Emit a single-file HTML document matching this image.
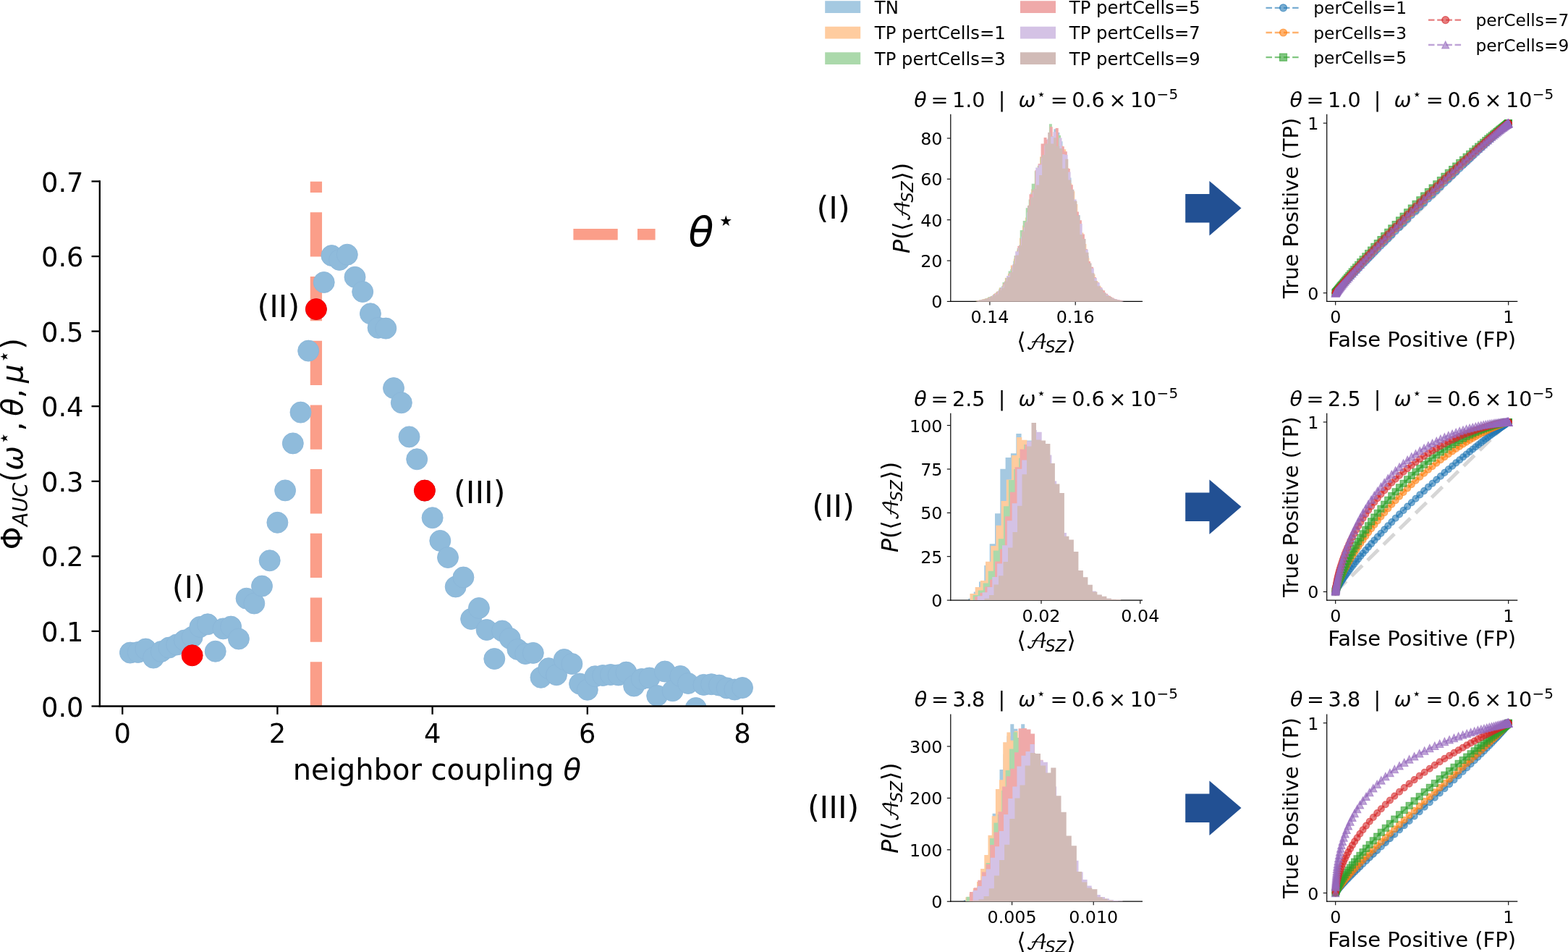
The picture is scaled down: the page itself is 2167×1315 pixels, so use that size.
<!DOCTYPE html><html><head><meta charset="utf-8"><title>fig</title><style>html,body{margin:0;padding:0;background:#fff;overflow:hidden}svg{display:block}</style></head><body><svg width="2167" height="1315" viewBox="0 0 2167 1315" version="1.1"><defs><style type="text/css">*{stroke-linejoin: round; stroke-linecap: butt}</style></defs><g id="figure_1"><g id="patch_1"><path d="M 0 1315  L 2167 1315  L 2167 0  L 0 0  z " style="fill: #ffffff"/></g><g id="axes_1"><g id="patch_2"><path d="M 137.8 975.5  L 1070 975.5  L 1070 250.5  L 137.8 250.5  z " style="fill: #ffffff"/></g><g id="line2d_1"><path d="M 436.9 975.5  L 436.9 250.5  " clip-path="url(#p37e4193a76)" style="fill: none; stroke-dasharray: 61.3,27.4; stroke-dashoffset: 0; stroke: #fb9e89; stroke-width: 16.3"/></g><g id="matplotlib.axis_1"><g id="xtick_1"><g id="line2d_2"><g><path d="M 169.2 975.5 L 169.2 986.8" style="stroke: #000000; stroke-width: 2.3"/></g></g><g id="text_1"><text style="font-size: 36.8px; font-family: 'DejaVu Sans', sans-serif; text-anchor: middle" x="169.2" y="1025.8" transform="rotate(-0 169.2 1025.8)">0</text></g></g><g id="xtick_2"><g id="line2d_3"><g><path d="M 383.4 975.5 L 383.4 986.8" style="stroke: #000000; stroke-width: 2.3"/></g></g><g id="text_2"><text style="font-size: 36.8px; font-family: 'DejaVu Sans', sans-serif; text-anchor: middle" x="383.4" y="1025.8" transform="rotate(-0 383.4 1025.8)">2</text></g></g><g id="xtick_3"><g id="line2d_4"><g><path d="M 597.6 975.5 L 597.6 986.8" style="stroke: #000000; stroke-width: 2.3"/></g></g><g id="text_3"><text style="font-size: 36.8px; font-family: 'DejaVu Sans', sans-serif; text-anchor: middle" x="597.6" y="1025.8" transform="rotate(-0 597.6 1025.8)">4</text></g></g><g id="xtick_4"><g id="line2d_5"><g><path d="M 811.8 975.5 L 811.8 986.8" style="stroke: #000000; stroke-width: 2.3"/></g></g><g id="text_4"><text style="font-size: 36.8px; font-family: 'DejaVu Sans', sans-serif; text-anchor: middle" x="811.8" y="1025.8" transform="rotate(-0 811.8 1025.8)">6</text></g></g><g id="xtick_5"><g id="line2d_6"><g><path d="M 1026 975.5 L 1026 986.8" style="stroke: #000000; stroke-width: 2.3"/></g></g><g id="text_5"><text style="font-size: 36.8px; font-family: 'DejaVu Sans', sans-serif; text-anchor: middle" x="1026" y="1025.8" transform="rotate(-0 1026 1025.8)">8</text></g></g><g id="text_6"><g transform="translate(404.7 1077.7)"><text><tspan x="0" y="-0.3" style="font-size: 40px; font-family: 'DejaVu Sans', sans-serif">n</tspan><tspan x="25.4" y="-0.3" style="font-size: 40px; font-family: 'DejaVu Sans', sans-serif">e</tspan><tspan x="50" y="-0.3" style="font-size: 40px; font-family: 'DejaVu Sans', sans-serif">i</tspan><tspan x="61.1" y="-0.3" style="font-size: 40px; font-family: 'DejaVu Sans', sans-serif">g</tspan><tspan x="86.5" y="-0.3" style="font-size: 40px; font-family: 'DejaVu Sans', sans-serif">h</tspan><tspan x="111.8" y="-0.3" style="font-size: 40px; font-family: 'DejaVu Sans', sans-serif">b</tspan><tspan x="137.2" y="-0.3" style="font-size: 40px; font-family: 'DejaVu Sans', sans-serif">o</tspan><tspan x="161.7" y="-0.3" style="font-size: 40px; font-family: 'DejaVu Sans', sans-serif">r</tspan><tspan x="178.1" y="-0.3" style="font-size: 40px; font-family: 'DejaVu Sans', sans-serif"></tspan><tspan x="190.8" y="-0.3" style="font-size: 40px; font-family: 'DejaVu Sans', sans-serif">c</tspan><tspan x="212.8" y="-0.3" style="font-size: 40px; font-family: 'DejaVu Sans', sans-serif">o</tspan><tspan x="237.3" y="-0.3" style="font-size: 40px; font-family: 'DejaVu Sans', sans-serif">u</tspan><tspan x="262.7" y="-0.3" style="font-size: 40px; font-family: 'DejaVu Sans', sans-serif">p</tspan><tspan x="288" y="-0.3" style="font-size: 40px; font-family: 'DejaVu Sans', sans-serif">l</tspan><tspan x="299.2" y="-0.3" style="font-size: 40px; font-family: 'DejaVu Sans', sans-serif">i</tspan><tspan x="310.3" y="-0.3" style="font-size: 40px; font-family: 'DejaVu Sans', sans-serif">n</tspan><tspan x="335.6" y="-0.3" style="font-size: 40px; font-family: 'DejaVu Sans', sans-serif">g</tspan><tspan x="361" y="-0.3" style="font-size: 40px; font-family: 'DejaVu Sans', sans-serif"></tspan><tspan x="373.7" y="-0.3" style="font-style: oblique; font-size: 40px; font-family: 'DejaVu Sans', sans-serif">θ</tspan></text></g></g></g><g id="matplotlib.axis_2"><g id="ytick_1"><g id="line2d_7"><g><path d="M 137.8 975.5 L 126.5 975.5" style="stroke: #000000; stroke-width: 2.3"/></g></g><g id="text_7"><text style="font-size: 36.8px; font-family: 'DejaVu Sans', sans-serif; text-anchor: end" x="115.5" y="989.5" transform="rotate(-0 115.5 989.5)">0.0</text></g></g><g id="ytick_2"><g id="line2d_8"><g><path d="M 137.8 871.9 L 126.5 871.9" style="stroke: #000000; stroke-width: 2.3"/></g></g><g id="text_8"><text style="font-size: 36.8px; font-family: 'DejaVu Sans', sans-serif; text-anchor: end" x="115.5" y="885.9" transform="rotate(-0 115.5 885.9)">0.1</text></g></g><g id="ytick_3"><g id="line2d_9"><g><path d="M 137.8 768.4 L 126.5 768.4" style="stroke: #000000; stroke-width: 2.3"/></g></g><g id="text_9"><text style="font-size: 36.8px; font-family: 'DejaVu Sans', sans-serif; text-anchor: end" x="115.5" y="782.3" transform="rotate(-0 115.5 782.3)">0.2</text></g></g><g id="ytick_4"><g id="line2d_10"><g><path d="M 137.8 664.8 L 126.5 664.8" style="stroke: #000000; stroke-width: 2.3"/></g></g><g id="text_10"><text style="font-size: 36.8px; font-family: 'DejaVu Sans', sans-serif; text-anchor: end" x="115.5" y="678.8" transform="rotate(-0 115.5 678.8)">0.3</text></g></g><g id="ytick_5"><g id="line2d_11"><g><path d="M 137.8 561.2 L 126.5 561.2" style="stroke: #000000; stroke-width: 2.3"/></g></g><g id="text_11"><text style="font-size: 36.8px; font-family: 'DejaVu Sans', sans-serif; text-anchor: end" x="115.5" y="575.2" transform="rotate(-0 115.5 575.2)">0.4</text></g></g><g id="ytick_6"><g id="line2d_12"><g><path d="M 137.8 457.6 L 126.5 457.6" style="stroke: #000000; stroke-width: 2.3"/></g></g><g id="text_12"><text style="font-size: 36.8px; font-family: 'DejaVu Sans', sans-serif; text-anchor: end" x="115.5" y="471.6" transform="rotate(-0 115.5 471.6)">0.5</text></g></g><g id="ytick_7"><g id="line2d_13"><g><path d="M 137.8 354.1 L 126.5 354.1" style="stroke: #000000; stroke-width: 2.3"/></g></g><g id="text_13"><text style="font-size: 36.8px; font-family: 'DejaVu Sans', sans-serif; text-anchor: end" x="115.5" y="368.1" transform="rotate(-0 115.5 368.1)">0.6</text></g></g><g id="ytick_8"><g id="line2d_14"><g><path d="M 137.8 250.5 L 126.5 250.5" style="stroke: #000000; stroke-width: 2.3"/></g></g><g id="text_14"><text style="font-size: 36.8px; font-family: 'DejaVu Sans', sans-serif; text-anchor: end" x="115.5" y="264.5" transform="rotate(-0 115.5 264.5)">0.7</text></g></g><g id="text_15"><g transform="translate(31.5 759.2) rotate(-90)"><text><tspan x="0" y="-0.5" style="font-size: 40.5px; font-family: 'DejaVu Sans', sans-serif">Φ</tspan><tspan x="93.3" y="-0.5" style="font-size: 40.5px; font-family: 'DejaVu Sans', sans-serif">(</tspan><tspan x="163.7" y="-0.5" style="font-size: 40.5px; font-family: 'DejaVu Sans', sans-serif">,</tspan><tspan x="209.3" y="-0.5" style="font-size: 40.5px; font-family: 'DejaVu Sans', sans-serif">,</tspan><tspan x="276.5" y="-0.5" style="font-size: 40.5px; font-family: 'DejaVu Sans', sans-serif">)</tspan><tspan x="32.3" y="6.2" style="font-style: oblique; font-size: 28.4px; font-family: 'DejaVu Sans', sans-serif">A</tspan><tspan x="51.7" y="6.2" style="font-style: oblique; font-size: 28.4px; font-family: 'DejaVu Sans', sans-serif">U</tspan><tspan x="72.4" y="6.2" style="font-style: oblique; font-size: 28.4px; font-family: 'DejaVu Sans', sans-serif">C</tspan><tspan x="109.1" y="-0.5" style="font-style: oblique; font-size: 40.5px; font-family: 'DejaVu Sans', sans-serif">ω</tspan><tspan x="184.5" y="-0.5" style="font-style: oblique; font-size: 40.5px; font-family: 'DejaVu Sans', sans-serif">θ</tspan><tspan x="230.1" y="-0.5" style="font-style: oblique; font-size: 40.5px; font-family: 'DejaVu Sans', sans-serif">μ</tspan><tspan x="144.9" y="-16.2" style="font-size: 28.4px; font-family: 'DejaVu Sans', sans-serif">⋆</tspan><tspan x="257.6" y="-16.2" style="font-size: 28.4px; font-family: 'DejaVu Sans', sans-serif">⋆</tspan></text></g></g></g><g id="PathCollection_1"><g clip-path="url(#p37e4193a76)"><circle cx="179.9" cy="901.6" r="14.5" style="fill: #8fbbdb; stroke: #8ab6d8; stroke-width: 0.9"/><circle cx="190.6" cy="901" r="14.5" style="fill: #8fbbdb; stroke: #8ab6d8; stroke-width: 0.9"/><circle cx="201.3" cy="896.5" r="14.5" style="fill: #8fbbdb; stroke: #8ab6d8; stroke-width: 0.9"/><circle cx="212" cy="908.6" r="14.5" style="fill: #8fbbdb; stroke: #8ab6d8; stroke-width: 0.9"/><circle cx="222.8" cy="900" r="14.5" style="fill: #8fbbdb; stroke: #8ab6d8; stroke-width: 0.9"/><circle cx="233.5" cy="894.6" r="14.5" style="fill: #8fbbdb; stroke: #8ab6d8; stroke-width: 0.9"/><circle cx="244.2" cy="890.5" r="14.5" style="fill: #8fbbdb; stroke: #8ab6d8; stroke-width: 0.9"/><circle cx="254.9" cy="884.5" r="14.5" style="fill: #8fbbdb; stroke: #8ab6d8; stroke-width: 0.9"/><circle cx="265.6" cy="880" r="14.5" style="fill: #8fbbdb; stroke: #8ab6d8; stroke-width: 0.9"/><circle cx="276.3" cy="866" r="14.5" style="fill: #8fbbdb; stroke: #8ab6d8; stroke-width: 0.9"/><circle cx="287" cy="862.3" r="14.5" style="fill: #8fbbdb; stroke: #8ab6d8; stroke-width: 0.9"/><circle cx="297.7" cy="899.7" r="14.5" style="fill: #8fbbdb; stroke: #8ab6d8; stroke-width: 0.9"/><circle cx="308.4" cy="868.4" r="14.5" style="fill: #8fbbdb; stroke: #8ab6d8; stroke-width: 0.9"/><circle cx="319.1" cy="865.6" r="14.5" style="fill: #8fbbdb; stroke: #8ab6d8; stroke-width: 0.9"/><circle cx="329.9" cy="882.5" r="14.5" style="fill: #8fbbdb; stroke: #8ab6d8; stroke-width: 0.9"/><circle cx="340.6" cy="826.7" r="14.5" style="fill: #8fbbdb; stroke: #8ab6d8; stroke-width: 0.9"/><circle cx="351.3" cy="833.5" r="14.5" style="fill: #8fbbdb; stroke: #8ab6d8; stroke-width: 0.9"/><circle cx="362" cy="809.6" r="14.5" style="fill: #8fbbdb; stroke: #8ab6d8; stroke-width: 0.9"/><circle cx="372.7" cy="774.3" r="14.5" style="fill: #8fbbdb; stroke: #8ab6d8; stroke-width: 0.9"/><circle cx="383.4" cy="721.8" r="14.5" style="fill: #8fbbdb; stroke: #8ab6d8; stroke-width: 0.9"/><circle cx="394.1" cy="677.4" r="14.5" style="fill: #8fbbdb; stroke: #8ab6d8; stroke-width: 0.9"/><circle cx="404.8" cy="612.4" r="14.5" style="fill: #8fbbdb; stroke: #8ab6d8; stroke-width: 0.9"/><circle cx="415.5" cy="569.6" r="14.5" style="fill: #8fbbdb; stroke: #8ab6d8; stroke-width: 0.9"/><circle cx="426.2" cy="484.6" r="14.5" style="fill: #8fbbdb; stroke: #8ab6d8; stroke-width: 0.9"/><circle cx="436.9" cy="427.1" r="14.5" style="fill: #8fbbdb; stroke: #8ab6d8; stroke-width: 0.9"/><circle cx="447.7" cy="390" r="14.5" style="fill: #8fbbdb; stroke: #8ab6d8; stroke-width: 0.9"/><circle cx="458.4" cy="353.1" r="14.5" style="fill: #8fbbdb; stroke: #8ab6d8; stroke-width: 0.9"/><circle cx="469.1" cy="358.9" r="14.5" style="fill: #8fbbdb; stroke: #8ab6d8; stroke-width: 0.9"/><circle cx="479.8" cy="351.7" r="14.5" style="fill: #8fbbdb; stroke: #8ab6d8; stroke-width: 0.9"/><circle cx="490.5" cy="382.8" r="14.5" style="fill: #8fbbdb; stroke: #8ab6d8; stroke-width: 0.9"/><circle cx="501.2" cy="403" r="14.5" style="fill: #8fbbdb; stroke: #8ab6d8; stroke-width: 0.9"/><circle cx="511.9" cy="433.3" r="14.5" style="fill: #8fbbdb; stroke: #8ab6d8; stroke-width: 0.9"/><circle cx="522.6" cy="452.8" r="14.5" style="fill: #8fbbdb; stroke: #8ab6d8; stroke-width: 0.9"/><circle cx="533.3" cy="453.6" r="14.5" style="fill: #8fbbdb; stroke: #8ab6d8; stroke-width: 0.9"/><circle cx="544" cy="536.1" r="14.5" style="fill: #8fbbdb; stroke: #8ab6d8; stroke-width: 0.9"/><circle cx="554.8" cy="556.3" r="14.5" style="fill: #8fbbdb; stroke: #8ab6d8; stroke-width: 0.9"/><circle cx="565.5" cy="603.4" r="14.5" style="fill: #8fbbdb; stroke: #8ab6d8; stroke-width: 0.9"/><circle cx="576.2" cy="634.3" r="14.5" style="fill: #8fbbdb; stroke: #8ab6d8; stroke-width: 0.9"/><circle cx="586.9" cy="677.6" r="14.5" style="fill: #8fbbdb; stroke: #8ab6d8; stroke-width: 0.9"/><circle cx="597.6" cy="715.2" r="14.5" style="fill: #8fbbdb; stroke: #8ab6d8; stroke-width: 0.9"/><circle cx="608.3" cy="746.9" r="14.5" style="fill: #8fbbdb; stroke: #8ab6d8; stroke-width: 0.9"/><circle cx="619" cy="770" r="14.5" style="fill: #8fbbdb; stroke: #8ab6d8; stroke-width: 0.9"/><circle cx="629.7" cy="810.5" r="14.5" style="fill: #8fbbdb; stroke: #8ab6d8; stroke-width: 0.9"/><circle cx="640.4" cy="797.5" r="14.5" style="fill: #8fbbdb; stroke: #8ab6d8; stroke-width: 0.9"/><circle cx="651.1" cy="855" r="14.5" style="fill: #8fbbdb; stroke: #8ab6d8; stroke-width: 0.9"/><circle cx="661.9" cy="840" r="14.5" style="fill: #8fbbdb; stroke: #8ab6d8; stroke-width: 0.9"/><circle cx="672.6" cy="870" r="14.5" style="fill: #8fbbdb; stroke: #8ab6d8; stroke-width: 0.9"/><circle cx="683.3" cy="910" r="14.5" style="fill: #8fbbdb; stroke: #8ab6d8; stroke-width: 0.9"/><circle cx="694" cy="871.5" r="14.5" style="fill: #8fbbdb; stroke: #8ab6d8; stroke-width: 0.9"/><circle cx="704.7" cy="881.8" r="14.5" style="fill: #8fbbdb; stroke: #8ab6d8; stroke-width: 0.9"/><circle cx="715.4" cy="897" r="14.5" style="fill: #8fbbdb; stroke: #8ab6d8; stroke-width: 0.9"/><circle cx="726.1" cy="903" r="14.5" style="fill: #8fbbdb; stroke: #8ab6d8; stroke-width: 0.9"/><circle cx="736.8" cy="901.9" r="14.5" style="fill: #8fbbdb; stroke: #8ab6d8; stroke-width: 0.9"/><circle cx="747.5" cy="935.8" r="14.5" style="fill: #8fbbdb; stroke: #8ab6d8; stroke-width: 0.9"/><circle cx="758.2" cy="923.2" r="14.5" style="fill: #8fbbdb; stroke: #8ab6d8; stroke-width: 0.9"/><circle cx="769" cy="932.2" r="14.5" style="fill: #8fbbdb; stroke: #8ab6d8; stroke-width: 0.9"/><circle cx="779.7" cy="911" r="14.5" style="fill: #8fbbdb; stroke: #8ab6d8; stroke-width: 0.9"/><circle cx="790.4" cy="917" r="14.5" style="fill: #8fbbdb; stroke: #8ab6d8; stroke-width: 0.9"/><circle cx="801.1" cy="944.5" r="14.5" style="fill: #8fbbdb; stroke: #8ab6d8; stroke-width: 0.9"/><circle cx="811.8" cy="952.8" r="14.5" style="fill: #8fbbdb; stroke: #8ab6d8; stroke-width: 0.9"/><circle cx="822.5" cy="934.2" r="14.5" style="fill: #8fbbdb; stroke: #8ab6d8; stroke-width: 0.9"/><circle cx="833.2" cy="933" r="14.5" style="fill: #8fbbdb; stroke: #8ab6d8; stroke-width: 0.9"/><circle cx="843.9" cy="932" r="14.5" style="fill: #8fbbdb; stroke: #8ab6d8; stroke-width: 0.9"/><circle cx="854.6" cy="932.4" r="14.5" style="fill: #8fbbdb; stroke: #8ab6d8; stroke-width: 0.9"/><circle cx="865.4" cy="928.6" r="14.5" style="fill: #8fbbdb; stroke: #8ab6d8; stroke-width: 0.9"/><circle cx="876.1" cy="947.5" r="14.5" style="fill: #8fbbdb; stroke: #8ab6d8; stroke-width: 0.9"/><circle cx="886.8" cy="938" r="14.5" style="fill: #8fbbdb; stroke: #8ab6d8; stroke-width: 0.9"/><circle cx="897.5" cy="936.5" r="14.5" style="fill: #8fbbdb; stroke: #8ab6d8; stroke-width: 0.9"/><circle cx="908.2" cy="961" r="14.5" style="fill: #8fbbdb; stroke: #8ab6d8; stroke-width: 0.9"/><circle cx="918.9" cy="927.5" r="14.5" style="fill: #8fbbdb; stroke: #8ab6d8; stroke-width: 0.9"/><circle cx="929.6" cy="954.2" r="14.5" style="fill: #8fbbdb; stroke: #8ab6d8; stroke-width: 0.9"/><circle cx="940.3" cy="934" r="14.5" style="fill: #8fbbdb; stroke: #8ab6d8; stroke-width: 0.9"/><circle cx="951" cy="943.9" r="14.5" style="fill: #8fbbdb; stroke: #8ab6d8; stroke-width: 0.9"/><circle cx="961.7" cy="978" r="14.5" style="fill: #8fbbdb; stroke: #8ab6d8; stroke-width: 0.9"/><circle cx="972.5" cy="945.9" r="14.5" style="fill: #8fbbdb; stroke: #8ab6d8; stroke-width: 0.9"/><circle cx="983.2" cy="945.2" r="14.5" style="fill: #8fbbdb; stroke: #8ab6d8; stroke-width: 0.9"/><circle cx="993.9" cy="946.6" r="14.5" style="fill: #8fbbdb; stroke: #8ab6d8; stroke-width: 0.9"/><circle cx="1004.6" cy="950.4" r="14.5" style="fill: #8fbbdb; stroke: #8ab6d8; stroke-width: 0.9"/><circle cx="1015.3" cy="952.5" r="14.5" style="fill: #8fbbdb; stroke: #8ab6d8; stroke-width: 0.9"/><circle cx="1026" cy="950" r="14.5" style="fill: #8fbbdb; stroke: #8ab6d8; stroke-width: 0.9"/></g></g><g id="patch_3"><path d="M 137.8 975.5  L 137.8 250.5  " style="fill: none; stroke: #000000; stroke-width: 2.3; stroke-linejoin: miter; stroke-linecap: square"/></g><g id="patch_4"><path d="M 137.8 975.5  L 1070 975.5  " style="fill: none; stroke: #000000; stroke-width: 2.3; stroke-linejoin: miter; stroke-linecap: square"/></g><g id="PathCollection_2"><g clip-path="url(#p37e4193a76)"><circle cx="265.6" cy="905.3" r="14.5" style="fill: #ff0000; stroke: #f00000"/><circle cx="436.9" cy="427.1" r="14.5" style="fill: #ff0000; stroke: #f00000"/><circle cx="586.9" cy="677.6" r="14.5" style="fill: #ff0000; stroke: #f00000"/></g></g></g><g id="axes_2"><g id="patch_5"><path d="M 1313.8 416.4  L 1578.4 416.4  L 1578.4 158.4  L 1313.8 158.4  z " style="fill: #ffffff"/></g><g id="matplotlib.axis_3"><g id="xtick_6"><g id="line2d_15"><g><path d="M 1367.9 416.4 L 1367.9 421.4" style="stroke: #000000; stroke-width: 1.1"/></g></g><g id="text_16"><text style="font-size: 23.8px; font-family: 'DejaVu Sans', sans-serif; text-anchor: middle" x="1367.9" y="445.8" transform="rotate(-0 1367.9 445.8)">0.14</text></g></g><g id="xtick_7"><g id="line2d_16"><g><path d="M 1486.2 416.4 L 1486.2 421.4" style="stroke: #000000; stroke-width: 1.1"/></g></g><g id="text_17"><text style="font-size: 23.8px; font-family: 'DejaVu Sans', sans-serif; text-anchor: middle" x="1486.2" y="445.8" transform="rotate(-0 1486.2 445.8)">0.16</text></g></g><g id="text_18"><g transform="translate(1405.2 482.7)"><text><tspan x="0" y="-0.7" style="font-size: 31.5px; font-family: 'DejaVu Sans', sans-serif">⟨</tspan><tspan x="69.4" y="-0.7" style="font-size: 31.5px; font-family: 'DejaVu Sans', sans-serif">⟩</tspan><tspan x="12.3" y="-0.7" style="font-size: 28.5px; font-family: 'DejaVu Math TeX Gyre', serif">&#x1D49C;</tspan><tspan x="39.4" y="4.5" style="font-style: oblique; font-size: 22.1px; font-family: 'DejaVu Sans', sans-serif">S</tspan><tspan x="53.4" y="4.5" style="font-style: oblique; font-size: 22.1px; font-family: 'DejaVu Sans', sans-serif">Z</tspan></text></g></g></g><g id="matplotlib.axis_4"><g id="ytick_9"><g id="line2d_17"><g><path d="M 1313.8 416.4 L 1308.8 416.4" style="stroke: #000000; stroke-width: 1.1"/></g></g><g id="text_19"><text style="font-size: 23.8px; font-family: 'DejaVu Sans', sans-serif; text-anchor: end" x="1302.5" y="425.4" transform="rotate(-0 1302.5 425.4)">0</text></g></g><g id="ytick_10"><g id="line2d_18"><g><path d="M 1313.8 360.1 L 1308.8 360.1" style="stroke: #000000; stroke-width: 1.1"/></g></g><g id="text_20"><text style="font-size: 23.8px; font-family: 'DejaVu Sans', sans-serif; text-anchor: end" x="1302.5" y="369.1" transform="rotate(-0 1302.5 369.1)">20</text></g></g><g id="ytick_11"><g id="line2d_19"><g><path d="M 1313.8 303.7 L 1308.8 303.7" style="stroke: #000000; stroke-width: 1.1"/></g></g><g id="text_21"><text style="font-size: 23.8px; font-family: 'DejaVu Sans', sans-serif; text-anchor: end" x="1302.5" y="312.7" transform="rotate(-0 1302.5 312.7)">40</text></g></g><g id="ytick_12"><g id="line2d_20"><g><path d="M 1313.8 247.3 L 1308.8 247.3" style="stroke: #000000; stroke-width: 1.1"/></g></g><g id="text_22"><text style="font-size: 23.8px; font-family: 'DejaVu Sans', sans-serif; text-anchor: end" x="1302.5" y="256.4" transform="rotate(-0 1302.5 256.4)">60</text></g></g><g id="ytick_13"><g id="line2d_21"><g><path d="M 1313.8 191 L 1308.8 191" style="stroke: #000000; stroke-width: 1.1"/></g></g><g id="text_23"><text style="font-size: 23.8px; font-family: 'DejaVu Sans', sans-serif; text-anchor: end" x="1302.5" y="200" transform="rotate(-0 1302.5 200)">80</text></g></g><g id="text_24"><g transform="translate(1257.2 350.1) rotate(-90)"><text><tspan x="0" y="-0.7" style="font-style: oblique; font-size: 31.5px; font-family: 'DejaVu Sans', sans-serif">P</tspan><tspan x="19" y="-0.7" style="font-size: 31.5px; font-family: 'DejaVu Sans', sans-serif">(</tspan><tspan x="31.3" y="-0.7" style="font-size: 31.5px; font-family: 'DejaVu Sans', sans-serif">⟨</tspan><tspan x="100.7" y="-0.7" style="font-size: 31.5px; font-family: 'DejaVu Sans', sans-serif">⟩</tspan><tspan x="113" y="-0.7" style="font-size: 31.5px; font-family: 'DejaVu Sans', sans-serif">)</tspan><tspan x="43.6" y="-0.7" style="font-size: 28.5px; font-family: 'DejaVu Math TeX Gyre', serif">&#x1D49C;</tspan><tspan x="70.7" y="4.5" style="font-style: oblique; font-size: 22.1px; font-family: 'DejaVu Sans', sans-serif">S</tspan><tspan x="84.7" y="4.5" style="font-style: oblique; font-size: 22.1px; font-family: 'DejaVu Sans', sans-serif">Z</tspan></text></g></g></g><g id="patch_6"><path d="M 1347.8 416.4  L 1347.8 415.4  L 1351.8 415.4  L 1351.8 414.9  L 1355.8 414.9  L 1355.8 414.2  L 1359.9 414.2  L 1359.9 413.1  L 1363.9 413.1  L 1363.9 411.8  L 1367.9 411.8  L 1367.9 409.8  L 1371.9 409.8  L 1371.9 407  L 1375.9 407  L 1375.9 403.7  L 1380 403.7  L 1380 399.6  L 1384 399.6  L 1384 395.2  L 1388 395.2  L 1388 389.3  L 1392 389.3  L 1392 381.8  L 1396.1 381.8  L 1396.1 371.9  L 1400.1 371.9  L 1400.1 360.5  L 1404.1 360.5  L 1404.1 351  L 1408.1 351  L 1408.1 338.4  L 1412.1 338.4  L 1412.1 317.7  L 1416.2 317.7  L 1416.2 312.3  L 1420.2 312.3  L 1420.2 287.1  L 1424.2 287.1  L 1424.2 266.1  L 1428.2 266.1  L 1428.2 259.4  L 1432.3 259.4  L 1432.3 245.2  L 1436.3 245.2  L 1436.3 228.4  L 1440.3 228.4  L 1440.3 203.2  L 1444.3 203.2  L 1444.3 200.6  L 1448.3 200.6  L 1448.3 211.2  L 1452.4 211.2  L 1452.4 193.1  L 1456.4 193.1  L 1456.4 178.2  L 1460.4 178.2  L 1460.4 183  L 1464.4 183  L 1464.4 195.3  L 1468.5 195.3  L 1468.5 215.9  L 1472.5 215.9  L 1472.5 244.7  L 1476.5 244.7  L 1476.5 245.5  L 1480.5 245.5  L 1480.5 267.1  L 1484.5 267.1  L 1484.5 285  L 1488.6 285  L 1488.6 297  L 1492.6 297  L 1492.6 322.3  L 1496.6 322.3  L 1496.6 339  L 1500.6 339  L 1500.6 353.4  L 1504.7 353.4  L 1504.7 368.7  L 1508.7 368.7  L 1508.7 380.3  L 1512.7 380.3  L 1512.7 389.2  L 1516.7 389.2  L 1516.7 394.8  L 1520.7 394.8  L 1520.7 400.9  L 1524.8 400.9  L 1524.8 405.9  L 1528.8 405.9  L 1528.8 408.5  L 1532.8 408.5  L 1532.8 411.2  L 1536.8 411.2  L 1536.8 413.2  L 1540.9 413.2  L 1540.9 414.1  L 1544.9 414.1  L 1544.9 415  L 1548.9 415  L 1548.9 416.4  z " clip-path="url(#pd0149c3144)" style="fill: #a5c9e1"/></g><g id="patch_7"><path d="M 1313.8 416.4  L 1313.8 158.4  " style="fill: none; stroke: #000000; stroke-width: 1.2; stroke-linejoin: miter; stroke-linecap: square"/></g><g id="patch_8"><path d="M 1313.8 416.4  L 1578.4 416.4  " style="fill: none; stroke: #000000; stroke-width: 1.2; stroke-linejoin: miter; stroke-linecap: square"/></g><g id="patch_9"><path d="M 1348.6 416.4  L 1348.6 415.1  L 1352.6 415.1  L 1352.6 414.4  L 1356.6 414.4  L 1356.6 413.5  L 1360.6 413.5  L 1360.6 412.6  L 1364.6 412.6  L 1364.6 411  L 1368.7 411  L 1368.7 409.1  L 1372.7 409.1  L 1372.7 405.9  L 1376.7 405.9  L 1376.7 402.7  L 1380.7 402.7  L 1380.7 397.6  L 1384.8 397.6  L 1384.8 394.6  L 1388.8 394.6  L 1388.8 383.7  L 1392.8 383.7  L 1392.8 377.9  L 1396.8 377.9  L 1396.8 366.6  L 1400.8 366.6  L 1400.8 357.4  L 1404.9 357.4  L 1404.9 345.7  L 1408.9 345.7  L 1408.9 328.7  L 1412.9 328.7  L 1412.9 311.6  L 1416.9 311.6  L 1416.9 300.4  L 1421 300.4  L 1421 283.6  L 1425 283.6  L 1425 261.3  L 1429 261.3  L 1429 256  L 1433 256  L 1433 246.4  L 1437 246.4  L 1437 216.5  L 1441.1 216.5  L 1441.1 214.3  L 1445.1 214.3  L 1445.1 217.4  L 1449.1 217.4  L 1449.1 200.2  L 1453.1 200.2  L 1453.1 193.4  L 1457.2 193.4  L 1457.2 200.9  L 1461.2 200.9  L 1461.2 208.2  L 1465.2 208.2  L 1465.2 201.5  L 1469.2 201.5  L 1469.2 206.2  L 1473.2 206.2  L 1473.2 231.9  L 1477.3 231.9  L 1477.3 253.3  L 1481.3 253.3  L 1481.3 264.2  L 1485.3 264.2  L 1485.3 282.1  L 1489.3 282.1  L 1489.3 307.1  L 1493.4 307.1  L 1493.4 321.6  L 1497.4 321.6  L 1497.4 337.1  L 1501.4 337.1  L 1501.4 356.2  L 1505.4 356.2  L 1505.4 370.4  L 1509.4 370.4  L 1509.4 379  L 1513.5 379  L 1513.5 388.3  L 1517.5 388.3  L 1517.5 394.8  L 1521.5 394.8  L 1521.5 402.3  L 1525.5 402.3  L 1525.5 406.1  L 1529.6 406.1  L 1529.6 409.3  L 1533.6 409.3  L 1533.6 411.7  L 1537.6 411.7  L 1537.6 413  L 1541.6 413  L 1541.6 414.1  L 1545.6 414.1  L 1545.6 415  L 1549.7 415  L 1549.7 416.4  z " clip-path="url(#pd0149c3144)" style="fill: #ffcc9f"/></g><g id="text_25"><g transform="translate(1263.3 147.8)"><text><tspan x="0" y="-0.1" style="font-style: oblique; font-size: 28.6px; font-family: 'DejaVu Sans', sans-serif">θ</tspan><tspan x="144.2" y="-0.1" style="font-style: oblique; font-size: 28.6px; font-family: 'DejaVu Sans', sans-serif">ω</tspan><tspan x="23.1" y="-0.1" style="font-size: 28.6px; font-family: 'DejaVu Sans', sans-serif">=</tspan><tspan x="52.7" y="-0.1" style="font-size: 28.6px; font-family: 'DejaVu Sans', sans-serif">1</tspan><tspan x="70.9" y="-0.1" style="font-size: 28.6px; font-family: 'DejaVu Sans', sans-serif">.</tspan><tspan x="80" y="-0.1" style="font-size: 28.6px; font-family: 'DejaVu Sans', sans-serif">0</tspan><tspan x="98.2" y="-0.1" style="font-size: 28.6px; font-family: 'DejaVu Sans', sans-serif"></tspan><tspan x="107.3" y="-0.1" style="font-size: 28.6px; font-family: 'DejaVu Sans', sans-serif"></tspan><tspan x="116.4" y="-0.1" style="font-size: 28.6px; font-family: 'DejaVu Sans', sans-serif">|</tspan><tspan x="126" y="-0.1" style="font-size: 28.6px; font-family: 'DejaVu Sans', sans-serif"></tspan><tspan x="135.1" y="-0.1" style="font-size: 28.6px; font-family: 'DejaVu Sans', sans-serif"></tspan><tspan x="188.4" y="-0.1" style="font-size: 28.6px; font-family: 'DejaVu Sans', sans-serif">=</tspan><tspan x="218" y="-0.1" style="font-size: 28.6px; font-family: 'DejaVu Sans', sans-serif">0</tspan><tspan x="236.2" y="-0.1" style="font-size: 28.6px; font-family: 'DejaVu Sans', sans-serif">.</tspan><tspan x="245.3" y="-0.1" style="font-size: 28.6px; font-family: 'DejaVu Sans', sans-serif">6</tspan><tspan x="269.1" y="-0.1" style="font-size: 28.6px; font-family: 'DejaVu Sans', sans-serif">×</tspan><tspan x="298.6" y="-0.1" style="font-size: 28.6px; font-family: 'DejaVu Sans', sans-serif">1</tspan><tspan x="316.8" y="-0.1" style="font-size: 28.6px; font-family: 'DejaVu Sans', sans-serif">0</tspan><tspan x="169.5" y="-11.2" style="font-size: 20px; font-family: 'DejaVu Sans', sans-serif">⋆</tspan><tspan x="335.3" y="-11.2" style="font-size: 20px; font-family: 'DejaVu Sans', sans-serif">−</tspan><tspan x="352.1" y="-11.2" style="font-size: 20px; font-family: 'DejaVu Sans', sans-serif">5</tspan></text></g></g><g id="patch_10"><path d="M 1349.3 416.4  L 1349.3 415.1  L 1353.3 415.1  L 1353.3 414.4  L 1357.4 414.4  L 1357.4 413.5  L 1361.4 413.5  L 1361.4 412.3  L 1365.4 412.3  L 1365.4 410.3  L 1369.4 410.3  L 1369.4 409  L 1373.5 409  L 1373.5 405.9  L 1377.5 405.9  L 1377.5 402.8  L 1381.5 402.8  L 1381.5 397.2  L 1385.5 397.2  L 1385.5 390.1  L 1389.5 390.1  L 1389.5 384  L 1393.6 384  L 1393.6 374.4  L 1397.6 374.4  L 1397.6 369.5  L 1401.6 369.5  L 1401.6 352.9  L 1405.6 352.9  L 1405.6 343.1  L 1409.7 343.1  L 1409.7 317.9  L 1413.7 317.9  L 1413.7 305  L 1417.7 305  L 1417.7 287.2  L 1421.7 287.2  L 1421.7 275.6  L 1425.7 275.6  L 1425.7 253.7  L 1429.8 253.7  L 1429.8 236.2  L 1433.8 236.2  L 1433.8 228.9  L 1437.8 228.9  L 1437.8 216.9  L 1441.8 216.9  L 1441.8 202.1  L 1445.9 202.1  L 1445.9 198.6  L 1449.9 198.6  L 1449.9 171.3  L 1453.9 171.3  L 1453.9 188.3  L 1457.9 188.3  L 1457.9 195.1  L 1461.9 195.1  L 1461.9 186.9  L 1466 186.9  L 1466 220.9  L 1470 220.9  L 1470 213.2  L 1474 213.2  L 1474 243  L 1478 243  L 1478 261.2  L 1482.1 261.2  L 1482.1 285.9  L 1486.1 285.9  L 1486.1 298.3  L 1490.1 298.3  L 1490.1 318  L 1494.1 318  L 1494.1 334.1  L 1498.1 334.1  L 1498.1 352.4  L 1502.2 352.4  L 1502.2 364.6  L 1506.2 364.6  L 1506.2 373.4  L 1510.2 373.4  L 1510.2 385.9  L 1514.2 385.9  L 1514.2 394.8  L 1518.3 394.8  L 1518.3 399.7  L 1522.3 399.7  L 1522.3 405.1  L 1526.3 405.1  L 1526.3 408.3  L 1530.3 408.3  L 1530.3 410.9  L 1534.3 410.9  L 1534.3 412.9  L 1538.4 412.9  L 1538.4 414.3  L 1542.4 414.3  L 1542.4 414.9  L 1546.4 414.9  L 1546.4 415.5  L 1550.4 415.5  L 1550.4 416.4  z " clip-path="url(#pd0149c3144)" style="fill: #abd9ab"/></g><g id="patch_11"><path d="M 1350.1 416.4  L 1350.1 415.1  L 1354.1 415.1  L 1354.1 414.8  L 1358.1 414.8  L 1358.1 413.6  L 1362.2 413.6  L 1362.2 412.6  L 1366.2 412.6  L 1366.2 410.7  L 1370.2 410.7  L 1370.2 408.8  L 1374.2 408.8  L 1374.2 405.2  L 1378.3 405.2  L 1378.3 402.5  L 1382.3 402.5  L 1382.3 398.3  L 1386.3 398.3  L 1386.3 391.6  L 1390.3 391.6  L 1390.3 384.6  L 1394.3 384.6  L 1394.3 377.4  L 1398.4 377.4  L 1398.4 367.4  L 1402.4 367.4  L 1402.4 353.3  L 1406.4 353.3  L 1406.4 340  L 1410.4 340  L 1410.4 329.9  L 1414.5 329.9  L 1414.5 314  L 1418.5 314  L 1418.5 305.6  L 1422.5 305.6  L 1422.5 268.3  L 1426.5 268.3  L 1426.5 263.3  L 1430.5 263.3  L 1430.5 234.9  L 1434.6 234.9  L 1434.6 226.3  L 1438.6 226.3  L 1438.6 198.6  L 1442.6 198.6  L 1442.6 190  L 1446.6 190  L 1446.6 192.8  L 1450.7 192.8  L 1450.7 175.3  L 1454.7 175.3  L 1454.7 198  L 1458.7 198  L 1458.7 177  L 1462.7 177  L 1462.7 210.4  L 1466.7 210.4  L 1466.7 202.3  L 1470.8 202.3  L 1470.8 209.3  L 1474.8 209.3  L 1474.8 232.9  L 1478.8 232.9  L 1478.8 255.3  L 1482.8 255.3  L 1482.8 276.7  L 1486.9 276.7  L 1486.9 292.6  L 1490.9 292.6  L 1490.9 304.3  L 1494.9 304.3  L 1494.9 323.5  L 1498.9 323.5  L 1498.9 344.1  L 1502.9 344.1  L 1502.9 360.9  L 1507 360.9  L 1507 368.7  L 1511 368.7  L 1511 382.9  L 1515 382.9  L 1515 389.9  L 1519 389.9  L 1519 396.9  L 1523.1 396.9  L 1523.1 401.2  L 1527.1 401.2  L 1527.1 405.7  L 1531.1 405.7  L 1531.1 408.8  L 1535.1 408.8  L 1535.1 411.2  L 1539.1 411.2  L 1539.1 413.1  L 1543.2 413.1  L 1543.2 414.1  L 1547.2 414.1  L 1547.2 414.8  L 1551.2 414.8  L 1551.2 416.4  z " clip-path="url(#pd0149c3144)" style="fill: #efa9a9"/></g><g id="patch_12"><path d="M 1350.9 416.4  L 1350.9 415.1  L 1354.9 415.1  L 1354.9 414.6  L 1358.9 414.6  L 1358.9 413.9  L 1362.9 413.9  L 1362.9 413  L 1367 413  L 1367 411  L 1371 411  L 1371 408.3  L 1375 408.3  L 1375 405.9  L 1379 405.9  L 1379 402  L 1383 402  L 1383 396.8  L 1387.1 396.8  L 1387.1 392.9  L 1391.1 392.9  L 1391.1 381.1  L 1395.1 381.1  L 1395.1 377.9  L 1399.1 377.9  L 1399.1 365.5  L 1403.2 365.5  L 1403.2 347.2  L 1407.2 347.2  L 1407.2 342.1  L 1411.2 342.1  L 1411.2 326.8  L 1415.2 326.8  L 1415.2 314  L 1419.2 314  L 1419.2 293.2  L 1423.3 293.2  L 1423.3 291.2  L 1427.3 291.2  L 1427.3 265.5  L 1431.3 265.5  L 1431.3 231.4  L 1435.3 231.4  L 1435.3 227.4  L 1439.4 227.4  L 1439.4 217.7  L 1443.4 217.7  L 1443.4 200.7  L 1447.4 200.7  L 1447.4 191.5  L 1451.4 191.5  L 1451.4 188.7  L 1455.4 188.7  L 1455.4 182.3  L 1459.5 182.3  L 1459.5 207  L 1463.5 207  L 1463.5 190.5  L 1467.5 190.5  L 1467.5 213.1  L 1471.5 213.1  L 1471.5 213.7  L 1475.6 213.7  L 1475.6 237.4  L 1479.6 237.4  L 1479.6 262.9  L 1483.6 262.9  L 1483.6 275.6  L 1487.6 275.6  L 1487.6 300.1  L 1491.6 300.1  L 1491.6 308.9  L 1495.7 308.9  L 1495.7 331.4  L 1499.7 331.4  L 1499.7 344.7  L 1503.7 344.7  L 1503.7 364.2  L 1507.7 364.2  L 1507.7 370.4  L 1511.8 370.4  L 1511.8 384.1  L 1515.8 384.1  L 1515.8 390.4  L 1519.8 390.4  L 1519.8 397.7  L 1523.8 397.7  L 1523.8 404.1  L 1527.8 404.1  L 1527.8 407.1  L 1531.9 407.1  L 1531.9 410.2  L 1535.9 410.2  L 1535.9 412.1  L 1539.9 412.1  L 1539.9 413.4  L 1543.9 413.4  L 1543.9 414.5  L 1548 414.5  L 1548 415.2  L 1552 415.2  L 1552 416.4  z " clip-path="url(#pd0149c3144)" style="fill: #d4c2e5"/></g><g id="patch_13"><path d="M 1351.6 416.4  L 1351.6 415.1  L 1355.7 415.1  L 1355.7 414.5  L 1359.7 414.5  L 1359.7 413.5  L 1363.7 413.5  L 1363.7 412.4  L 1367.7 412.4  L 1367.7 410.5  L 1371.7 410.5  L 1371.7 408.1  L 1375.8 408.1  L 1375.8 406.2  L 1379.8 406.2  L 1379.8 401  L 1383.8 401  L 1383.8 397.4  L 1387.8 397.4  L 1387.8 388.6  L 1391.9 388.6  L 1391.9 382.7  L 1395.9 382.7  L 1395.9 376.1  L 1399.9 376.1  L 1399.9 364.4  L 1403.9 364.4  L 1403.9 352.6  L 1407.9 352.6  L 1407.9 338.9  L 1412 338.9  L 1412 319.7  L 1416 319.7  L 1416 307.2  L 1420 307.2  L 1420 284.1  L 1424 284.1  L 1424 272.5  L 1428.1 272.5  L 1428.1 261  L 1432.1 261  L 1432.1 255.5  L 1436.1 255.5  L 1436.1 241.9  L 1440.1 241.9  L 1440.1 213.9  L 1444.1 213.9  L 1444.1 198.4  L 1448.2 198.4  L 1448.2 182.9  L 1452.2 182.9  L 1452.2 198.6  L 1456.2 198.6  L 1456.2 190.2  L 1460.2 190.2  L 1460.2 201.9  L 1464.3 201.9  L 1464.3 204.9  L 1468.3 204.9  L 1468.3 232.7  L 1472.3 232.7  L 1472.3 219.7  L 1476.3 219.7  L 1476.3 248.5  L 1480.3 248.5  L 1480.3 261.8  L 1484.4 261.8  L 1484.4 277.8  L 1488.4 277.8  L 1488.4 298  L 1492.4 298  L 1492.4 324.1  L 1496.4 324.1  L 1496.4 329.9  L 1500.5 329.9  L 1500.5 348.7  L 1504.5 348.7  L 1504.5 363.4  L 1508.5 363.4  L 1508.5 377.3  L 1512.5 377.3  L 1512.5 388  L 1516.5 388  L 1516.5 395.2  L 1520.6 395.2  L 1520.6 399.8  L 1524.6 399.8  L 1524.6 404.3  L 1528.6 404.3  L 1528.6 408.3  L 1532.6 408.3  L 1532.6 410.1  L 1536.7 410.1  L 1536.7 412.4  L 1540.7 412.4  L 1540.7 413.7  L 1544.7 413.7  L 1544.7 414.7  L 1548.7 414.7  L 1548.7 415.4  L 1552.7 415.4  L 1552.7 416.4  z " clip-path="url(#pd0149c3144)" style="fill: #d1bbb7"/></g></g><g id="axes_3"><g id="patch_14"><path d="M 1313.8 829.1  L 1578.4 829.1  L 1578.4 571.3  L 1313.8 571.3  z " style="fill: #ffffff"/></g><g id="matplotlib.axis_5"><g id="xtick_8"><g id="line2d_22"><g><path d="M 1439 829.1 L 1439 834.1" style="stroke: #000000; stroke-width: 1.1"/></g></g><g id="text_26"><text style="font-size: 23.8px; font-family: 'DejaVu Sans', sans-serif; text-anchor: middle" x="1439" y="858.5" transform="rotate(-0 1439 858.5)">0.02</text></g></g><g id="xtick_9"><g id="line2d_23"><g><path d="M 1575.8 829.1 L 1575.8 834.1" style="stroke: #000000; stroke-width: 1.1"/></g></g><g id="text_27"><text style="font-size: 23.8px; font-family: 'DejaVu Sans', sans-serif; text-anchor: middle" x="1575.8" y="858.5" transform="rotate(-0 1575.8 858.5)">0.04</text></g></g><g id="text_28"><g transform="translate(1405.2 895.4)"><text><tspan x="0" y="-0.7" style="font-size: 31.5px; font-family: 'DejaVu Sans', sans-serif">⟨</tspan><tspan x="69.4" y="-0.7" style="font-size: 31.5px; font-family: 'DejaVu Sans', sans-serif">⟩</tspan><tspan x="12.3" y="-0.7" style="font-size: 28.5px; font-family: 'DejaVu Math TeX Gyre', serif">&#x1D49C;</tspan><tspan x="39.4" y="4.5" style="font-style: oblique; font-size: 22.1px; font-family: 'DejaVu Sans', sans-serif">S</tspan><tspan x="53.4" y="4.5" style="font-style: oblique; font-size: 22.1px; font-family: 'DejaVu Sans', sans-serif">Z</tspan></text></g></g></g><g id="matplotlib.axis_6"><g id="ytick_14"><g id="line2d_24"><g><path d="M 1313.8 829.1 L 1308.8 829.1" style="stroke: #000000; stroke-width: 1.1"/></g></g><g id="text_29"><text style="font-size: 23.8px; font-family: 'DejaVu Sans', sans-serif; text-anchor: end" x="1302.5" y="838.1" transform="rotate(-0 1302.5 838.1)">0</text></g></g><g id="ytick_15"><g id="line2d_25"><g><path d="M 1313.8 768.7 L 1308.8 768.7" style="stroke: #000000; stroke-width: 1.1"/></g></g><g id="text_30"><text style="font-size: 23.8px; font-family: 'DejaVu Sans', sans-serif; text-anchor: end" x="1302.5" y="777.8" transform="rotate(-0 1302.5 777.8)">25</text></g></g><g id="ytick_16"><g id="line2d_26"><g><path d="M 1313.8 708.4 L 1308.8 708.4" style="stroke: #000000; stroke-width: 1.1"/></g></g><g id="text_31"><text style="font-size: 23.8px; font-family: 'DejaVu Sans', sans-serif; text-anchor: end" x="1302.5" y="717.4" transform="rotate(-0 1302.5 717.4)">50</text></g></g><g id="ytick_17"><g id="line2d_27"><g><path d="M 1313.8 648 L 1308.8 648" style="stroke: #000000; stroke-width: 1.1"/></g></g><g id="text_32"><text style="font-size: 23.8px; font-family: 'DejaVu Sans', sans-serif; text-anchor: end" x="1302.5" y="657" transform="rotate(-0 1302.5 657)">75</text></g></g><g id="ytick_18"><g id="line2d_28"><g><path d="M 1313.8 587.6 L 1308.8 587.6" style="stroke: #000000; stroke-width: 1.1"/></g></g><g id="text_33"><text style="font-size: 23.8px; font-family: 'DejaVu Sans', sans-serif; text-anchor: end" x="1302.5" y="596.6" transform="rotate(-0 1302.5 596.6)">100</text></g></g><g id="text_34"><g transform="translate(1242 762.9) rotate(-90)"><text><tspan x="0" y="-0.7" style="font-style: oblique; font-size: 31.5px; font-family: 'DejaVu Sans', sans-serif">P</tspan><tspan x="19" y="-0.7" style="font-size: 31.5px; font-family: 'DejaVu Sans', sans-serif">(</tspan><tspan x="31.3" y="-0.7" style="font-size: 31.5px; font-family: 'DejaVu Sans', sans-serif">⟨</tspan><tspan x="100.7" y="-0.7" style="font-size: 31.5px; font-family: 'DejaVu Sans', sans-serif">⟩</tspan><tspan x="113" y="-0.7" style="font-size: 31.5px; font-family: 'DejaVu Sans', sans-serif">)</tspan><tspan x="43.6" y="-0.7" style="font-size: 28.5px; font-family: 'DejaVu Math TeX Gyre', serif">&#x1D49C;</tspan><tspan x="70.7" y="4.5" style="font-style: oblique; font-size: 22.1px; font-family: 'DejaVu Sans', sans-serif">S</tspan><tspan x="84.7" y="4.5" style="font-style: oblique; font-size: 22.1px; font-family: 'DejaVu Sans', sans-serif">Z</tspan></text></g></g></g><g id="patch_15"><path d="M 1338.4 829.1  L 1338.4 826.4  L 1345.7 826.4  L 1345.7 817.5  L 1353 817.5  L 1353 803.5  L 1360.3 803.5  L 1360.3 781  L 1367.7 781  L 1367.7 751.3  L 1375 751.3  L 1375 709.3  L 1382.3 709.3  L 1382.3 647.7  L 1389.6 647.7  L 1389.6 632  L 1396.9 632  L 1396.9 626.2  L 1404.3 626.2  L 1404.3 599  L 1411.6 599  L 1411.6 616.6  L 1418.9 616.6  L 1418.9 608.6  L 1426.2 608.6  L 1426.2 634.6  L 1433.5 634.6  L 1433.5 662.6  L 1440.8 662.6  L 1440.8 686.3  L 1448.2 686.3  L 1448.2 716.4  L 1455.5 716.4  L 1455.5 745.7  L 1462.8 745.7  L 1462.8 775  L 1470.1 775  L 1470.1 795.8  L 1477.4 795.8  L 1477.4 809.5  L 1484.8 809.5  L 1484.8 817.5  L 1492.1 817.5  L 1492.1 822.9  L 1499.4 822.9  L 1499.4 826.2  L 1506.7 826.2  L 1506.7 827.9  L 1514 827.9  L 1514 828.6  L 1521.4 828.6  L 1521.4 828.9  L 1528.7 828.9  L 1528.7 829  L 1536 829  L 1536 829.1  L 1543.3 829.1  L 1543.3 829.1  z " clip-path="url(#p14b5fbfbce)" style="fill: #a5c9e1"/></g><g id="patch_16"><path d="M 1313.8 829.1  L 1313.8 571.3  " style="fill: none; stroke: #000000; stroke-width: 1.2; stroke-linejoin: miter; stroke-linecap: square"/></g><g id="patch_17"><path d="M 1313.8 829.1  L 1578.4 829.1  " style="fill: none; stroke: #000000; stroke-width: 1.2; stroke-linejoin: miter; stroke-linecap: square"/></g><g id="patch_18"><path d="M 1340.5 829.1  L 1340.5 820.1  L 1347.7 820.1  L 1347.7 811  L 1354.9 811  L 1354.9 802  L 1362 802  L 1362 775.8  L 1369.2 775.8  L 1369.2 753.9  L 1376.4 753.9  L 1376.4 725.8  L 1383.6 725.8  L 1383.6 692  L 1390.8 692  L 1390.8 662.4  L 1398 662.4  L 1398 629  L 1405.1 629  L 1405.1 604  L 1412.3 604  L 1412.3 607.8  L 1419.5 607.8  L 1419.5 621.2  L 1426.7 621.2  L 1426.7 666.4  L 1433.9 666.4  L 1433.9 692.9  L 1441.1 692.9  L 1441.1 704.3  L 1448.2 704.3  L 1448.2 739.5  L 1455.4 739.5  L 1455.4 763.2  L 1462.6 763.2  L 1462.6 787.8  L 1469.8 787.8  L 1469.8 806.3  L 1477 806.3  L 1477 814.2  L 1484.1 814.2  L 1484.1 821.2  L 1491.3 821.2  L 1491.3 825.1  L 1498.5 825.1  L 1498.5 827.3  L 1505.7 827.3  L 1505.7 828.2  L 1512.9 828.2  L 1512.9 829.1  L 1520.1 829.1  L 1520.1 829.1  L 1527.2 829.1  L 1527.2 829.1  L 1534.4 829.1  L 1534.4 829.1  L 1541.6 829.1  L 1541.6 829.1  z " clip-path="url(#p14b5fbfbce)" style="fill: #ffcc9f"/></g><g id="text_35"><g transform="translate(1263.3 560.7)"><text><tspan x="0" y="-0.1" style="font-style: oblique; font-size: 28.6px; font-family: 'DejaVu Sans', sans-serif">θ</tspan><tspan x="144.2" y="-0.1" style="font-style: oblique; font-size: 28.6px; font-family: 'DejaVu Sans', sans-serif">ω</tspan><tspan x="23.1" y="-0.1" style="font-size: 28.6px; font-family: 'DejaVu Sans', sans-serif">=</tspan><tspan x="52.7" y="-0.1" style="font-size: 28.6px; font-family: 'DejaVu Sans', sans-serif">2</tspan><tspan x="70.9" y="-0.1" style="font-size: 28.6px; font-family: 'DejaVu Sans', sans-serif">.</tspan><tspan x="80" y="-0.1" style="font-size: 28.6px; font-family: 'DejaVu Sans', sans-serif">5</tspan><tspan x="98.2" y="-0.1" style="font-size: 28.6px; font-family: 'DejaVu Sans', sans-serif"></tspan><tspan x="107.3" y="-0.1" style="font-size: 28.6px; font-family: 'DejaVu Sans', sans-serif"></tspan><tspan x="116.4" y="-0.1" style="font-size: 28.6px; font-family: 'DejaVu Sans', sans-serif">|</tspan><tspan x="126" y="-0.1" style="font-size: 28.6px; font-family: 'DejaVu Sans', sans-serif"></tspan><tspan x="135.1" y="-0.1" style="font-size: 28.6px; font-family: 'DejaVu Sans', sans-serif"></tspan><tspan x="188.4" y="-0.1" style="font-size: 28.6px; font-family: 'DejaVu Sans', sans-serif">=</tspan><tspan x="218" y="-0.1" style="font-size: 28.6px; font-family: 'DejaVu Sans', sans-serif">0</tspan><tspan x="236.2" y="-0.1" style="font-size: 28.6px; font-family: 'DejaVu Sans', sans-serif">.</tspan><tspan x="245.3" y="-0.1" style="font-size: 28.6px; font-family: 'DejaVu Sans', sans-serif">6</tspan><tspan x="269.1" y="-0.1" style="font-size: 28.6px; font-family: 'DejaVu Sans', sans-serif">×</tspan><tspan x="298.6" y="-0.1" style="font-size: 28.6px; font-family: 'DejaVu Sans', sans-serif">1</tspan><tspan x="316.8" y="-0.1" style="font-size: 28.6px; font-family: 'DejaVu Sans', sans-serif">0</tspan><tspan x="169.5" y="-11.2" style="font-size: 20px; font-family: 'DejaVu Sans', sans-serif">⋆</tspan><tspan x="335.3" y="-11.2" style="font-size: 20px; font-family: 'DejaVu Sans', sans-serif">−</tspan><tspan x="352.1" y="-11.2" style="font-size: 20px; font-family: 'DejaVu Sans', sans-serif">5</tspan></text></g></g><g id="patch_19"><path d="M 1344.6 829.1  L 1344.6 821.9  L 1351.7 821.9  L 1351.7 815.5  L 1358.7 815.5  L 1358.7 805.4  L 1365.7 805.4  L 1365.7 788.7  L 1372.8 788.7  L 1372.8 760.4  L 1379.8 760.4  L 1379.8 744.3  L 1386.9 744.3  L 1386.9 699.2  L 1393.9 699.2  L 1393.9 662.9  L 1401 662.9  L 1401 648  L 1408 648  L 1408 632.8  L 1415.1 632.8  L 1415.1 614  L 1422.1 614  L 1422.1 612.4  L 1429.2 612.4  L 1429.2 620.8  L 1436.2 620.8  L 1436.2 658  L 1443.2 658  L 1443.2 683.2  L 1450.3 683.2  L 1450.3 726  L 1457.3 726  L 1457.3 754.5  L 1464.4 754.5  L 1464.4 779.2  L 1471.4 779.2  L 1471.4 795  L 1478.5 795  L 1478.5 806.8  L 1485.5 806.8  L 1485.5 815.5  L 1492.6 815.5  L 1492.6 822  L 1499.6 822  L 1499.6 824.9  L 1506.6 824.9  L 1506.6 827.1  L 1513.7 827.1  L 1513.7 828.2  L 1520.7 828.2  L 1520.7 829.1  L 1527.8 829.1  L 1527.8 829.1  L 1534.8 829.1  L 1534.8 829.1  L 1541.9 829.1  L 1541.9 829.1  z " clip-path="url(#p14b5fbfbce)" style="fill: #abd9ab"/></g><g id="patch_20"><path d="M 1347.3 829.1  L 1347.3 823.9  L 1354.3 823.9  L 1354.3 818.9  L 1361.2 818.9  L 1361.2 810.4  L 1368.1 810.4  L 1368.1 800.4  L 1375 800.4  L 1375 775.5  L 1381.9 775.5  L 1381.9 758.5  L 1388.8 758.5  L 1388.8 713.2  L 1395.7 713.2  L 1395.7 679.8  L 1402.6 679.8  L 1402.6 645.2  L 1409.5 645.2  L 1409.5 620.5  L 1416.4 620.5  L 1416.4 614.1  L 1423.3 614.1  L 1423.3 624.7  L 1430.2 624.7  L 1430.2 634.1  L 1437.2 634.1  L 1437.2 637.6  L 1444.1 637.6  L 1444.1 681  L 1451 681  L 1451 706  L 1457.9 706  L 1457.9 735.7  L 1464.8 735.7  L 1464.8 759.1  L 1471.7 759.1  L 1471.7 779.1  L 1478.6 779.1  L 1478.6 794.5  L 1485.5 794.5  L 1485.5 807.5  L 1492.4 807.5  L 1492.4 815.9  L 1499.3 815.9  L 1499.3 821.5  L 1506.2 821.5  L 1506.2 824.7  L 1513.1 824.7  L 1513.1 827  L 1520.1 827  L 1520.1 827.9  L 1527 827.9  L 1527 829.1  L 1533.9 829.1  L 1533.9 829.1  L 1540.8 829.1  L 1540.8 829.1  z " clip-path="url(#p14b5fbfbce)" style="fill: #efa9a9"/></g><g id="patch_21"><path d="M 1350.8 829.1  L 1350.8 823.3  L 1357.6 823.3  L 1357.6 818.3  L 1364.4 818.3  L 1364.4 810.9  L 1371.3 810.9  L 1371.3 797.1  L 1378.1 797.1  L 1378.1 778.5  L 1385 778.5  L 1385 753.3  L 1391.8 753.3  L 1391.8 719.3  L 1398.6 719.3  L 1398.6 695.2  L 1405.5 695.2  L 1405.5 647.8  L 1412.3 647.8  L 1412.3 635.5  L 1419.2 635.5  L 1419.2 609.4  L 1426 609.4  L 1426 594.1  L 1432.8 594.1  L 1432.8 596.8  L 1439.7 596.8  L 1439.7 627  L 1446.5 627  L 1446.5 628.5  L 1453.4 628.5  L 1453.4 664.5  L 1460.2 664.5  L 1460.2 699.3  L 1467 699.3  L 1467 736.1  L 1473.9 736.1  L 1473.9 749  L 1480.7 749  L 1480.7 766.9  L 1487.6 766.9  L 1487.6 788.1  L 1494.4 788.1  L 1494.4 799  L 1501.2 799  L 1501.2 811.2  L 1508.1 811.2  L 1508.1 816.4  L 1514.9 816.4  L 1514.9 821.7  L 1521.8 821.7  L 1521.8 824.6  L 1528.6 824.6  L 1528.6 826.8  L 1535.4 826.8  L 1535.4 827.9  L 1542.3 827.9  L 1542.3 828.5  L 1549.1 828.5  L 1549.1 829.1  z " clip-path="url(#p14b5fbfbce)" style="fill: #d4c2e5"/></g><g id="patch_22"><path d="M 1360.5 829.1  L 1360.5 826.7  L 1367 826.7  L 1367 821.9  L 1373.5 821.9  L 1373.5 807.4  L 1380 807.4  L 1380 795.3  L 1386.5 795.3  L 1386.5 776  L 1393 776  L 1393 756.6  L 1399.5 756.6  L 1399.5 734.9  L 1406 734.9  L 1406 698.7  L 1412.5 698.7  L 1412.5 655.2  L 1419 655.2  L 1419 616.6  L 1425.5 616.6  L 1425.5 584  L 1432 584  L 1432 607.6  L 1438.5 607.6  L 1438.5 608.6  L 1445 608.6  L 1445 613  L 1451.4 613  L 1451.4 640  L 1457.9 640  L 1457.9 668.5  L 1464.4 668.5  L 1464.4 681.1  L 1470.9 681.1  L 1470.9 740.7  L 1477.4 740.7  L 1477.4 745.5  L 1483.9 745.5  L 1483.9 762  L 1490.4 762  L 1490.4 788  L 1496.9 788  L 1496.9 797.2  L 1503.4 797.2  L 1503.4 807.8  L 1509.9 807.8  L 1509.9 817.5  L 1516.4 817.5  L 1516.4 821.4  L 1522.9 821.4  L 1522.9 823.8  L 1529.4 823.8  L 1529.4 826.7  L 1535.9 826.7  L 1535.9 827.7  L 1542.4 827.7  L 1542.4 828.1  L 1548.9 828.1  L 1548.9 829.1  z " clip-path="url(#p14b5fbfbce)" style="fill: #d1bbb7"/></g></g><g id="axes_4"><g id="patch_23"><path d="M 1313.8 1245.2  L 1578.4 1245.2  L 1578.4 987  L 1313.8 987  z " style="fill: #ffffff"/></g><g id="matplotlib.axis_7"><g id="xtick_10"><g id="line2d_29"><g><path d="M 1398.6 1245.2 L 1398.6 1250.2" style="stroke: #000000; stroke-width: 1.1"/></g></g><g id="text_36"><text style="font-size: 23.8px; font-family: 'DejaVu Sans', sans-serif; text-anchor: middle" x="1398.6" y="1274.6" transform="rotate(-0 1398.6 1274.6)">0.005</text></g></g><g id="xtick_11"><g id="line2d_30"><g><path d="M 1511.2 1245.2 L 1511.2 1250.2" style="stroke: #000000; stroke-width: 1.1"/></g></g><g id="text_37"><text style="font-size: 23.8px; font-family: 'DejaVu Sans', sans-serif; text-anchor: middle" x="1511.2" y="1274.6" transform="rotate(-0 1511.2 1274.6)">0.010</text></g></g><g id="text_38"><g transform="translate(1405.2 1311.5)"><text><tspan x="0" y="-0.7" style="font-size: 31.5px; font-family: 'DejaVu Sans', sans-serif">⟨</tspan><tspan x="69.4" y="-0.7" style="font-size: 31.5px; font-family: 'DejaVu Sans', sans-serif">⟩</tspan><tspan x="12.3" y="-0.7" style="font-size: 28.5px; font-family: 'DejaVu Math TeX Gyre', serif">&#x1D49C;</tspan><tspan x="39.4" y="4.5" style="font-style: oblique; font-size: 22.1px; font-family: 'DejaVu Sans', sans-serif">S</tspan><tspan x="53.4" y="4.5" style="font-style: oblique; font-size: 22.1px; font-family: 'DejaVu Sans', sans-serif">Z</tspan></text></g></g></g><g id="matplotlib.axis_8"><g id="ytick_19"><g id="line2d_31"><g><path d="M 1313.8 1245.2 L 1308.8 1245.2" style="stroke: #000000; stroke-width: 1.1"/></g></g><g id="text_39"><text style="font-size: 23.8px; font-family: 'DejaVu Sans', sans-serif; text-anchor: end" x="1302.5" y="1254.2" transform="rotate(-0 1302.5 1254.2)">0</text></g></g><g id="ytick_20"><g id="line2d_32"><g><path d="M 1313.8 1173.8 L 1308.8 1173.8" style="stroke: #000000; stroke-width: 1.1"/></g></g><g id="text_40"><text style="font-size: 23.8px; font-family: 'DejaVu Sans', sans-serif; text-anchor: end" x="1302.5" y="1182.8" transform="rotate(-0 1302.5 1182.8)">100</text></g></g><g id="ytick_21"><g id="line2d_33"><g><path d="M 1313.8 1102.4 L 1308.8 1102.4" style="stroke: #000000; stroke-width: 1.1"/></g></g><g id="text_41"><text style="font-size: 23.8px; font-family: 'DejaVu Sans', sans-serif; text-anchor: end" x="1302.5" y="1111.4" transform="rotate(-0 1302.5 1111.4)">200</text></g></g><g id="ytick_22"><g id="line2d_34"><g><path d="M 1313.8 1031 L 1308.8 1031" style="stroke: #000000; stroke-width: 1.1"/></g></g><g id="text_42"><text style="font-size: 23.8px; font-family: 'DejaVu Sans', sans-serif; text-anchor: end" x="1302.5" y="1040" transform="rotate(-0 1302.5 1040)">300</text></g></g><g id="text_43"><g transform="translate(1242 1178.8) rotate(-90)"><text><tspan x="0" y="-0.7" style="font-style: oblique; font-size: 31.5px; font-family: 'DejaVu Sans', sans-serif">P</tspan><tspan x="19" y="-0.7" style="font-size: 31.5px; font-family: 'DejaVu Sans', sans-serif">(</tspan><tspan x="31.3" y="-0.7" style="font-size: 31.5px; font-family: 'DejaVu Sans', sans-serif">⟨</tspan><tspan x="100.7" y="-0.7" style="font-size: 31.5px; font-family: 'DejaVu Sans', sans-serif">⟩</tspan><tspan x="113" y="-0.7" style="font-size: 31.5px; font-family: 'DejaVu Sans', sans-serif">)</tspan><tspan x="43.6" y="-0.7" style="font-size: 28.5px; font-family: 'DejaVu Math TeX Gyre', serif">&#x1D49C;</tspan><tspan x="70.7" y="4.5" style="font-style: oblique; font-size: 22.1px; font-family: 'DejaVu Sans', sans-serif">S</tspan><tspan x="84.7" y="4.5" style="font-style: oblique; font-size: 22.1px; font-family: 'DejaVu Sans', sans-serif">Z</tspan></text></g></g></g><g id="patch_24"><path d="M 1331.9 1245.2  L 1331.9 1243.1  L 1336.9 1243.1  L 1336.9 1241.6  L 1341.8 1241.6  L 1341.8 1238.8  L 1346.8 1238.8  L 1346.8 1234.5  L 1351.8 1234.5  L 1351.8 1223.8  L 1356.7 1223.8  L 1356.7 1205.9  L 1361.7 1205.9  L 1361.7 1184.5  L 1366.6 1184.5  L 1366.6 1156  L 1371.6 1156  L 1371.6 1123.8  L 1376.5 1123.8  L 1376.5 1091.7  L 1381.5 1091.7  L 1381.5 1063.1  L 1386.4 1063.1  L 1386.4 1041.7  L 1391.4 1041.7  L 1391.4 1016.7  L 1396.3 1016.7  L 1396.3 1000.3  L 1401.3 1000.3  L 1401.3 1006.7  L 1406.3 1006.7  L 1406.3 1020.3  L 1411.2 1020.3  L 1411.2 1000.3  L 1416.2 1000.3  L 1416.2 1031  L 1421.1 1031  L 1421.1 1052.4  L 1426.1 1052.4  L 1426.1 1081  L 1431 1081  L 1431 1109.5  L 1436 1109.5  L 1436 1138.1  L 1440.9 1138.1  L 1440.9 1166.7  L 1445.9 1166.7  L 1445.9 1188.1  L 1450.8 1188.1  L 1450.8 1208.1  L 1455.8 1208.1  L 1455.8 1221.6  L 1460.8 1221.6  L 1460.8 1230.9  L 1465.7 1230.9  L 1465.7 1238.1  L 1470.7 1238.1  L 1470.7 1241.6  L 1475.6 1241.6  L 1475.6 1243.8  L 1480.6 1243.8  L 1480.6 1245.2  z " clip-path="url(#p393ffa5552)" style="fill: #a5c9e1"/></g><g id="patch_25"><path d="M 1313.8 1245.2  L 1313.8 987  " style="fill: none; stroke: #000000; stroke-width: 1.2; stroke-linejoin: miter; stroke-linecap: square"/></g><g id="patch_26"><path d="M 1313.8 1245.2  L 1578.4 1245.2  " style="fill: none; stroke: #000000; stroke-width: 1.2; stroke-linejoin: miter; stroke-linecap: square"/></g><g id="patch_27"><path d="M 1334.4 1245.2  L 1334.4 1239.3  L 1339.6 1239.3  L 1339.6 1234.5  L 1344.8 1234.5  L 1344.8 1226.9  L 1350 1226.9  L 1350 1218.1  L 1355.1 1218.1  L 1355.1 1199.9  L 1360.3 1199.9  L 1360.3 1181  L 1365.5 1181  L 1365.5 1153.7  L 1370.7 1153.7  L 1370.7 1127.2  L 1375.9 1127.2  L 1375.9 1089.9  L 1381 1089.9  L 1381 1077.2  L 1386.2 1077.2  L 1386.2 1025.3  L 1391.4 1025.3  L 1391.4 1011.5  L 1396.6 1011.5  L 1396.6 1022.8  L 1401.8 1022.8  L 1401.8 1009.7  L 1406.9 1009.7  L 1406.9 1022  L 1412.1 1022  L 1412.1 1061.2  L 1417.3 1061.2  L 1417.3 1060.4  L 1422.5 1060.4  L 1422.5 1095.8  L 1427.7 1095.8  L 1427.7 1119.5  L 1432.8 1119.5  L 1432.8 1146.8  L 1438 1146.8  L 1438 1168.9  L 1443.2 1168.9  L 1443.2 1187.3  L 1448.4 1187.3  L 1448.4 1203.8  L 1453.5 1203.8  L 1453.5 1219.1  L 1458.7 1219.1  L 1458.7 1226.6  L 1463.9 1226.6  L 1463.9 1234  L 1469.1 1234  L 1469.1 1238.3  L 1474.3 1238.3  L 1474.3 1240.9  L 1479.4 1240.9  L 1479.4 1242.6  L 1484.6 1242.6  L 1484.6 1243.8  L 1489.8 1243.8  L 1489.8 1244.5  L 1495 1244.5  L 1495 1244.8  L 1500.2 1244.8  L 1500.2 1245  L 1505.3 1245  L 1505.3 1245.2  L 1510.5 1245.2  L 1510.5 1245.2  z " clip-path="url(#p393ffa5552)" style="fill: #ffcc9f"/></g><g id="text_44"><g transform="translate(1263.8 976.4)"><text><tspan x="0" y="-0.1" style="font-style: oblique; font-size: 28.6px; font-family: 'DejaVu Sans', sans-serif">θ</tspan><tspan x="143.5" y="-0.1" style="font-style: oblique; font-size: 28.6px; font-family: 'DejaVu Sans', sans-serif">ω</tspan><tspan x="23.1" y="-0.1" style="font-size: 28.6px; font-family: 'DejaVu Sans', sans-serif">=</tspan><tspan x="52.7" y="-0.1" style="font-size: 28.6px; font-family: 'DejaVu Sans', sans-serif">3</tspan><tspan x="70.9" y="-0.1" style="font-size: 28.6px; font-family: 'DejaVu Sans', sans-serif">.</tspan><tspan x="79.2" y="-0.1" style="font-size: 28.6px; font-family: 'DejaVu Sans', sans-serif">8</tspan><tspan x="97.4" y="-0.1" style="font-size: 28.6px; font-family: 'DejaVu Sans', sans-serif"></tspan><tspan x="106.5" y="-0.1" style="font-size: 28.6px; font-family: 'DejaVu Sans', sans-serif"></tspan><tspan x="115.6" y="-0.1" style="font-size: 28.6px; font-family: 'DejaVu Sans', sans-serif">|</tspan><tspan x="125.3" y="-0.1" style="font-size: 28.6px; font-family: 'DejaVu Sans', sans-serif"></tspan><tspan x="134.4" y="-0.1" style="font-size: 28.6px; font-family: 'DejaVu Sans', sans-serif"></tspan><tspan x="187.6" y="-0.1" style="font-size: 28.6px; font-family: 'DejaVu Sans', sans-serif">=</tspan><tspan x="217.2" y="-0.1" style="font-size: 28.6px; font-family: 'DejaVu Sans', sans-serif">0</tspan><tspan x="235.4" y="-0.1" style="font-size: 28.6px; font-family: 'DejaVu Sans', sans-serif">.</tspan><tspan x="244.5" y="-0.1" style="font-size: 28.6px; font-family: 'DejaVu Sans', sans-serif">6</tspan><tspan x="268.3" y="-0.1" style="font-size: 28.6px; font-family: 'DejaVu Sans', sans-serif">×</tspan><tspan x="297.9" y="-0.1" style="font-size: 28.6px; font-family: 'DejaVu Sans', sans-serif">1</tspan><tspan x="316.1" y="-0.1" style="font-size: 28.6px; font-family: 'DejaVu Sans', sans-serif">0</tspan><tspan x="168.7" y="-11.2" style="font-size: 20px; font-family: 'DejaVu Sans', sans-serif">⋆</tspan><tspan x="334.6" y="-11.2" style="font-size: 20px; font-family: 'DejaVu Sans', sans-serif">−</tspan><tspan x="351.4" y="-11.2" style="font-size: 20px; font-family: 'DejaVu Sans', sans-serif">5</tspan></text></g></g><g id="patch_28"><path d="M 1335.5 1245.2  L 1335.5 1238.8  L 1340.9 1238.8  L 1340.9 1234.2  L 1346.4 1234.2  L 1346.4 1227.9  L 1351.8 1227.9  L 1351.8 1217.2  L 1357.2 1217.2  L 1357.2 1205.8  L 1362.6 1205.8  L 1362.6 1192  L 1368 1192  L 1368 1157.9  L 1373.4 1157.9  L 1373.4 1136.5  L 1378.8 1136.5  L 1378.8 1125.1  L 1384.2 1125.1  L 1384.2 1092  L 1389.6 1092  L 1389.6 1064  L 1395 1064  L 1395 1034.6  L 1400.4 1034.6  L 1400.4 1011.2  L 1405.8 1011.2  L 1405.8 1019.1  L 1411.2 1019.1  L 1411.2 1032.3  L 1416.6 1032.3  L 1416.6 1034.8  L 1422 1034.8  L 1422 1059.5  L 1427.4 1059.5  L 1427.4 1078  L 1432.8 1078  L 1432.8 1108.6  L 1438.2 1108.6  L 1438.2 1135.7  L 1443.6 1135.7  L 1443.6 1146.4  L 1449 1146.4  L 1449 1174.9  L 1454.4 1174.9  L 1454.4 1191.7  L 1459.9 1191.7  L 1459.9 1208.1  L 1465.3 1208.1  L 1465.3 1219.3  L 1470.7 1219.3  L 1470.7 1227.6  L 1476.1 1227.6  L 1476.1 1233.2  L 1481.5 1233.2  L 1481.5 1237.5  L 1486.9 1237.5  L 1486.9 1240.7  L 1492.3 1240.7  L 1492.3 1242.7  L 1497.7 1242.7  L 1497.7 1243.5  L 1503.1 1243.5  L 1503.1 1244.4  L 1508.5 1244.4  L 1508.5 1244.8  L 1513.9 1244.8  L 1513.9 1245  L 1519.3 1245  L 1519.3 1245.2  z " clip-path="url(#p393ffa5552)" style="fill: #abd9ab"/></g><g id="patch_29"><path d="M 1340 1245.2  L 1340 1232.1  L 1345.7 1232.1  L 1345.7 1226.2  L 1351.3 1226.2  L 1351.3 1215.8  L 1356.9 1215.8  L 1356.9 1204.5  L 1362.6 1204.5  L 1362.6 1193.7  L 1368.2 1193.7  L 1368.2 1167  L 1373.8 1167  L 1373.8 1149.6  L 1379.5 1149.6  L 1379.5 1121.3  L 1385.1 1121.3  L 1385.1 1086.4  L 1390.7 1086.4  L 1390.7 1072.3  L 1396.3 1072.3  L 1396.3 1061.8  L 1402 1061.8  L 1402 1039.2  L 1407.6 1039.2  L 1407.6 1006.3  L 1413.2 1006.3  L 1413.2 1006  L 1418.9 1006  L 1418.9 1007.4  L 1424.5 1007.4  L 1424.5 1013.6  L 1430.1 1013.6  L 1430.1 1044.2  L 1435.8 1044.2  L 1435.8 1049.7  L 1441.4 1049.7  L 1441.4 1069.8  L 1447 1069.8  L 1447 1105.4  L 1452.6 1105.4  L 1452.6 1128  L 1458.3 1128  L 1458.3 1146.5  L 1463.9 1146.5  L 1463.9 1175.6  L 1469.5 1175.6  L 1469.5 1191.8  L 1475.2 1191.8  L 1475.2 1202.6  L 1480.8 1202.6  L 1480.8 1216.5  L 1486.4 1216.5  L 1486.4 1227.1  L 1492.1 1227.1  L 1492.1 1232.3  L 1497.7 1232.3  L 1497.7 1236.2  L 1503.3 1236.2  L 1503.3 1240.5  L 1508.9 1240.5  L 1508.9 1242  L 1514.6 1242  L 1514.6 1243.3  L 1520.2 1243.3  L 1520.2 1244.2  L 1525.8 1244.2  L 1525.8 1244.6  L 1531.5 1244.6  L 1531.5 1245.2  z " clip-path="url(#p393ffa5552)" style="fill: #efa9a9"/></g><g id="patch_30"><path d="M 1344.6 1245.2  L 1344.6 1230.1  L 1350.6 1230.1  L 1350.6 1224.1  L 1356.7 1224.1  L 1356.7 1210.3  L 1362.8 1210.3  L 1362.8 1200.5  L 1368.9 1200.5  L 1368.9 1184.8  L 1375 1184.8  L 1375 1169.2  L 1381 1169.2  L 1381 1148.1  L 1387.1 1148.1  L 1387.1 1124.9  L 1393.2 1124.9  L 1393.2 1103  L 1399.3 1103  L 1399.3 1086.4  L 1405.4 1086.4  L 1405.4 1058.6  L 1411.4 1058.6  L 1411.4 1043.7  L 1417.5 1043.7  L 1417.5 1038  L 1423.6 1038  L 1423.6 1028.1  L 1429.7 1028.1  L 1429.7 1041.8  L 1435.8 1041.8  L 1435.8 1050.2  L 1441.8 1050.2  L 1441.8 1052.7  L 1447.9 1052.7  L 1447.9 1074.3  L 1454 1074.3  L 1454 1086.5  L 1460.1 1086.5  L 1460.1 1118  L 1466.2 1118  L 1466.2 1131.8  L 1472.2 1131.8  L 1472.2 1155.6  L 1478.3 1155.6  L 1478.3 1176.1  L 1484.4 1176.1  L 1484.4 1188.7  L 1490.5 1188.7  L 1490.5 1204.5  L 1496.6 1204.5  L 1496.6 1214.9  L 1502.6 1214.9  L 1502.6 1223.6  L 1508.7 1223.6  L 1508.7 1230.8  L 1514.8 1230.8  L 1514.8 1236  L 1520.9 1236  L 1520.9 1239.1  L 1527 1239.1  L 1527 1241.2  L 1533 1241.2  L 1533 1242.9  L 1539.1 1242.9  L 1539.1 1243.8  L 1545.2 1243.8  L 1545.2 1244.4  L 1551.3 1244.4  L 1551.3 1245.2  z " clip-path="url(#p393ffa5552)" style="fill: #d4c2e5"/></g><g id="patch_31"><path d="M 1338.2 1245.2  L 1338.2 1244.5  L 1345.4 1244.5  L 1345.4 1243.8  L 1352.5 1243.8  L 1352.5 1242.3  L 1359.6 1242.3  L 1359.6 1238.1  L 1366.8 1238.1  L 1366.8 1227.3  L 1373.9 1227.3  L 1373.9 1209.5  L 1381 1209.5  L 1381 1188.1  L 1388.1 1188.1  L 1388.1 1166.7  L 1395.3 1166.7  L 1395.3 1131  L 1402.4 1131  L 1402.4 1102.4  L 1409.5 1102.4  L 1409.5 1084.5  L 1416.6 1084.5  L 1416.6 1057.4  L 1423.8 1057.4  L 1423.8 1039.9  L 1430.9 1039.9  L 1430.9 1041  L 1438 1041  L 1438 1057.4  L 1445.2 1057.4  L 1445.2 1067.4  L 1452.3 1067.4  L 1452.3 1060.6  L 1459.4 1060.6  L 1459.4 1099.3  L 1466.5 1099.3  L 1466.5 1121.7  L 1473.7 1121.7  L 1473.7 1154.4  L 1480.8 1154.4  L 1480.8 1168.3  L 1487.9 1168.3  L 1487.9 1204.1  L 1495.1 1204.1  L 1495.1 1218.4  L 1502.2 1218.4  L 1502.2 1226.4  L 1509.3 1226.4  L 1509.3 1228.2  L 1516.4 1228.2  L 1516.4 1239.3  L 1523.6 1239.3  L 1523.6 1241.6  L 1530.7 1241.6  L 1530.7 1243.5  L 1537.8 1243.5  L 1537.8 1244.4  L 1544.9 1244.4  L 1544.9 1244.8  L 1552.1 1244.8  L 1552.1 1245.2  z " clip-path="url(#p393ffa5552)" style="fill: #d1bbb7"/></g></g><g id="axes_5"><g id="patch_32"><path d="M 1833.7 416.4  L 2096.7 416.4  L 2096.7 158.4  L 1833.7 158.4  z " style="fill: #ffffff"/></g><g id="line2d_35"><path d="M 1845.7 404.7  L 2084.7 170.1  " clip-path="url(#pe194de15ee)" style="fill: none; stroke-dasharray: 21,10; stroke-dashoffset: 0; stroke: #d6d6d6; stroke-width: 5"/></g><g id="matplotlib.axis_9"><g id="xtick_12"><g id="line2d_36"><g><path d="M 1845.7 416.4 L 1845.7 421.4" style="stroke: #000000; stroke-width: 1.1"/></g></g><g id="text_45"><text style="font-size: 23.8px; font-family: 'DejaVu Sans', sans-serif; text-anchor: middle" x="1845.7" y="445.8" transform="rotate(-0 1845.7 445.8)">0</text></g></g><g id="xtick_13"><g id="line2d_37"><g><path d="M 2084.7 416.4 L 2084.7 421.4" style="stroke: #000000; stroke-width: 1.1"/></g></g><g id="text_46"><text style="font-size: 23.8px; font-family: 'DejaVu Sans', sans-serif; text-anchor: middle" x="2084.7" y="445.8" transform="rotate(-0 2084.7 445.8)">1</text></g></g><g id="text_47"><text style="font-size: 29px; font-family: 'DejaVu Sans', sans-serif; text-anchor: middle" x="1965.2" y="479.3" transform="rotate(-0 1965.2 479.3)">False Positive (FP)</text></g></g><g id="matplotlib.axis_10"><g id="ytick_23"><g id="line2d_38"><g><path d="M 1833.7 404.7 L 1828.7 404.7" style="stroke: #000000; stroke-width: 1.1"/></g></g><g id="text_48"><text style="font-size: 23.8px; font-family: 'DejaVu Sans', sans-serif; text-anchor: end" x="1822.4" y="413.7" transform="rotate(-0 1822.4 413.7)">0</text></g></g><g id="ytick_24"><g id="line2d_39"><g><path d="M 1833.7 170.1 L 1828.7 170.1" style="stroke: #000000; stroke-width: 1.1"/></g></g><g id="text_49"><text style="font-size: 23.8px; font-family: 'DejaVu Sans', sans-serif; text-anchor: end" x="1822.4" y="179.2" transform="rotate(-0 1822.4 179.2)">1</text></g></g><g id="text_50"><text style="font-size: 29px; font-family: 'DejaVu Sans', sans-serif; text-anchor: middle" x="1794.4" y="287.4" transform="rotate(-90 1794.4 287.4)">True Positive (TP)</text></g></g><g id="line2d_40"><path d="M 2084.7 170.1  L 2084.6 170.2  L 2084.6 170.2  L 2084.6 170.3  L 2084.5 170.3  L 2084.5 170.4  L 2084.4 170.4  L 2084.3 170.5  L 2084.3 170.5  L 2084.2 170.6  L 2084 170.7  L 2083.9 170.8  L 2083.7 171  L 2083.5 171.2  L 2083.3 171.4  L 2083 171.6  L 2082.7 171.9  L 2082.4 172.2  L 2082 172.5  L 2081.5 173  L 2081 173.4  L 2080.4 174  L 2079.7 174.6  L 2078.9 175.3  L 2078 176.1  L 2077 177  L 2075.9 178  L 2074.7 179.1  L 2073.3 180.4  L 2071.8 181.7  L 2070.1 183.3  L 2068.3 184.9  L 2066.2 186.8  L 2064.1 188.8  L 2061.7 191  L 2059.1 193.4  L 2056.3 196  L 2053.3 198.7  L 2050.2 201.7  L 2046.8 204.9  L 2043.1 208.3  L 2039.3 211.9  L 2035.3 215.7  L 2031.1 219.7  L 2026.6 223.9  L 2022 228.3  L 2017.2 232.9  L 2012.2 237.6  L 2007.1 242.6  L 2001.8 247.6  L 1996.4 252.9  L 1990.9 258.2  L 1985.3 263.6  L 1979.6 269.1  L 1973.9 274.7  L 1968.1 280.4  L 1962.3 286  L 1956.5 291.7  L 1950.8 297.3  L 1945.1 302.9  L 1939.5 308.5  L 1934 314  L 1928.6 319.4  L 1923.3 324.6  L 1918.2 329.8  L 1913.2 334.8  L 1908.4 339.6  L 1903.8 344.3  L 1899.3 348.8  L 1895.1 353.1  L 1891.1 357.2  L 1887.3 361.1  L 1883.6 364.8  L 1880.2 368.3  L 1877.1 371.6  L 1874.1 374.6  L 1871.3 377.5  L 1868.7 380.2  L 1866.3 382.7  L 1864.2 384.9  L 1862.1 387  L 1860.3 389  L 1858.6 390.7  L 1857.1 392.3  L 1855.7 393.8  L 1854.5 395.1  L 1853.4 396.3  L 1852.4 397.3  L 1851.5 398.3  L 1850.7 399.1  L 1850 399.9  L 1849.4 400.5  L 1848.9 401.1  L 1848.4 401.6  L 1848 402.1  L 1847.7 402.5  L 1847.4 402.8  L 1847.1 403.1  L 1846.9 403.3  L 1846.7 403.5  L 1846.5 403.7  L 1846.4 403.9  L 1846.2 404  L 1846.1 404.1  L 1846.1 404.2  L 1846 404.3  L 1845.9 404.4  L 1845.9 404.4  L 1845.8 404.5  L 1845.8 404.5  L 1845.8 404.5  L 1845.7 404.7  " clip-path="url(#pe194de15ee)" style="fill: none; stroke-dasharray: 8.5,3.7; stroke-dashoffset: 0; stroke: #1f77b4; stroke-opacity: 0.6; stroke-width: 2.3"/><g clip-path="url(#pe194de15ee)"><circle cx="2084.7" cy="170.1" r="4.5" style="fill: #1f77b4; fill-opacity: 0.6; stroke: #1f77b4; stroke-opacity: 0.6; stroke-width: 1.1"/><circle cx="2084.6" cy="170.2" r="4.5" style="fill: #1f77b4; fill-opacity: 0.6; stroke: #1f77b4; stroke-opacity: 0.6; stroke-width: 1.1"/><circle cx="2084.6" cy="170.2" r="4.5" style="fill: #1f77b4; fill-opacity: 0.6; stroke: #1f77b4; stroke-opacity: 0.6; stroke-width: 1.1"/><circle cx="2084.6" cy="170.3" r="4.5" style="fill: #1f77b4; fill-opacity: 0.6; stroke: #1f77b4; stroke-opacity: 0.6; stroke-width: 1.1"/><circle cx="2084.5" cy="170.3" r="4.5" style="fill: #1f77b4; fill-opacity: 0.6; stroke: #1f77b4; stroke-opacity: 0.6; stroke-width: 1.1"/><circle cx="2084.5" cy="170.4" r="4.5" style="fill: #1f77b4; fill-opacity: 0.6; stroke: #1f77b4; stroke-opacity: 0.6; stroke-width: 1.1"/><circle cx="2084.4" cy="170.4" r="4.5" style="fill: #1f77b4; fill-opacity: 0.6; stroke: #1f77b4; stroke-opacity: 0.6; stroke-width: 1.1"/><circle cx="2084.3" cy="170.5" r="4.5" style="fill: #1f77b4; fill-opacity: 0.6; stroke: #1f77b4; stroke-opacity: 0.6; stroke-width: 1.1"/><circle cx="2084.3" cy="170.5" r="4.5" style="fill: #1f77b4; fill-opacity: 0.6; stroke: #1f77b4; stroke-opacity: 0.6; stroke-width: 1.1"/><circle cx="2084.2" cy="170.6" r="4.5" style="fill: #1f77b4; fill-opacity: 0.6; stroke: #1f77b4; stroke-opacity: 0.6; stroke-width: 1.1"/><circle cx="2084" cy="170.7" r="4.5" style="fill: #1f77b4; fill-opacity: 0.6; stroke: #1f77b4; stroke-opacity: 0.6; stroke-width: 1.1"/><circle cx="2083.9" cy="170.8" r="4.5" style="fill: #1f77b4; fill-opacity: 0.6; stroke: #1f77b4; stroke-opacity: 0.6; stroke-width: 1.1"/><circle cx="2083.7" cy="171" r="4.5" style="fill: #1f77b4; fill-opacity: 0.6; stroke: #1f77b4; stroke-opacity: 0.6; stroke-width: 1.1"/><circle cx="2083.5" cy="171.2" r="4.5" style="fill: #1f77b4; fill-opacity: 0.6; stroke: #1f77b4; stroke-opacity: 0.6; stroke-width: 1.1"/><circle cx="2083.3" cy="171.4" r="4.5" style="fill: #1f77b4; fill-opacity: 0.6; stroke: #1f77b4; stroke-opacity: 0.6; stroke-width: 1.1"/><circle cx="2083" cy="171.6" r="4.5" style="fill: #1f77b4; fill-opacity: 0.6; stroke: #1f77b4; stroke-opacity: 0.6; stroke-width: 1.1"/><circle cx="2082.7" cy="171.9" r="4.5" style="fill: #1f77b4; fill-opacity: 0.6; stroke: #1f77b4; stroke-opacity: 0.6; stroke-width: 1.1"/><circle cx="2082.4" cy="172.2" r="4.5" style="fill: #1f77b4; fill-opacity: 0.6; stroke: #1f77b4; stroke-opacity: 0.6; stroke-width: 1.1"/><circle cx="2082" cy="172.5" r="4.5" style="fill: #1f77b4; fill-opacity: 0.6; stroke: #1f77b4; stroke-opacity: 0.6; stroke-width: 1.1"/><circle cx="2081.5" cy="173" r="4.5" style="fill: #1f77b4; fill-opacity: 0.6; stroke: #1f77b4; stroke-opacity: 0.6; stroke-width: 1.1"/><circle cx="2081" cy="173.4" r="4.5" style="fill: #1f77b4; fill-opacity: 0.6; stroke: #1f77b4; stroke-opacity: 0.6; stroke-width: 1.1"/><circle cx="2080.4" cy="174" r="4.5" style="fill: #1f77b4; fill-opacity: 0.6; stroke: #1f77b4; stroke-opacity: 0.6; stroke-width: 1.1"/><circle cx="2079.7" cy="174.6" r="4.5" style="fill: #1f77b4; fill-opacity: 0.6; stroke: #1f77b4; stroke-opacity: 0.6; stroke-width: 1.1"/><circle cx="2078.9" cy="175.3" r="4.5" style="fill: #1f77b4; fill-opacity: 0.6; stroke: #1f77b4; stroke-opacity: 0.6; stroke-width: 1.1"/><circle cx="2078" cy="176.1" r="4.5" style="fill: #1f77b4; fill-opacity: 0.6; stroke: #1f77b4; stroke-opacity: 0.6; stroke-width: 1.1"/><circle cx="2077" cy="177" r="4.5" style="fill: #1f77b4; fill-opacity: 0.6; stroke: #1f77b4; stroke-opacity: 0.6; stroke-width: 1.1"/><circle cx="2075.9" cy="178" r="4.5" style="fill: #1f77b4; fill-opacity: 0.6; stroke: #1f77b4; stroke-opacity: 0.6; stroke-width: 1.1"/><circle cx="2074.7" cy="179.1" r="4.5" style="fill: #1f77b4; fill-opacity: 0.6; stroke: #1f77b4; stroke-opacity: 0.6; stroke-width: 1.1"/><circle cx="2073.3" cy="180.4" r="4.5" style="fill: #1f77b4; fill-opacity: 0.6; stroke: #1f77b4; stroke-opacity: 0.6; stroke-width: 1.1"/><circle cx="2071.8" cy="181.7" r="4.5" style="fill: #1f77b4; fill-opacity: 0.6; stroke: #1f77b4; stroke-opacity: 0.6; stroke-width: 1.1"/><circle cx="2070.1" cy="183.3" r="4.5" style="fill: #1f77b4; fill-opacity: 0.6; stroke: #1f77b4; stroke-opacity: 0.6; stroke-width: 1.1"/><circle cx="2068.3" cy="184.9" r="4.5" style="fill: #1f77b4; fill-opacity: 0.6; stroke: #1f77b4; stroke-opacity: 0.6; stroke-width: 1.1"/><circle cx="2066.2" cy="186.8" r="4.5" style="fill: #1f77b4; fill-opacity: 0.6; stroke: #1f77b4; stroke-opacity: 0.6; stroke-width: 1.1"/><circle cx="2064.1" cy="188.8" r="4.5" style="fill: #1f77b4; fill-opacity: 0.6; stroke: #1f77b4; stroke-opacity: 0.6; stroke-width: 1.1"/><circle cx="2061.7" cy="191" r="4.5" style="fill: #1f77b4; fill-opacity: 0.6; stroke: #1f77b4; stroke-opacity: 0.6; stroke-width: 1.1"/><circle cx="2059.1" cy="193.4" r="4.5" style="fill: #1f77b4; fill-opacity: 0.6; stroke: #1f77b4; stroke-opacity: 0.6; stroke-width: 1.1"/><circle cx="2056.3" cy="196" r="4.5" style="fill: #1f77b4; fill-opacity: 0.6; stroke: #1f77b4; stroke-opacity: 0.6; stroke-width: 1.1"/><circle cx="2053.3" cy="198.7" r="4.5" style="fill: #1f77b4; fill-opacity: 0.6; stroke: #1f77b4; stroke-opacity: 0.6; stroke-width: 1.1"/><circle cx="2050.2" cy="201.7" r="4.5" style="fill: #1f77b4; fill-opacity: 0.6; stroke: #1f77b4; stroke-opacity: 0.6; stroke-width: 1.1"/><circle cx="2046.8" cy="204.9" r="4.5" style="fill: #1f77b4; fill-opacity: 0.6; stroke: #1f77b4; stroke-opacity: 0.6; stroke-width: 1.1"/><circle cx="2043.1" cy="208.3" r="4.5" style="fill: #1f77b4; fill-opacity: 0.6; stroke: #1f77b4; stroke-opacity: 0.6; stroke-width: 1.1"/><circle cx="2039.3" cy="211.9" r="4.5" style="fill: #1f77b4; fill-opacity: 0.6; stroke: #1f77b4; stroke-opacity: 0.6; stroke-width: 1.1"/><circle cx="2035.3" cy="215.7" r="4.5" style="fill: #1f77b4; fill-opacity: 0.6; stroke: #1f77b4; stroke-opacity: 0.6; stroke-width: 1.1"/><circle cx="2031.1" cy="219.7" r="4.5" style="fill: #1f77b4; fill-opacity: 0.6; stroke: #1f77b4; stroke-opacity: 0.6; stroke-width: 1.1"/><circle cx="2026.6" cy="223.9" r="4.5" style="fill: #1f77b4; fill-opacity: 0.6; stroke: #1f77b4; stroke-opacity: 0.6; stroke-width: 1.1"/><circle cx="2022" cy="228.3" r="4.5" style="fill: #1f77b4; fill-opacity: 0.6; stroke: #1f77b4; stroke-opacity: 0.6; stroke-width: 1.1"/><circle cx="2017.2" cy="232.9" r="4.5" style="fill: #1f77b4; fill-opacity: 0.6; stroke: #1f77b4; stroke-opacity: 0.6; stroke-width: 1.1"/><circle cx="2012.2" cy="237.6" r="4.5" style="fill: #1f77b4; fill-opacity: 0.6; stroke: #1f77b4; stroke-opacity: 0.6; stroke-width: 1.1"/><circle cx="2007.1" cy="242.6" r="4.5" style="fill: #1f77b4; fill-opacity: 0.6; stroke: #1f77b4; stroke-opacity: 0.6; stroke-width: 1.1"/><circle cx="2001.8" cy="247.6" r="4.5" style="fill: #1f77b4; fill-opacity: 0.6; stroke: #1f77b4; stroke-opacity: 0.6; stroke-width: 1.1"/><circle cx="1996.4" cy="252.9" r="4.5" style="fill: #1f77b4; fill-opacity: 0.6; stroke: #1f77b4; stroke-opacity: 0.6; stroke-width: 1.1"/><circle cx="1990.9" cy="258.2" r="4.5" style="fill: #1f77b4; fill-opacity: 0.6; stroke: #1f77b4; stroke-opacity: 0.6; stroke-width: 1.1"/><circle cx="1985.3" cy="263.6" r="4.5" style="fill: #1f77b4; fill-opacity: 0.6; stroke: #1f77b4; stroke-opacity: 0.6; stroke-width: 1.1"/><circle cx="1979.6" cy="269.1" r="4.5" style="fill: #1f77b4; fill-opacity: 0.6; stroke: #1f77b4; stroke-opacity: 0.6; stroke-width: 1.1"/><circle cx="1973.9" cy="274.7" r="4.5" style="fill: #1f77b4; fill-opacity: 0.6; stroke: #1f77b4; stroke-opacity: 0.6; stroke-width: 1.1"/><circle cx="1968.1" cy="280.4" r="4.5" style="fill: #1f77b4; fill-opacity: 0.6; stroke: #1f77b4; stroke-opacity: 0.6; stroke-width: 1.1"/><circle cx="1962.3" cy="286" r="4.5" style="fill: #1f77b4; fill-opacity: 0.6; stroke: #1f77b4; stroke-opacity: 0.6; stroke-width: 1.1"/><circle cx="1956.5" cy="291.7" r="4.5" style="fill: #1f77b4; fill-opacity: 0.6; stroke: #1f77b4; stroke-opacity: 0.6; stroke-width: 1.1"/><circle cx="1950.8" cy="297.3" r="4.5" style="fill: #1f77b4; fill-opacity: 0.6; stroke: #1f77b4; stroke-opacity: 0.6; stroke-width: 1.1"/><circle cx="1945.1" cy="302.9" r="4.5" style="fill: #1f77b4; fill-opacity: 0.6; stroke: #1f77b4; stroke-opacity: 0.6; stroke-width: 1.1"/><circle cx="1939.5" cy="308.5" r="4.5" style="fill: #1f77b4; fill-opacity: 0.6; stroke: #1f77b4; stroke-opacity: 0.6; stroke-width: 1.1"/><circle cx="1934" cy="314" r="4.5" style="fill: #1f77b4; fill-opacity: 0.6; stroke: #1f77b4; stroke-opacity: 0.6; stroke-width: 1.1"/><circle cx="1928.6" cy="319.4" r="4.5" style="fill: #1f77b4; fill-opacity: 0.6; stroke: #1f77b4; stroke-opacity: 0.6; stroke-width: 1.1"/><circle cx="1923.3" cy="324.6" r="4.5" style="fill: #1f77b4; fill-opacity: 0.6; stroke: #1f77b4; stroke-opacity: 0.6; stroke-width: 1.1"/><circle cx="1918.2" cy="329.8" r="4.5" style="fill: #1f77b4; fill-opacity: 0.6; stroke: #1f77b4; stroke-opacity: 0.6; stroke-width: 1.1"/><circle cx="1913.2" cy="334.8" r="4.5" style="fill: #1f77b4; fill-opacity: 0.6; stroke: #1f77b4; stroke-opacity: 0.6; stroke-width: 1.1"/><circle cx="1908.4" cy="339.6" r="4.5" style="fill: #1f77b4; fill-opacity: 0.6; stroke: #1f77b4; stroke-opacity: 0.6; stroke-width: 1.1"/><circle cx="1903.8" cy="344.3" r="4.5" style="fill: #1f77b4; fill-opacity: 0.6; stroke: #1f77b4; stroke-opacity: 0.6; stroke-width: 1.1"/><circle cx="1899.3" cy="348.8" r="4.5" style="fill: #1f77b4; fill-opacity: 0.6; stroke: #1f77b4; stroke-opacity: 0.6; stroke-width: 1.1"/><circle cx="1895.1" cy="353.1" r="4.5" style="fill: #1f77b4; fill-opacity: 0.6; stroke: #1f77b4; stroke-opacity: 0.6; stroke-width: 1.1"/><circle cx="1891.1" cy="357.2" r="4.5" style="fill: #1f77b4; fill-opacity: 0.6; stroke: #1f77b4; stroke-opacity: 0.6; stroke-width: 1.1"/><circle cx="1887.3" cy="361.1" r="4.5" style="fill: #1f77b4; fill-opacity: 0.6; stroke: #1f77b4; stroke-opacity: 0.6; stroke-width: 1.1"/><circle cx="1883.6" cy="364.8" r="4.5" style="fill: #1f77b4; fill-opacity: 0.6; stroke: #1f77b4; stroke-opacity: 0.6; stroke-width: 1.1"/><circle cx="1880.2" cy="368.3" r="4.5" style="fill: #1f77b4; fill-opacity: 0.6; stroke: #1f77b4; stroke-opacity: 0.6; stroke-width: 1.1"/><circle cx="1877.1" cy="371.6" r="4.5" style="fill: #1f77b4; fill-opacity: 0.6; stroke: #1f77b4; stroke-opacity: 0.6; stroke-width: 1.1"/><circle cx="1874.1" cy="374.6" r="4.5" style="fill: #1f77b4; fill-opacity: 0.6; stroke: #1f77b4; stroke-opacity: 0.6; stroke-width: 1.1"/><circle cx="1871.3" cy="377.5" r="4.5" style="fill: #1f77b4; fill-opacity: 0.6; stroke: #1f77b4; stroke-opacity: 0.6; stroke-width: 1.1"/><circle cx="1868.7" cy="380.2" r="4.5" style="fill: #1f77b4; fill-opacity: 0.6; stroke: #1f77b4; stroke-opacity: 0.6; stroke-width: 1.1"/><circle cx="1866.3" cy="382.7" r="4.5" style="fill: #1f77b4; fill-opacity: 0.6; stroke: #1f77b4; stroke-opacity: 0.6; stroke-width: 1.1"/><circle cx="1864.2" cy="384.9" r="4.5" style="fill: #1f77b4; fill-opacity: 0.6; stroke: #1f77b4; stroke-opacity: 0.6; stroke-width: 1.1"/><circle cx="1862.1" cy="387" r="4.5" style="fill: #1f77b4; fill-opacity: 0.6; stroke: #1f77b4; stroke-opacity: 0.6; stroke-width: 1.1"/><circle cx="1860.3" cy="389" r="4.5" style="fill: #1f77b4; fill-opacity: 0.6; stroke: #1f77b4; stroke-opacity: 0.6; stroke-width: 1.1"/><circle cx="1858.6" cy="390.7" r="4.5" style="fill: #1f77b4; fill-opacity: 0.6; stroke: #1f77b4; stroke-opacity: 0.6; stroke-width: 1.1"/><circle cx="1857.1" cy="392.3" r="4.5" style="fill: #1f77b4; fill-opacity: 0.6; stroke: #1f77b4; stroke-opacity: 0.6; stroke-width: 1.1"/><circle cx="1855.7" cy="393.8" r="4.5" style="fill: #1f77b4; fill-opacity: 0.6; stroke: #1f77b4; stroke-opacity: 0.6; stroke-width: 1.1"/><circle cx="1854.5" cy="395.1" r="4.5" style="fill: #1f77b4; fill-opacity: 0.6; stroke: #1f77b4; stroke-opacity: 0.6; stroke-width: 1.1"/><circle cx="1853.4" cy="396.3" r="4.5" style="fill: #1f77b4; fill-opacity: 0.6; stroke: #1f77b4; stroke-opacity: 0.6; stroke-width: 1.1"/><circle cx="1852.4" cy="397.3" r="4.5" style="fill: #1f77b4; fill-opacity: 0.6; stroke: #1f77b4; stroke-opacity: 0.6; stroke-width: 1.1"/><circle cx="1851.5" cy="398.3" r="4.5" style="fill: #1f77b4; fill-opacity: 0.6; stroke: #1f77b4; stroke-opacity: 0.6; stroke-width: 1.1"/><circle cx="1850.7" cy="399.1" r="4.5" style="fill: #1f77b4; fill-opacity: 0.6; stroke: #1f77b4; stroke-opacity: 0.6; stroke-width: 1.1"/><circle cx="1850" cy="399.9" r="4.5" style="fill: #1f77b4; fill-opacity: 0.6; stroke: #1f77b4; stroke-opacity: 0.6; stroke-width: 1.1"/><circle cx="1849.4" cy="400.5" r="4.5" style="fill: #1f77b4; fill-opacity: 0.6; stroke: #1f77b4; stroke-opacity: 0.6; stroke-width: 1.1"/><circle cx="1848.9" cy="401.1" r="4.5" style="fill: #1f77b4; fill-opacity: 0.6; stroke: #1f77b4; stroke-opacity: 0.6; stroke-width: 1.1"/><circle cx="1848.4" cy="401.6" r="4.5" style="fill: #1f77b4; fill-opacity: 0.6; stroke: #1f77b4; stroke-opacity: 0.6; stroke-width: 1.1"/><circle cx="1848" cy="402.1" r="4.5" style="fill: #1f77b4; fill-opacity: 0.6; stroke: #1f77b4; stroke-opacity: 0.6; stroke-width: 1.1"/><circle cx="1847.7" cy="402.5" r="4.5" style="fill: #1f77b4; fill-opacity: 0.6; stroke: #1f77b4; stroke-opacity: 0.6; stroke-width: 1.1"/><circle cx="1847.4" cy="402.8" r="4.5" style="fill: #1f77b4; fill-opacity: 0.6; stroke: #1f77b4; stroke-opacity: 0.6; stroke-width: 1.1"/><circle cx="1847.1" cy="403.1" r="4.5" style="fill: #1f77b4; fill-opacity: 0.6; stroke: #1f77b4; stroke-opacity: 0.6; stroke-width: 1.1"/><circle cx="1846.9" cy="403.3" r="4.5" style="fill: #1f77b4; fill-opacity: 0.6; stroke: #1f77b4; stroke-opacity: 0.6; stroke-width: 1.1"/><circle cx="1846.7" cy="403.5" r="4.5" style="fill: #1f77b4; fill-opacity: 0.6; stroke: #1f77b4; stroke-opacity: 0.6; stroke-width: 1.1"/><circle cx="1846.5" cy="403.7" r="4.5" style="fill: #1f77b4; fill-opacity: 0.6; stroke: #1f77b4; stroke-opacity: 0.6; stroke-width: 1.1"/><circle cx="1846.4" cy="403.9" r="4.5" style="fill: #1f77b4; fill-opacity: 0.6; stroke: #1f77b4; stroke-opacity: 0.6; stroke-width: 1.1"/><circle cx="1846.2" cy="404" r="4.5" style="fill: #1f77b4; fill-opacity: 0.6; stroke: #1f77b4; stroke-opacity: 0.6; stroke-width: 1.1"/><circle cx="1846.1" cy="404.1" r="4.5" style="fill: #1f77b4; fill-opacity: 0.6; stroke: #1f77b4; stroke-opacity: 0.6; stroke-width: 1.1"/><circle cx="1846.1" cy="404.2" r="4.5" style="fill: #1f77b4; fill-opacity: 0.6; stroke: #1f77b4; stroke-opacity: 0.6; stroke-width: 1.1"/><circle cx="1846" cy="404.3" r="4.5" style="fill: #1f77b4; fill-opacity: 0.6; stroke: #1f77b4; stroke-opacity: 0.6; stroke-width: 1.1"/><circle cx="1845.9" cy="404.4" r="4.5" style="fill: #1f77b4; fill-opacity: 0.6; stroke: #1f77b4; stroke-opacity: 0.6; stroke-width: 1.1"/><circle cx="1845.9" cy="404.4" r="4.5" style="fill: #1f77b4; fill-opacity: 0.6; stroke: #1f77b4; stroke-opacity: 0.6; stroke-width: 1.1"/><circle cx="1845.8" cy="404.5" r="4.5" style="fill: #1f77b4; fill-opacity: 0.6; stroke: #1f77b4; stroke-opacity: 0.6; stroke-width: 1.1"/><circle cx="1845.8" cy="404.5" r="4.5" style="fill: #1f77b4; fill-opacity: 0.6; stroke: #1f77b4; stroke-opacity: 0.6; stroke-width: 1.1"/><circle cx="1845.8" cy="404.5" r="4.5" style="fill: #1f77b4; fill-opacity: 0.6; stroke: #1f77b4; stroke-opacity: 0.6; stroke-width: 1.1"/><circle cx="1845.7" cy="404.7" r="4.5" style="fill: #1f77b4; fill-opacity: 0.6; stroke: #1f77b4; stroke-opacity: 0.6; stroke-width: 1.1"/></g></g><g id="patch_33"><path d="M 1833.7 416.4  L 1833.7 158.4  " style="fill: none; stroke: #000000; stroke-width: 1.2; stroke-linejoin: miter; stroke-linecap: square"/></g><g id="patch_34"><path d="M 1833.7 416.4  L 2096.7 416.4  " style="fill: none; stroke: #000000; stroke-width: 1.2; stroke-linejoin: miter; stroke-linecap: square"/></g><g id="line2d_41"><path d="M 2084.7 170.1  L 2084.6 170.2  L 2084.6 170.2  L 2084.6 170.3  L 2084.5 170.3  L 2084.5 170.3  L 2084.4 170.4  L 2084.3 170.4  L 2084.3 170.5  L 2084.2 170.6  L 2084 170.7  L 2083.9 170.8  L 2083.7 170.9  L 2083.5 171.1  L 2083.3 171.2  L 2083 171.5  L 2082.7 171.7  L 2082.4 172  L 2082 172.3  L 2081.5 172.7  L 2081 173.2  L 2080.4 173.7  L 2079.7 174.2  L 2078.9 174.9  L 2078 175.6  L 2077 176.5  L 2075.9 177.4  L 2074.7 178.4  L 2073.3 179.6  L 2071.8 180.9  L 2070.1 182.4  L 2068.3 184  L 2066.2 185.7  L 2064.1 187.6  L 2061.7 189.7  L 2059.1 192  L 2056.3 194.5  L 2053.3 197.1  L 2050.2 200  L 2046.8 203  L 2043.1 206.3  L 2039.3 209.8  L 2035.3 213.5  L 2031.1 217.3  L 2026.6 221.4  L 2022 225.7  L 2017.2 230.2  L 2012.2 234.9  L 2007.1 239.7  L 2001.8 244.7  L 1996.4 249.8  L 1990.9 255.1  L 1985.3 260.5  L 1979.6 265.9  L 1973.9 271.5  L 1968.1 277.1  L 1962.3 282.7  L 1956.5 288.4  L 1950.8 294.1  L 1945.1 299.7  L 1939.5 305.3  L 1934 310.8  L 1928.6 316.3  L 1923.3 321.6  L 1918.2 326.8  L 1913.2 331.9  L 1908.4 336.8  L 1903.8 341.6  L 1899.3 346.2  L 1895.1 350.6  L 1891.1 354.8  L 1887.3 358.9  L 1883.6 362.7  L 1880.2 366.3  L 1877.1 369.7  L 1874.1 372.9  L 1871.3 375.9  L 1868.7 378.7  L 1866.3 381.3  L 1864.2 383.6  L 1862.1 385.9  L 1860.3 387.9  L 1858.6 389.7  L 1857.1 391.4  L 1855.7 393  L 1854.5 394.4  L 1853.4 395.6  L 1852.4 396.7  L 1851.5 397.7  L 1850.7 398.6  L 1850 399.4  L 1849.4 400.2  L 1848.9 400.8  L 1848.4 401.3  L 1848 401.8  L 1847.7 402.2  L 1847.4 402.6  L 1847.1 402.9  L 1846.9 403.2  L 1846.7 403.4  L 1846.5 403.6  L 1846.4 403.8  L 1846.2 403.9  L 1846.1 404.1  L 1846.1 404.2  L 1846 404.3  L 1845.9 404.3  L 1845.9 404.4  L 1845.8 404.4  L 1845.8 404.5  L 1845.8 404.5  L 1845.7 404.7  " clip-path="url(#pe194de15ee)" style="fill: none; stroke-dasharray: 8.5,3.7; stroke-dashoffset: 0; stroke: #ff7f0e; stroke-opacity: 0.6; stroke-width: 2.3"/><g clip-path="url(#pe194de15ee)"><circle cx="2084.7" cy="170.1" r="4.5" style="fill: #ff7f0e; fill-opacity: 0.6; stroke: #ff7f0e; stroke-opacity: 0.6; stroke-width: 1.1"/><circle cx="2084.6" cy="170.2" r="4.5" style="fill: #ff7f0e; fill-opacity: 0.6; stroke: #ff7f0e; stroke-opacity: 0.6; stroke-width: 1.1"/><circle cx="2084.6" cy="170.2" r="4.5" style="fill: #ff7f0e; fill-opacity: 0.6; stroke: #ff7f0e; stroke-opacity: 0.6; stroke-width: 1.1"/><circle cx="2084.6" cy="170.3" r="4.5" style="fill: #ff7f0e; fill-opacity: 0.6; stroke: #ff7f0e; stroke-opacity: 0.6; stroke-width: 1.1"/><circle cx="2084.5" cy="170.3" r="4.5" style="fill: #ff7f0e; fill-opacity: 0.6; stroke: #ff7f0e; stroke-opacity: 0.6; stroke-width: 1.1"/><circle cx="2084.5" cy="170.3" r="4.5" style="fill: #ff7f0e; fill-opacity: 0.6; stroke: #ff7f0e; stroke-opacity: 0.6; stroke-width: 1.1"/><circle cx="2084.4" cy="170.4" r="4.5" style="fill: #ff7f0e; fill-opacity: 0.6; stroke: #ff7f0e; stroke-opacity: 0.6; stroke-width: 1.1"/><circle cx="2084.3" cy="170.4" r="4.5" style="fill: #ff7f0e; fill-opacity: 0.6; stroke: #ff7f0e; stroke-opacity: 0.6; stroke-width: 1.1"/><circle cx="2084.3" cy="170.5" r="4.5" style="fill: #ff7f0e; fill-opacity: 0.6; stroke: #ff7f0e; stroke-opacity: 0.6; stroke-width: 1.1"/><circle cx="2084.2" cy="170.6" r="4.5" style="fill: #ff7f0e; fill-opacity: 0.6; stroke: #ff7f0e; stroke-opacity: 0.6; stroke-width: 1.1"/><circle cx="2084" cy="170.7" r="4.5" style="fill: #ff7f0e; fill-opacity: 0.6; stroke: #ff7f0e; stroke-opacity: 0.6; stroke-width: 1.1"/><circle cx="2083.9" cy="170.8" r="4.5" style="fill: #ff7f0e; fill-opacity: 0.6; stroke: #ff7f0e; stroke-opacity: 0.6; stroke-width: 1.1"/><circle cx="2083.7" cy="170.9" r="4.5" style="fill: #ff7f0e; fill-opacity: 0.6; stroke: #ff7f0e; stroke-opacity: 0.6; stroke-width: 1.1"/><circle cx="2083.5" cy="171.1" r="4.5" style="fill: #ff7f0e; fill-opacity: 0.6; stroke: #ff7f0e; stroke-opacity: 0.6; stroke-width: 1.1"/><circle cx="2083.3" cy="171.2" r="4.5" style="fill: #ff7f0e; fill-opacity: 0.6; stroke: #ff7f0e; stroke-opacity: 0.6; stroke-width: 1.1"/><circle cx="2083" cy="171.5" r="4.5" style="fill: #ff7f0e; fill-opacity: 0.6; stroke: #ff7f0e; stroke-opacity: 0.6; stroke-width: 1.1"/><circle cx="2082.7" cy="171.7" r="4.5" style="fill: #ff7f0e; fill-opacity: 0.6; stroke: #ff7f0e; stroke-opacity: 0.6; stroke-width: 1.1"/><circle cx="2082.4" cy="172" r="4.5" style="fill: #ff7f0e; fill-opacity: 0.6; stroke: #ff7f0e; stroke-opacity: 0.6; stroke-width: 1.1"/><circle cx="2082" cy="172.3" r="4.5" style="fill: #ff7f0e; fill-opacity: 0.6; stroke: #ff7f0e; stroke-opacity: 0.6; stroke-width: 1.1"/><circle cx="2081.5" cy="172.7" r="4.5" style="fill: #ff7f0e; fill-opacity: 0.6; stroke: #ff7f0e; stroke-opacity: 0.6; stroke-width: 1.1"/><circle cx="2081" cy="173.2" r="4.5" style="fill: #ff7f0e; fill-opacity: 0.6; stroke: #ff7f0e; stroke-opacity: 0.6; stroke-width: 1.1"/><circle cx="2080.4" cy="173.7" r="4.5" style="fill: #ff7f0e; fill-opacity: 0.6; stroke: #ff7f0e; stroke-opacity: 0.6; stroke-width: 1.1"/><circle cx="2079.7" cy="174.2" r="4.5" style="fill: #ff7f0e; fill-opacity: 0.6; stroke: #ff7f0e; stroke-opacity: 0.6; stroke-width: 1.1"/><circle cx="2078.9" cy="174.9" r="4.5" style="fill: #ff7f0e; fill-opacity: 0.6; stroke: #ff7f0e; stroke-opacity: 0.6; stroke-width: 1.1"/><circle cx="2078" cy="175.6" r="4.5" style="fill: #ff7f0e; fill-opacity: 0.6; stroke: #ff7f0e; stroke-opacity: 0.6; stroke-width: 1.1"/><circle cx="2077" cy="176.5" r="4.5" style="fill: #ff7f0e; fill-opacity: 0.6; stroke: #ff7f0e; stroke-opacity: 0.6; stroke-width: 1.1"/><circle cx="2075.9" cy="177.4" r="4.5" style="fill: #ff7f0e; fill-opacity: 0.6; stroke: #ff7f0e; stroke-opacity: 0.6; stroke-width: 1.1"/><circle cx="2074.7" cy="178.4" r="4.5" style="fill: #ff7f0e; fill-opacity: 0.6; stroke: #ff7f0e; stroke-opacity: 0.6; stroke-width: 1.1"/><circle cx="2073.3" cy="179.6" r="4.5" style="fill: #ff7f0e; fill-opacity: 0.6; stroke: #ff7f0e; stroke-opacity: 0.6; stroke-width: 1.1"/><circle cx="2071.8" cy="180.9" r="4.5" style="fill: #ff7f0e; fill-opacity: 0.6; stroke: #ff7f0e; stroke-opacity: 0.6; stroke-width: 1.1"/><circle cx="2070.1" cy="182.4" r="4.5" style="fill: #ff7f0e; fill-opacity: 0.6; stroke: #ff7f0e; stroke-opacity: 0.6; stroke-width: 1.1"/><circle cx="2068.3" cy="184" r="4.5" style="fill: #ff7f0e; fill-opacity: 0.6; stroke: #ff7f0e; stroke-opacity: 0.6; stroke-width: 1.1"/><circle cx="2066.2" cy="185.7" r="4.5" style="fill: #ff7f0e; fill-opacity: 0.6; stroke: #ff7f0e; stroke-opacity: 0.6; stroke-width: 1.1"/><circle cx="2064.1" cy="187.6" r="4.5" style="fill: #ff7f0e; fill-opacity: 0.6; stroke: #ff7f0e; stroke-opacity: 0.6; stroke-width: 1.1"/><circle cx="2061.7" cy="189.7" r="4.5" style="fill: #ff7f0e; fill-opacity: 0.6; stroke: #ff7f0e; stroke-opacity: 0.6; stroke-width: 1.1"/><circle cx="2059.1" cy="192" r="4.5" style="fill: #ff7f0e; fill-opacity: 0.6; stroke: #ff7f0e; stroke-opacity: 0.6; stroke-width: 1.1"/><circle cx="2056.3" cy="194.5" r="4.5" style="fill: #ff7f0e; fill-opacity: 0.6; stroke: #ff7f0e; stroke-opacity: 0.6; stroke-width: 1.1"/><circle cx="2053.3" cy="197.1" r="4.5" style="fill: #ff7f0e; fill-opacity: 0.6; stroke: #ff7f0e; stroke-opacity: 0.6; stroke-width: 1.1"/><circle cx="2050.2" cy="200" r="4.5" style="fill: #ff7f0e; fill-opacity: 0.6; stroke: #ff7f0e; stroke-opacity: 0.6; stroke-width: 1.1"/><circle cx="2046.8" cy="203" r="4.5" style="fill: #ff7f0e; fill-opacity: 0.6; stroke: #ff7f0e; stroke-opacity: 0.6; stroke-width: 1.1"/><circle cx="2043.1" cy="206.3" r="4.5" style="fill: #ff7f0e; fill-opacity: 0.6; stroke: #ff7f0e; stroke-opacity: 0.6; stroke-width: 1.1"/><circle cx="2039.3" cy="209.8" r="4.5" style="fill: #ff7f0e; fill-opacity: 0.6; stroke: #ff7f0e; stroke-opacity: 0.6; stroke-width: 1.1"/><circle cx="2035.3" cy="213.5" r="4.5" style="fill: #ff7f0e; fill-opacity: 0.6; stroke: #ff7f0e; stroke-opacity: 0.6; stroke-width: 1.1"/><circle cx="2031.1" cy="217.3" r="4.5" style="fill: #ff7f0e; fill-opacity: 0.6; stroke: #ff7f0e; stroke-opacity: 0.6; stroke-width: 1.1"/><circle cx="2026.6" cy="221.4" r="4.5" style="fill: #ff7f0e; fill-opacity: 0.6; stroke: #ff7f0e; stroke-opacity: 0.6; stroke-width: 1.1"/><circle cx="2022" cy="225.7" r="4.5" style="fill: #ff7f0e; fill-opacity: 0.6; stroke: #ff7f0e; stroke-opacity: 0.6; stroke-width: 1.1"/><circle cx="2017.2" cy="230.2" r="4.5" style="fill: #ff7f0e; fill-opacity: 0.6; stroke: #ff7f0e; stroke-opacity: 0.6; stroke-width: 1.1"/><circle cx="2012.2" cy="234.9" r="4.5" style="fill: #ff7f0e; fill-opacity: 0.6; stroke: #ff7f0e; stroke-opacity: 0.6; stroke-width: 1.1"/><circle cx="2007.1" cy="239.7" r="4.5" style="fill: #ff7f0e; fill-opacity: 0.6; stroke: #ff7f0e; stroke-opacity: 0.6; stroke-width: 1.1"/><circle cx="2001.8" cy="244.7" r="4.5" style="fill: #ff7f0e; fill-opacity: 0.6; stroke: #ff7f0e; stroke-opacity: 0.6; stroke-width: 1.1"/><circle cx="1996.4" cy="249.8" r="4.5" style="fill: #ff7f0e; fill-opacity: 0.6; stroke: #ff7f0e; stroke-opacity: 0.6; stroke-width: 1.1"/><circle cx="1990.9" cy="255.1" r="4.5" style="fill: #ff7f0e; fill-opacity: 0.6; stroke: #ff7f0e; stroke-opacity: 0.6; stroke-width: 1.1"/><circle cx="1985.3" cy="260.5" r="4.5" style="fill: #ff7f0e; fill-opacity: 0.6; stroke: #ff7f0e; stroke-opacity: 0.6; stroke-width: 1.1"/><circle cx="1979.6" cy="265.9" r="4.5" style="fill: #ff7f0e; fill-opacity: 0.6; stroke: #ff7f0e; stroke-opacity: 0.6; stroke-width: 1.1"/><circle cx="1973.9" cy="271.5" r="4.5" style="fill: #ff7f0e; fill-opacity: 0.6; stroke: #ff7f0e; stroke-opacity: 0.6; stroke-width: 1.1"/><circle cx="1968.1" cy="277.1" r="4.5" style="fill: #ff7f0e; fill-opacity: 0.6; stroke: #ff7f0e; stroke-opacity: 0.6; stroke-width: 1.1"/><circle cx="1962.3" cy="282.7" r="4.5" style="fill: #ff7f0e; fill-opacity: 0.6; stroke: #ff7f0e; stroke-opacity: 0.6; stroke-width: 1.1"/><circle cx="1956.5" cy="288.4" r="4.5" style="fill: #ff7f0e; fill-opacity: 0.6; stroke: #ff7f0e; stroke-opacity: 0.6; stroke-width: 1.1"/><circle cx="1950.8" cy="294.1" r="4.5" style="fill: #ff7f0e; fill-opacity: 0.6; stroke: #ff7f0e; stroke-opacity: 0.6; stroke-width: 1.1"/><circle cx="1945.1" cy="299.7" r="4.5" style="fill: #ff7f0e; fill-opacity: 0.6; stroke: #ff7f0e; stroke-opacity: 0.6; stroke-width: 1.1"/><circle cx="1939.5" cy="305.3" r="4.5" style="fill: #ff7f0e; fill-opacity: 0.6; stroke: #ff7f0e; stroke-opacity: 0.6; stroke-width: 1.1"/><circle cx="1934" cy="310.8" r="4.5" style="fill: #ff7f0e; fill-opacity: 0.6; stroke: #ff7f0e; stroke-opacity: 0.6; stroke-width: 1.1"/><circle cx="1928.6" cy="316.3" r="4.5" style="fill: #ff7f0e; fill-opacity: 0.6; stroke: #ff7f0e; stroke-opacity: 0.6; stroke-width: 1.1"/><circle cx="1923.3" cy="321.6" r="4.5" style="fill: #ff7f0e; fill-opacity: 0.6; stroke: #ff7f0e; stroke-opacity: 0.6; stroke-width: 1.1"/><circle cx="1918.2" cy="326.8" r="4.5" style="fill: #ff7f0e; fill-opacity: 0.6; stroke: #ff7f0e; stroke-opacity: 0.6; stroke-width: 1.1"/><circle cx="1913.2" cy="331.9" r="4.5" style="fill: #ff7f0e; fill-opacity: 0.6; stroke: #ff7f0e; stroke-opacity: 0.6; stroke-width: 1.1"/><circle cx="1908.4" cy="336.8" r="4.5" style="fill: #ff7f0e; fill-opacity: 0.6; stroke: #ff7f0e; stroke-opacity: 0.6; stroke-width: 1.1"/><circle cx="1903.8" cy="341.6" r="4.5" style="fill: #ff7f0e; fill-opacity: 0.6; stroke: #ff7f0e; stroke-opacity: 0.6; stroke-width: 1.1"/><circle cx="1899.3" cy="346.2" r="4.5" style="fill: #ff7f0e; fill-opacity: 0.6; stroke: #ff7f0e; stroke-opacity: 0.6; stroke-width: 1.1"/><circle cx="1895.1" cy="350.6" r="4.5" style="fill: #ff7f0e; fill-opacity: 0.6; stroke: #ff7f0e; stroke-opacity: 0.6; stroke-width: 1.1"/><circle cx="1891.1" cy="354.8" r="4.5" style="fill: #ff7f0e; fill-opacity: 0.6; stroke: #ff7f0e; stroke-opacity: 0.6; stroke-width: 1.1"/><circle cx="1887.3" cy="358.9" r="4.5" style="fill: #ff7f0e; fill-opacity: 0.6; stroke: #ff7f0e; stroke-opacity: 0.6; stroke-width: 1.1"/><circle cx="1883.6" cy="362.7" r="4.5" style="fill: #ff7f0e; fill-opacity: 0.6; stroke: #ff7f0e; stroke-opacity: 0.6; stroke-width: 1.1"/><circle cx="1880.2" cy="366.3" r="4.5" style="fill: #ff7f0e; fill-opacity: 0.6; stroke: #ff7f0e; stroke-opacity: 0.6; stroke-width: 1.1"/><circle cx="1877.1" cy="369.7" r="4.5" style="fill: #ff7f0e; fill-opacity: 0.6; stroke: #ff7f0e; stroke-opacity: 0.6; stroke-width: 1.1"/><circle cx="1874.1" cy="372.9" r="4.5" style="fill: #ff7f0e; fill-opacity: 0.6; stroke: #ff7f0e; stroke-opacity: 0.6; stroke-width: 1.1"/><circle cx="1871.3" cy="375.9" r="4.5" style="fill: #ff7f0e; fill-opacity: 0.6; stroke: #ff7f0e; stroke-opacity: 0.6; stroke-width: 1.1"/><circle cx="1868.7" cy="378.7" r="4.5" style="fill: #ff7f0e; fill-opacity: 0.6; stroke: #ff7f0e; stroke-opacity: 0.6; stroke-width: 1.1"/><circle cx="1866.3" cy="381.3" r="4.5" style="fill: #ff7f0e; fill-opacity: 0.6; stroke: #ff7f0e; stroke-opacity: 0.6; stroke-width: 1.1"/><circle cx="1864.2" cy="383.6" r="4.5" style="fill: #ff7f0e; fill-opacity: 0.6; stroke: #ff7f0e; stroke-opacity: 0.6; stroke-width: 1.1"/><circle cx="1862.1" cy="385.9" r="4.5" style="fill: #ff7f0e; fill-opacity: 0.6; stroke: #ff7f0e; stroke-opacity: 0.6; stroke-width: 1.1"/><circle cx="1860.3" cy="387.9" r="4.5" style="fill: #ff7f0e; fill-opacity: 0.6; stroke: #ff7f0e; stroke-opacity: 0.6; stroke-width: 1.1"/><circle cx="1858.6" cy="389.7" r="4.5" style="fill: #ff7f0e; fill-opacity: 0.6; stroke: #ff7f0e; stroke-opacity: 0.6; stroke-width: 1.1"/><circle cx="1857.1" cy="391.4" r="4.5" style="fill: #ff7f0e; fill-opacity: 0.6; stroke: #ff7f0e; stroke-opacity: 0.6; stroke-width: 1.1"/><circle cx="1855.7" cy="393" r="4.5" style="fill: #ff7f0e; fill-opacity: 0.6; stroke: #ff7f0e; stroke-opacity: 0.6; stroke-width: 1.1"/><circle cx="1854.5" cy="394.4" r="4.5" style="fill: #ff7f0e; fill-opacity: 0.6; stroke: #ff7f0e; stroke-opacity: 0.6; stroke-width: 1.1"/><circle cx="1853.4" cy="395.6" r="4.5" style="fill: #ff7f0e; fill-opacity: 0.6; stroke: #ff7f0e; stroke-opacity: 0.6; stroke-width: 1.1"/><circle cx="1852.4" cy="396.7" r="4.5" style="fill: #ff7f0e; fill-opacity: 0.6; stroke: #ff7f0e; stroke-opacity: 0.6; stroke-width: 1.1"/><circle cx="1851.5" cy="397.7" r="4.5" style="fill: #ff7f0e; fill-opacity: 0.6; stroke: #ff7f0e; stroke-opacity: 0.6; stroke-width: 1.1"/><circle cx="1850.7" cy="398.6" r="4.5" style="fill: #ff7f0e; fill-opacity: 0.6; stroke: #ff7f0e; stroke-opacity: 0.6; stroke-width: 1.1"/><circle cx="1850" cy="399.4" r="4.5" style="fill: #ff7f0e; fill-opacity: 0.6; stroke: #ff7f0e; stroke-opacity: 0.6; stroke-width: 1.1"/><circle cx="1849.4" cy="400.2" r="4.5" style="fill: #ff7f0e; fill-opacity: 0.6; stroke: #ff7f0e; stroke-opacity: 0.6; stroke-width: 1.1"/><circle cx="1848.9" cy="400.8" r="4.5" style="fill: #ff7f0e; fill-opacity: 0.6; stroke: #ff7f0e; stroke-opacity: 0.6; stroke-width: 1.1"/><circle cx="1848.4" cy="401.3" r="4.5" style="fill: #ff7f0e; fill-opacity: 0.6; stroke: #ff7f0e; stroke-opacity: 0.6; stroke-width: 1.1"/><circle cx="1848" cy="401.8" r="4.5" style="fill: #ff7f0e; fill-opacity: 0.6; stroke: #ff7f0e; stroke-opacity: 0.6; stroke-width: 1.1"/><circle cx="1847.7" cy="402.2" r="4.5" style="fill: #ff7f0e; fill-opacity: 0.6; stroke: #ff7f0e; stroke-opacity: 0.6; stroke-width: 1.1"/><circle cx="1847.4" cy="402.6" r="4.5" style="fill: #ff7f0e; fill-opacity: 0.6; stroke: #ff7f0e; stroke-opacity: 0.6; stroke-width: 1.1"/><circle cx="1847.1" cy="402.9" r="4.5" style="fill: #ff7f0e; fill-opacity: 0.6; stroke: #ff7f0e; stroke-opacity: 0.6; stroke-width: 1.1"/><circle cx="1846.9" cy="403.2" r="4.5" style="fill: #ff7f0e; fill-opacity: 0.6; stroke: #ff7f0e; stroke-opacity: 0.6; stroke-width: 1.1"/><circle cx="1846.7" cy="403.4" r="4.5" style="fill: #ff7f0e; fill-opacity: 0.6; stroke: #ff7f0e; stroke-opacity: 0.6; stroke-width: 1.1"/><circle cx="1846.5" cy="403.6" r="4.5" style="fill: #ff7f0e; fill-opacity: 0.6; stroke: #ff7f0e; stroke-opacity: 0.6; stroke-width: 1.1"/><circle cx="1846.4" cy="403.8" r="4.5" style="fill: #ff7f0e; fill-opacity: 0.6; stroke: #ff7f0e; stroke-opacity: 0.6; stroke-width: 1.1"/><circle cx="1846.2" cy="403.9" r="4.5" style="fill: #ff7f0e; fill-opacity: 0.6; stroke: #ff7f0e; stroke-opacity: 0.6; stroke-width: 1.1"/><circle cx="1846.1" cy="404.1" r="4.5" style="fill: #ff7f0e; fill-opacity: 0.6; stroke: #ff7f0e; stroke-opacity: 0.6; stroke-width: 1.1"/><circle cx="1846.1" cy="404.2" r="4.5" style="fill: #ff7f0e; fill-opacity: 0.6; stroke: #ff7f0e; stroke-opacity: 0.6; stroke-width: 1.1"/><circle cx="1846" cy="404.3" r="4.5" style="fill: #ff7f0e; fill-opacity: 0.6; stroke: #ff7f0e; stroke-opacity: 0.6; stroke-width: 1.1"/><circle cx="1845.9" cy="404.3" r="4.5" style="fill: #ff7f0e; fill-opacity: 0.6; stroke: #ff7f0e; stroke-opacity: 0.6; stroke-width: 1.1"/><circle cx="1845.9" cy="404.4" r="4.5" style="fill: #ff7f0e; fill-opacity: 0.6; stroke: #ff7f0e; stroke-opacity: 0.6; stroke-width: 1.1"/><circle cx="1845.8" cy="404.4" r="4.5" style="fill: #ff7f0e; fill-opacity: 0.6; stroke: #ff7f0e; stroke-opacity: 0.6; stroke-width: 1.1"/><circle cx="1845.8" cy="404.5" r="4.5" style="fill: #ff7f0e; fill-opacity: 0.6; stroke: #ff7f0e; stroke-opacity: 0.6; stroke-width: 1.1"/><circle cx="1845.8" cy="404.5" r="4.5" style="fill: #ff7f0e; fill-opacity: 0.6; stroke: #ff7f0e; stroke-opacity: 0.6; stroke-width: 1.1"/><circle cx="1845.7" cy="404.7" r="4.5" style="fill: #ff7f0e; fill-opacity: 0.6; stroke: #ff7f0e; stroke-opacity: 0.6; stroke-width: 1.1"/></g></g><g id="text_51"><g transform="translate(1782.4 147.8)"><text><tspan x="0" y="-0.1" style="font-style: oblique; font-size: 28.6px; font-family: 'DejaVu Sans', sans-serif">θ</tspan><tspan x="144.2" y="-0.1" style="font-style: oblique; font-size: 28.6px; font-family: 'DejaVu Sans', sans-serif">ω</tspan><tspan x="23.1" y="-0.1" style="font-size: 28.6px; font-family: 'DejaVu Sans', sans-serif">=</tspan><tspan x="52.7" y="-0.1" style="font-size: 28.6px; font-family: 'DejaVu Sans', sans-serif">1</tspan><tspan x="70.9" y="-0.1" style="font-size: 28.6px; font-family: 'DejaVu Sans', sans-serif">.</tspan><tspan x="80" y="-0.1" style="font-size: 28.6px; font-family: 'DejaVu Sans', sans-serif">0</tspan><tspan x="98.2" y="-0.1" style="font-size: 28.6px; font-family: 'DejaVu Sans', sans-serif"></tspan><tspan x="107.3" y="-0.1" style="font-size: 28.6px; font-family: 'DejaVu Sans', sans-serif"></tspan><tspan x="116.4" y="-0.1" style="font-size: 28.6px; font-family: 'DejaVu Sans', sans-serif">|</tspan><tspan x="126" y="-0.1" style="font-size: 28.6px; font-family: 'DejaVu Sans', sans-serif"></tspan><tspan x="135.1" y="-0.1" style="font-size: 28.6px; font-family: 'DejaVu Sans', sans-serif"></tspan><tspan x="188.4" y="-0.1" style="font-size: 28.6px; font-family: 'DejaVu Sans', sans-serif">=</tspan><tspan x="218" y="-0.1" style="font-size: 28.6px; font-family: 'DejaVu Sans', sans-serif">0</tspan><tspan x="236.2" y="-0.1" style="font-size: 28.6px; font-family: 'DejaVu Sans', sans-serif">.</tspan><tspan x="245.3" y="-0.1" style="font-size: 28.6px; font-family: 'DejaVu Sans', sans-serif">6</tspan><tspan x="269.1" y="-0.1" style="font-size: 28.6px; font-family: 'DejaVu Sans', sans-serif">×</tspan><tspan x="298.6" y="-0.1" style="font-size: 28.6px; font-family: 'DejaVu Sans', sans-serif">1</tspan><tspan x="316.8" y="-0.1" style="font-size: 28.6px; font-family: 'DejaVu Sans', sans-serif">0</tspan><tspan x="169.5" y="-11.2" style="font-size: 20px; font-family: 'DejaVu Sans', sans-serif">⋆</tspan><tspan x="335.3" y="-11.2" style="font-size: 20px; font-family: 'DejaVu Sans', sans-serif">−</tspan><tspan x="352.1" y="-11.2" style="font-size: 20px; font-family: 'DejaVu Sans', sans-serif">5</tspan></text></g></g><g id="line2d_42"><path d="M 2084.7 170.1  L 2084.6 170.2  L 2084.6 170.2  L 2084.6 170.2  L 2084.5 170.3  L 2084.5 170.3  L 2084.4 170.3  L 2084.3 170.4  L 2084.3 170.4  L 2084.2 170.5  L 2084 170.6  L 2083.9 170.6  L 2083.7 170.8  L 2083.5 170.9  L 2083.3 171  L 2083 171.2  L 2082.7 171.4  L 2082.4 171.7  L 2082 171.9  L 2081.5 172.3  L 2081 172.6  L 2080.4 173.1  L 2079.7 173.6  L 2078.9 174.1  L 2078 174.8  L 2077 175.5  L 2075.9 176.3  L 2074.7 177.2  L 2073.3 178.3  L 2071.8 179.4  L 2070.1 180.7  L 2068.3 182.1  L 2066.2 183.7  L 2064.1 185.4  L 2061.7 187.3  L 2059.1 189.4  L 2056.3 191.6  L 2053.3 194.1  L 2050.2 196.7  L 2046.8 199.5  L 2043.1 202.5  L 2039.3 205.8  L 2035.3 209.2  L 2031.1 212.9  L 2026.6 216.7  L 2022 220.8  L 2017.2 225  L 2012.2 229.5  L 2007.1 234.1  L 2001.8 238.9  L 1996.4 243.9  L 1990.9 249  L 1985.3 254.3  L 1979.6 259.6  L 1973.9 265.1  L 1968.1 270.6  L 1962.3 276.2  L 1956.5 281.9  L 1950.8 287.5  L 1945.1 293.2  L 1939.5 298.8  L 1934 304.4  L 1928.6 310  L 1923.3 315.4  L 1918.2 320.8  L 1913.2 326  L 1908.4 331.1  L 1903.8 336.1  L 1899.3 340.9  L 1895.1 345.5  L 1891.1 350  L 1887.3 354.2  L 1883.6 358.3  L 1880.2 362.1  L 1877.1 365.7  L 1874.1 369.2  L 1871.3 372.4  L 1868.7 375.4  L 1866.3 378.2  L 1864.2 380.9  L 1862.1 383.3  L 1860.3 385.5  L 1858.6 387.6  L 1857.1 389.5  L 1855.7 391.2  L 1854.5 392.7  L 1853.4 394.1  L 1852.4 395.4  L 1851.5 396.6  L 1850.7 397.6  L 1850 398.5  L 1849.4 399.3  L 1848.9 400.1  L 1848.4 400.7  L 1848 401.3  L 1847.7 401.7  L 1847.4 402.2  L 1847.1 402.5  L 1846.9 402.9  L 1846.7 403.1  L 1846.5 403.4  L 1846.4 403.6  L 1846.2 403.8  L 1846.1 403.9  L 1846.1 404  L 1846 404.2  L 1845.9 404.2  L 1845.9 404.3  L 1845.8 404.4  L 1845.8 404.4  L 1845.8 404.5  L 1845.7 404.7  " clip-path="url(#pe194de15ee)" style="fill: none; stroke-dasharray: 8.5,3.7; stroke-dashoffset: 0; stroke: #2ca02c; stroke-opacity: 0.6; stroke-width: 2.3"/><g clip-path="url(#pe194de15ee)"><path d="M 2080.2 174.6 L 2089.2 174.6 L 2089.2 165.6 L 2080.2 165.6 z" style="fill: #2ca02c; fill-opacity: 0.6; stroke: #2ca02c; stroke-opacity: 0.6; stroke-width: 1.1; stroke-linejoin: miter"/><path d="M 2080.1 174.7 L 2089.1 174.7 L 2089.1 165.7 L 2080.1 165.7 z" style="fill: #2ca02c; fill-opacity: 0.6; stroke: #2ca02c; stroke-opacity: 0.6; stroke-width: 1.1; stroke-linejoin: miter"/><path d="M 2080.1 174.7 L 2089.1 174.7 L 2089.1 165.7 L 2080.1 165.7 z" style="fill: #2ca02c; fill-opacity: 0.6; stroke: #2ca02c; stroke-opacity: 0.6; stroke-width: 1.1; stroke-linejoin: miter"/><path d="M 2080.1 174.7 L 2089.1 174.7 L 2089.1 165.7 L 2080.1 165.7 z" style="fill: #2ca02c; fill-opacity: 0.6; stroke: #2ca02c; stroke-opacity: 0.6; stroke-width: 1.1; stroke-linejoin: miter"/><path d="M 2080 174.8 L 2089 174.8 L 2089 165.8 L 2080 165.8 z" style="fill: #2ca02c; fill-opacity: 0.6; stroke: #2ca02c; stroke-opacity: 0.6; stroke-width: 1.1; stroke-linejoin: miter"/><path d="M 2080 174.8 L 2089 174.8 L 2089 165.8 L 2080 165.8 z" style="fill: #2ca02c; fill-opacity: 0.6; stroke: #2ca02c; stroke-opacity: 0.6; stroke-width: 1.1; stroke-linejoin: miter"/><path d="M 2079.9 174.8 L 2088.9 174.8 L 2088.9 165.8 L 2079.9 165.8 z" style="fill: #2ca02c; fill-opacity: 0.6; stroke: #2ca02c; stroke-opacity: 0.6; stroke-width: 1.1; stroke-linejoin: miter"/><path d="M 2079.8 174.9 L 2088.8 174.9 L 2088.8 165.9 L 2079.8 165.9 z" style="fill: #2ca02c; fill-opacity: 0.6; stroke: #2ca02c; stroke-opacity: 0.6; stroke-width: 1.1; stroke-linejoin: miter"/><path d="M 2079.8 174.9 L 2088.8 174.9 L 2088.8 165.9 L 2079.8 165.9 z" style="fill: #2ca02c; fill-opacity: 0.6; stroke: #2ca02c; stroke-opacity: 0.6; stroke-width: 1.1; stroke-linejoin: miter"/><path d="M 2079.7 175 L 2088.7 175 L 2088.7 166 L 2079.7 166 z" style="fill: #2ca02c; fill-opacity: 0.6; stroke: #2ca02c; stroke-opacity: 0.6; stroke-width: 1.1; stroke-linejoin: miter"/><path d="M 2079.5 175.1 L 2088.5 175.1 L 2088.5 166.1 L 2079.5 166.1 z" style="fill: #2ca02c; fill-opacity: 0.6; stroke: #2ca02c; stroke-opacity: 0.6; stroke-width: 1.1; stroke-linejoin: miter"/><path d="M 2079.4 175.1 L 2088.4 175.1 L 2088.4 166.1 L 2079.4 166.1 z" style="fill: #2ca02c; fill-opacity: 0.6; stroke: #2ca02c; stroke-opacity: 0.6; stroke-width: 1.1; stroke-linejoin: miter"/><path d="M 2079.2 175.3 L 2088.2 175.3 L 2088.2 166.3 L 2079.2 166.3 z" style="fill: #2ca02c; fill-opacity: 0.6; stroke: #2ca02c; stroke-opacity: 0.6; stroke-width: 1.1; stroke-linejoin: miter"/><path d="M 2079 175.4 L 2088 175.4 L 2088 166.4 L 2079 166.4 z" style="fill: #2ca02c; fill-opacity: 0.6; stroke: #2ca02c; stroke-opacity: 0.6; stroke-width: 1.1; stroke-linejoin: miter"/><path d="M 2078.8 175.5 L 2087.8 175.5 L 2087.8 166.5 L 2078.8 166.5 z" style="fill: #2ca02c; fill-opacity: 0.6; stroke: #2ca02c; stroke-opacity: 0.6; stroke-width: 1.1; stroke-linejoin: miter"/><path d="M 2078.5 175.7 L 2087.5 175.7 L 2087.5 166.7 L 2078.5 166.7 z" style="fill: #2ca02c; fill-opacity: 0.6; stroke: #2ca02c; stroke-opacity: 0.6; stroke-width: 1.1; stroke-linejoin: miter"/><path d="M 2078.2 175.9 L 2087.2 175.9 L 2087.2 166.9 L 2078.2 166.9 z" style="fill: #2ca02c; fill-opacity: 0.6; stroke: #2ca02c; stroke-opacity: 0.6; stroke-width: 1.1; stroke-linejoin: miter"/><path d="M 2077.9 176.2 L 2086.9 176.2 L 2086.9 167.2 L 2077.9 167.2 z" style="fill: #2ca02c; fill-opacity: 0.6; stroke: #2ca02c; stroke-opacity: 0.6; stroke-width: 1.1; stroke-linejoin: miter"/><path d="M 2077.5 176.4 L 2086.5 176.4 L 2086.5 167.4 L 2077.5 167.4 z" style="fill: #2ca02c; fill-opacity: 0.6; stroke: #2ca02c; stroke-opacity: 0.6; stroke-width: 1.1; stroke-linejoin: miter"/><path d="M 2077 176.8 L 2086 176.8 L 2086 167.8 L 2077 167.8 z" style="fill: #2ca02c; fill-opacity: 0.6; stroke: #2ca02c; stroke-opacity: 0.6; stroke-width: 1.1; stroke-linejoin: miter"/><path d="M 2076.5 177.1 L 2085.5 177.1 L 2085.5 168.1 L 2076.5 168.1 z" style="fill: #2ca02c; fill-opacity: 0.6; stroke: #2ca02c; stroke-opacity: 0.6; stroke-width: 1.1; stroke-linejoin: miter"/><path d="M 2075.9 177.6 L 2084.9 177.6 L 2084.9 168.6 L 2075.9 168.6 z" style="fill: #2ca02c; fill-opacity: 0.6; stroke: #2ca02c; stroke-opacity: 0.6; stroke-width: 1.1; stroke-linejoin: miter"/><path d="M 2075.2 178.1 L 2084.2 178.1 L 2084.2 169.1 L 2075.2 169.1 z" style="fill: #2ca02c; fill-opacity: 0.6; stroke: #2ca02c; stroke-opacity: 0.6; stroke-width: 1.1; stroke-linejoin: miter"/><path d="M 2074.4 178.6 L 2083.4 178.6 L 2083.4 169.6 L 2074.4 169.6 z" style="fill: #2ca02c; fill-opacity: 0.6; stroke: #2ca02c; stroke-opacity: 0.6; stroke-width: 1.1; stroke-linejoin: miter"/><path d="M 2073.5 179.3 L 2082.5 179.3 L 2082.5 170.3 L 2073.5 170.3 z" style="fill: #2ca02c; fill-opacity: 0.6; stroke: #2ca02c; stroke-opacity: 0.6; stroke-width: 1.1; stroke-linejoin: miter"/><path d="M 2072.5 180 L 2081.5 180 L 2081.5 171 L 2072.5 171 z" style="fill: #2ca02c; fill-opacity: 0.6; stroke: #2ca02c; stroke-opacity: 0.6; stroke-width: 1.1; stroke-linejoin: miter"/><path d="M 2071.4 180.8 L 2080.4 180.8 L 2080.4 171.8 L 2071.4 171.8 z" style="fill: #2ca02c; fill-opacity: 0.6; stroke: #2ca02c; stroke-opacity: 0.6; stroke-width: 1.1; stroke-linejoin: miter"/><path d="M 2070.2 181.7 L 2079.2 181.7 L 2079.2 172.7 L 2070.2 172.7 z" style="fill: #2ca02c; fill-opacity: 0.6; stroke: #2ca02c; stroke-opacity: 0.6; stroke-width: 1.1; stroke-linejoin: miter"/><path d="M 2068.8 182.8 L 2077.8 182.8 L 2077.8 173.8 L 2068.8 173.8 z" style="fill: #2ca02c; fill-opacity: 0.6; stroke: #2ca02c; stroke-opacity: 0.6; stroke-width: 1.1; stroke-linejoin: miter"/><path d="M 2067.3 183.9 L 2076.3 183.9 L 2076.3 174.9 L 2067.3 174.9 z" style="fill: #2ca02c; fill-opacity: 0.6; stroke: #2ca02c; stroke-opacity: 0.6; stroke-width: 1.1; stroke-linejoin: miter"/><path d="M 2065.6 185.2 L 2074.6 185.2 L 2074.6 176.2 L 2065.6 176.2 z" style="fill: #2ca02c; fill-opacity: 0.6; stroke: #2ca02c; stroke-opacity: 0.6; stroke-width: 1.1; stroke-linejoin: miter"/><path d="M 2063.8 186.6 L 2072.8 186.6 L 2072.8 177.6 L 2063.8 177.6 z" style="fill: #2ca02c; fill-opacity: 0.6; stroke: #2ca02c; stroke-opacity: 0.6; stroke-width: 1.1; stroke-linejoin: miter"/><path d="M 2061.7 188.2 L 2070.7 188.2 L 2070.7 179.2 L 2061.7 179.2 z" style="fill: #2ca02c; fill-opacity: 0.6; stroke: #2ca02c; stroke-opacity: 0.6; stroke-width: 1.1; stroke-linejoin: miter"/><path d="M 2059.6 189.9 L 2068.6 189.9 L 2068.6 180.9 L 2059.6 180.9 z" style="fill: #2ca02c; fill-opacity: 0.6; stroke: #2ca02c; stroke-opacity: 0.6; stroke-width: 1.1; stroke-linejoin: miter"/><path d="M 2057.2 191.8 L 2066.2 191.8 L 2066.2 182.8 L 2057.2 182.8 z" style="fill: #2ca02c; fill-opacity: 0.6; stroke: #2ca02c; stroke-opacity: 0.6; stroke-width: 1.1; stroke-linejoin: miter"/><path d="M 2054.6 193.9 L 2063.6 193.9 L 2063.6 184.9 L 2054.6 184.9 z" style="fill: #2ca02c; fill-opacity: 0.6; stroke: #2ca02c; stroke-opacity: 0.6; stroke-width: 1.1; stroke-linejoin: miter"/><path d="M 2051.8 196.1 L 2060.8 196.1 L 2060.8 187.1 L 2051.8 187.1 z" style="fill: #2ca02c; fill-opacity: 0.6; stroke: #2ca02c; stroke-opacity: 0.6; stroke-width: 1.1; stroke-linejoin: miter"/><path d="M 2048.8 198.6 L 2057.8 198.6 L 2057.8 189.6 L 2048.8 189.6 z" style="fill: #2ca02c; fill-opacity: 0.6; stroke: #2ca02c; stroke-opacity: 0.6; stroke-width: 1.1; stroke-linejoin: miter"/><path d="M 2045.7 201.2 L 2054.7 201.2 L 2054.7 192.2 L 2045.7 192.2 z" style="fill: #2ca02c; fill-opacity: 0.6; stroke: #2ca02c; stroke-opacity: 0.6; stroke-width: 1.1; stroke-linejoin: miter"/><path d="M 2042.3 204 L 2051.3 204 L 2051.3 195 L 2042.3 195 z" style="fill: #2ca02c; fill-opacity: 0.6; stroke: #2ca02c; stroke-opacity: 0.6; stroke-width: 1.1; stroke-linejoin: miter"/><path d="M 2038.6 207 L 2047.6 207 L 2047.6 198 L 2038.6 198 z" style="fill: #2ca02c; fill-opacity: 0.6; stroke: #2ca02c; stroke-opacity: 0.6; stroke-width: 1.1; stroke-linejoin: miter"/><path d="M 2034.8 210.3 L 2043.8 210.3 L 2043.8 201.3 L 2034.8 201.3 z" style="fill: #2ca02c; fill-opacity: 0.6; stroke: #2ca02c; stroke-opacity: 0.6; stroke-width: 1.1; stroke-linejoin: miter"/><path d="M 2030.8 213.7 L 2039.8 213.7 L 2039.8 204.7 L 2030.8 204.7 z" style="fill: #2ca02c; fill-opacity: 0.6; stroke: #2ca02c; stroke-opacity: 0.6; stroke-width: 1.1; stroke-linejoin: miter"/><path d="M 2026.6 217.4 L 2035.6 217.4 L 2035.6 208.4 L 2026.6 208.4 z" style="fill: #2ca02c; fill-opacity: 0.6; stroke: #2ca02c; stroke-opacity: 0.6; stroke-width: 1.1; stroke-linejoin: miter"/><path d="M 2022.1 221.2 L 2031.1 221.2 L 2031.1 212.2 L 2022.1 212.2 z" style="fill: #2ca02c; fill-opacity: 0.6; stroke: #2ca02c; stroke-opacity: 0.6; stroke-width: 1.1; stroke-linejoin: miter"/><path d="M 2017.5 225.3 L 2026.5 225.3 L 2026.5 216.3 L 2017.5 216.3 z" style="fill: #2ca02c; fill-opacity: 0.6; stroke: #2ca02c; stroke-opacity: 0.6; stroke-width: 1.1; stroke-linejoin: miter"/><path d="M 2012.7 229.5 L 2021.7 229.5 L 2021.7 220.5 L 2012.7 220.5 z" style="fill: #2ca02c; fill-opacity: 0.6; stroke: #2ca02c; stroke-opacity: 0.6; stroke-width: 1.1; stroke-linejoin: miter"/><path d="M 2007.7 234 L 2016.7 234 L 2016.7 225 L 2007.7 225 z" style="fill: #2ca02c; fill-opacity: 0.6; stroke: #2ca02c; stroke-opacity: 0.6; stroke-width: 1.1; stroke-linejoin: miter"/><path d="M 2002.6 238.6 L 2011.6 238.6 L 2011.6 229.6 L 2002.6 229.6 z" style="fill: #2ca02c; fill-opacity: 0.6; stroke: #2ca02c; stroke-opacity: 0.6; stroke-width: 1.1; stroke-linejoin: miter"/><path d="M 1997.3 243.4 L 2006.3 243.4 L 2006.3 234.4 L 1997.3 234.4 z" style="fill: #2ca02c; fill-opacity: 0.6; stroke: #2ca02c; stroke-opacity: 0.6; stroke-width: 1.1; stroke-linejoin: miter"/><path d="M 1991.9 248.4 L 2000.9 248.4 L 2000.9 239.4 L 1991.9 239.4 z" style="fill: #2ca02c; fill-opacity: 0.6; stroke: #2ca02c; stroke-opacity: 0.6; stroke-width: 1.1; stroke-linejoin: miter"/><path d="M 1986.4 253.5 L 1995.4 253.5 L 1995.4 244.5 L 1986.4 244.5 z" style="fill: #2ca02c; fill-opacity: 0.6; stroke: #2ca02c; stroke-opacity: 0.6; stroke-width: 1.1; stroke-linejoin: miter"/><path d="M 1980.8 258.8 L 1989.8 258.8 L 1989.8 249.8 L 1980.8 249.8 z" style="fill: #2ca02c; fill-opacity: 0.6; stroke: #2ca02c; stroke-opacity: 0.6; stroke-width: 1.1; stroke-linejoin: miter"/><path d="M 1975.1 264.1 L 1984.1 264.1 L 1984.1 255.1 L 1975.1 255.1 z" style="fill: #2ca02c; fill-opacity: 0.6; stroke: #2ca02c; stroke-opacity: 0.6; stroke-width: 1.1; stroke-linejoin: miter"/><path d="M 1969.4 269.6 L 1978.4 269.6 L 1978.4 260.6 L 1969.4 260.6 z" style="fill: #2ca02c; fill-opacity: 0.6; stroke: #2ca02c; stroke-opacity: 0.6; stroke-width: 1.1; stroke-linejoin: miter"/><path d="M 1963.6 275.1 L 1972.6 275.1 L 1972.6 266.1 L 1963.6 266.1 z" style="fill: #2ca02c; fill-opacity: 0.6; stroke: #2ca02c; stroke-opacity: 0.6; stroke-width: 1.1; stroke-linejoin: miter"/><path d="M 1957.8 280.7 L 1966.8 280.7 L 1966.8 271.7 L 1957.8 271.7 z" style="fill: #2ca02c; fill-opacity: 0.6; stroke: #2ca02c; stroke-opacity: 0.6; stroke-width: 1.1; stroke-linejoin: miter"/><path d="M 1952 286.4 L 1961 286.4 L 1961 277.4 L 1952 277.4 z" style="fill: #2ca02c; fill-opacity: 0.6; stroke: #2ca02c; stroke-opacity: 0.6; stroke-width: 1.1; stroke-linejoin: miter"/><path d="M 1946.3 292 L 1955.3 292 L 1955.3 283 L 1946.3 283 z" style="fill: #2ca02c; fill-opacity: 0.6; stroke: #2ca02c; stroke-opacity: 0.6; stroke-width: 1.1; stroke-linejoin: miter"/><path d="M 1940.6 297.7 L 1949.6 297.7 L 1949.6 288.7 L 1940.6 288.7 z" style="fill: #2ca02c; fill-opacity: 0.6; stroke: #2ca02c; stroke-opacity: 0.6; stroke-width: 1.1; stroke-linejoin: miter"/><path d="M 1935 303.3 L 1944 303.3 L 1944 294.3 L 1935 294.3 z" style="fill: #2ca02c; fill-opacity: 0.6; stroke: #2ca02c; stroke-opacity: 0.6; stroke-width: 1.1; stroke-linejoin: miter"/><path d="M 1929.5 308.9 L 1938.5 308.9 L 1938.5 299.9 L 1929.5 299.9 z" style="fill: #2ca02c; fill-opacity: 0.6; stroke: #2ca02c; stroke-opacity: 0.6; stroke-width: 1.1; stroke-linejoin: miter"/><path d="M 1924.1 314.5 L 1933.1 314.5 L 1933.1 305.5 L 1924.1 305.5 z" style="fill: #2ca02c; fill-opacity: 0.6; stroke: #2ca02c; stroke-opacity: 0.6; stroke-width: 1.1; stroke-linejoin: miter"/><path d="M 1918.8 319.9 L 1927.8 319.9 L 1927.8 310.9 L 1918.8 310.9 z" style="fill: #2ca02c; fill-opacity: 0.6; stroke: #2ca02c; stroke-opacity: 0.6; stroke-width: 1.1; stroke-linejoin: miter"/><path d="M 1913.7 325.3 L 1922.7 325.3 L 1922.7 316.3 L 1913.7 316.3 z" style="fill: #2ca02c; fill-opacity: 0.6; stroke: #2ca02c; stroke-opacity: 0.6; stroke-width: 1.1; stroke-linejoin: miter"/><path d="M 1908.7 330.5 L 1917.7 330.5 L 1917.7 321.5 L 1908.7 321.5 z" style="fill: #2ca02c; fill-opacity: 0.6; stroke: #2ca02c; stroke-opacity: 0.6; stroke-width: 1.1; stroke-linejoin: miter"/><path d="M 1903.9 335.6 L 1912.9 335.6 L 1912.9 326.6 L 1903.9 326.6 z" style="fill: #2ca02c; fill-opacity: 0.6; stroke: #2ca02c; stroke-opacity: 0.6; stroke-width: 1.1; stroke-linejoin: miter"/><path d="M 1899.3 340.6 L 1908.3 340.6 L 1908.3 331.6 L 1899.3 331.6 z" style="fill: #2ca02c; fill-opacity: 0.6; stroke: #2ca02c; stroke-opacity: 0.6; stroke-width: 1.1; stroke-linejoin: miter"/><path d="M 1894.8 345.4 L 1903.8 345.4 L 1903.8 336.4 L 1894.8 336.4 z" style="fill: #2ca02c; fill-opacity: 0.6; stroke: #2ca02c; stroke-opacity: 0.6; stroke-width: 1.1; stroke-linejoin: miter"/><path d="M 1890.6 350 L 1899.6 350 L 1899.6 341 L 1890.6 341 z" style="fill: #2ca02c; fill-opacity: 0.6; stroke: #2ca02c; stroke-opacity: 0.6; stroke-width: 1.1; stroke-linejoin: miter"/><path d="M 1886.6 354.5 L 1895.6 354.5 L 1895.6 345.5 L 1886.6 345.5 z" style="fill: #2ca02c; fill-opacity: 0.6; stroke: #2ca02c; stroke-opacity: 0.6; stroke-width: 1.1; stroke-linejoin: miter"/><path d="M 1882.8 358.7 L 1891.8 358.7 L 1891.8 349.7 L 1882.8 349.7 z" style="fill: #2ca02c; fill-opacity: 0.6; stroke: #2ca02c; stroke-opacity: 0.6; stroke-width: 1.1; stroke-linejoin: miter"/><path d="M 1879.1 362.8 L 1888.1 362.8 L 1888.1 353.8 L 1879.1 353.8 z" style="fill: #2ca02c; fill-opacity: 0.6; stroke: #2ca02c; stroke-opacity: 0.6; stroke-width: 1.1; stroke-linejoin: miter"/><path d="M 1875.7 366.6 L 1884.7 366.6 L 1884.7 357.6 L 1875.7 357.6 z" style="fill: #2ca02c; fill-opacity: 0.6; stroke: #2ca02c; stroke-opacity: 0.6; stroke-width: 1.1; stroke-linejoin: miter"/><path d="M 1872.6 370.2 L 1881.6 370.2 L 1881.6 361.2 L 1872.6 361.2 z" style="fill: #2ca02c; fill-opacity: 0.6; stroke: #2ca02c; stroke-opacity: 0.6; stroke-width: 1.1; stroke-linejoin: miter"/><path d="M 1869.6 373.7 L 1878.6 373.7 L 1878.6 364.7 L 1869.6 364.7 z" style="fill: #2ca02c; fill-opacity: 0.6; stroke: #2ca02c; stroke-opacity: 0.6; stroke-width: 1.1; stroke-linejoin: miter"/><path d="M 1866.8 376.9 L 1875.8 376.9 L 1875.8 367.9 L 1866.8 367.9 z" style="fill: #2ca02c; fill-opacity: 0.6; stroke: #2ca02c; stroke-opacity: 0.6; stroke-width: 1.1; stroke-linejoin: miter"/><path d="M 1864.2 379.9 L 1873.2 379.9 L 1873.2 370.9 L 1864.2 370.9 z" style="fill: #2ca02c; fill-opacity: 0.6; stroke: #2ca02c; stroke-opacity: 0.6; stroke-width: 1.1; stroke-linejoin: miter"/><path d="M 1861.8 382.7 L 1870.8 382.7 L 1870.8 373.7 L 1861.8 373.7 z" style="fill: #2ca02c; fill-opacity: 0.6; stroke: #2ca02c; stroke-opacity: 0.6; stroke-width: 1.1; stroke-linejoin: miter"/><path d="M 1859.7 385.4 L 1868.7 385.4 L 1868.7 376.4 L 1859.7 376.4 z" style="fill: #2ca02c; fill-opacity: 0.6; stroke: #2ca02c; stroke-opacity: 0.6; stroke-width: 1.1; stroke-linejoin: miter"/><path d="M 1857.6 387.8 L 1866.6 387.8 L 1866.6 378.8 L 1857.6 378.8 z" style="fill: #2ca02c; fill-opacity: 0.6; stroke: #2ca02c; stroke-opacity: 0.6; stroke-width: 1.1; stroke-linejoin: miter"/><path d="M 1855.8 390 L 1864.8 390 L 1864.8 381 L 1855.8 381 z" style="fill: #2ca02c; fill-opacity: 0.6; stroke: #2ca02c; stroke-opacity: 0.6; stroke-width: 1.1; stroke-linejoin: miter"/><path d="M 1854.1 392.1 L 1863.1 392.1 L 1863.1 383.1 L 1854.1 383.1 z" style="fill: #2ca02c; fill-opacity: 0.6; stroke: #2ca02c; stroke-opacity: 0.6; stroke-width: 1.1; stroke-linejoin: miter"/><path d="M 1852.6 394 L 1861.6 394 L 1861.6 385 L 1852.6 385 z" style="fill: #2ca02c; fill-opacity: 0.6; stroke: #2ca02c; stroke-opacity: 0.6; stroke-width: 1.1; stroke-linejoin: miter"/><path d="M 1851.2 395.7 L 1860.2 395.7 L 1860.2 386.7 L 1851.2 386.7 z" style="fill: #2ca02c; fill-opacity: 0.6; stroke: #2ca02c; stroke-opacity: 0.6; stroke-width: 1.1; stroke-linejoin: miter"/><path d="M 1850 397.2 L 1859 397.2 L 1859 388.2 L 1850 388.2 z" style="fill: #2ca02c; fill-opacity: 0.6; stroke: #2ca02c; stroke-opacity: 0.6; stroke-width: 1.1; stroke-linejoin: miter"/><path d="M 1848.9 398.6 L 1857.9 398.6 L 1857.9 389.6 L 1848.9 389.6 z" style="fill: #2ca02c; fill-opacity: 0.6; stroke: #2ca02c; stroke-opacity: 0.6; stroke-width: 1.1; stroke-linejoin: miter"/><path d="M 1847.9 399.9 L 1856.9 399.9 L 1856.9 390.9 L 1847.9 390.9 z" style="fill: #2ca02c; fill-opacity: 0.6; stroke: #2ca02c; stroke-opacity: 0.6; stroke-width: 1.1; stroke-linejoin: miter"/><path d="M 1847 401.1 L 1856 401.1 L 1856 392.1 L 1847 392.1 z" style="fill: #2ca02c; fill-opacity: 0.6; stroke: #2ca02c; stroke-opacity: 0.6; stroke-width: 1.1; stroke-linejoin: miter"/><path d="M 1846.2 402.1 L 1855.2 402.1 L 1855.2 393.1 L 1846.2 393.1 z" style="fill: #2ca02c; fill-opacity: 0.6; stroke: #2ca02c; stroke-opacity: 0.6; stroke-width: 1.1; stroke-linejoin: miter"/><path d="M 1845.5 403 L 1854.5 403 L 1854.5 394 L 1845.5 394 z" style="fill: #2ca02c; fill-opacity: 0.6; stroke: #2ca02c; stroke-opacity: 0.6; stroke-width: 1.1; stroke-linejoin: miter"/><path d="M 1844.9 403.8 L 1853.9 403.8 L 1853.9 394.8 L 1844.9 394.8 z" style="fill: #2ca02c; fill-opacity: 0.6; stroke: #2ca02c; stroke-opacity: 0.6; stroke-width: 1.1; stroke-linejoin: miter"/><path d="M 1844.4 404.6 L 1853.4 404.6 L 1853.4 395.6 L 1844.4 395.6 z" style="fill: #2ca02c; fill-opacity: 0.6; stroke: #2ca02c; stroke-opacity: 0.6; stroke-width: 1.1; stroke-linejoin: miter"/><path d="M 1843.9 405.2 L 1852.9 405.2 L 1852.9 396.2 L 1843.9 396.2 z" style="fill: #2ca02c; fill-opacity: 0.6; stroke: #2ca02c; stroke-opacity: 0.6; stroke-width: 1.1; stroke-linejoin: miter"/><path d="M 1843.5 405.8 L 1852.5 405.8 L 1852.5 396.8 L 1843.5 396.8 z" style="fill: #2ca02c; fill-opacity: 0.6; stroke: #2ca02c; stroke-opacity: 0.6; stroke-width: 1.1; stroke-linejoin: miter"/><path d="M 1843.2 406.2 L 1852.2 406.2 L 1852.2 397.2 L 1843.2 397.2 z" style="fill: #2ca02c; fill-opacity: 0.6; stroke: #2ca02c; stroke-opacity: 0.6; stroke-width: 1.1; stroke-linejoin: miter"/><path d="M 1842.9 406.7 L 1851.9 406.7 L 1851.9 397.7 L 1842.9 397.7 z" style="fill: #2ca02c; fill-opacity: 0.6; stroke: #2ca02c; stroke-opacity: 0.6; stroke-width: 1.1; stroke-linejoin: miter"/><path d="M 1842.6 407 L 1851.6 407 L 1851.6 398 L 1842.6 398 z" style="fill: #2ca02c; fill-opacity: 0.6; stroke: #2ca02c; stroke-opacity: 0.6; stroke-width: 1.1; stroke-linejoin: miter"/><path d="M 1842.4 407.4 L 1851.4 407.4 L 1851.4 398.4 L 1842.4 398.4 z" style="fill: #2ca02c; fill-opacity: 0.6; stroke: #2ca02c; stroke-opacity: 0.6; stroke-width: 1.1; stroke-linejoin: miter"/><path d="M 1842.2 407.6 L 1851.2 407.6 L 1851.2 398.6 L 1842.2 398.6 z" style="fill: #2ca02c; fill-opacity: 0.6; stroke: #2ca02c; stroke-opacity: 0.6; stroke-width: 1.1; stroke-linejoin: miter"/><path d="M 1842 407.9 L 1851 407.9 L 1851 398.9 L 1842 398.9 z" style="fill: #2ca02c; fill-opacity: 0.6; stroke: #2ca02c; stroke-opacity: 0.6; stroke-width: 1.1; stroke-linejoin: miter"/><path d="M 1841.9 408.1 L 1850.9 408.1 L 1850.9 399.1 L 1841.9 399.1 z" style="fill: #2ca02c; fill-opacity: 0.6; stroke: #2ca02c; stroke-opacity: 0.6; stroke-width: 1.1; stroke-linejoin: miter"/><path d="M 1841.7 408.3 L 1850.7 408.3 L 1850.7 399.3 L 1841.7 399.3 z" style="fill: #2ca02c; fill-opacity: 0.6; stroke: #2ca02c; stroke-opacity: 0.6; stroke-width: 1.1; stroke-linejoin: miter"/><path d="M 1841.6 408.4 L 1850.6 408.4 L 1850.6 399.4 L 1841.6 399.4 z" style="fill: #2ca02c; fill-opacity: 0.6; stroke: #2ca02c; stroke-opacity: 0.6; stroke-width: 1.1; stroke-linejoin: miter"/><path d="M 1841.6 408.5 L 1850.6 408.5 L 1850.6 399.5 L 1841.6 399.5 z" style="fill: #2ca02c; fill-opacity: 0.6; stroke: #2ca02c; stroke-opacity: 0.6; stroke-width: 1.1; stroke-linejoin: miter"/><path d="M 1841.5 408.7 L 1850.5 408.7 L 1850.5 399.7 L 1841.5 399.7 z" style="fill: #2ca02c; fill-opacity: 0.6; stroke: #2ca02c; stroke-opacity: 0.6; stroke-width: 1.1; stroke-linejoin: miter"/><path d="M 1841.4 408.7 L 1850.4 408.7 L 1850.4 399.7 L 1841.4 399.7 z" style="fill: #2ca02c; fill-opacity: 0.6; stroke: #2ca02c; stroke-opacity: 0.6; stroke-width: 1.1; stroke-linejoin: miter"/><path d="M 1841.4 408.8 L 1850.4 408.8 L 1850.4 399.8 L 1841.4 399.8 z" style="fill: #2ca02c; fill-opacity: 0.6; stroke: #2ca02c; stroke-opacity: 0.6; stroke-width: 1.1; stroke-linejoin: miter"/><path d="M 1841.3 408.9 L 1850.3 408.9 L 1850.3 399.9 L 1841.3 399.9 z" style="fill: #2ca02c; fill-opacity: 0.6; stroke: #2ca02c; stroke-opacity: 0.6; stroke-width: 1.1; stroke-linejoin: miter"/><path d="M 1841.3 408.9 L 1850.3 408.9 L 1850.3 399.9 L 1841.3 399.9 z" style="fill: #2ca02c; fill-opacity: 0.6; stroke: #2ca02c; stroke-opacity: 0.6; stroke-width: 1.1; stroke-linejoin: miter"/><path d="M 1841.3 409 L 1850.3 409 L 1850.3 400 L 1841.3 400 z" style="fill: #2ca02c; fill-opacity: 0.6; stroke: #2ca02c; stroke-opacity: 0.6; stroke-width: 1.1; stroke-linejoin: miter"/><path d="M 1841.2 409.2 L 1850.2 409.2 L 1850.2 400.2 L 1841.2 400.2 z" style="fill: #2ca02c; fill-opacity: 0.6; stroke: #2ca02c; stroke-opacity: 0.6; stroke-width: 1.1; stroke-linejoin: miter"/></g></g><g id="line2d_43"><path d="M 2084.7 170.1  L 2084.6 170.2  L 2084.6 170.2  L 2084.6 170.2  L 2084.5 170.3  L 2084.5 170.3  L 2084.4 170.3  L 2084.3 170.4  L 2084.3 170.4  L 2084.2 170.5  L 2084 170.6  L 2083.9 170.7  L 2083.7 170.8  L 2083.5 171  L 2083.3 171.1  L 2083 171.3  L 2082.7 171.5  L 2082.4 171.8  L 2082 172.1  L 2081.5 172.4  L 2081 172.9  L 2080.4 173.3  L 2079.7 173.8  L 2078.9 174.4  L 2078 175.1  L 2077 175.9  L 2075.9 176.8  L 2074.7 177.7  L 2073.3 178.8  L 2071.8 180  L 2070.1 181.4  L 2068.3 182.9  L 2066.2 184.5  L 2064.1 186.3  L 2061.7 188.3  L 2059.1 190.5  L 2056.3 192.8  L 2053.3 195.3  L 2050.2 198.1  L 2046.8 201  L 2043.1 204.1  L 2039.3 207.5  L 2035.3 211  L 2031.1 214.8  L 2026.6 218.7  L 2022 222.9  L 2017.2 227.2  L 2012.2 231.8  L 2007.1 236.5  L 2001.8 241.4  L 1996.4 246.4  L 1990.9 251.6  L 1985.3 256.9  L 1979.6 262.3  L 1973.9 267.8  L 1968.1 273.4  L 1962.3 279  L 1956.5 284.7  L 1950.8 290.3  L 1945.1 296  L 1939.5 301.6  L 1934 307.2  L 1928.6 312.7  L 1923.3 318.1  L 1918.2 323.4  L 1913.2 328.6  L 1908.4 333.6  L 1903.8 338.5  L 1899.3 343.2  L 1895.1 347.7  L 1891.1 352.1  L 1887.3 356.2  L 1883.6 360.2  L 1880.2 363.9  L 1877.1 367.5  L 1874.1 370.8  L 1871.3 373.9  L 1868.7 376.8  L 1866.3 379.6  L 1864.2 382.1  L 1862.1 384.4  L 1860.3 386.6  L 1858.6 388.5  L 1857.1 390.3  L 1855.7 392  L 1854.5 393.5  L 1853.4 394.8  L 1852.4 396  L 1851.5 397.1  L 1850.7 398.1  L 1850 398.9  L 1849.4 399.7  L 1848.9 400.4  L 1848.4 401  L 1848 401.5  L 1847.7 402  L 1847.4 402.4  L 1847.1 402.7  L 1846.9 403  L 1846.7 403.3  L 1846.5 403.5  L 1846.4 403.7  L 1846.2 403.8  L 1846.1 404  L 1846.1 404.1  L 1846 404.2  L 1845.9 404.3  L 1845.9 404.4  L 1845.8 404.4  L 1845.8 404.5  L 1845.8 404.5  L 1845.7 404.7  " clip-path="url(#pe194de15ee)" style="fill: none; stroke-dasharray: 8.5,3.7; stroke-dashoffset: 0; stroke: #d62728; stroke-opacity: 0.6; stroke-width: 2.3"/><g clip-path="url(#pe194de15ee)"><circle cx="2084.7" cy="170.1" r="4.5" style="fill: #d62728; fill-opacity: 0.6; stroke: #d62728; stroke-opacity: 0.6; stroke-width: 1.1"/><circle cx="2084.6" cy="170.2" r="4.5" style="fill: #d62728; fill-opacity: 0.6; stroke: #d62728; stroke-opacity: 0.6; stroke-width: 1.1"/><circle cx="2084.6" cy="170.2" r="4.5" style="fill: #d62728; fill-opacity: 0.6; stroke: #d62728; stroke-opacity: 0.6; stroke-width: 1.1"/><circle cx="2084.6" cy="170.2" r="4.5" style="fill: #d62728; fill-opacity: 0.6; stroke: #d62728; stroke-opacity: 0.6; stroke-width: 1.1"/><circle cx="2084.5" cy="170.3" r="4.5" style="fill: #d62728; fill-opacity: 0.6; stroke: #d62728; stroke-opacity: 0.6; stroke-width: 1.1"/><circle cx="2084.5" cy="170.3" r="4.5" style="fill: #d62728; fill-opacity: 0.6; stroke: #d62728; stroke-opacity: 0.6; stroke-width: 1.1"/><circle cx="2084.4" cy="170.3" r="4.5" style="fill: #d62728; fill-opacity: 0.6; stroke: #d62728; stroke-opacity: 0.6; stroke-width: 1.1"/><circle cx="2084.3" cy="170.4" r="4.5" style="fill: #d62728; fill-opacity: 0.6; stroke: #d62728; stroke-opacity: 0.6; stroke-width: 1.1"/><circle cx="2084.3" cy="170.4" r="4.5" style="fill: #d62728; fill-opacity: 0.6; stroke: #d62728; stroke-opacity: 0.6; stroke-width: 1.1"/><circle cx="2084.2" cy="170.5" r="4.5" style="fill: #d62728; fill-opacity: 0.6; stroke: #d62728; stroke-opacity: 0.6; stroke-width: 1.1"/><circle cx="2084" cy="170.6" r="4.5" style="fill: #d62728; fill-opacity: 0.6; stroke: #d62728; stroke-opacity: 0.6; stroke-width: 1.1"/><circle cx="2083.9" cy="170.7" r="4.5" style="fill: #d62728; fill-opacity: 0.6; stroke: #d62728; stroke-opacity: 0.6; stroke-width: 1.1"/><circle cx="2083.7" cy="170.8" r="4.5" style="fill: #d62728; fill-opacity: 0.6; stroke: #d62728; stroke-opacity: 0.6; stroke-width: 1.1"/><circle cx="2083.5" cy="171" r="4.5" style="fill: #d62728; fill-opacity: 0.6; stroke: #d62728; stroke-opacity: 0.6; stroke-width: 1.1"/><circle cx="2083.3" cy="171.1" r="4.5" style="fill: #d62728; fill-opacity: 0.6; stroke: #d62728; stroke-opacity: 0.6; stroke-width: 1.1"/><circle cx="2083" cy="171.3" r="4.5" style="fill: #d62728; fill-opacity: 0.6; stroke: #d62728; stroke-opacity: 0.6; stroke-width: 1.1"/><circle cx="2082.7" cy="171.5" r="4.5" style="fill: #d62728; fill-opacity: 0.6; stroke: #d62728; stroke-opacity: 0.6; stroke-width: 1.1"/><circle cx="2082.4" cy="171.8" r="4.5" style="fill: #d62728; fill-opacity: 0.6; stroke: #d62728; stroke-opacity: 0.6; stroke-width: 1.1"/><circle cx="2082" cy="172.1" r="4.5" style="fill: #d62728; fill-opacity: 0.6; stroke: #d62728; stroke-opacity: 0.6; stroke-width: 1.1"/><circle cx="2081.5" cy="172.4" r="4.5" style="fill: #d62728; fill-opacity: 0.6; stroke: #d62728; stroke-opacity: 0.6; stroke-width: 1.1"/><circle cx="2081" cy="172.9" r="4.5" style="fill: #d62728; fill-opacity: 0.6; stroke: #d62728; stroke-opacity: 0.6; stroke-width: 1.1"/><circle cx="2080.4" cy="173.3" r="4.5" style="fill: #d62728; fill-opacity: 0.6; stroke: #d62728; stroke-opacity: 0.6; stroke-width: 1.1"/><circle cx="2079.7" cy="173.8" r="4.5" style="fill: #d62728; fill-opacity: 0.6; stroke: #d62728; stroke-opacity: 0.6; stroke-width: 1.1"/><circle cx="2078.9" cy="174.4" r="4.5" style="fill: #d62728; fill-opacity: 0.6; stroke: #d62728; stroke-opacity: 0.6; stroke-width: 1.1"/><circle cx="2078" cy="175.1" r="4.5" style="fill: #d62728; fill-opacity: 0.6; stroke: #d62728; stroke-opacity: 0.6; stroke-width: 1.1"/><circle cx="2077" cy="175.9" r="4.5" style="fill: #d62728; fill-opacity: 0.6; stroke: #d62728; stroke-opacity: 0.6; stroke-width: 1.1"/><circle cx="2075.9" cy="176.8" r="4.5" style="fill: #d62728; fill-opacity: 0.6; stroke: #d62728; stroke-opacity: 0.6; stroke-width: 1.1"/><circle cx="2074.7" cy="177.7" r="4.5" style="fill: #d62728; fill-opacity: 0.6; stroke: #d62728; stroke-opacity: 0.6; stroke-width: 1.1"/><circle cx="2073.3" cy="178.8" r="4.5" style="fill: #d62728; fill-opacity: 0.6; stroke: #d62728; stroke-opacity: 0.6; stroke-width: 1.1"/><circle cx="2071.8" cy="180" r="4.5" style="fill: #d62728; fill-opacity: 0.6; stroke: #d62728; stroke-opacity: 0.6; stroke-width: 1.1"/><circle cx="2070.1" cy="181.4" r="4.5" style="fill: #d62728; fill-opacity: 0.6; stroke: #d62728; stroke-opacity: 0.6; stroke-width: 1.1"/><circle cx="2068.3" cy="182.9" r="4.5" style="fill: #d62728; fill-opacity: 0.6; stroke: #d62728; stroke-opacity: 0.6; stroke-width: 1.1"/><circle cx="2066.2" cy="184.5" r="4.5" style="fill: #d62728; fill-opacity: 0.6; stroke: #d62728; stroke-opacity: 0.6; stroke-width: 1.1"/><circle cx="2064.1" cy="186.3" r="4.5" style="fill: #d62728; fill-opacity: 0.6; stroke: #d62728; stroke-opacity: 0.6; stroke-width: 1.1"/><circle cx="2061.7" cy="188.3" r="4.5" style="fill: #d62728; fill-opacity: 0.6; stroke: #d62728; stroke-opacity: 0.6; stroke-width: 1.1"/><circle cx="2059.1" cy="190.5" r="4.5" style="fill: #d62728; fill-opacity: 0.6; stroke: #d62728; stroke-opacity: 0.6; stroke-width: 1.1"/><circle cx="2056.3" cy="192.8" r="4.5" style="fill: #d62728; fill-opacity: 0.6; stroke: #d62728; stroke-opacity: 0.6; stroke-width: 1.1"/><circle cx="2053.3" cy="195.3" r="4.5" style="fill: #d62728; fill-opacity: 0.6; stroke: #d62728; stroke-opacity: 0.6; stroke-width: 1.1"/><circle cx="2050.2" cy="198.1" r="4.5" style="fill: #d62728; fill-opacity: 0.6; stroke: #d62728; stroke-opacity: 0.6; stroke-width: 1.1"/><circle cx="2046.8" cy="201" r="4.5" style="fill: #d62728; fill-opacity: 0.6; stroke: #d62728; stroke-opacity: 0.6; stroke-width: 1.1"/><circle cx="2043.1" cy="204.1" r="4.5" style="fill: #d62728; fill-opacity: 0.6; stroke: #d62728; stroke-opacity: 0.6; stroke-width: 1.1"/><circle cx="2039.3" cy="207.5" r="4.5" style="fill: #d62728; fill-opacity: 0.6; stroke: #d62728; stroke-opacity: 0.6; stroke-width: 1.1"/><circle cx="2035.3" cy="211" r="4.5" style="fill: #d62728; fill-opacity: 0.6; stroke: #d62728; stroke-opacity: 0.6; stroke-width: 1.1"/><circle cx="2031.1" cy="214.8" r="4.5" style="fill: #d62728; fill-opacity: 0.6; stroke: #d62728; stroke-opacity: 0.6; stroke-width: 1.1"/><circle cx="2026.6" cy="218.7" r="4.5" style="fill: #d62728; fill-opacity: 0.6; stroke: #d62728; stroke-opacity: 0.6; stroke-width: 1.1"/><circle cx="2022" cy="222.9" r="4.5" style="fill: #d62728; fill-opacity: 0.6; stroke: #d62728; stroke-opacity: 0.6; stroke-width: 1.1"/><circle cx="2017.2" cy="227.2" r="4.5" style="fill: #d62728; fill-opacity: 0.6; stroke: #d62728; stroke-opacity: 0.6; stroke-width: 1.1"/><circle cx="2012.2" cy="231.8" r="4.5" style="fill: #d62728; fill-opacity: 0.6; stroke: #d62728; stroke-opacity: 0.6; stroke-width: 1.1"/><circle cx="2007.1" cy="236.5" r="4.5" style="fill: #d62728; fill-opacity: 0.6; stroke: #d62728; stroke-opacity: 0.6; stroke-width: 1.1"/><circle cx="2001.8" cy="241.4" r="4.5" style="fill: #d62728; fill-opacity: 0.6; stroke: #d62728; stroke-opacity: 0.6; stroke-width: 1.1"/><circle cx="1996.4" cy="246.4" r="4.5" style="fill: #d62728; fill-opacity: 0.6; stroke: #d62728; stroke-opacity: 0.6; stroke-width: 1.1"/><circle cx="1990.9" cy="251.6" r="4.5" style="fill: #d62728; fill-opacity: 0.6; stroke: #d62728; stroke-opacity: 0.6; stroke-width: 1.1"/><circle cx="1985.3" cy="256.9" r="4.5" style="fill: #d62728; fill-opacity: 0.6; stroke: #d62728; stroke-opacity: 0.6; stroke-width: 1.1"/><circle cx="1979.6" cy="262.3" r="4.5" style="fill: #d62728; fill-opacity: 0.6; stroke: #d62728; stroke-opacity: 0.6; stroke-width: 1.1"/><circle cx="1973.9" cy="267.8" r="4.5" style="fill: #d62728; fill-opacity: 0.6; stroke: #d62728; stroke-opacity: 0.6; stroke-width: 1.1"/><circle cx="1968.1" cy="273.4" r="4.5" style="fill: #d62728; fill-opacity: 0.6; stroke: #d62728; stroke-opacity: 0.6; stroke-width: 1.1"/><circle cx="1962.3" cy="279" r="4.5" style="fill: #d62728; fill-opacity: 0.6; stroke: #d62728; stroke-opacity: 0.6; stroke-width: 1.1"/><circle cx="1956.5" cy="284.7" r="4.5" style="fill: #d62728; fill-opacity: 0.6; stroke: #d62728; stroke-opacity: 0.6; stroke-width: 1.1"/><circle cx="1950.8" cy="290.3" r="4.5" style="fill: #d62728; fill-opacity: 0.6; stroke: #d62728; stroke-opacity: 0.6; stroke-width: 1.1"/><circle cx="1945.1" cy="296" r="4.5" style="fill: #d62728; fill-opacity: 0.6; stroke: #d62728; stroke-opacity: 0.6; stroke-width: 1.1"/><circle cx="1939.5" cy="301.6" r="4.5" style="fill: #d62728; fill-opacity: 0.6; stroke: #d62728; stroke-opacity: 0.6; stroke-width: 1.1"/><circle cx="1934" cy="307.2" r="4.5" style="fill: #d62728; fill-opacity: 0.6; stroke: #d62728; stroke-opacity: 0.6; stroke-width: 1.1"/><circle cx="1928.6" cy="312.7" r="4.5" style="fill: #d62728; fill-opacity: 0.6; stroke: #d62728; stroke-opacity: 0.6; stroke-width: 1.1"/><circle cx="1923.3" cy="318.1" r="4.5" style="fill: #d62728; fill-opacity: 0.6; stroke: #d62728; stroke-opacity: 0.6; stroke-width: 1.1"/><circle cx="1918.2" cy="323.4" r="4.5" style="fill: #d62728; fill-opacity: 0.6; stroke: #d62728; stroke-opacity: 0.6; stroke-width: 1.1"/><circle cx="1913.2" cy="328.6" r="4.5" style="fill: #d62728; fill-opacity: 0.6; stroke: #d62728; stroke-opacity: 0.6; stroke-width: 1.1"/><circle cx="1908.4" cy="333.6" r="4.5" style="fill: #d62728; fill-opacity: 0.6; stroke: #d62728; stroke-opacity: 0.6; stroke-width: 1.1"/><circle cx="1903.8" cy="338.5" r="4.5" style="fill: #d62728; fill-opacity: 0.6; stroke: #d62728; stroke-opacity: 0.6; stroke-width: 1.1"/><circle cx="1899.3" cy="343.2" r="4.5" style="fill: #d62728; fill-opacity: 0.6; stroke: #d62728; stroke-opacity: 0.6; stroke-width: 1.1"/><circle cx="1895.1" cy="347.7" r="4.5" style="fill: #d62728; fill-opacity: 0.6; stroke: #d62728; stroke-opacity: 0.6; stroke-width: 1.1"/><circle cx="1891.1" cy="352.1" r="4.5" style="fill: #d62728; fill-opacity: 0.6; stroke: #d62728; stroke-opacity: 0.6; stroke-width: 1.1"/><circle cx="1887.3" cy="356.2" r="4.5" style="fill: #d62728; fill-opacity: 0.6; stroke: #d62728; stroke-opacity: 0.6; stroke-width: 1.1"/><circle cx="1883.6" cy="360.2" r="4.5" style="fill: #d62728; fill-opacity: 0.6; stroke: #d62728; stroke-opacity: 0.6; stroke-width: 1.1"/><circle cx="1880.2" cy="363.9" r="4.5" style="fill: #d62728; fill-opacity: 0.6; stroke: #d62728; stroke-opacity: 0.6; stroke-width: 1.1"/><circle cx="1877.1" cy="367.5" r="4.5" style="fill: #d62728; fill-opacity: 0.6; stroke: #d62728; stroke-opacity: 0.6; stroke-width: 1.1"/><circle cx="1874.1" cy="370.8" r="4.5" style="fill: #d62728; fill-opacity: 0.6; stroke: #d62728; stroke-opacity: 0.6; stroke-width: 1.1"/><circle cx="1871.3" cy="373.9" r="4.5" style="fill: #d62728; fill-opacity: 0.6; stroke: #d62728; stroke-opacity: 0.6; stroke-width: 1.1"/><circle cx="1868.7" cy="376.8" r="4.5" style="fill: #d62728; fill-opacity: 0.6; stroke: #d62728; stroke-opacity: 0.6; stroke-width: 1.1"/><circle cx="1866.3" cy="379.6" r="4.5" style="fill: #d62728; fill-opacity: 0.6; stroke: #d62728; stroke-opacity: 0.6; stroke-width: 1.1"/><circle cx="1864.2" cy="382.1" r="4.5" style="fill: #d62728; fill-opacity: 0.6; stroke: #d62728; stroke-opacity: 0.6; stroke-width: 1.1"/><circle cx="1862.1" cy="384.4" r="4.5" style="fill: #d62728; fill-opacity: 0.6; stroke: #d62728; stroke-opacity: 0.6; stroke-width: 1.1"/><circle cx="1860.3" cy="386.6" r="4.5" style="fill: #d62728; fill-opacity: 0.6; stroke: #d62728; stroke-opacity: 0.6; stroke-width: 1.1"/><circle cx="1858.6" cy="388.5" r="4.5" style="fill: #d62728; fill-opacity: 0.6; stroke: #d62728; stroke-opacity: 0.6; stroke-width: 1.1"/><circle cx="1857.1" cy="390.3" r="4.5" style="fill: #d62728; fill-opacity: 0.6; stroke: #d62728; stroke-opacity: 0.6; stroke-width: 1.1"/><circle cx="1855.7" cy="392" r="4.5" style="fill: #d62728; fill-opacity: 0.6; stroke: #d62728; stroke-opacity: 0.6; stroke-width: 1.1"/><circle cx="1854.5" cy="393.5" r="4.5" style="fill: #d62728; fill-opacity: 0.6; stroke: #d62728; stroke-opacity: 0.6; stroke-width: 1.1"/><circle cx="1853.4" cy="394.8" r="4.5" style="fill: #d62728; fill-opacity: 0.6; stroke: #d62728; stroke-opacity: 0.6; stroke-width: 1.1"/><circle cx="1852.4" cy="396" r="4.5" style="fill: #d62728; fill-opacity: 0.6; stroke: #d62728; stroke-opacity: 0.6; stroke-width: 1.1"/><circle cx="1851.5" cy="397.1" r="4.5" style="fill: #d62728; fill-opacity: 0.6; stroke: #d62728; stroke-opacity: 0.6; stroke-width: 1.1"/><circle cx="1850.7" cy="398.1" r="4.5" style="fill: #d62728; fill-opacity: 0.6; stroke: #d62728; stroke-opacity: 0.6; stroke-width: 1.1"/><circle cx="1850" cy="398.9" r="4.5" style="fill: #d62728; fill-opacity: 0.6; stroke: #d62728; stroke-opacity: 0.6; stroke-width: 1.1"/><circle cx="1849.4" cy="399.7" r="4.5" style="fill: #d62728; fill-opacity: 0.6; stroke: #d62728; stroke-opacity: 0.6; stroke-width: 1.1"/><circle cx="1848.9" cy="400.4" r="4.5" style="fill: #d62728; fill-opacity: 0.6; stroke: #d62728; stroke-opacity: 0.6; stroke-width: 1.1"/><circle cx="1848.4" cy="401" r="4.5" style="fill: #d62728; fill-opacity: 0.6; stroke: #d62728; stroke-opacity: 0.6; stroke-width: 1.1"/><circle cx="1848" cy="401.5" r="4.5" style="fill: #d62728; fill-opacity: 0.6; stroke: #d62728; stroke-opacity: 0.6; stroke-width: 1.1"/><circle cx="1847.7" cy="402" r="4.5" style="fill: #d62728; fill-opacity: 0.6; stroke: #d62728; stroke-opacity: 0.6; stroke-width: 1.1"/><circle cx="1847.4" cy="402.4" r="4.5" style="fill: #d62728; fill-opacity: 0.6; stroke: #d62728; stroke-opacity: 0.6; stroke-width: 1.1"/><circle cx="1847.1" cy="402.7" r="4.5" style="fill: #d62728; fill-opacity: 0.6; stroke: #d62728; stroke-opacity: 0.6; stroke-width: 1.1"/><circle cx="1846.9" cy="403" r="4.5" style="fill: #d62728; fill-opacity: 0.6; stroke: #d62728; stroke-opacity: 0.6; stroke-width: 1.1"/><circle cx="1846.7" cy="403.3" r="4.5" style="fill: #d62728; fill-opacity: 0.6; stroke: #d62728; stroke-opacity: 0.6; stroke-width: 1.1"/><circle cx="1846.5" cy="403.5" r="4.5" style="fill: #d62728; fill-opacity: 0.6; stroke: #d62728; stroke-opacity: 0.6; stroke-width: 1.1"/><circle cx="1846.4" cy="403.7" r="4.5" style="fill: #d62728; fill-opacity: 0.6; stroke: #d62728; stroke-opacity: 0.6; stroke-width: 1.1"/><circle cx="1846.2" cy="403.8" r="4.5" style="fill: #d62728; fill-opacity: 0.6; stroke: #d62728; stroke-opacity: 0.6; stroke-width: 1.1"/><circle cx="1846.1" cy="404" r="4.5" style="fill: #d62728; fill-opacity: 0.6; stroke: #d62728; stroke-opacity: 0.6; stroke-width: 1.1"/><circle cx="1846.1" cy="404.1" r="4.5" style="fill: #d62728; fill-opacity: 0.6; stroke: #d62728; stroke-opacity: 0.6; stroke-width: 1.1"/><circle cx="1846" cy="404.2" r="4.5" style="fill: #d62728; fill-opacity: 0.6; stroke: #d62728; stroke-opacity: 0.6; stroke-width: 1.1"/><circle cx="1845.9" cy="404.3" r="4.5" style="fill: #d62728; fill-opacity: 0.6; stroke: #d62728; stroke-opacity: 0.6; stroke-width: 1.1"/><circle cx="1845.9" cy="404.4" r="4.5" style="fill: #d62728; fill-opacity: 0.6; stroke: #d62728; stroke-opacity: 0.6; stroke-width: 1.1"/><circle cx="1845.8" cy="404.4" r="4.5" style="fill: #d62728; fill-opacity: 0.6; stroke: #d62728; stroke-opacity: 0.6; stroke-width: 1.1"/><circle cx="1845.8" cy="404.5" r="4.5" style="fill: #d62728; fill-opacity: 0.6; stroke: #d62728; stroke-opacity: 0.6; stroke-width: 1.1"/><circle cx="1845.8" cy="404.5" r="4.5" style="fill: #d62728; fill-opacity: 0.6; stroke: #d62728; stroke-opacity: 0.6; stroke-width: 1.1"/><circle cx="1845.7" cy="404.7" r="4.5" style="fill: #d62728; fill-opacity: 0.6; stroke: #d62728; stroke-opacity: 0.6; stroke-width: 1.1"/></g></g><g id="line2d_44"><path d="M 2084.7 170.1  L 2084.6 170.2  L 2084.6 170.2  L 2084.6 170.2  L 2084.5 170.3  L 2084.5 170.3  L 2084.4 170.4  L 2084.3 170.4  L 2084.3 170.5  L 2084.2 170.5  L 2084 170.6  L 2083.9 170.7  L 2083.7 170.9  L 2083.5 171  L 2083.3 171.2  L 2083 171.4  L 2082.7 171.6  L 2082.4 171.9  L 2082 172.2  L 2081.5 172.6  L 2081 173  L 2080.4 173.5  L 2079.7 174  L 2078.9 174.7  L 2078 175.4  L 2077 176.2  L 2075.9 177.1  L 2074.7 178.1  L 2073.3 179.2  L 2071.8 180.5  L 2070.1 181.9  L 2068.3 183.4  L 2066.2 185.1  L 2064.1 187  L 2061.7 189  L 2059.1 191.2  L 2056.3 193.6  L 2053.3 196.2  L 2050.2 199  L 2046.8 202  L 2043.1 205.2  L 2039.3 208.6  L 2035.3 212.2  L 2031.1 216  L 2026.6 220.1  L 2022 224.3  L 2017.2 228.7  L 2012.2 233.3  L 2007.1 238.1  L 2001.8 243  L 1996.4 248.1  L 1990.9 253.3  L 1985.3 258.7  L 1979.6 264.1  L 1973.9 269.7  L 1968.1 275.2  L 1962.3 280.9  L 1956.5 286.5  L 1950.8 292.2  L 1945.1 297.9  L 1939.5 303.5  L 1934 309  L 1928.6 314.5  L 1923.3 319.9  L 1918.2 325.1  L 1913.2 330.2  L 1908.4 335.2  L 1903.8 340.1  L 1899.3 344.7  L 1895.1 349.2  L 1891.1 353.5  L 1887.3 357.6  L 1883.6 361.4  L 1880.2 365.1  L 1877.1 368.6  L 1874.1 371.9  L 1871.3 374.9  L 1868.7 377.8  L 1866.3 380.4  L 1864.2 382.9  L 1862.1 385.1  L 1860.3 387.2  L 1858.6 389.1  L 1857.1 390.9  L 1855.7 392.5  L 1854.5 393.9  L 1853.4 395.2  L 1852.4 396.4  L 1851.5 397.4  L 1850.7 398.4  L 1850 399.2  L 1849.4 399.9  L 1848.9 400.6  L 1848.4 401.2  L 1848 401.7  L 1847.7 402.1  L 1847.4 402.5  L 1847.1 402.8  L 1846.9 403.1  L 1846.7 403.4  L 1846.5 403.6  L 1846.4 403.7  L 1846.2 403.9  L 1846.1 404  L 1846.1 404.1  L 1846 404.2  L 1845.9 404.3  L 1845.9 404.4  L 1845.8 404.4  L 1845.8 404.5  L 1845.8 404.5  L 1845.7 404.7  " clip-path="url(#pe194de15ee)" style="fill: none; stroke-dasharray: 8.5,3.7; stroke-dashoffset: 0; stroke: #9467bd; stroke-opacity: 0.6; stroke-width: 2.3"/><g clip-path="url(#pe194de15ee)"><path d="M 2084.7 164.9 L 2079.5 175.4 L 2090 175.4 z" style="fill: #9467bd; fill-opacity: 0.6; stroke: #9467bd; stroke-opacity: 0.6; stroke-width: 1.1; stroke-linejoin: miter"/><path d="M 2084.6 165 L 2079.4 175.5 L 2089.9 175.5 z" style="fill: #9467bd; fill-opacity: 0.6; stroke: #9467bd; stroke-opacity: 0.6; stroke-width: 1.1; stroke-linejoin: miter"/><path d="M 2084.6 165 L 2079.4 175.5 L 2089.9 175.5 z" style="fill: #9467bd; fill-opacity: 0.6; stroke: #9467bd; stroke-opacity: 0.6; stroke-width: 1.1; stroke-linejoin: miter"/><path d="M 2084.6 165 L 2079.3 175.5 L 2089.8 175.5 z" style="fill: #9467bd; fill-opacity: 0.6; stroke: #9467bd; stroke-opacity: 0.6; stroke-width: 1.1; stroke-linejoin: miter"/><path d="M 2084.5 165 L 2079.3 175.5 L 2089.8 175.5 z" style="fill: #9467bd; fill-opacity: 0.6; stroke: #9467bd; stroke-opacity: 0.6; stroke-width: 1.1; stroke-linejoin: miter"/><path d="M 2084.5 165.1 L 2079.2 175.6 L 2089.7 175.6 z" style="fill: #9467bd; fill-opacity: 0.6; stroke: #9467bd; stroke-opacity: 0.6; stroke-width: 1.1; stroke-linejoin: miter"/><path d="M 2084.4 165.1 L 2079.2 175.6 L 2089.7 175.6 z" style="fill: #9467bd; fill-opacity: 0.6; stroke: #9467bd; stroke-opacity: 0.6; stroke-width: 1.1; stroke-linejoin: miter"/><path d="M 2084.3 165.2 L 2079.1 175.7 L 2089.6 175.7 z" style="fill: #9467bd; fill-opacity: 0.6; stroke: #9467bd; stroke-opacity: 0.6; stroke-width: 1.1; stroke-linejoin: miter"/><path d="M 2084.3 165.2 L 2079 175.7 L 2089.5 175.7 z" style="fill: #9467bd; fill-opacity: 0.6; stroke: #9467bd; stroke-opacity: 0.6; stroke-width: 1.1; stroke-linejoin: miter"/><path d="M 2084.2 165.3 L 2078.9 175.8 L 2089.4 175.8 z" style="fill: #9467bd; fill-opacity: 0.6; stroke: #9467bd; stroke-opacity: 0.6; stroke-width: 1.1; stroke-linejoin: miter"/><path d="M 2084 165.4 L 2078.8 175.9 L 2089.3 175.9 z" style="fill: #9467bd; fill-opacity: 0.6; stroke: #9467bd; stroke-opacity: 0.6; stroke-width: 1.1; stroke-linejoin: miter"/><path d="M 2083.9 165.5 L 2078.7 176 L 2089.2 176 z" style="fill: #9467bd; fill-opacity: 0.6; stroke: #9467bd; stroke-opacity: 0.6; stroke-width: 1.1; stroke-linejoin: miter"/><path d="M 2083.7 165.6 L 2078.5 176.1 L 2089 176.1 z" style="fill: #9467bd; fill-opacity: 0.6; stroke: #9467bd; stroke-opacity: 0.6; stroke-width: 1.1; stroke-linejoin: miter"/><path d="M 2083.5 165.8 L 2078.3 176.3 L 2088.8 176.3 z" style="fill: #9467bd; fill-opacity: 0.6; stroke: #9467bd; stroke-opacity: 0.6; stroke-width: 1.1; stroke-linejoin: miter"/><path d="M 2083.3 165.9 L 2078.1 176.4 L 2088.6 176.4 z" style="fill: #9467bd; fill-opacity: 0.6; stroke: #9467bd; stroke-opacity: 0.6; stroke-width: 1.1; stroke-linejoin: miter"/><path d="M 2083 166.1 L 2077.8 176.6 L 2088.3 176.6 z" style="fill: #9467bd; fill-opacity: 0.6; stroke: #9467bd; stroke-opacity: 0.6; stroke-width: 1.1; stroke-linejoin: miter"/><path d="M 2082.7 166.4 L 2077.5 176.9 L 2088 176.9 z" style="fill: #9467bd; fill-opacity: 0.6; stroke: #9467bd; stroke-opacity: 0.6; stroke-width: 1.1; stroke-linejoin: miter"/><path d="M 2082.4 166.6 L 2077.1 177.1 L 2087.6 177.1 z" style="fill: #9467bd; fill-opacity: 0.6; stroke: #9467bd; stroke-opacity: 0.6; stroke-width: 1.1; stroke-linejoin: miter"/><path d="M 2082 167 L 2076.7 177.5 L 2087.2 177.5 z" style="fill: #9467bd; fill-opacity: 0.6; stroke: #9467bd; stroke-opacity: 0.6; stroke-width: 1.1; stroke-linejoin: miter"/><path d="M 2081.5 167.3 L 2076.3 177.8 L 2086.8 177.8 z" style="fill: #9467bd; fill-opacity: 0.6; stroke: #9467bd; stroke-opacity: 0.6; stroke-width: 1.1; stroke-linejoin: miter"/><path d="M 2081 167.7 L 2075.7 178.2 L 2086.2 178.2 z" style="fill: #9467bd; fill-opacity: 0.6; stroke: #9467bd; stroke-opacity: 0.6; stroke-width: 1.1; stroke-linejoin: miter"/><path d="M 2080.4 168.2 L 2075.1 178.7 L 2085.6 178.7 z" style="fill: #9467bd; fill-opacity: 0.6; stroke: #9467bd; stroke-opacity: 0.6; stroke-width: 1.1; stroke-linejoin: miter"/><path d="M 2079.7 168.8 L 2074.4 179.3 L 2084.9 179.3 z" style="fill: #9467bd; fill-opacity: 0.6; stroke: #9467bd; stroke-opacity: 0.6; stroke-width: 1.1; stroke-linejoin: miter"/><path d="M 2078.9 169.4 L 2073.6 179.9 L 2084.1 179.9 z" style="fill: #9467bd; fill-opacity: 0.6; stroke: #9467bd; stroke-opacity: 0.6; stroke-width: 1.1; stroke-linejoin: miter"/><path d="M 2078 170.1 L 2072.7 180.6 L 2083.2 180.6 z" style="fill: #9467bd; fill-opacity: 0.6; stroke: #9467bd; stroke-opacity: 0.6; stroke-width: 1.1; stroke-linejoin: miter"/><path d="M 2077 170.9 L 2071.8 181.4 L 2082.3 181.4 z" style="fill: #9467bd; fill-opacity: 0.6; stroke: #9467bd; stroke-opacity: 0.6; stroke-width: 1.1; stroke-linejoin: miter"/><path d="M 2075.9 171.8 L 2070.6 182.3 L 2081.1 182.3 z" style="fill: #9467bd; fill-opacity: 0.6; stroke: #9467bd; stroke-opacity: 0.6; stroke-width: 1.1; stroke-linejoin: miter"/><path d="M 2074.7 172.8 L 2069.4 183.3 L 2079.9 183.3 z" style="fill: #9467bd; fill-opacity: 0.6; stroke: #9467bd; stroke-opacity: 0.6; stroke-width: 1.1; stroke-linejoin: miter"/><path d="M 2073.3 174 L 2068 184.5 L 2078.5 184.5 z" style="fill: #9467bd; fill-opacity: 0.6; stroke: #9467bd; stroke-opacity: 0.6; stroke-width: 1.1; stroke-linejoin: miter"/><path d="M 2071.8 175.2 L 2066.5 185.7 L 2077 185.7 z" style="fill: #9467bd; fill-opacity: 0.6; stroke: #9467bd; stroke-opacity: 0.6; stroke-width: 1.1; stroke-linejoin: miter"/><path d="M 2070.1 176.6 L 2064.8 187.1 L 2075.3 187.1 z" style="fill: #9467bd; fill-opacity: 0.6; stroke: #9467bd; stroke-opacity: 0.6; stroke-width: 1.1; stroke-linejoin: miter"/><path d="M 2068.3 178.2 L 2063 188.7 L 2073.5 188.7 z" style="fill: #9467bd; fill-opacity: 0.6; stroke: #9467bd; stroke-opacity: 0.6; stroke-width: 1.1; stroke-linejoin: miter"/><path d="M 2066.2 179.9 L 2061 190.4 L 2071.5 190.4 z" style="fill: #9467bd; fill-opacity: 0.6; stroke: #9467bd; stroke-opacity: 0.6; stroke-width: 1.1; stroke-linejoin: miter"/><path d="M 2064.1 181.7 L 2058.8 192.2 L 2069.3 192.2 z" style="fill: #9467bd; fill-opacity: 0.6; stroke: #9467bd; stroke-opacity: 0.6; stroke-width: 1.1; stroke-linejoin: miter"/><path d="M 2061.7 183.8 L 2056.4 194.3 L 2066.9 194.3 z" style="fill: #9467bd; fill-opacity: 0.6; stroke: #9467bd; stroke-opacity: 0.6; stroke-width: 1.1; stroke-linejoin: miter"/><path d="M 2059.1 186 L 2053.9 196.5 L 2064.4 196.5 z" style="fill: #9467bd; fill-opacity: 0.6; stroke: #9467bd; stroke-opacity: 0.6; stroke-width: 1.1; stroke-linejoin: miter"/><path d="M 2056.3 188.4 L 2051.1 198.9 L 2061.6 198.9 z" style="fill: #9467bd; fill-opacity: 0.6; stroke: #9467bd; stroke-opacity: 0.6; stroke-width: 1.1; stroke-linejoin: miter"/><path d="M 2053.3 191 L 2048.1 201.5 L 2058.6 201.5 z" style="fill: #9467bd; fill-opacity: 0.6; stroke: #9467bd; stroke-opacity: 0.6; stroke-width: 1.1; stroke-linejoin: miter"/><path d="M 2050.2 193.7 L 2044.9 204.2 L 2055.4 204.2 z" style="fill: #9467bd; fill-opacity: 0.6; stroke: #9467bd; stroke-opacity: 0.6; stroke-width: 1.1; stroke-linejoin: miter"/><path d="M 2046.8 196.7 L 2041.5 207.2 L 2052 207.2 z" style="fill: #9467bd; fill-opacity: 0.6; stroke: #9467bd; stroke-opacity: 0.6; stroke-width: 1.1; stroke-linejoin: miter"/><path d="M 2043.1 199.9 L 2037.9 210.4 L 2048.4 210.4 z" style="fill: #9467bd; fill-opacity: 0.6; stroke: #9467bd; stroke-opacity: 0.6; stroke-width: 1.1; stroke-linejoin: miter"/><path d="M 2039.3 203.4 L 2034.1 213.9 L 2044.6 213.9 z" style="fill: #9467bd; fill-opacity: 0.6; stroke: #9467bd; stroke-opacity: 0.6; stroke-width: 1.1; stroke-linejoin: miter"/><path d="M 2035.3 207 L 2030 217.5 L 2040.5 217.5 z" style="fill: #9467bd; fill-opacity: 0.6; stroke: #9467bd; stroke-opacity: 0.6; stroke-width: 1.1; stroke-linejoin: miter"/><path d="M 2031.1 210.8 L 2025.8 221.3 L 2036.3 221.3 z" style="fill: #9467bd; fill-opacity: 0.6; stroke: #9467bd; stroke-opacity: 0.6; stroke-width: 1.1; stroke-linejoin: miter"/><path d="M 2026.6 214.8 L 2021.4 225.3 L 2031.9 225.3 z" style="fill: #9467bd; fill-opacity: 0.6; stroke: #9467bd; stroke-opacity: 0.6; stroke-width: 1.1; stroke-linejoin: miter"/><path d="M 2022 219 L 2016.7 229.5 L 2027.2 229.5 z" style="fill: #9467bd; fill-opacity: 0.6; stroke: #9467bd; stroke-opacity: 0.6; stroke-width: 1.1; stroke-linejoin: miter"/><path d="M 2017.2 223.5 L 2011.9 234 L 2022.4 234 z" style="fill: #9467bd; fill-opacity: 0.6; stroke: #9467bd; stroke-opacity: 0.6; stroke-width: 1.1; stroke-linejoin: miter"/><path d="M 2012.2 228.1 L 2007 238.6 L 2017.5 238.6 z" style="fill: #9467bd; fill-opacity: 0.6; stroke: #9467bd; stroke-opacity: 0.6; stroke-width: 1.1; stroke-linejoin: miter"/><path d="M 2007.1 232.8 L 2001.8 243.3 L 2012.3 243.3 z" style="fill: #9467bd; fill-opacity: 0.6; stroke: #9467bd; stroke-opacity: 0.6; stroke-width: 1.1; stroke-linejoin: miter"/><path d="M 2001.8 237.8 L 1996.5 248.3 L 2007 248.3 z" style="fill: #9467bd; fill-opacity: 0.6; stroke: #9467bd; stroke-opacity: 0.6; stroke-width: 1.1; stroke-linejoin: miter"/><path d="M 1996.4 242.9 L 1991.1 253.4 L 2001.6 253.4 z" style="fill: #9467bd; fill-opacity: 0.6; stroke: #9467bd; stroke-opacity: 0.6; stroke-width: 1.1; stroke-linejoin: miter"/><path d="M 1990.9 248.1 L 1985.6 258.6 L 1996.1 258.6 z" style="fill: #9467bd; fill-opacity: 0.6; stroke: #9467bd; stroke-opacity: 0.6; stroke-width: 1.1; stroke-linejoin: miter"/><path d="M 1985.3 253.4 L 1980 263.9 L 1990.5 263.9 z" style="fill: #9467bd; fill-opacity: 0.6; stroke: #9467bd; stroke-opacity: 0.6; stroke-width: 1.1; stroke-linejoin: miter"/><path d="M 1979.6 258.9 L 1974.3 269.4 L 1984.8 269.4 z" style="fill: #9467bd; fill-opacity: 0.6; stroke: #9467bd; stroke-opacity: 0.6; stroke-width: 1.1; stroke-linejoin: miter"/><path d="M 1973.9 264.4 L 1968.6 274.9 L 1979.1 274.9 z" style="fill: #9467bd; fill-opacity: 0.6; stroke: #9467bd; stroke-opacity: 0.6; stroke-width: 1.1; stroke-linejoin: miter"/><path d="M 1968.1 270 L 1962.8 280.5 L 1973.3 280.5 z" style="fill: #9467bd; fill-opacity: 0.6; stroke: #9467bd; stroke-opacity: 0.6; stroke-width: 1.1; stroke-linejoin: miter"/><path d="M 1962.3 275.6 L 1957.1 286.1 L 1967.6 286.1 z" style="fill: #9467bd; fill-opacity: 0.6; stroke: #9467bd; stroke-opacity: 0.6; stroke-width: 1.1; stroke-linejoin: miter"/><path d="M 1956.5 281.3 L 1951.3 291.8 L 1961.8 291.8 z" style="fill: #9467bd; fill-opacity: 0.6; stroke: #9467bd; stroke-opacity: 0.6; stroke-width: 1.1; stroke-linejoin: miter"/><path d="M 1950.8 287 L 1945.6 297.5 L 1956.1 297.5 z" style="fill: #9467bd; fill-opacity: 0.6; stroke: #9467bd; stroke-opacity: 0.6; stroke-width: 1.1; stroke-linejoin: miter"/><path d="M 1945.1 292.6 L 1939.9 303.1 L 1950.4 303.1 z" style="fill: #9467bd; fill-opacity: 0.6; stroke: #9467bd; stroke-opacity: 0.6; stroke-width: 1.1; stroke-linejoin: miter"/><path d="M 1939.5 298.2 L 1934.3 308.7 L 1944.8 308.7 z" style="fill: #9467bd; fill-opacity: 0.6; stroke: #9467bd; stroke-opacity: 0.6; stroke-width: 1.1; stroke-linejoin: miter"/><path d="M 1934 303.8 L 1928.8 314.3 L 1939.3 314.3 z" style="fill: #9467bd; fill-opacity: 0.6; stroke: #9467bd; stroke-opacity: 0.6; stroke-width: 1.1; stroke-linejoin: miter"/><path d="M 1928.6 309.2 L 1923.4 319.7 L 1933.9 319.7 z" style="fill: #9467bd; fill-opacity: 0.6; stroke: #9467bd; stroke-opacity: 0.6; stroke-width: 1.1; stroke-linejoin: miter"/><path d="M 1923.3 314.6 L 1918.1 325.1 L 1928.6 325.1 z" style="fill: #9467bd; fill-opacity: 0.6; stroke: #9467bd; stroke-opacity: 0.6; stroke-width: 1.1; stroke-linejoin: miter"/><path d="M 1918.2 319.9 L 1912.9 330.4 L 1923.4 330.4 z" style="fill: #9467bd; fill-opacity: 0.6; stroke: #9467bd; stroke-opacity: 0.6; stroke-width: 1.1; stroke-linejoin: miter"/><path d="M 1913.2 325 L 1908 335.5 L 1918.5 335.5 z" style="fill: #9467bd; fill-opacity: 0.6; stroke: #9467bd; stroke-opacity: 0.6; stroke-width: 1.1; stroke-linejoin: miter"/><path d="M 1908.4 330 L 1903.2 340.5 L 1913.7 340.5 z" style="fill: #9467bd; fill-opacity: 0.6; stroke: #9467bd; stroke-opacity: 0.6; stroke-width: 1.1; stroke-linejoin: miter"/><path d="M 1903.8 334.8 L 1898.5 345.3 L 1909 345.3 z" style="fill: #9467bd; fill-opacity: 0.6; stroke: #9467bd; stroke-opacity: 0.6; stroke-width: 1.1; stroke-linejoin: miter"/><path d="M 1899.3 339.5 L 1894.1 350 L 1904.6 350 z" style="fill: #9467bd; fill-opacity: 0.6; stroke: #9467bd; stroke-opacity: 0.6; stroke-width: 1.1; stroke-linejoin: miter"/><path d="M 1895.1 343.9 L 1889.9 354.4 L 1900.4 354.4 z" style="fill: #9467bd; fill-opacity: 0.6; stroke: #9467bd; stroke-opacity: 0.6; stroke-width: 1.1; stroke-linejoin: miter"/><path d="M 1891.1 348.2 L 1885.8 358.7 L 1896.3 358.7 z" style="fill: #9467bd; fill-opacity: 0.6; stroke: #9467bd; stroke-opacity: 0.6; stroke-width: 1.1; stroke-linejoin: miter"/><path d="M 1887.3 352.3 L 1882 362.8 L 1892.5 362.8 z" style="fill: #9467bd; fill-opacity: 0.6; stroke: #9467bd; stroke-opacity: 0.6; stroke-width: 1.1; stroke-linejoin: miter"/><path d="M 1883.6 356.2 L 1878.4 366.7 L 1888.9 366.7 z" style="fill: #9467bd; fill-opacity: 0.6; stroke: #9467bd; stroke-opacity: 0.6; stroke-width: 1.1; stroke-linejoin: miter"/><path d="M 1880.2 359.9 L 1875 370.4 L 1885.5 370.4 z" style="fill: #9467bd; fill-opacity: 0.6; stroke: #9467bd; stroke-opacity: 0.6; stroke-width: 1.1; stroke-linejoin: miter"/><path d="M 1877.1 363.3 L 1871.8 373.8 L 1882.3 373.8 z" style="fill: #9467bd; fill-opacity: 0.6; stroke: #9467bd; stroke-opacity: 0.6; stroke-width: 1.1; stroke-linejoin: miter"/><path d="M 1874.1 366.6 L 1868.8 377.1 L 1879.3 377.1 z" style="fill: #9467bd; fill-opacity: 0.6; stroke: #9467bd; stroke-opacity: 0.6; stroke-width: 1.1; stroke-linejoin: miter"/><path d="M 1871.3 369.7 L 1866 380.2 L 1876.5 380.2 z" style="fill: #9467bd; fill-opacity: 0.6; stroke: #9467bd; stroke-opacity: 0.6; stroke-width: 1.1; stroke-linejoin: miter"/><path d="M 1868.7 372.5 L 1863.5 383 L 1874 383 z" style="fill: #9467bd; fill-opacity: 0.6; stroke: #9467bd; stroke-opacity: 0.6; stroke-width: 1.1; stroke-linejoin: miter"/><path d="M 1866.3 375.2 L 1861.1 385.7 L 1871.6 385.7 z" style="fill: #9467bd; fill-opacity: 0.6; stroke: #9467bd; stroke-opacity: 0.6; stroke-width: 1.1; stroke-linejoin: miter"/><path d="M 1864.2 377.6 L 1858.9 388.1 L 1869.4 388.1 z" style="fill: #9467bd; fill-opacity: 0.6; stroke: #9467bd; stroke-opacity: 0.6; stroke-width: 1.1; stroke-linejoin: miter"/><path d="M 1862.1 379.9 L 1856.9 390.4 L 1867.4 390.4 z" style="fill: #9467bd; fill-opacity: 0.6; stroke: #9467bd; stroke-opacity: 0.6; stroke-width: 1.1; stroke-linejoin: miter"/><path d="M 1860.3 382 L 1855.1 392.5 L 1865.6 392.5 z" style="fill: #9467bd; fill-opacity: 0.6; stroke: #9467bd; stroke-opacity: 0.6; stroke-width: 1.1; stroke-linejoin: miter"/><path d="M 1858.6 383.9 L 1853.4 394.4 L 1863.9 394.4 z" style="fill: #9467bd; fill-opacity: 0.6; stroke: #9467bd; stroke-opacity: 0.6; stroke-width: 1.1; stroke-linejoin: miter"/><path d="M 1857.1 385.6 L 1851.9 396.1 L 1862.4 396.1 z" style="fill: #9467bd; fill-opacity: 0.6; stroke: #9467bd; stroke-opacity: 0.6; stroke-width: 1.1; stroke-linejoin: miter"/><path d="M 1855.7 387.2 L 1850.5 397.7 L 1861 397.7 z" style="fill: #9467bd; fill-opacity: 0.6; stroke: #9467bd; stroke-opacity: 0.6; stroke-width: 1.1; stroke-linejoin: miter"/><path d="M 1854.5 388.7 L 1849.3 399.2 L 1859.8 399.2 z" style="fill: #9467bd; fill-opacity: 0.6; stroke: #9467bd; stroke-opacity: 0.6; stroke-width: 1.1; stroke-linejoin: miter"/><path d="M 1853.4 390 L 1848.1 400.5 L 1858.6 400.5 z" style="fill: #9467bd; fill-opacity: 0.6; stroke: #9467bd; stroke-opacity: 0.6; stroke-width: 1.1; stroke-linejoin: miter"/><path d="M 1852.4 391.1 L 1847.2 401.6 L 1857.7 401.6 z" style="fill: #9467bd; fill-opacity: 0.6; stroke: #9467bd; stroke-opacity: 0.6; stroke-width: 1.1; stroke-linejoin: miter"/><path d="M 1851.5 392.2 L 1846.3 402.7 L 1856.8 402.7 z" style="fill: #9467bd; fill-opacity: 0.6; stroke: #9467bd; stroke-opacity: 0.6; stroke-width: 1.1; stroke-linejoin: miter"/><path d="M 1850.7 393.1 L 1845.5 403.6 L 1856 403.6 z" style="fill: #9467bd; fill-opacity: 0.6; stroke: #9467bd; stroke-opacity: 0.6; stroke-width: 1.1; stroke-linejoin: miter"/><path d="M 1850 393.9 L 1844.8 404.4 L 1855.3 404.4 z" style="fill: #9467bd; fill-opacity: 0.6; stroke: #9467bd; stroke-opacity: 0.6; stroke-width: 1.1; stroke-linejoin: miter"/><path d="M 1849.4 394.7 L 1844.2 405.2 L 1854.7 405.2 z" style="fill: #9467bd; fill-opacity: 0.6; stroke: #9467bd; stroke-opacity: 0.6; stroke-width: 1.1; stroke-linejoin: miter"/><path d="M 1848.9 395.3 L 1843.6 405.8 L 1854.1 405.8 z" style="fill: #9467bd; fill-opacity: 0.6; stroke: #9467bd; stroke-opacity: 0.6; stroke-width: 1.1; stroke-linejoin: miter"/><path d="M 1848.4 395.9 L 1843.2 406.4 L 1853.7 406.4 z" style="fill: #9467bd; fill-opacity: 0.6; stroke: #9467bd; stroke-opacity: 0.6; stroke-width: 1.1; stroke-linejoin: miter"/><path d="M 1848 396.4 L 1842.8 406.9 L 1853.3 406.9 z" style="fill: #9467bd; fill-opacity: 0.6; stroke: #9467bd; stroke-opacity: 0.6; stroke-width: 1.1; stroke-linejoin: miter"/><path d="M 1847.7 396.9 L 1842.4 407.4 L 1852.9 407.4 z" style="fill: #9467bd; fill-opacity: 0.6; stroke: #9467bd; stroke-opacity: 0.6; stroke-width: 1.1; stroke-linejoin: miter"/><path d="M 1847.4 397.2 L 1842.1 407.7 L 1852.6 407.7 z" style="fill: #9467bd; fill-opacity: 0.6; stroke: #9467bd; stroke-opacity: 0.6; stroke-width: 1.1; stroke-linejoin: miter"/><path d="M 1847.1 397.6 L 1841.8 408.1 L 1852.3 408.1 z" style="fill: #9467bd; fill-opacity: 0.6; stroke: #9467bd; stroke-opacity: 0.6; stroke-width: 1.1; stroke-linejoin: miter"/><path d="M 1846.9 397.9 L 1841.6 408.4 L 1852.1 408.4 z" style="fill: #9467bd; fill-opacity: 0.6; stroke: #9467bd; stroke-opacity: 0.6; stroke-width: 1.1; stroke-linejoin: miter"/><path d="M 1846.7 398.1 L 1841.4 408.6 L 1851.9 408.6 z" style="fill: #9467bd; fill-opacity: 0.6; stroke: #9467bd; stroke-opacity: 0.6; stroke-width: 1.1; stroke-linejoin: miter"/><path d="M 1846.5 398.3 L 1841.2 408.8 L 1851.7 408.8 z" style="fill: #9467bd; fill-opacity: 0.6; stroke: #9467bd; stroke-opacity: 0.6; stroke-width: 1.1; stroke-linejoin: miter"/><path d="M 1846.4 398.5 L 1841.1 409 L 1851.6 409 z" style="fill: #9467bd; fill-opacity: 0.6; stroke: #9467bd; stroke-opacity: 0.6; stroke-width: 1.1; stroke-linejoin: miter"/><path d="M 1846.2 398.6 L 1841 409.1 L 1851.5 409.1 z" style="fill: #9467bd; fill-opacity: 0.6; stroke: #9467bd; stroke-opacity: 0.6; stroke-width: 1.1; stroke-linejoin: miter"/><path d="M 1846.1 398.8 L 1840.9 409.3 L 1851.4 409.3 z" style="fill: #9467bd; fill-opacity: 0.6; stroke: #9467bd; stroke-opacity: 0.6; stroke-width: 1.1; stroke-linejoin: miter"/><path d="M 1846.1 398.9 L 1840.8 409.4 L 1851.3 409.4 z" style="fill: #9467bd; fill-opacity: 0.6; stroke: #9467bd; stroke-opacity: 0.6; stroke-width: 1.1; stroke-linejoin: miter"/><path d="M 1846 399 L 1840.7 409.5 L 1851.2 409.5 z" style="fill: #9467bd; fill-opacity: 0.6; stroke: #9467bd; stroke-opacity: 0.6; stroke-width: 1.1; stroke-linejoin: miter"/><path d="M 1845.9 399.1 L 1840.7 409.6 L 1851.2 409.6 z" style="fill: #9467bd; fill-opacity: 0.6; stroke: #9467bd; stroke-opacity: 0.6; stroke-width: 1.1; stroke-linejoin: miter"/><path d="M 1845.9 399.1 L 1840.6 409.6 L 1851.1 409.6 z" style="fill: #9467bd; fill-opacity: 0.6; stroke: #9467bd; stroke-opacity: 0.6; stroke-width: 1.1; stroke-linejoin: miter"/><path d="M 1845.8 399.2 L 1840.6 409.7 L 1851.1 409.7 z" style="fill: #9467bd; fill-opacity: 0.6; stroke: #9467bd; stroke-opacity: 0.6; stroke-width: 1.1; stroke-linejoin: miter"/><path d="M 1845.8 399.2 L 1840.5 409.7 L 1851 409.7 z" style="fill: #9467bd; fill-opacity: 0.6; stroke: #9467bd; stroke-opacity: 0.6; stroke-width: 1.1; stroke-linejoin: miter"/><path d="M 1845.8 399.3 L 1840.5 409.8 L 1851 409.8 z" style="fill: #9467bd; fill-opacity: 0.6; stroke: #9467bd; stroke-opacity: 0.6; stroke-width: 1.1; stroke-linejoin: miter"/><path d="M 1845.7 399.4 L 1840.4 409.9 L 1850.9 409.9 z" style="fill: #9467bd; fill-opacity: 0.6; stroke: #9467bd; stroke-opacity: 0.6; stroke-width: 1.1; stroke-linejoin: miter"/></g></g></g><g id="axes_6"><g id="patch_35"><path d="M 1833.7 829.1  L 2096.7 829.1  L 2096.7 571.3  L 1833.7 571.3  z " style="fill: #ffffff"/></g><g id="line2d_45"><path d="M 1845.7 817.4  L 2084.7 583  " clip-path="url(#p5f0794fb83)" style="fill: none; stroke-dasharray: 21,10; stroke-dashoffset: 0; stroke: #d6d6d6; stroke-width: 5"/></g><g id="matplotlib.axis_11"><g id="xtick_14"><g id="line2d_46"><g><path d="M 1845.7 829.1 L 1845.7 834.1" style="stroke: #000000; stroke-width: 1.1"/></g></g><g id="text_52"><text style="font-size: 23.8px; font-family: 'DejaVu Sans', sans-serif; text-anchor: middle" x="1845.7" y="858.5" transform="rotate(-0 1845.7 858.5)">0</text></g></g><g id="xtick_15"><g id="line2d_47"><g><path d="M 2084.7 829.1 L 2084.7 834.1" style="stroke: #000000; stroke-width: 1.1"/></g></g><g id="text_53"><text style="font-size: 23.8px; font-family: 'DejaVu Sans', sans-serif; text-anchor: middle" x="2084.7" y="858.5" transform="rotate(-0 2084.7 858.5)">1</text></g></g><g id="text_54"><text style="font-size: 29px; font-family: 'DejaVu Sans', sans-serif; text-anchor: middle" x="1965.2" y="892" transform="rotate(-0 1965.2 892)">False Positive (FP)</text></g></g><g id="matplotlib.axis_12"><g id="ytick_25"><g id="line2d_48"><g><path d="M 1833.7 817.4 L 1828.7 817.4" style="stroke: #000000; stroke-width: 1.1"/></g></g><g id="text_55"><text style="font-size: 23.8px; font-family: 'DejaVu Sans', sans-serif; text-anchor: end" x="1822.4" y="826.4" transform="rotate(-0 1822.4 826.4)">0</text></g></g><g id="ytick_26"><g id="line2d_49"><g><path d="M 1833.7 583 L 1828.7 583" style="stroke: #000000; stroke-width: 1.1"/></g></g><g id="text_56"><text style="font-size: 23.8px; font-family: 'DejaVu Sans', sans-serif; text-anchor: end" x="1822.4" y="592.1" transform="rotate(-0 1822.4 592.1)">1</text></g></g><g id="text_57"><text style="font-size: 29px; font-family: 'DejaVu Sans', sans-serif; text-anchor: middle" x="1794.4" y="700.2" transform="rotate(-90 1794.4 700.2)">True Positive (TP)</text></g></g><g id="line2d_50"><path d="M 2084.7 583  L 2084.6 583.1  L 2084.6 583.1  L 2084.6 583.1  L 2084.5 583.2  L 2084.5 583.2  L 2084.4 583.3  L 2084.3 583.3  L 2084.3 583.4  L 2084.2 583.4  L 2084 583.5  L 2083.9 583.6  L 2083.7 583.7  L 2083.5 583.9  L 2083.3 584  L 2083 584.2  L 2082.7 584.4  L 2082.4 584.7  L 2082 585  L 2081.5 585.3  L 2081 585.7  L 2080.4 586.2  L 2079.7 586.6  L 2078.9 587.2  L 2078 587.9  L 2077 588.6  L 2075.9 589.4  L 2074.7 590.3  L 2073.3 591.3  L 2071.8 592.4  L 2070.1 593.6  L 2068.3 595  L 2066.2 596.5  L 2064.1 598.1  L 2061.7 599.9  L 2059.1 601.9  L 2056.3 604  L 2053.3 606.3  L 2050.2 608.8  L 2046.8 611.4  L 2043.1 614.3  L 2039.3 617.3  L 2035.3 620.5  L 2031.1 623.9  L 2026.6 627.5  L 2022 631.3  L 2017.2 635.3  L 2012.2 639.4  L 2007.1 643.8  L 2001.8 648.2  L 1996.4 652.9  L 1990.9 657.7  L 1985.3 662.6  L 1979.6 667.7  L 1973.9 672.8  L 1968.1 678.1  L 1962.3 683.4  L 1956.5 688.7  L 1950.8 694.2  L 1945.1 699.6  L 1939.5 705  L 1934 710.4  L 1928.6 715.8  L 1923.3 721.1  L 1918.2 726.4  L 1913.2 731.6  L 1908.4 736.7  L 1903.8 741.6  L 1899.3 746.4  L 1895.1 751.1  L 1891.1 755.6  L 1887.3 760  L 1883.6 764.2  L 1880.2 768.2  L 1877.1 772.1  L 1874.1 775.7  L 1871.3 779.1  L 1868.7 782.4  L 1866.3 785.5  L 1864.2 788.4  L 1862.1 791.1  L 1860.3 793.6  L 1858.6 795.9  L 1857.1 798  L 1855.7 800  L 1854.5 801.9  L 1853.4 803.5  L 1852.4 805.1  L 1851.5 806.5  L 1850.7 807.7  L 1850 808.9  L 1849.4 809.9  L 1848.9 810.8  L 1848.4 811.7  L 1848 812.4  L 1847.7 813  L 1847.4 813.6  L 1847.1 814.1  L 1846.9 814.6  L 1846.7 815  L 1846.5 815.3  L 1846.4 815.6  L 1846.2 815.9  L 1846.1 816.1  L 1846.1 816.3  L 1846 816.5  L 1845.9 816.6  L 1845.9 816.8  L 1845.8 816.9  L 1845.8 816.9  L 1845.8 817  L 1845.7 817.4  " clip-path="url(#p5f0794fb83)" style="fill: none; stroke-dasharray: 8.5,3.7; stroke-dashoffset: 0; stroke: #1f77b4; stroke-opacity: 0.6; stroke-width: 2.3"/><g clip-path="url(#p5f0794fb83)"><circle cx="2084.7" cy="583" r="4.5" style="fill: #1f77b4; fill-opacity: 0.6; stroke: #1f77b4; stroke-opacity: 0.6; stroke-width: 1.1"/><circle cx="2084.6" cy="583.1" r="4.5" style="fill: #1f77b4; fill-opacity: 0.6; stroke: #1f77b4; stroke-opacity: 0.6; stroke-width: 1.1"/><circle cx="2084.6" cy="583.1" r="4.5" style="fill: #1f77b4; fill-opacity: 0.6; stroke: #1f77b4; stroke-opacity: 0.6; stroke-width: 1.1"/><circle cx="2084.6" cy="583.1" r="4.5" style="fill: #1f77b4; fill-opacity: 0.6; stroke: #1f77b4; stroke-opacity: 0.6; stroke-width: 1.1"/><circle cx="2084.5" cy="583.2" r="4.5" style="fill: #1f77b4; fill-opacity: 0.6; stroke: #1f77b4; stroke-opacity: 0.6; stroke-width: 1.1"/><circle cx="2084.5" cy="583.2" r="4.5" style="fill: #1f77b4; fill-opacity: 0.6; stroke: #1f77b4; stroke-opacity: 0.6; stroke-width: 1.1"/><circle cx="2084.4" cy="583.3" r="4.5" style="fill: #1f77b4; fill-opacity: 0.6; stroke: #1f77b4; stroke-opacity: 0.6; stroke-width: 1.1"/><circle cx="2084.3" cy="583.3" r="4.5" style="fill: #1f77b4; fill-opacity: 0.6; stroke: #1f77b4; stroke-opacity: 0.6; stroke-width: 1.1"/><circle cx="2084.3" cy="583.4" r="4.5" style="fill: #1f77b4; fill-opacity: 0.6; stroke: #1f77b4; stroke-opacity: 0.6; stroke-width: 1.1"/><circle cx="2084.2" cy="583.4" r="4.5" style="fill: #1f77b4; fill-opacity: 0.6; stroke: #1f77b4; stroke-opacity: 0.6; stroke-width: 1.1"/><circle cx="2084" cy="583.5" r="4.5" style="fill: #1f77b4; fill-opacity: 0.6; stroke: #1f77b4; stroke-opacity: 0.6; stroke-width: 1.1"/><circle cx="2083.9" cy="583.6" r="4.5" style="fill: #1f77b4; fill-opacity: 0.6; stroke: #1f77b4; stroke-opacity: 0.6; stroke-width: 1.1"/><circle cx="2083.7" cy="583.7" r="4.5" style="fill: #1f77b4; fill-opacity: 0.6; stroke: #1f77b4; stroke-opacity: 0.6; stroke-width: 1.1"/><circle cx="2083.5" cy="583.9" r="4.5" style="fill: #1f77b4; fill-opacity: 0.6; stroke: #1f77b4; stroke-opacity: 0.6; stroke-width: 1.1"/><circle cx="2083.3" cy="584" r="4.5" style="fill: #1f77b4; fill-opacity: 0.6; stroke: #1f77b4; stroke-opacity: 0.6; stroke-width: 1.1"/><circle cx="2083" cy="584.2" r="4.5" style="fill: #1f77b4; fill-opacity: 0.6; stroke: #1f77b4; stroke-opacity: 0.6; stroke-width: 1.1"/><circle cx="2082.7" cy="584.4" r="4.5" style="fill: #1f77b4; fill-opacity: 0.6; stroke: #1f77b4; stroke-opacity: 0.6; stroke-width: 1.1"/><circle cx="2082.4" cy="584.7" r="4.5" style="fill: #1f77b4; fill-opacity: 0.6; stroke: #1f77b4; stroke-opacity: 0.6; stroke-width: 1.1"/><circle cx="2082" cy="585" r="4.5" style="fill: #1f77b4; fill-opacity: 0.6; stroke: #1f77b4; stroke-opacity: 0.6; stroke-width: 1.1"/><circle cx="2081.5" cy="585.3" r="4.5" style="fill: #1f77b4; fill-opacity: 0.6; stroke: #1f77b4; stroke-opacity: 0.6; stroke-width: 1.1"/><circle cx="2081" cy="585.7" r="4.5" style="fill: #1f77b4; fill-opacity: 0.6; stroke: #1f77b4; stroke-opacity: 0.6; stroke-width: 1.1"/><circle cx="2080.4" cy="586.2" r="4.5" style="fill: #1f77b4; fill-opacity: 0.6; stroke: #1f77b4; stroke-opacity: 0.6; stroke-width: 1.1"/><circle cx="2079.7" cy="586.6" r="4.5" style="fill: #1f77b4; fill-opacity: 0.6; stroke: #1f77b4; stroke-opacity: 0.6; stroke-width: 1.1"/><circle cx="2078.9" cy="587.2" r="4.5" style="fill: #1f77b4; fill-opacity: 0.6; stroke: #1f77b4; stroke-opacity: 0.6; stroke-width: 1.1"/><circle cx="2078" cy="587.9" r="4.5" style="fill: #1f77b4; fill-opacity: 0.6; stroke: #1f77b4; stroke-opacity: 0.6; stroke-width: 1.1"/><circle cx="2077" cy="588.6" r="4.5" style="fill: #1f77b4; fill-opacity: 0.6; stroke: #1f77b4; stroke-opacity: 0.6; stroke-width: 1.1"/><circle cx="2075.9" cy="589.4" r="4.5" style="fill: #1f77b4; fill-opacity: 0.6; stroke: #1f77b4; stroke-opacity: 0.6; stroke-width: 1.1"/><circle cx="2074.7" cy="590.3" r="4.5" style="fill: #1f77b4; fill-opacity: 0.6; stroke: #1f77b4; stroke-opacity: 0.6; stroke-width: 1.1"/><circle cx="2073.3" cy="591.3" r="4.5" style="fill: #1f77b4; fill-opacity: 0.6; stroke: #1f77b4; stroke-opacity: 0.6; stroke-width: 1.1"/><circle cx="2071.8" cy="592.4" r="4.5" style="fill: #1f77b4; fill-opacity: 0.6; stroke: #1f77b4; stroke-opacity: 0.6; stroke-width: 1.1"/><circle cx="2070.1" cy="593.6" r="4.5" style="fill: #1f77b4; fill-opacity: 0.6; stroke: #1f77b4; stroke-opacity: 0.6; stroke-width: 1.1"/><circle cx="2068.3" cy="595" r="4.5" style="fill: #1f77b4; fill-opacity: 0.6; stroke: #1f77b4; stroke-opacity: 0.6; stroke-width: 1.1"/><circle cx="2066.2" cy="596.5" r="4.5" style="fill: #1f77b4; fill-opacity: 0.6; stroke: #1f77b4; stroke-opacity: 0.6; stroke-width: 1.1"/><circle cx="2064.1" cy="598.1" r="4.5" style="fill: #1f77b4; fill-opacity: 0.6; stroke: #1f77b4; stroke-opacity: 0.6; stroke-width: 1.1"/><circle cx="2061.7" cy="599.9" r="4.5" style="fill: #1f77b4; fill-opacity: 0.6; stroke: #1f77b4; stroke-opacity: 0.6; stroke-width: 1.1"/><circle cx="2059.1" cy="601.9" r="4.5" style="fill: #1f77b4; fill-opacity: 0.6; stroke: #1f77b4; stroke-opacity: 0.6; stroke-width: 1.1"/><circle cx="2056.3" cy="604" r="4.5" style="fill: #1f77b4; fill-opacity: 0.6; stroke: #1f77b4; stroke-opacity: 0.6; stroke-width: 1.1"/><circle cx="2053.3" cy="606.3" r="4.5" style="fill: #1f77b4; fill-opacity: 0.6; stroke: #1f77b4; stroke-opacity: 0.6; stroke-width: 1.1"/><circle cx="2050.2" cy="608.8" r="4.5" style="fill: #1f77b4; fill-opacity: 0.6; stroke: #1f77b4; stroke-opacity: 0.6; stroke-width: 1.1"/><circle cx="2046.8" cy="611.4" r="4.5" style="fill: #1f77b4; fill-opacity: 0.6; stroke: #1f77b4; stroke-opacity: 0.6; stroke-width: 1.1"/><circle cx="2043.1" cy="614.3" r="4.5" style="fill: #1f77b4; fill-opacity: 0.6; stroke: #1f77b4; stroke-opacity: 0.6; stroke-width: 1.1"/><circle cx="2039.3" cy="617.3" r="4.5" style="fill: #1f77b4; fill-opacity: 0.6; stroke: #1f77b4; stroke-opacity: 0.6; stroke-width: 1.1"/><circle cx="2035.3" cy="620.5" r="4.5" style="fill: #1f77b4; fill-opacity: 0.6; stroke: #1f77b4; stroke-opacity: 0.6; stroke-width: 1.1"/><circle cx="2031.1" cy="623.9" r="4.5" style="fill: #1f77b4; fill-opacity: 0.6; stroke: #1f77b4; stroke-opacity: 0.6; stroke-width: 1.1"/><circle cx="2026.6" cy="627.5" r="4.5" style="fill: #1f77b4; fill-opacity: 0.6; stroke: #1f77b4; stroke-opacity: 0.6; stroke-width: 1.1"/><circle cx="2022" cy="631.3" r="4.5" style="fill: #1f77b4; fill-opacity: 0.6; stroke: #1f77b4; stroke-opacity: 0.6; stroke-width: 1.1"/><circle cx="2017.2" cy="635.3" r="4.5" style="fill: #1f77b4; fill-opacity: 0.6; stroke: #1f77b4; stroke-opacity: 0.6; stroke-width: 1.1"/><circle cx="2012.2" cy="639.4" r="4.5" style="fill: #1f77b4; fill-opacity: 0.6; stroke: #1f77b4; stroke-opacity: 0.6; stroke-width: 1.1"/><circle cx="2007.1" cy="643.8" r="4.5" style="fill: #1f77b4; fill-opacity: 0.6; stroke: #1f77b4; stroke-opacity: 0.6; stroke-width: 1.1"/><circle cx="2001.8" cy="648.2" r="4.5" style="fill: #1f77b4; fill-opacity: 0.6; stroke: #1f77b4; stroke-opacity: 0.6; stroke-width: 1.1"/><circle cx="1996.4" cy="652.9" r="4.5" style="fill: #1f77b4; fill-opacity: 0.6; stroke: #1f77b4; stroke-opacity: 0.6; stroke-width: 1.1"/><circle cx="1990.9" cy="657.7" r="4.5" style="fill: #1f77b4; fill-opacity: 0.6; stroke: #1f77b4; stroke-opacity: 0.6; stroke-width: 1.1"/><circle cx="1985.3" cy="662.6" r="4.5" style="fill: #1f77b4; fill-opacity: 0.6; stroke: #1f77b4; stroke-opacity: 0.6; stroke-width: 1.1"/><circle cx="1979.6" cy="667.7" r="4.5" style="fill: #1f77b4; fill-opacity: 0.6; stroke: #1f77b4; stroke-opacity: 0.6; stroke-width: 1.1"/><circle cx="1973.9" cy="672.8" r="4.5" style="fill: #1f77b4; fill-opacity: 0.6; stroke: #1f77b4; stroke-opacity: 0.6; stroke-width: 1.1"/><circle cx="1968.1" cy="678.1" r="4.5" style="fill: #1f77b4; fill-opacity: 0.6; stroke: #1f77b4; stroke-opacity: 0.6; stroke-width: 1.1"/><circle cx="1962.3" cy="683.4" r="4.5" style="fill: #1f77b4; fill-opacity: 0.6; stroke: #1f77b4; stroke-opacity: 0.6; stroke-width: 1.1"/><circle cx="1956.5" cy="688.7" r="4.5" style="fill: #1f77b4; fill-opacity: 0.6; stroke: #1f77b4; stroke-opacity: 0.6; stroke-width: 1.1"/><circle cx="1950.8" cy="694.2" r="4.5" style="fill: #1f77b4; fill-opacity: 0.6; stroke: #1f77b4; stroke-opacity: 0.6; stroke-width: 1.1"/><circle cx="1945.1" cy="699.6" r="4.5" style="fill: #1f77b4; fill-opacity: 0.6; stroke: #1f77b4; stroke-opacity: 0.6; stroke-width: 1.1"/><circle cx="1939.5" cy="705" r="4.5" style="fill: #1f77b4; fill-opacity: 0.6; stroke: #1f77b4; stroke-opacity: 0.6; stroke-width: 1.1"/><circle cx="1934" cy="710.4" r="4.5" style="fill: #1f77b4; fill-opacity: 0.6; stroke: #1f77b4; stroke-opacity: 0.6; stroke-width: 1.1"/><circle cx="1928.6" cy="715.8" r="4.5" style="fill: #1f77b4; fill-opacity: 0.6; stroke: #1f77b4; stroke-opacity: 0.6; stroke-width: 1.1"/><circle cx="1923.3" cy="721.1" r="4.5" style="fill: #1f77b4; fill-opacity: 0.6; stroke: #1f77b4; stroke-opacity: 0.6; stroke-width: 1.1"/><circle cx="1918.2" cy="726.4" r="4.5" style="fill: #1f77b4; fill-opacity: 0.6; stroke: #1f77b4; stroke-opacity: 0.6; stroke-width: 1.1"/><circle cx="1913.2" cy="731.6" r="4.5" style="fill: #1f77b4; fill-opacity: 0.6; stroke: #1f77b4; stroke-opacity: 0.6; stroke-width: 1.1"/><circle cx="1908.4" cy="736.7" r="4.5" style="fill: #1f77b4; fill-opacity: 0.6; stroke: #1f77b4; stroke-opacity: 0.6; stroke-width: 1.1"/><circle cx="1903.8" cy="741.6" r="4.5" style="fill: #1f77b4; fill-opacity: 0.6; stroke: #1f77b4; stroke-opacity: 0.6; stroke-width: 1.1"/><circle cx="1899.3" cy="746.4" r="4.5" style="fill: #1f77b4; fill-opacity: 0.6; stroke: #1f77b4; stroke-opacity: 0.6; stroke-width: 1.1"/><circle cx="1895.1" cy="751.1" r="4.5" style="fill: #1f77b4; fill-opacity: 0.6; stroke: #1f77b4; stroke-opacity: 0.6; stroke-width: 1.1"/><circle cx="1891.1" cy="755.6" r="4.5" style="fill: #1f77b4; fill-opacity: 0.6; stroke: #1f77b4; stroke-opacity: 0.6; stroke-width: 1.1"/><circle cx="1887.3" cy="760" r="4.5" style="fill: #1f77b4; fill-opacity: 0.6; stroke: #1f77b4; stroke-opacity: 0.6; stroke-width: 1.1"/><circle cx="1883.6" cy="764.2" r="4.5" style="fill: #1f77b4; fill-opacity: 0.6; stroke: #1f77b4; stroke-opacity: 0.6; stroke-width: 1.1"/><circle cx="1880.2" cy="768.2" r="4.5" style="fill: #1f77b4; fill-opacity: 0.6; stroke: #1f77b4; stroke-opacity: 0.6; stroke-width: 1.1"/><circle cx="1877.1" cy="772.1" r="4.5" style="fill: #1f77b4; fill-opacity: 0.6; stroke: #1f77b4; stroke-opacity: 0.6; stroke-width: 1.1"/><circle cx="1874.1" cy="775.7" r="4.5" style="fill: #1f77b4; fill-opacity: 0.6; stroke: #1f77b4; stroke-opacity: 0.6; stroke-width: 1.1"/><circle cx="1871.3" cy="779.1" r="4.5" style="fill: #1f77b4; fill-opacity: 0.6; stroke: #1f77b4; stroke-opacity: 0.6; stroke-width: 1.1"/><circle cx="1868.7" cy="782.4" r="4.5" style="fill: #1f77b4; fill-opacity: 0.6; stroke: #1f77b4; stroke-opacity: 0.6; stroke-width: 1.1"/><circle cx="1866.3" cy="785.5" r="4.5" style="fill: #1f77b4; fill-opacity: 0.6; stroke: #1f77b4; stroke-opacity: 0.6; stroke-width: 1.1"/><circle cx="1864.2" cy="788.4" r="4.5" style="fill: #1f77b4; fill-opacity: 0.6; stroke: #1f77b4; stroke-opacity: 0.6; stroke-width: 1.1"/><circle cx="1862.1" cy="791.1" r="4.5" style="fill: #1f77b4; fill-opacity: 0.6; stroke: #1f77b4; stroke-opacity: 0.6; stroke-width: 1.1"/><circle cx="1860.3" cy="793.6" r="4.5" style="fill: #1f77b4; fill-opacity: 0.6; stroke: #1f77b4; stroke-opacity: 0.6; stroke-width: 1.1"/><circle cx="1858.6" cy="795.9" r="4.5" style="fill: #1f77b4; fill-opacity: 0.6; stroke: #1f77b4; stroke-opacity: 0.6; stroke-width: 1.1"/><circle cx="1857.1" cy="798" r="4.5" style="fill: #1f77b4; fill-opacity: 0.6; stroke: #1f77b4; stroke-opacity: 0.6; stroke-width: 1.1"/><circle cx="1855.7" cy="800" r="4.5" style="fill: #1f77b4; fill-opacity: 0.6; stroke: #1f77b4; stroke-opacity: 0.6; stroke-width: 1.1"/><circle cx="1854.5" cy="801.9" r="4.5" style="fill: #1f77b4; fill-opacity: 0.6; stroke: #1f77b4; stroke-opacity: 0.6; stroke-width: 1.1"/><circle cx="1853.4" cy="803.5" r="4.5" style="fill: #1f77b4; fill-opacity: 0.6; stroke: #1f77b4; stroke-opacity: 0.6; stroke-width: 1.1"/><circle cx="1852.4" cy="805.1" r="4.5" style="fill: #1f77b4; fill-opacity: 0.6; stroke: #1f77b4; stroke-opacity: 0.6; stroke-width: 1.1"/><circle cx="1851.5" cy="806.5" r="4.5" style="fill: #1f77b4; fill-opacity: 0.6; stroke: #1f77b4; stroke-opacity: 0.6; stroke-width: 1.1"/><circle cx="1850.7" cy="807.7" r="4.5" style="fill: #1f77b4; fill-opacity: 0.6; stroke: #1f77b4; stroke-opacity: 0.6; stroke-width: 1.1"/><circle cx="1850" cy="808.9" r="4.5" style="fill: #1f77b4; fill-opacity: 0.6; stroke: #1f77b4; stroke-opacity: 0.6; stroke-width: 1.1"/><circle cx="1849.4" cy="809.9" r="4.5" style="fill: #1f77b4; fill-opacity: 0.6; stroke: #1f77b4; stroke-opacity: 0.6; stroke-width: 1.1"/><circle cx="1848.9" cy="810.8" r="4.5" style="fill: #1f77b4; fill-opacity: 0.6; stroke: #1f77b4; stroke-opacity: 0.6; stroke-width: 1.1"/><circle cx="1848.4" cy="811.7" r="4.5" style="fill: #1f77b4; fill-opacity: 0.6; stroke: #1f77b4; stroke-opacity: 0.6; stroke-width: 1.1"/><circle cx="1848" cy="812.4" r="4.5" style="fill: #1f77b4; fill-opacity: 0.6; stroke: #1f77b4; stroke-opacity: 0.6; stroke-width: 1.1"/><circle cx="1847.7" cy="813" r="4.5" style="fill: #1f77b4; fill-opacity: 0.6; stroke: #1f77b4; stroke-opacity: 0.6; stroke-width: 1.1"/><circle cx="1847.4" cy="813.6" r="4.5" style="fill: #1f77b4; fill-opacity: 0.6; stroke: #1f77b4; stroke-opacity: 0.6; stroke-width: 1.1"/><circle cx="1847.1" cy="814.1" r="4.5" style="fill: #1f77b4; fill-opacity: 0.6; stroke: #1f77b4; stroke-opacity: 0.6; stroke-width: 1.1"/><circle cx="1846.9" cy="814.6" r="4.5" style="fill: #1f77b4; fill-opacity: 0.6; stroke: #1f77b4; stroke-opacity: 0.6; stroke-width: 1.1"/><circle cx="1846.7" cy="815" r="4.5" style="fill: #1f77b4; fill-opacity: 0.6; stroke: #1f77b4; stroke-opacity: 0.6; stroke-width: 1.1"/><circle cx="1846.5" cy="815.3" r="4.5" style="fill: #1f77b4; fill-opacity: 0.6; stroke: #1f77b4; stroke-opacity: 0.6; stroke-width: 1.1"/><circle cx="1846.4" cy="815.6" r="4.5" style="fill: #1f77b4; fill-opacity: 0.6; stroke: #1f77b4; stroke-opacity: 0.6; stroke-width: 1.1"/><circle cx="1846.2" cy="815.9" r="4.5" style="fill: #1f77b4; fill-opacity: 0.6; stroke: #1f77b4; stroke-opacity: 0.6; stroke-width: 1.1"/><circle cx="1846.1" cy="816.1" r="4.5" style="fill: #1f77b4; fill-opacity: 0.6; stroke: #1f77b4; stroke-opacity: 0.6; stroke-width: 1.1"/><circle cx="1846.1" cy="816.3" r="4.5" style="fill: #1f77b4; fill-opacity: 0.6; stroke: #1f77b4; stroke-opacity: 0.6; stroke-width: 1.1"/><circle cx="1846" cy="816.5" r="4.5" style="fill: #1f77b4; fill-opacity: 0.6; stroke: #1f77b4; stroke-opacity: 0.6; stroke-width: 1.1"/><circle cx="1845.9" cy="816.6" r="4.5" style="fill: #1f77b4; fill-opacity: 0.6; stroke: #1f77b4; stroke-opacity: 0.6; stroke-width: 1.1"/><circle cx="1845.9" cy="816.8" r="4.5" style="fill: #1f77b4; fill-opacity: 0.6; stroke: #1f77b4; stroke-opacity: 0.6; stroke-width: 1.1"/><circle cx="1845.8" cy="816.9" r="4.5" style="fill: #1f77b4; fill-opacity: 0.6; stroke: #1f77b4; stroke-opacity: 0.6; stroke-width: 1.1"/><circle cx="1845.8" cy="816.9" r="4.5" style="fill: #1f77b4; fill-opacity: 0.6; stroke: #1f77b4; stroke-opacity: 0.6; stroke-width: 1.1"/><circle cx="1845.8" cy="817" r="4.5" style="fill: #1f77b4; fill-opacity: 0.6; stroke: #1f77b4; stroke-opacity: 0.6; stroke-width: 1.1"/><circle cx="1845.7" cy="817.4" r="4.5" style="fill: #1f77b4; fill-opacity: 0.6; stroke: #1f77b4; stroke-opacity: 0.6; stroke-width: 1.1"/></g></g><g id="patch_36"><path d="M 1833.7 829.1  L 1833.7 571.3  " style="fill: none; stroke: #000000; stroke-width: 1.2; stroke-linejoin: miter; stroke-linecap: square"/></g><g id="patch_37"><path d="M 1833.7 829.1  L 2096.7 829.1  " style="fill: none; stroke: #000000; stroke-width: 1.2; stroke-linejoin: miter; stroke-linecap: square"/></g><g id="line2d_51"><path d="M 2084.7 583  L 2084.6 583  L 2084.6 583  L 2084.6 583  L 2084.5 583.1  L 2084.5 583.1  L 2084.4 583.1  L 2084.3 583.1  L 2084.3 583.1  L 2084.2 583.1  L 2084 583.2  L 2083.9 583.2  L 2083.7 583.2  L 2083.5 583.3  L 2083.3 583.3  L 2083 583.4  L 2082.7 583.5  L 2082.4 583.6  L 2082 583.7  L 2081.5 583.8  L 2081 584  L 2080.4 584.2  L 2079.7 584.4  L 2078.9 584.7  L 2078 585  L 2077 585.3  L 2075.9 585.7  L 2074.7 586.1  L 2073.3 586.7  L 2071.8 587.3  L 2070.1 587.9  L 2068.3 588.7  L 2066.2 589.6  L 2064.1 590.5  L 2061.7 591.6  L 2059.1 592.8  L 2056.3 594.1  L 2053.3 595.6  L 2050.2 597.2  L 2046.8 599  L 2043.1 601  L 2039.3 603.1  L 2035.3 605.4  L 2031.1 607.9  L 2026.6 610.6  L 2022 613.5  L 2017.2 616.6  L 2012.2 619.9  L 2007.1 623.5  L 2001.8 627.2  L 1996.4 631.1  L 1990.9 635.3  L 1985.3 639.6  L 1979.6 644.1  L 1973.9 648.8  L 1968.1 653.7  L 1962.3 658.7  L 1956.5 663.8  L 1950.8 669.1  L 1945.1 674.5  L 1939.5 680  L 1934 685.6  L 1928.6 691.2  L 1923.3 696.8  L 1918.2 702.5  L 1913.2 708.2  L 1908.4 713.8  L 1903.8 719.4  L 1899.3 724.9  L 1895.1 730.3  L 1891.1 735.6  L 1887.3 740.8  L 1883.6 745.8  L 1880.2 750.7  L 1877.1 755.4  L 1874.1 760  L 1871.3 764.4  L 1868.7 768.5  L 1866.3 772.5  L 1864.2 776.3  L 1862.1 779.8  L 1860.3 783.2  L 1858.6 786.3  L 1857.1 789.3  L 1855.7 792  L 1854.5 794.5  L 1853.4 796.9  L 1852.4 799.1  L 1851.5 801  L 1850.7 802.9  L 1850 804.5  L 1849.4 806  L 1848.9 807.4  L 1848.4 808.6  L 1848 809.7  L 1847.7 810.7  L 1847.4 811.6  L 1847.1 812.3  L 1846.9 813  L 1846.7 813.6  L 1846.5 814.2  L 1846.4 814.6  L 1846.2 815  L 1846.1 815.4  L 1846.1 815.7  L 1846 816  L 1845.9 816.2  L 1845.9 816.4  L 1845.8 816.5  L 1845.8 816.7  L 1845.8 816.8  L 1845.7 817.4  " clip-path="url(#p5f0794fb83)" style="fill: none; stroke-dasharray: 8.5,3.7; stroke-dashoffset: 0; stroke: #ff7f0e; stroke-opacity: 0.6; stroke-width: 2.3"/><g clip-path="url(#p5f0794fb83)"><circle cx="2084.7" cy="583" r="4.5" style="fill: #ff7f0e; fill-opacity: 0.6; stroke: #ff7f0e; stroke-opacity: 0.6; stroke-width: 1.1"/><circle cx="2084.6" cy="583" r="4.5" style="fill: #ff7f0e; fill-opacity: 0.6; stroke: #ff7f0e; stroke-opacity: 0.6; stroke-width: 1.1"/><circle cx="2084.6" cy="583" r="4.5" style="fill: #ff7f0e; fill-opacity: 0.6; stroke: #ff7f0e; stroke-opacity: 0.6; stroke-width: 1.1"/><circle cx="2084.6" cy="583" r="4.5" style="fill: #ff7f0e; fill-opacity: 0.6; stroke: #ff7f0e; stroke-opacity: 0.6; stroke-width: 1.1"/><circle cx="2084.5" cy="583.1" r="4.5" style="fill: #ff7f0e; fill-opacity: 0.6; stroke: #ff7f0e; stroke-opacity: 0.6; stroke-width: 1.1"/><circle cx="2084.5" cy="583.1" r="4.5" style="fill: #ff7f0e; fill-opacity: 0.6; stroke: #ff7f0e; stroke-opacity: 0.6; stroke-width: 1.1"/><circle cx="2084.4" cy="583.1" r="4.5" style="fill: #ff7f0e; fill-opacity: 0.6; stroke: #ff7f0e; stroke-opacity: 0.6; stroke-width: 1.1"/><circle cx="2084.3" cy="583.1" r="4.5" style="fill: #ff7f0e; fill-opacity: 0.6; stroke: #ff7f0e; stroke-opacity: 0.6; stroke-width: 1.1"/><circle cx="2084.3" cy="583.1" r="4.5" style="fill: #ff7f0e; fill-opacity: 0.6; stroke: #ff7f0e; stroke-opacity: 0.6; stroke-width: 1.1"/><circle cx="2084.2" cy="583.1" r="4.5" style="fill: #ff7f0e; fill-opacity: 0.6; stroke: #ff7f0e; stroke-opacity: 0.6; stroke-width: 1.1"/><circle cx="2084" cy="583.2" r="4.5" style="fill: #ff7f0e; fill-opacity: 0.6; stroke: #ff7f0e; stroke-opacity: 0.6; stroke-width: 1.1"/><circle cx="2083.9" cy="583.2" r="4.5" style="fill: #ff7f0e; fill-opacity: 0.6; stroke: #ff7f0e; stroke-opacity: 0.6; stroke-width: 1.1"/><circle cx="2083.7" cy="583.2" r="4.5" style="fill: #ff7f0e; fill-opacity: 0.6; stroke: #ff7f0e; stroke-opacity: 0.6; stroke-width: 1.1"/><circle cx="2083.5" cy="583.3" r="4.5" style="fill: #ff7f0e; fill-opacity: 0.6; stroke: #ff7f0e; stroke-opacity: 0.6; stroke-width: 1.1"/><circle cx="2083.3" cy="583.3" r="4.5" style="fill: #ff7f0e; fill-opacity: 0.6; stroke: #ff7f0e; stroke-opacity: 0.6; stroke-width: 1.1"/><circle cx="2083" cy="583.4" r="4.5" style="fill: #ff7f0e; fill-opacity: 0.6; stroke: #ff7f0e; stroke-opacity: 0.6; stroke-width: 1.1"/><circle cx="2082.7" cy="583.5" r="4.5" style="fill: #ff7f0e; fill-opacity: 0.6; stroke: #ff7f0e; stroke-opacity: 0.6; stroke-width: 1.1"/><circle cx="2082.4" cy="583.6" r="4.5" style="fill: #ff7f0e; fill-opacity: 0.6; stroke: #ff7f0e; stroke-opacity: 0.6; stroke-width: 1.1"/><circle cx="2082" cy="583.7" r="4.5" style="fill: #ff7f0e; fill-opacity: 0.6; stroke: #ff7f0e; stroke-opacity: 0.6; stroke-width: 1.1"/><circle cx="2081.5" cy="583.8" r="4.5" style="fill: #ff7f0e; fill-opacity: 0.6; stroke: #ff7f0e; stroke-opacity: 0.6; stroke-width: 1.1"/><circle cx="2081" cy="584" r="4.5" style="fill: #ff7f0e; fill-opacity: 0.6; stroke: #ff7f0e; stroke-opacity: 0.6; stroke-width: 1.1"/><circle cx="2080.4" cy="584.2" r="4.5" style="fill: #ff7f0e; fill-opacity: 0.6; stroke: #ff7f0e; stroke-opacity: 0.6; stroke-width: 1.1"/><circle cx="2079.7" cy="584.4" r="4.5" style="fill: #ff7f0e; fill-opacity: 0.6; stroke: #ff7f0e; stroke-opacity: 0.6; stroke-width: 1.1"/><circle cx="2078.9" cy="584.7" r="4.5" style="fill: #ff7f0e; fill-opacity: 0.6; stroke: #ff7f0e; stroke-opacity: 0.6; stroke-width: 1.1"/><circle cx="2078" cy="585" r="4.5" style="fill: #ff7f0e; fill-opacity: 0.6; stroke: #ff7f0e; stroke-opacity: 0.6; stroke-width: 1.1"/><circle cx="2077" cy="585.3" r="4.5" style="fill: #ff7f0e; fill-opacity: 0.6; stroke: #ff7f0e; stroke-opacity: 0.6; stroke-width: 1.1"/><circle cx="2075.9" cy="585.7" r="4.5" style="fill: #ff7f0e; fill-opacity: 0.6; stroke: #ff7f0e; stroke-opacity: 0.6; stroke-width: 1.1"/><circle cx="2074.7" cy="586.1" r="4.5" style="fill: #ff7f0e; fill-opacity: 0.6; stroke: #ff7f0e; stroke-opacity: 0.6; stroke-width: 1.1"/><circle cx="2073.3" cy="586.7" r="4.5" style="fill: #ff7f0e; fill-opacity: 0.6; stroke: #ff7f0e; stroke-opacity: 0.6; stroke-width: 1.1"/><circle cx="2071.8" cy="587.3" r="4.5" style="fill: #ff7f0e; fill-opacity: 0.6; stroke: #ff7f0e; stroke-opacity: 0.6; stroke-width: 1.1"/><circle cx="2070.1" cy="587.9" r="4.5" style="fill: #ff7f0e; fill-opacity: 0.6; stroke: #ff7f0e; stroke-opacity: 0.6; stroke-width: 1.1"/><circle cx="2068.3" cy="588.7" r="4.5" style="fill: #ff7f0e; fill-opacity: 0.6; stroke: #ff7f0e; stroke-opacity: 0.6; stroke-width: 1.1"/><circle cx="2066.2" cy="589.6" r="4.5" style="fill: #ff7f0e; fill-opacity: 0.6; stroke: #ff7f0e; stroke-opacity: 0.6; stroke-width: 1.1"/><circle cx="2064.1" cy="590.5" r="4.5" style="fill: #ff7f0e; fill-opacity: 0.6; stroke: #ff7f0e; stroke-opacity: 0.6; stroke-width: 1.1"/><circle cx="2061.7" cy="591.6" r="4.5" style="fill: #ff7f0e; fill-opacity: 0.6; stroke: #ff7f0e; stroke-opacity: 0.6; stroke-width: 1.1"/><circle cx="2059.1" cy="592.8" r="4.5" style="fill: #ff7f0e; fill-opacity: 0.6; stroke: #ff7f0e; stroke-opacity: 0.6; stroke-width: 1.1"/><circle cx="2056.3" cy="594.1" r="4.5" style="fill: #ff7f0e; fill-opacity: 0.6; stroke: #ff7f0e; stroke-opacity: 0.6; stroke-width: 1.1"/><circle cx="2053.3" cy="595.6" r="4.5" style="fill: #ff7f0e; fill-opacity: 0.6; stroke: #ff7f0e; stroke-opacity: 0.6; stroke-width: 1.1"/><circle cx="2050.2" cy="597.2" r="4.5" style="fill: #ff7f0e; fill-opacity: 0.6; stroke: #ff7f0e; stroke-opacity: 0.6; stroke-width: 1.1"/><circle cx="2046.8" cy="599" r="4.5" style="fill: #ff7f0e; fill-opacity: 0.6; stroke: #ff7f0e; stroke-opacity: 0.6; stroke-width: 1.1"/><circle cx="2043.1" cy="601" r="4.5" style="fill: #ff7f0e; fill-opacity: 0.6; stroke: #ff7f0e; stroke-opacity: 0.6; stroke-width: 1.1"/><circle cx="2039.3" cy="603.1" r="4.5" style="fill: #ff7f0e; fill-opacity: 0.6; stroke: #ff7f0e; stroke-opacity: 0.6; stroke-width: 1.1"/><circle cx="2035.3" cy="605.4" r="4.5" style="fill: #ff7f0e; fill-opacity: 0.6; stroke: #ff7f0e; stroke-opacity: 0.6; stroke-width: 1.1"/><circle cx="2031.1" cy="607.9" r="4.5" style="fill: #ff7f0e; fill-opacity: 0.6; stroke: #ff7f0e; stroke-opacity: 0.6; stroke-width: 1.1"/><circle cx="2026.6" cy="610.6" r="4.5" style="fill: #ff7f0e; fill-opacity: 0.6; stroke: #ff7f0e; stroke-opacity: 0.6; stroke-width: 1.1"/><circle cx="2022" cy="613.5" r="4.5" style="fill: #ff7f0e; fill-opacity: 0.6; stroke: #ff7f0e; stroke-opacity: 0.6; stroke-width: 1.1"/><circle cx="2017.2" cy="616.6" r="4.5" style="fill: #ff7f0e; fill-opacity: 0.6; stroke: #ff7f0e; stroke-opacity: 0.6; stroke-width: 1.1"/><circle cx="2012.2" cy="619.9" r="4.5" style="fill: #ff7f0e; fill-opacity: 0.6; stroke: #ff7f0e; stroke-opacity: 0.6; stroke-width: 1.1"/><circle cx="2007.1" cy="623.5" r="4.5" style="fill: #ff7f0e; fill-opacity: 0.6; stroke: #ff7f0e; stroke-opacity: 0.6; stroke-width: 1.1"/><circle cx="2001.8" cy="627.2" r="4.5" style="fill: #ff7f0e; fill-opacity: 0.6; stroke: #ff7f0e; stroke-opacity: 0.6; stroke-width: 1.1"/><circle cx="1996.4" cy="631.1" r="4.5" style="fill: #ff7f0e; fill-opacity: 0.6; stroke: #ff7f0e; stroke-opacity: 0.6; stroke-width: 1.1"/><circle cx="1990.9" cy="635.3" r="4.5" style="fill: #ff7f0e; fill-opacity: 0.6; stroke: #ff7f0e; stroke-opacity: 0.6; stroke-width: 1.1"/><circle cx="1985.3" cy="639.6" r="4.5" style="fill: #ff7f0e; fill-opacity: 0.6; stroke: #ff7f0e; stroke-opacity: 0.6; stroke-width: 1.1"/><circle cx="1979.6" cy="644.1" r="4.5" style="fill: #ff7f0e; fill-opacity: 0.6; stroke: #ff7f0e; stroke-opacity: 0.6; stroke-width: 1.1"/><circle cx="1973.9" cy="648.8" r="4.5" style="fill: #ff7f0e; fill-opacity: 0.6; stroke: #ff7f0e; stroke-opacity: 0.6; stroke-width: 1.1"/><circle cx="1968.1" cy="653.7" r="4.5" style="fill: #ff7f0e; fill-opacity: 0.6; stroke: #ff7f0e; stroke-opacity: 0.6; stroke-width: 1.1"/><circle cx="1962.3" cy="658.7" r="4.5" style="fill: #ff7f0e; fill-opacity: 0.6; stroke: #ff7f0e; stroke-opacity: 0.6; stroke-width: 1.1"/><circle cx="1956.5" cy="663.8" r="4.5" style="fill: #ff7f0e; fill-opacity: 0.6; stroke: #ff7f0e; stroke-opacity: 0.6; stroke-width: 1.1"/><circle cx="1950.8" cy="669.1" r="4.5" style="fill: #ff7f0e; fill-opacity: 0.6; stroke: #ff7f0e; stroke-opacity: 0.6; stroke-width: 1.1"/><circle cx="1945.1" cy="674.5" r="4.5" style="fill: #ff7f0e; fill-opacity: 0.6; stroke: #ff7f0e; stroke-opacity: 0.6; stroke-width: 1.1"/><circle cx="1939.5" cy="680" r="4.5" style="fill: #ff7f0e; fill-opacity: 0.6; stroke: #ff7f0e; stroke-opacity: 0.6; stroke-width: 1.1"/><circle cx="1934" cy="685.6" r="4.5" style="fill: #ff7f0e; fill-opacity: 0.6; stroke: #ff7f0e; stroke-opacity: 0.6; stroke-width: 1.1"/><circle cx="1928.6" cy="691.2" r="4.5" style="fill: #ff7f0e; fill-opacity: 0.6; stroke: #ff7f0e; stroke-opacity: 0.6; stroke-width: 1.1"/><circle cx="1923.3" cy="696.8" r="4.5" style="fill: #ff7f0e; fill-opacity: 0.6; stroke: #ff7f0e; stroke-opacity: 0.6; stroke-width: 1.1"/><circle cx="1918.2" cy="702.5" r="4.5" style="fill: #ff7f0e; fill-opacity: 0.6; stroke: #ff7f0e; stroke-opacity: 0.6; stroke-width: 1.1"/><circle cx="1913.2" cy="708.2" r="4.5" style="fill: #ff7f0e; fill-opacity: 0.6; stroke: #ff7f0e; stroke-opacity: 0.6; stroke-width: 1.1"/><circle cx="1908.4" cy="713.8" r="4.5" style="fill: #ff7f0e; fill-opacity: 0.6; stroke: #ff7f0e; stroke-opacity: 0.6; stroke-width: 1.1"/><circle cx="1903.8" cy="719.4" r="4.5" style="fill: #ff7f0e; fill-opacity: 0.6; stroke: #ff7f0e; stroke-opacity: 0.6; stroke-width: 1.1"/><circle cx="1899.3" cy="724.9" r="4.5" style="fill: #ff7f0e; fill-opacity: 0.6; stroke: #ff7f0e; stroke-opacity: 0.6; stroke-width: 1.1"/><circle cx="1895.1" cy="730.3" r="4.5" style="fill: #ff7f0e; fill-opacity: 0.6; stroke: #ff7f0e; stroke-opacity: 0.6; stroke-width: 1.1"/><circle cx="1891.1" cy="735.6" r="4.5" style="fill: #ff7f0e; fill-opacity: 0.6; stroke: #ff7f0e; stroke-opacity: 0.6; stroke-width: 1.1"/><circle cx="1887.3" cy="740.8" r="4.5" style="fill: #ff7f0e; fill-opacity: 0.6; stroke: #ff7f0e; stroke-opacity: 0.6; stroke-width: 1.1"/><circle cx="1883.6" cy="745.8" r="4.5" style="fill: #ff7f0e; fill-opacity: 0.6; stroke: #ff7f0e; stroke-opacity: 0.6; stroke-width: 1.1"/><circle cx="1880.2" cy="750.7" r="4.5" style="fill: #ff7f0e; fill-opacity: 0.6; stroke: #ff7f0e; stroke-opacity: 0.6; stroke-width: 1.1"/><circle cx="1877.1" cy="755.4" r="4.5" style="fill: #ff7f0e; fill-opacity: 0.6; stroke: #ff7f0e; stroke-opacity: 0.6; stroke-width: 1.1"/><circle cx="1874.1" cy="760" r="4.5" style="fill: #ff7f0e; fill-opacity: 0.6; stroke: #ff7f0e; stroke-opacity: 0.6; stroke-width: 1.1"/><circle cx="1871.3" cy="764.4" r="4.5" style="fill: #ff7f0e; fill-opacity: 0.6; stroke: #ff7f0e; stroke-opacity: 0.6; stroke-width: 1.1"/><circle cx="1868.7" cy="768.5" r="4.5" style="fill: #ff7f0e; fill-opacity: 0.6; stroke: #ff7f0e; stroke-opacity: 0.6; stroke-width: 1.1"/><circle cx="1866.3" cy="772.5" r="4.5" style="fill: #ff7f0e; fill-opacity: 0.6; stroke: #ff7f0e; stroke-opacity: 0.6; stroke-width: 1.1"/><circle cx="1864.2" cy="776.3" r="4.5" style="fill: #ff7f0e; fill-opacity: 0.6; stroke: #ff7f0e; stroke-opacity: 0.6; stroke-width: 1.1"/><circle cx="1862.1" cy="779.8" r="4.5" style="fill: #ff7f0e; fill-opacity: 0.6; stroke: #ff7f0e; stroke-opacity: 0.6; stroke-width: 1.1"/><circle cx="1860.3" cy="783.2" r="4.5" style="fill: #ff7f0e; fill-opacity: 0.6; stroke: #ff7f0e; stroke-opacity: 0.6; stroke-width: 1.1"/><circle cx="1858.6" cy="786.3" r="4.5" style="fill: #ff7f0e; fill-opacity: 0.6; stroke: #ff7f0e; stroke-opacity: 0.6; stroke-width: 1.1"/><circle cx="1857.1" cy="789.3" r="4.5" style="fill: #ff7f0e; fill-opacity: 0.6; stroke: #ff7f0e; stroke-opacity: 0.6; stroke-width: 1.1"/><circle cx="1855.7" cy="792" r="4.5" style="fill: #ff7f0e; fill-opacity: 0.6; stroke: #ff7f0e; stroke-opacity: 0.6; stroke-width: 1.1"/><circle cx="1854.5" cy="794.5" r="4.5" style="fill: #ff7f0e; fill-opacity: 0.6; stroke: #ff7f0e; stroke-opacity: 0.6; stroke-width: 1.1"/><circle cx="1853.4" cy="796.9" r="4.5" style="fill: #ff7f0e; fill-opacity: 0.6; stroke: #ff7f0e; stroke-opacity: 0.6; stroke-width: 1.1"/><circle cx="1852.4" cy="799.1" r="4.5" style="fill: #ff7f0e; fill-opacity: 0.6; stroke: #ff7f0e; stroke-opacity: 0.6; stroke-width: 1.1"/><circle cx="1851.5" cy="801" r="4.5" style="fill: #ff7f0e; fill-opacity: 0.6; stroke: #ff7f0e; stroke-opacity: 0.6; stroke-width: 1.1"/><circle cx="1850.7" cy="802.9" r="4.5" style="fill: #ff7f0e; fill-opacity: 0.6; stroke: #ff7f0e; stroke-opacity: 0.6; stroke-width: 1.1"/><circle cx="1850" cy="804.5" r="4.5" style="fill: #ff7f0e; fill-opacity: 0.6; stroke: #ff7f0e; stroke-opacity: 0.6; stroke-width: 1.1"/><circle cx="1849.4" cy="806" r="4.5" style="fill: #ff7f0e; fill-opacity: 0.6; stroke: #ff7f0e; stroke-opacity: 0.6; stroke-width: 1.1"/><circle cx="1848.9" cy="807.4" r="4.5" style="fill: #ff7f0e; fill-opacity: 0.6; stroke: #ff7f0e; stroke-opacity: 0.6; stroke-width: 1.1"/><circle cx="1848.4" cy="808.6" r="4.5" style="fill: #ff7f0e; fill-opacity: 0.6; stroke: #ff7f0e; stroke-opacity: 0.6; stroke-width: 1.1"/><circle cx="1848" cy="809.7" r="4.5" style="fill: #ff7f0e; fill-opacity: 0.6; stroke: #ff7f0e; stroke-opacity: 0.6; stroke-width: 1.1"/><circle cx="1847.7" cy="810.7" r="4.5" style="fill: #ff7f0e; fill-opacity: 0.6; stroke: #ff7f0e; stroke-opacity: 0.6; stroke-width: 1.1"/><circle cx="1847.4" cy="811.6" r="4.5" style="fill: #ff7f0e; fill-opacity: 0.6; stroke: #ff7f0e; stroke-opacity: 0.6; stroke-width: 1.1"/><circle cx="1847.1" cy="812.3" r="4.5" style="fill: #ff7f0e; fill-opacity: 0.6; stroke: #ff7f0e; stroke-opacity: 0.6; stroke-width: 1.1"/><circle cx="1846.9" cy="813" r="4.5" style="fill: #ff7f0e; fill-opacity: 0.6; stroke: #ff7f0e; stroke-opacity: 0.6; stroke-width: 1.1"/><circle cx="1846.7" cy="813.6" r="4.5" style="fill: #ff7f0e; fill-opacity: 0.6; stroke: #ff7f0e; stroke-opacity: 0.6; stroke-width: 1.1"/><circle cx="1846.5" cy="814.2" r="4.5" style="fill: #ff7f0e; fill-opacity: 0.6; stroke: #ff7f0e; stroke-opacity: 0.6; stroke-width: 1.1"/><circle cx="1846.4" cy="814.6" r="4.5" style="fill: #ff7f0e; fill-opacity: 0.6; stroke: #ff7f0e; stroke-opacity: 0.6; stroke-width: 1.1"/><circle cx="1846.2" cy="815" r="4.5" style="fill: #ff7f0e; fill-opacity: 0.6; stroke: #ff7f0e; stroke-opacity: 0.6; stroke-width: 1.1"/><circle cx="1846.1" cy="815.4" r="4.5" style="fill: #ff7f0e; fill-opacity: 0.6; stroke: #ff7f0e; stroke-opacity: 0.6; stroke-width: 1.1"/><circle cx="1846.1" cy="815.7" r="4.5" style="fill: #ff7f0e; fill-opacity: 0.6; stroke: #ff7f0e; stroke-opacity: 0.6; stroke-width: 1.1"/><circle cx="1846" cy="816" r="4.5" style="fill: #ff7f0e; fill-opacity: 0.6; stroke: #ff7f0e; stroke-opacity: 0.6; stroke-width: 1.1"/><circle cx="1845.9" cy="816.2" r="4.5" style="fill: #ff7f0e; fill-opacity: 0.6; stroke: #ff7f0e; stroke-opacity: 0.6; stroke-width: 1.1"/><circle cx="1845.9" cy="816.4" r="4.5" style="fill: #ff7f0e; fill-opacity: 0.6; stroke: #ff7f0e; stroke-opacity: 0.6; stroke-width: 1.1"/><circle cx="1845.8" cy="816.5" r="4.5" style="fill: #ff7f0e; fill-opacity: 0.6; stroke: #ff7f0e; stroke-opacity: 0.6; stroke-width: 1.1"/><circle cx="1845.8" cy="816.7" r="4.5" style="fill: #ff7f0e; fill-opacity: 0.6; stroke: #ff7f0e; stroke-opacity: 0.6; stroke-width: 1.1"/><circle cx="1845.8" cy="816.8" r="4.5" style="fill: #ff7f0e; fill-opacity: 0.6; stroke: #ff7f0e; stroke-opacity: 0.6; stroke-width: 1.1"/><circle cx="1845.7" cy="817.4" r="4.5" style="fill: #ff7f0e; fill-opacity: 0.6; stroke: #ff7f0e; stroke-opacity: 0.6; stroke-width: 1.1"/></g></g><g id="text_58"><g transform="translate(1782.4 560.7)"><text><tspan x="0" y="-0.1" style="font-style: oblique; font-size: 28.6px; font-family: 'DejaVu Sans', sans-serif">θ</tspan><tspan x="144.2" y="-0.1" style="font-style: oblique; font-size: 28.6px; font-family: 'DejaVu Sans', sans-serif">ω</tspan><tspan x="23.1" y="-0.1" style="font-size: 28.6px; font-family: 'DejaVu Sans', sans-serif">=</tspan><tspan x="52.7" y="-0.1" style="font-size: 28.6px; font-family: 'DejaVu Sans', sans-serif">2</tspan><tspan x="70.9" y="-0.1" style="font-size: 28.6px; font-family: 'DejaVu Sans', sans-serif">.</tspan><tspan x="80" y="-0.1" style="font-size: 28.6px; font-family: 'DejaVu Sans', sans-serif">5</tspan><tspan x="98.2" y="-0.1" style="font-size: 28.6px; font-family: 'DejaVu Sans', sans-serif"></tspan><tspan x="107.3" y="-0.1" style="font-size: 28.6px; font-family: 'DejaVu Sans', sans-serif"></tspan><tspan x="116.4" y="-0.1" style="font-size: 28.6px; font-family: 'DejaVu Sans', sans-serif">|</tspan><tspan x="126" y="-0.1" style="font-size: 28.6px; font-family: 'DejaVu Sans', sans-serif"></tspan><tspan x="135.1" y="-0.1" style="font-size: 28.6px; font-family: 'DejaVu Sans', sans-serif"></tspan><tspan x="188.4" y="-0.1" style="font-size: 28.6px; font-family: 'DejaVu Sans', sans-serif">=</tspan><tspan x="218" y="-0.1" style="font-size: 28.6px; font-family: 'DejaVu Sans', sans-serif">0</tspan><tspan x="236.2" y="-0.1" style="font-size: 28.6px; font-family: 'DejaVu Sans', sans-serif">.</tspan><tspan x="245.3" y="-0.1" style="font-size: 28.6px; font-family: 'DejaVu Sans', sans-serif">6</tspan><tspan x="269.1" y="-0.1" style="font-size: 28.6px; font-family: 'DejaVu Sans', sans-serif">×</tspan><tspan x="298.6" y="-0.1" style="font-size: 28.6px; font-family: 'DejaVu Sans', sans-serif">1</tspan><tspan x="316.8" y="-0.1" style="font-size: 28.6px; font-family: 'DejaVu Sans', sans-serif">0</tspan><tspan x="169.5" y="-11.2" style="font-size: 20px; font-family: 'DejaVu Sans', sans-serif">⋆</tspan><tspan x="335.3" y="-11.2" style="font-size: 20px; font-family: 'DejaVu Sans', sans-serif">−</tspan><tspan x="352.1" y="-11.2" style="font-size: 20px; font-family: 'DejaVu Sans', sans-serif">5</tspan></text></g></g><g id="line2d_52"><path d="M 2084.7 583  L 2084.6 583  L 2084.6 583  L 2084.6 583  L 2084.5 583  L 2084.5 583  L 2084.4 583  L 2084.3 583  L 2084.3 583  L 2084.2 583.1  L 2084 583.1  L 2083.9 583.1  L 2083.7 583.1  L 2083.5 583.1  L 2083.3 583.1  L 2083 583.2  L 2082.7 583.2  L 2082.4 583.3  L 2082 583.3  L 2081.5 583.4  L 2081 583.5  L 2080.4 583.6  L 2079.7 583.7  L 2078.9 583.8  L 2078 584  L 2077 584.2  L 2075.9 584.4  L 2074.7 584.7  L 2073.3 585  L 2071.8 585.4  L 2070.1 585.8  L 2068.3 586.3  L 2066.2 586.9  L 2064.1 587.5  L 2061.7 588.3  L 2059.1 589.1  L 2056.3 590.1  L 2053.3 591.1  L 2050.2 592.4  L 2046.8 593.7  L 2043.1 595.2  L 2039.3 596.9  L 2035.3 598.7  L 2031.1 600.8  L 2026.6 603  L 2022 605.4  L 2017.2 608  L 2012.2 610.9  L 2007.1 614  L 2001.8 617.3  L 1996.4 620.8  L 1990.9 624.5  L 1985.3 628.5  L 1979.6 632.7  L 1973.9 637.2  L 1968.1 641.8  L 1962.3 646.7  L 1956.5 651.7  L 1950.8 656.9  L 1945.1 662.3  L 1939.5 667.8  L 1934 673.4  L 1928.6 679.2  L 1923.3 685  L 1918.2 690.9  L 1913.2 696.8  L 1908.4 702.8  L 1903.8 708.7  L 1899.3 714.6  L 1895.1 720.4  L 1891.1 726.2  L 1887.3 731.9  L 1883.6 737.4  L 1880.2 742.8  L 1877.1 748  L 1874.1 753.1  L 1871.3 758  L 1868.7 762.6  L 1866.3 767.1  L 1864.2 771.3  L 1862.1 775.3  L 1860.3 779.1  L 1858.6 782.7  L 1857.1 786  L 1855.7 789.1  L 1854.5 792  L 1853.4 794.7  L 1852.4 797.1  L 1851.5 799.4  L 1850.7 801.4  L 1850 803.3  L 1849.4 805  L 1848.9 806.5  L 1848.4 807.9  L 1848 809.1  L 1847.7 810.2  L 1847.4 811.2  L 1847.1 812  L 1846.9 812.8  L 1846.7 813.5  L 1846.5 814  L 1846.4 814.5  L 1846.2 815  L 1846.1 815.4  L 1846.1 815.7  L 1846 816  L 1845.9 816.2  L 1845.9 816.4  L 1845.8 816.6  L 1845.8 816.7  L 1845.8 816.8  L 1845.7 817.4  " clip-path="url(#p5f0794fb83)" style="fill: none; stroke-dasharray: 8.5,3.7; stroke-dashoffset: 0; stroke: #2ca02c; stroke-opacity: 0.6; stroke-width: 2.3"/><g clip-path="url(#p5f0794fb83)"><path d="M 2080.2 587.5 L 2089.2 587.5 L 2089.2 578.5 L 2080.2 578.5 z" style="fill: #2ca02c; fill-opacity: 0.6; stroke: #2ca02c; stroke-opacity: 0.6; stroke-width: 1.1; stroke-linejoin: miter"/><path d="M 2080.1 587.5 L 2089.1 587.5 L 2089.1 578.5 L 2080.1 578.5 z" style="fill: #2ca02c; fill-opacity: 0.6; stroke: #2ca02c; stroke-opacity: 0.6; stroke-width: 1.1; stroke-linejoin: miter"/><path d="M 2080.1 587.5 L 2089.1 587.5 L 2089.1 578.5 L 2080.1 578.5 z" style="fill: #2ca02c; fill-opacity: 0.6; stroke: #2ca02c; stroke-opacity: 0.6; stroke-width: 1.1; stroke-linejoin: miter"/><path d="M 2080.1 587.5 L 2089.1 587.5 L 2089.1 578.5 L 2080.1 578.5 z" style="fill: #2ca02c; fill-opacity: 0.6; stroke: #2ca02c; stroke-opacity: 0.6; stroke-width: 1.1; stroke-linejoin: miter"/><path d="M 2080 587.5 L 2089 587.5 L 2089 578.5 L 2080 578.5 z" style="fill: #2ca02c; fill-opacity: 0.6; stroke: #2ca02c; stroke-opacity: 0.6; stroke-width: 1.1; stroke-linejoin: miter"/><path d="M 2080 587.5 L 2089 587.5 L 2089 578.5 L 2080 578.5 z" style="fill: #2ca02c; fill-opacity: 0.6; stroke: #2ca02c; stroke-opacity: 0.6; stroke-width: 1.1; stroke-linejoin: miter"/><path d="M 2079.9 587.5 L 2088.9 587.5 L 2088.9 578.5 L 2079.9 578.5 z" style="fill: #2ca02c; fill-opacity: 0.6; stroke: #2ca02c; stroke-opacity: 0.6; stroke-width: 1.1; stroke-linejoin: miter"/><path d="M 2079.8 587.5 L 2088.8 587.5 L 2088.8 578.5 L 2079.8 578.5 z" style="fill: #2ca02c; fill-opacity: 0.6; stroke: #2ca02c; stroke-opacity: 0.6; stroke-width: 1.1; stroke-linejoin: miter"/><path d="M 2079.8 587.5 L 2088.8 587.5 L 2088.8 578.5 L 2079.8 578.5 z" style="fill: #2ca02c; fill-opacity: 0.6; stroke: #2ca02c; stroke-opacity: 0.6; stroke-width: 1.1; stroke-linejoin: miter"/><path d="M 2079.7 587.6 L 2088.7 587.6 L 2088.7 578.6 L 2079.7 578.6 z" style="fill: #2ca02c; fill-opacity: 0.6; stroke: #2ca02c; stroke-opacity: 0.6; stroke-width: 1.1; stroke-linejoin: miter"/><path d="M 2079.5 587.6 L 2088.5 587.6 L 2088.5 578.6 L 2079.5 578.6 z" style="fill: #2ca02c; fill-opacity: 0.6; stroke: #2ca02c; stroke-opacity: 0.6; stroke-width: 1.1; stroke-linejoin: miter"/><path d="M 2079.4 587.6 L 2088.4 587.6 L 2088.4 578.6 L 2079.4 578.6 z" style="fill: #2ca02c; fill-opacity: 0.6; stroke: #2ca02c; stroke-opacity: 0.6; stroke-width: 1.1; stroke-linejoin: miter"/><path d="M 2079.2 587.6 L 2088.2 587.6 L 2088.2 578.6 L 2079.2 578.6 z" style="fill: #2ca02c; fill-opacity: 0.6; stroke: #2ca02c; stroke-opacity: 0.6; stroke-width: 1.1; stroke-linejoin: miter"/><path d="M 2079 587.6 L 2088 587.6 L 2088 578.6 L 2079 578.6 z" style="fill: #2ca02c; fill-opacity: 0.6; stroke: #2ca02c; stroke-opacity: 0.6; stroke-width: 1.1; stroke-linejoin: miter"/><path d="M 2078.8 587.6 L 2087.8 587.6 L 2087.8 578.6 L 2078.8 578.6 z" style="fill: #2ca02c; fill-opacity: 0.6; stroke: #2ca02c; stroke-opacity: 0.6; stroke-width: 1.1; stroke-linejoin: miter"/><path d="M 2078.5 587.7 L 2087.5 587.7 L 2087.5 578.7 L 2078.5 578.7 z" style="fill: #2ca02c; fill-opacity: 0.6; stroke: #2ca02c; stroke-opacity: 0.6; stroke-width: 1.1; stroke-linejoin: miter"/><path d="M 2078.2 587.7 L 2087.2 587.7 L 2087.2 578.7 L 2078.2 578.7 z" style="fill: #2ca02c; fill-opacity: 0.6; stroke: #2ca02c; stroke-opacity: 0.6; stroke-width: 1.1; stroke-linejoin: miter"/><path d="M 2077.9 587.8 L 2086.9 587.8 L 2086.9 578.8 L 2077.9 578.8 z" style="fill: #2ca02c; fill-opacity: 0.6; stroke: #2ca02c; stroke-opacity: 0.6; stroke-width: 1.1; stroke-linejoin: miter"/><path d="M 2077.5 587.8 L 2086.5 587.8 L 2086.5 578.8 L 2077.5 578.8 z" style="fill: #2ca02c; fill-opacity: 0.6; stroke: #2ca02c; stroke-opacity: 0.6; stroke-width: 1.1; stroke-linejoin: miter"/><path d="M 2077 587.9 L 2086 587.9 L 2086 578.9 L 2077 578.9 z" style="fill: #2ca02c; fill-opacity: 0.6; stroke: #2ca02c; stroke-opacity: 0.6; stroke-width: 1.1; stroke-linejoin: miter"/><path d="M 2076.5 588 L 2085.5 588 L 2085.5 579 L 2076.5 579 z" style="fill: #2ca02c; fill-opacity: 0.6; stroke: #2ca02c; stroke-opacity: 0.6; stroke-width: 1.1; stroke-linejoin: miter"/><path d="M 2075.9 588.1 L 2084.9 588.1 L 2084.9 579.1 L 2075.9 579.1 z" style="fill: #2ca02c; fill-opacity: 0.6; stroke: #2ca02c; stroke-opacity: 0.6; stroke-width: 1.1; stroke-linejoin: miter"/><path d="M 2075.2 588.2 L 2084.2 588.2 L 2084.2 579.2 L 2075.2 579.2 z" style="fill: #2ca02c; fill-opacity: 0.6; stroke: #2ca02c; stroke-opacity: 0.6; stroke-width: 1.1; stroke-linejoin: miter"/><path d="M 2074.4 588.3 L 2083.4 588.3 L 2083.4 579.3 L 2074.4 579.3 z" style="fill: #2ca02c; fill-opacity: 0.6; stroke: #2ca02c; stroke-opacity: 0.6; stroke-width: 1.1; stroke-linejoin: miter"/><path d="M 2073.5 588.5 L 2082.5 588.5 L 2082.5 579.5 L 2073.5 579.5 z" style="fill: #2ca02c; fill-opacity: 0.6; stroke: #2ca02c; stroke-opacity: 0.6; stroke-width: 1.1; stroke-linejoin: miter"/><path d="M 2072.5 588.7 L 2081.5 588.7 L 2081.5 579.7 L 2072.5 579.7 z" style="fill: #2ca02c; fill-opacity: 0.6; stroke: #2ca02c; stroke-opacity: 0.6; stroke-width: 1.1; stroke-linejoin: miter"/><path d="M 2071.4 588.9 L 2080.4 588.9 L 2080.4 579.9 L 2071.4 579.9 z" style="fill: #2ca02c; fill-opacity: 0.6; stroke: #2ca02c; stroke-opacity: 0.6; stroke-width: 1.1; stroke-linejoin: miter"/><path d="M 2070.2 589.2 L 2079.2 589.2 L 2079.2 580.2 L 2070.2 580.2 z" style="fill: #2ca02c; fill-opacity: 0.6; stroke: #2ca02c; stroke-opacity: 0.6; stroke-width: 1.1; stroke-linejoin: miter"/><path d="M 2068.8 589.5 L 2077.8 589.5 L 2077.8 580.5 L 2068.8 580.5 z" style="fill: #2ca02c; fill-opacity: 0.6; stroke: #2ca02c; stroke-opacity: 0.6; stroke-width: 1.1; stroke-linejoin: miter"/><path d="M 2067.3 589.9 L 2076.3 589.9 L 2076.3 580.9 L 2067.3 580.9 z" style="fill: #2ca02c; fill-opacity: 0.6; stroke: #2ca02c; stroke-opacity: 0.6; stroke-width: 1.1; stroke-linejoin: miter"/><path d="M 2065.6 590.3 L 2074.6 590.3 L 2074.6 581.3 L 2065.6 581.3 z" style="fill: #2ca02c; fill-opacity: 0.6; stroke: #2ca02c; stroke-opacity: 0.6; stroke-width: 1.1; stroke-linejoin: miter"/><path d="M 2063.8 590.8 L 2072.8 590.8 L 2072.8 581.8 L 2063.8 581.8 z" style="fill: #2ca02c; fill-opacity: 0.6; stroke: #2ca02c; stroke-opacity: 0.6; stroke-width: 1.1; stroke-linejoin: miter"/><path d="M 2061.7 591.4 L 2070.7 591.4 L 2070.7 582.4 L 2061.7 582.4 z" style="fill: #2ca02c; fill-opacity: 0.6; stroke: #2ca02c; stroke-opacity: 0.6; stroke-width: 1.1; stroke-linejoin: miter"/><path d="M 2059.6 592 L 2068.6 592 L 2068.6 583 L 2059.6 583 z" style="fill: #2ca02c; fill-opacity: 0.6; stroke: #2ca02c; stroke-opacity: 0.6; stroke-width: 1.1; stroke-linejoin: miter"/><path d="M 2057.2 592.8 L 2066.2 592.8 L 2066.2 583.8 L 2057.2 583.8 z" style="fill: #2ca02c; fill-opacity: 0.6; stroke: #2ca02c; stroke-opacity: 0.6; stroke-width: 1.1; stroke-linejoin: miter"/><path d="M 2054.6 593.6 L 2063.6 593.6 L 2063.6 584.6 L 2054.6 584.6 z" style="fill: #2ca02c; fill-opacity: 0.6; stroke: #2ca02c; stroke-opacity: 0.6; stroke-width: 1.1; stroke-linejoin: miter"/><path d="M 2051.8 594.6 L 2060.8 594.6 L 2060.8 585.6 L 2051.8 585.6 z" style="fill: #2ca02c; fill-opacity: 0.6; stroke: #2ca02c; stroke-opacity: 0.6; stroke-width: 1.1; stroke-linejoin: miter"/><path d="M 2048.8 595.6 L 2057.8 595.6 L 2057.8 586.6 L 2048.8 586.6 z" style="fill: #2ca02c; fill-opacity: 0.6; stroke: #2ca02c; stroke-opacity: 0.6; stroke-width: 1.1; stroke-linejoin: miter"/><path d="M 2045.7 596.9 L 2054.7 596.9 L 2054.7 587.9 L 2045.7 587.9 z" style="fill: #2ca02c; fill-opacity: 0.6; stroke: #2ca02c; stroke-opacity: 0.6; stroke-width: 1.1; stroke-linejoin: miter"/><path d="M 2042.3 598.2 L 2051.3 598.2 L 2051.3 589.2 L 2042.3 589.2 z" style="fill: #2ca02c; fill-opacity: 0.6; stroke: #2ca02c; stroke-opacity: 0.6; stroke-width: 1.1; stroke-linejoin: miter"/><path d="M 2038.6 599.7 L 2047.6 599.7 L 2047.6 590.7 L 2038.6 590.7 z" style="fill: #2ca02c; fill-opacity: 0.6; stroke: #2ca02c; stroke-opacity: 0.6; stroke-width: 1.1; stroke-linejoin: miter"/><path d="M 2034.8 601.4 L 2043.8 601.4 L 2043.8 592.4 L 2034.8 592.4 z" style="fill: #2ca02c; fill-opacity: 0.6; stroke: #2ca02c; stroke-opacity: 0.6; stroke-width: 1.1; stroke-linejoin: miter"/><path d="M 2030.8 603.2 L 2039.8 603.2 L 2039.8 594.2 L 2030.8 594.2 z" style="fill: #2ca02c; fill-opacity: 0.6; stroke: #2ca02c; stroke-opacity: 0.6; stroke-width: 1.1; stroke-linejoin: miter"/><path d="M 2026.6 605.3 L 2035.6 605.3 L 2035.6 596.3 L 2026.6 596.3 z" style="fill: #2ca02c; fill-opacity: 0.6; stroke: #2ca02c; stroke-opacity: 0.6; stroke-width: 1.1; stroke-linejoin: miter"/><path d="M 2022.1 607.5 L 2031.1 607.5 L 2031.1 598.5 L 2022.1 598.5 z" style="fill: #2ca02c; fill-opacity: 0.6; stroke: #2ca02c; stroke-opacity: 0.6; stroke-width: 1.1; stroke-linejoin: miter"/><path d="M 2017.5 609.9 L 2026.5 609.9 L 2026.5 600.9 L 2017.5 600.9 z" style="fill: #2ca02c; fill-opacity: 0.6; stroke: #2ca02c; stroke-opacity: 0.6; stroke-width: 1.1; stroke-linejoin: miter"/><path d="M 2012.7 612.5 L 2021.7 612.5 L 2021.7 603.5 L 2012.7 603.5 z" style="fill: #2ca02c; fill-opacity: 0.6; stroke: #2ca02c; stroke-opacity: 0.6; stroke-width: 1.1; stroke-linejoin: miter"/><path d="M 2007.7 615.4 L 2016.7 615.4 L 2016.7 606.4 L 2007.7 606.4 z" style="fill: #2ca02c; fill-opacity: 0.6; stroke: #2ca02c; stroke-opacity: 0.6; stroke-width: 1.1; stroke-linejoin: miter"/><path d="M 2002.6 618.5 L 2011.6 618.5 L 2011.6 609.5 L 2002.6 609.5 z" style="fill: #2ca02c; fill-opacity: 0.6; stroke: #2ca02c; stroke-opacity: 0.6; stroke-width: 1.1; stroke-linejoin: miter"/><path d="M 1997.3 621.8 L 2006.3 621.8 L 2006.3 612.8 L 1997.3 612.8 z" style="fill: #2ca02c; fill-opacity: 0.6; stroke: #2ca02c; stroke-opacity: 0.6; stroke-width: 1.1; stroke-linejoin: miter"/><path d="M 1991.9 625.3 L 2000.9 625.3 L 2000.9 616.3 L 1991.9 616.3 z" style="fill: #2ca02c; fill-opacity: 0.6; stroke: #2ca02c; stroke-opacity: 0.6; stroke-width: 1.1; stroke-linejoin: miter"/><path d="M 1986.4 629 L 1995.4 629 L 1995.4 620 L 1986.4 620 z" style="fill: #2ca02c; fill-opacity: 0.6; stroke: #2ca02c; stroke-opacity: 0.6; stroke-width: 1.1; stroke-linejoin: miter"/><path d="M 1980.8 633 L 1989.8 633 L 1989.8 624 L 1980.8 624 z" style="fill: #2ca02c; fill-opacity: 0.6; stroke: #2ca02c; stroke-opacity: 0.6; stroke-width: 1.1; stroke-linejoin: miter"/><path d="M 1975.1 637.2 L 1984.1 637.2 L 1984.1 628.2 L 1975.1 628.2 z" style="fill: #2ca02c; fill-opacity: 0.6; stroke: #2ca02c; stroke-opacity: 0.6; stroke-width: 1.1; stroke-linejoin: miter"/><path d="M 1969.4 641.7 L 1978.4 641.7 L 1978.4 632.7 L 1969.4 632.7 z" style="fill: #2ca02c; fill-opacity: 0.6; stroke: #2ca02c; stroke-opacity: 0.6; stroke-width: 1.1; stroke-linejoin: miter"/><path d="M 1963.6 646.3 L 1972.6 646.3 L 1972.6 637.3 L 1963.6 637.3 z" style="fill: #2ca02c; fill-opacity: 0.6; stroke: #2ca02c; stroke-opacity: 0.6; stroke-width: 1.1; stroke-linejoin: miter"/><path d="M 1957.8 651.2 L 1966.8 651.2 L 1966.8 642.2 L 1957.8 642.2 z" style="fill: #2ca02c; fill-opacity: 0.6; stroke: #2ca02c; stroke-opacity: 0.6; stroke-width: 1.1; stroke-linejoin: miter"/><path d="M 1952 656.2 L 1961 656.2 L 1961 647.2 L 1952 647.2 z" style="fill: #2ca02c; fill-opacity: 0.6; stroke: #2ca02c; stroke-opacity: 0.6; stroke-width: 1.1; stroke-linejoin: miter"/><path d="M 1946.3 661.4 L 1955.3 661.4 L 1955.3 652.4 L 1946.3 652.4 z" style="fill: #2ca02c; fill-opacity: 0.6; stroke: #2ca02c; stroke-opacity: 0.6; stroke-width: 1.1; stroke-linejoin: miter"/><path d="M 1940.6 666.8 L 1949.6 666.8 L 1949.6 657.8 L 1940.6 657.8 z" style="fill: #2ca02c; fill-opacity: 0.6; stroke: #2ca02c; stroke-opacity: 0.6; stroke-width: 1.1; stroke-linejoin: miter"/><path d="M 1935 672.3 L 1944 672.3 L 1944 663.3 L 1935 663.3 z" style="fill: #2ca02c; fill-opacity: 0.6; stroke: #2ca02c; stroke-opacity: 0.6; stroke-width: 1.1; stroke-linejoin: miter"/><path d="M 1929.5 677.9 L 1938.5 677.9 L 1938.5 668.9 L 1929.5 668.9 z" style="fill: #2ca02c; fill-opacity: 0.6; stroke: #2ca02c; stroke-opacity: 0.6; stroke-width: 1.1; stroke-linejoin: miter"/><path d="M 1924.1 683.7 L 1933.1 683.7 L 1933.1 674.7 L 1924.1 674.7 z" style="fill: #2ca02c; fill-opacity: 0.6; stroke: #2ca02c; stroke-opacity: 0.6; stroke-width: 1.1; stroke-linejoin: miter"/><path d="M 1918.8 689.5 L 1927.8 689.5 L 1927.8 680.5 L 1918.8 680.5 z" style="fill: #2ca02c; fill-opacity: 0.6; stroke: #2ca02c; stroke-opacity: 0.6; stroke-width: 1.1; stroke-linejoin: miter"/><path d="M 1913.7 695.4 L 1922.7 695.4 L 1922.7 686.4 L 1913.7 686.4 z" style="fill: #2ca02c; fill-opacity: 0.6; stroke: #2ca02c; stroke-opacity: 0.6; stroke-width: 1.1; stroke-linejoin: miter"/><path d="M 1908.7 701.3 L 1917.7 701.3 L 1917.7 692.3 L 1908.7 692.3 z" style="fill: #2ca02c; fill-opacity: 0.6; stroke: #2ca02c; stroke-opacity: 0.6; stroke-width: 1.1; stroke-linejoin: miter"/><path d="M 1903.9 707.3 L 1912.9 707.3 L 1912.9 698.3 L 1903.9 698.3 z" style="fill: #2ca02c; fill-opacity: 0.6; stroke: #2ca02c; stroke-opacity: 0.6; stroke-width: 1.1; stroke-linejoin: miter"/><path d="M 1899.3 713.2 L 1908.3 713.2 L 1908.3 704.2 L 1899.3 704.2 z" style="fill: #2ca02c; fill-opacity: 0.6; stroke: #2ca02c; stroke-opacity: 0.6; stroke-width: 1.1; stroke-linejoin: miter"/><path d="M 1894.8 719.1 L 1903.8 719.1 L 1903.8 710.1 L 1894.8 710.1 z" style="fill: #2ca02c; fill-opacity: 0.6; stroke: #2ca02c; stroke-opacity: 0.6; stroke-width: 1.1; stroke-linejoin: miter"/><path d="M 1890.6 724.9 L 1899.6 724.9 L 1899.6 715.9 L 1890.6 715.9 z" style="fill: #2ca02c; fill-opacity: 0.6; stroke: #2ca02c; stroke-opacity: 0.6; stroke-width: 1.1; stroke-linejoin: miter"/><path d="M 1886.6 730.7 L 1895.6 730.7 L 1895.6 721.7 L 1886.6 721.7 z" style="fill: #2ca02c; fill-opacity: 0.6; stroke: #2ca02c; stroke-opacity: 0.6; stroke-width: 1.1; stroke-linejoin: miter"/><path d="M 1882.8 736.4 L 1891.8 736.4 L 1891.8 727.4 L 1882.8 727.4 z" style="fill: #2ca02c; fill-opacity: 0.6; stroke: #2ca02c; stroke-opacity: 0.6; stroke-width: 1.1; stroke-linejoin: miter"/><path d="M 1879.1 741.9 L 1888.1 741.9 L 1888.1 732.9 L 1879.1 732.9 z" style="fill: #2ca02c; fill-opacity: 0.6; stroke: #2ca02c; stroke-opacity: 0.6; stroke-width: 1.1; stroke-linejoin: miter"/><path d="M 1875.7 747.3 L 1884.7 747.3 L 1884.7 738.3 L 1875.7 738.3 z" style="fill: #2ca02c; fill-opacity: 0.6; stroke: #2ca02c; stroke-opacity: 0.6; stroke-width: 1.1; stroke-linejoin: miter"/><path d="M 1872.6 752.5 L 1881.6 752.5 L 1881.6 743.5 L 1872.6 743.5 z" style="fill: #2ca02c; fill-opacity: 0.6; stroke: #2ca02c; stroke-opacity: 0.6; stroke-width: 1.1; stroke-linejoin: miter"/><path d="M 1869.6 757.6 L 1878.6 757.6 L 1878.6 748.6 L 1869.6 748.6 z" style="fill: #2ca02c; fill-opacity: 0.6; stroke: #2ca02c; stroke-opacity: 0.6; stroke-width: 1.1; stroke-linejoin: miter"/><path d="M 1866.8 762.5 L 1875.8 762.5 L 1875.8 753.5 L 1866.8 753.5 z" style="fill: #2ca02c; fill-opacity: 0.6; stroke: #2ca02c; stroke-opacity: 0.6; stroke-width: 1.1; stroke-linejoin: miter"/><path d="M 1864.2 767.1 L 1873.2 767.1 L 1873.2 758.1 L 1864.2 758.1 z" style="fill: #2ca02c; fill-opacity: 0.6; stroke: #2ca02c; stroke-opacity: 0.6; stroke-width: 1.1; stroke-linejoin: miter"/><path d="M 1861.8 771.6 L 1870.8 771.6 L 1870.8 762.6 L 1861.8 762.6 z" style="fill: #2ca02c; fill-opacity: 0.6; stroke: #2ca02c; stroke-opacity: 0.6; stroke-width: 1.1; stroke-linejoin: miter"/><path d="M 1859.7 775.8 L 1868.7 775.8 L 1868.7 766.8 L 1859.7 766.8 z" style="fill: #2ca02c; fill-opacity: 0.6; stroke: #2ca02c; stroke-opacity: 0.6; stroke-width: 1.1; stroke-linejoin: miter"/><path d="M 1857.6 779.8 L 1866.6 779.8 L 1866.6 770.8 L 1857.6 770.8 z" style="fill: #2ca02c; fill-opacity: 0.6; stroke: #2ca02c; stroke-opacity: 0.6; stroke-width: 1.1; stroke-linejoin: miter"/><path d="M 1855.8 783.6 L 1864.8 783.6 L 1864.8 774.6 L 1855.8 774.6 z" style="fill: #2ca02c; fill-opacity: 0.6; stroke: #2ca02c; stroke-opacity: 0.6; stroke-width: 1.1; stroke-linejoin: miter"/><path d="M 1854.1 787.2 L 1863.1 787.2 L 1863.1 778.2 L 1854.1 778.2 z" style="fill: #2ca02c; fill-opacity: 0.6; stroke: #2ca02c; stroke-opacity: 0.6; stroke-width: 1.1; stroke-linejoin: miter"/><path d="M 1852.6 790.5 L 1861.6 790.5 L 1861.6 781.5 L 1852.6 781.5 z" style="fill: #2ca02c; fill-opacity: 0.6; stroke: #2ca02c; stroke-opacity: 0.6; stroke-width: 1.1; stroke-linejoin: miter"/><path d="M 1851.2 793.6 L 1860.2 793.6 L 1860.2 784.6 L 1851.2 784.6 z" style="fill: #2ca02c; fill-opacity: 0.6; stroke: #2ca02c; stroke-opacity: 0.6; stroke-width: 1.1; stroke-linejoin: miter"/><path d="M 1850 796.5 L 1859 796.5 L 1859 787.5 L 1850 787.5 z" style="fill: #2ca02c; fill-opacity: 0.6; stroke: #2ca02c; stroke-opacity: 0.6; stroke-width: 1.1; stroke-linejoin: miter"/><path d="M 1848.9 799.2 L 1857.9 799.2 L 1857.9 790.2 L 1848.9 790.2 z" style="fill: #2ca02c; fill-opacity: 0.6; stroke: #2ca02c; stroke-opacity: 0.6; stroke-width: 1.1; stroke-linejoin: miter"/><path d="M 1847.9 801.6 L 1856.9 801.6 L 1856.9 792.6 L 1847.9 792.6 z" style="fill: #2ca02c; fill-opacity: 0.6; stroke: #2ca02c; stroke-opacity: 0.6; stroke-width: 1.1; stroke-linejoin: miter"/><path d="M 1847 803.9 L 1856 803.9 L 1856 794.9 L 1847 794.9 z" style="fill: #2ca02c; fill-opacity: 0.6; stroke: #2ca02c; stroke-opacity: 0.6; stroke-width: 1.1; stroke-linejoin: miter"/><path d="M 1846.2 805.9 L 1855.2 805.9 L 1855.2 796.9 L 1846.2 796.9 z" style="fill: #2ca02c; fill-opacity: 0.6; stroke: #2ca02c; stroke-opacity: 0.6; stroke-width: 1.1; stroke-linejoin: miter"/><path d="M 1845.5 807.8 L 1854.5 807.8 L 1854.5 798.8 L 1845.5 798.8 z" style="fill: #2ca02c; fill-opacity: 0.6; stroke: #2ca02c; stroke-opacity: 0.6; stroke-width: 1.1; stroke-linejoin: miter"/><path d="M 1844.9 809.5 L 1853.9 809.5 L 1853.9 800.5 L 1844.9 800.5 z" style="fill: #2ca02c; fill-opacity: 0.6; stroke: #2ca02c; stroke-opacity: 0.6; stroke-width: 1.1; stroke-linejoin: miter"/><path d="M 1844.4 811 L 1853.4 811 L 1853.4 802 L 1844.4 802 z" style="fill: #2ca02c; fill-opacity: 0.6; stroke: #2ca02c; stroke-opacity: 0.6; stroke-width: 1.1; stroke-linejoin: miter"/><path d="M 1843.9 812.4 L 1852.9 812.4 L 1852.9 803.4 L 1843.9 803.4 z" style="fill: #2ca02c; fill-opacity: 0.6; stroke: #2ca02c; stroke-opacity: 0.6; stroke-width: 1.1; stroke-linejoin: miter"/><path d="M 1843.5 813.6 L 1852.5 813.6 L 1852.5 804.6 L 1843.5 804.6 z" style="fill: #2ca02c; fill-opacity: 0.6; stroke: #2ca02c; stroke-opacity: 0.6; stroke-width: 1.1; stroke-linejoin: miter"/><path d="M 1843.2 814.7 L 1852.2 814.7 L 1852.2 805.7 L 1843.2 805.7 z" style="fill: #2ca02c; fill-opacity: 0.6; stroke: #2ca02c; stroke-opacity: 0.6; stroke-width: 1.1; stroke-linejoin: miter"/><path d="M 1842.9 815.7 L 1851.9 815.7 L 1851.9 806.7 L 1842.9 806.7 z" style="fill: #2ca02c; fill-opacity: 0.6; stroke: #2ca02c; stroke-opacity: 0.6; stroke-width: 1.1; stroke-linejoin: miter"/><path d="M 1842.6 816.5 L 1851.6 816.5 L 1851.6 807.5 L 1842.6 807.5 z" style="fill: #2ca02c; fill-opacity: 0.6; stroke: #2ca02c; stroke-opacity: 0.6; stroke-width: 1.1; stroke-linejoin: miter"/><path d="M 1842.4 817.3 L 1851.4 817.3 L 1851.4 808.3 L 1842.4 808.3 z" style="fill: #2ca02c; fill-opacity: 0.6; stroke: #2ca02c; stroke-opacity: 0.6; stroke-width: 1.1; stroke-linejoin: miter"/><path d="M 1842.2 818 L 1851.2 818 L 1851.2 809 L 1842.2 809 z" style="fill: #2ca02c; fill-opacity: 0.6; stroke: #2ca02c; stroke-opacity: 0.6; stroke-width: 1.1; stroke-linejoin: miter"/><path d="M 1842 818.5 L 1851 818.5 L 1851 809.5 L 1842 809.5 z" style="fill: #2ca02c; fill-opacity: 0.6; stroke: #2ca02c; stroke-opacity: 0.6; stroke-width: 1.1; stroke-linejoin: miter"/><path d="M 1841.9 819 L 1850.9 819 L 1850.9 810 L 1841.9 810 z" style="fill: #2ca02c; fill-opacity: 0.6; stroke: #2ca02c; stroke-opacity: 0.6; stroke-width: 1.1; stroke-linejoin: miter"/><path d="M 1841.7 819.5 L 1850.7 819.5 L 1850.7 810.5 L 1841.7 810.5 z" style="fill: #2ca02c; fill-opacity: 0.6; stroke: #2ca02c; stroke-opacity: 0.6; stroke-width: 1.1; stroke-linejoin: miter"/><path d="M 1841.6 819.9 L 1850.6 819.9 L 1850.6 810.9 L 1841.6 810.9 z" style="fill: #2ca02c; fill-opacity: 0.6; stroke: #2ca02c; stroke-opacity: 0.6; stroke-width: 1.1; stroke-linejoin: miter"/><path d="M 1841.6 820.2 L 1850.6 820.2 L 1850.6 811.2 L 1841.6 811.2 z" style="fill: #2ca02c; fill-opacity: 0.6; stroke: #2ca02c; stroke-opacity: 0.6; stroke-width: 1.1; stroke-linejoin: miter"/><path d="M 1841.5 820.5 L 1850.5 820.5 L 1850.5 811.5 L 1841.5 811.5 z" style="fill: #2ca02c; fill-opacity: 0.6; stroke: #2ca02c; stroke-opacity: 0.6; stroke-width: 1.1; stroke-linejoin: miter"/><path d="M 1841.4 820.7 L 1850.4 820.7 L 1850.4 811.7 L 1841.4 811.7 z" style="fill: #2ca02c; fill-opacity: 0.6; stroke: #2ca02c; stroke-opacity: 0.6; stroke-width: 1.1; stroke-linejoin: miter"/><path d="M 1841.4 820.9 L 1850.4 820.9 L 1850.4 811.9 L 1841.4 811.9 z" style="fill: #2ca02c; fill-opacity: 0.6; stroke: #2ca02c; stroke-opacity: 0.6; stroke-width: 1.1; stroke-linejoin: miter"/><path d="M 1841.3 821.1 L 1850.3 821.1 L 1850.3 812.1 L 1841.3 812.1 z" style="fill: #2ca02c; fill-opacity: 0.6; stroke: #2ca02c; stroke-opacity: 0.6; stroke-width: 1.1; stroke-linejoin: miter"/><path d="M 1841.3 821.2 L 1850.3 821.2 L 1850.3 812.2 L 1841.3 812.2 z" style="fill: #2ca02c; fill-opacity: 0.6; stroke: #2ca02c; stroke-opacity: 0.6; stroke-width: 1.1; stroke-linejoin: miter"/><path d="M 1841.3 821.3 L 1850.3 821.3 L 1850.3 812.3 L 1841.3 812.3 z" style="fill: #2ca02c; fill-opacity: 0.6; stroke: #2ca02c; stroke-opacity: 0.6; stroke-width: 1.1; stroke-linejoin: miter"/><path d="M 1841.2 821.9 L 1850.2 821.9 L 1850.2 812.9 L 1841.2 812.9 z" style="fill: #2ca02c; fill-opacity: 0.6; stroke: #2ca02c; stroke-opacity: 0.6; stroke-width: 1.1; stroke-linejoin: miter"/></g></g><g id="line2d_53"><path d="M 2084.7 583  L 2084.6 583  L 2084.6 583  L 2084.6 583  L 2084.5 583  L 2084.5 583  L 2084.4 583  L 2084.3 583  L 2084.3 583.1  L 2084.2 583.1  L 2084 583.1  L 2083.9 583.1  L 2083.7 583.1  L 2083.5 583.1  L 2083.3 583.1  L 2083 583.2  L 2082.7 583.2  L 2082.4 583.2  L 2082 583.3  L 2081.5 583.4  L 2081 583.4  L 2080.4 583.5  L 2079.7 583.6  L 2078.9 583.7  L 2078 583.9  L 2077 584  L 2075.9 584.2  L 2074.7 584.5  L 2073.3 584.7  L 2071.8 585  L 2070.1 585.4  L 2068.3 585.8  L 2066.2 586.2  L 2064.1 586.8  L 2061.7 587.4  L 2059.1 588  L 2056.3 588.8  L 2053.3 589.6  L 2050.2 590.6  L 2046.8 591.6  L 2043.1 592.8  L 2039.3 594.1  L 2035.3 595.6  L 2031.1 597.2  L 2026.6 598.9  L 2022 600.8  L 2017.2 602.9  L 2012.2 605.1  L 2007.1 607.6  L 2001.8 610.2  L 1996.4 613  L 1990.9 616  L 1985.3 619.2  L 1979.6 622.6  L 1973.9 626.2  L 1968.1 630  L 1962.3 634  L 1956.5 638.2  L 1950.8 642.6  L 1945.1 647.1  L 1939.5 651.8  L 1934 656.7  L 1928.6 661.7  L 1923.3 666.8  L 1918.2 672.1  L 1913.2 677.4  L 1908.4 682.8  L 1903.8 688.3  L 1899.3 693.8  L 1895.1 699.4  L 1891.1 704.9  L 1887.3 710.4  L 1883.6 715.9  L 1880.2 721.4  L 1877.1 726.7  L 1874.1 732  L 1871.3 737.2  L 1868.7 742.2  L 1866.3 747.1  L 1864.2 751.9  L 1862.1 756.5  L 1860.3 760.9  L 1858.6 765.1  L 1857.1 769.2  L 1855.7 773.1  L 1854.5 776.7  L 1853.4 780.2  L 1852.4 783.5  L 1851.5 786.5  L 1850.7 789.4  L 1850 792.1  L 1849.4 794.6  L 1848.9 796.9  L 1848.4 799  L 1848 800.9  L 1847.7 802.7  L 1847.4 804.4  L 1847.1 805.8  L 1846.9 807.2  L 1846.7 808.4  L 1846.5 809.5  L 1846.4 810.5  L 1846.2 811.4  L 1846.1 812.2  L 1846.1 812.9  L 1846 813.5  L 1845.9 814  L 1845.9 814.5  L 1845.8 814.9  L 1845.8 815.3  L 1845.8 815.6  L 1845.7 817.4  " clip-path="url(#p5f0794fb83)" style="fill: none; stroke-dasharray: 8.5,3.7; stroke-dashoffset: 0; stroke: #d62728; stroke-opacity: 0.6; stroke-width: 2.3"/><g clip-path="url(#p5f0794fb83)"><circle cx="2084.7" cy="583" r="4.5" style="fill: #d62728; fill-opacity: 0.6; stroke: #d62728; stroke-opacity: 0.6; stroke-width: 1.1"/><circle cx="2084.6" cy="583" r="4.5" style="fill: #d62728; fill-opacity: 0.6; stroke: #d62728; stroke-opacity: 0.6; stroke-width: 1.1"/><circle cx="2084.6" cy="583" r="4.5" style="fill: #d62728; fill-opacity: 0.6; stroke: #d62728; stroke-opacity: 0.6; stroke-width: 1.1"/><circle cx="2084.6" cy="583" r="4.5" style="fill: #d62728; fill-opacity: 0.6; stroke: #d62728; stroke-opacity: 0.6; stroke-width: 1.1"/><circle cx="2084.5" cy="583" r="4.5" style="fill: #d62728; fill-opacity: 0.6; stroke: #d62728; stroke-opacity: 0.6; stroke-width: 1.1"/><circle cx="2084.5" cy="583" r="4.5" style="fill: #d62728; fill-opacity: 0.6; stroke: #d62728; stroke-opacity: 0.6; stroke-width: 1.1"/><circle cx="2084.4" cy="583" r="4.5" style="fill: #d62728; fill-opacity: 0.6; stroke: #d62728; stroke-opacity: 0.6; stroke-width: 1.1"/><circle cx="2084.3" cy="583" r="4.5" style="fill: #d62728; fill-opacity: 0.6; stroke: #d62728; stroke-opacity: 0.6; stroke-width: 1.1"/><circle cx="2084.3" cy="583.1" r="4.5" style="fill: #d62728; fill-opacity: 0.6; stroke: #d62728; stroke-opacity: 0.6; stroke-width: 1.1"/><circle cx="2084.2" cy="583.1" r="4.5" style="fill: #d62728; fill-opacity: 0.6; stroke: #d62728; stroke-opacity: 0.6; stroke-width: 1.1"/><circle cx="2084" cy="583.1" r="4.5" style="fill: #d62728; fill-opacity: 0.6; stroke: #d62728; stroke-opacity: 0.6; stroke-width: 1.1"/><circle cx="2083.9" cy="583.1" r="4.5" style="fill: #d62728; fill-opacity: 0.6; stroke: #d62728; stroke-opacity: 0.6; stroke-width: 1.1"/><circle cx="2083.7" cy="583.1" r="4.5" style="fill: #d62728; fill-opacity: 0.6; stroke: #d62728; stroke-opacity: 0.6; stroke-width: 1.1"/><circle cx="2083.5" cy="583.1" r="4.5" style="fill: #d62728; fill-opacity: 0.6; stroke: #d62728; stroke-opacity: 0.6; stroke-width: 1.1"/><circle cx="2083.3" cy="583.1" r="4.5" style="fill: #d62728; fill-opacity: 0.6; stroke: #d62728; stroke-opacity: 0.6; stroke-width: 1.1"/><circle cx="2083" cy="583.2" r="4.5" style="fill: #d62728; fill-opacity: 0.6; stroke: #d62728; stroke-opacity: 0.6; stroke-width: 1.1"/><circle cx="2082.7" cy="583.2" r="4.5" style="fill: #d62728; fill-opacity: 0.6; stroke: #d62728; stroke-opacity: 0.6; stroke-width: 1.1"/><circle cx="2082.4" cy="583.2" r="4.5" style="fill: #d62728; fill-opacity: 0.6; stroke: #d62728; stroke-opacity: 0.6; stroke-width: 1.1"/><circle cx="2082" cy="583.3" r="4.5" style="fill: #d62728; fill-opacity: 0.6; stroke: #d62728; stroke-opacity: 0.6; stroke-width: 1.1"/><circle cx="2081.5" cy="583.4" r="4.5" style="fill: #d62728; fill-opacity: 0.6; stroke: #d62728; stroke-opacity: 0.6; stroke-width: 1.1"/><circle cx="2081" cy="583.4" r="4.5" style="fill: #d62728; fill-opacity: 0.6; stroke: #d62728; stroke-opacity: 0.6; stroke-width: 1.1"/><circle cx="2080.4" cy="583.5" r="4.5" style="fill: #d62728; fill-opacity: 0.6; stroke: #d62728; stroke-opacity: 0.6; stroke-width: 1.1"/><circle cx="2079.7" cy="583.6" r="4.5" style="fill: #d62728; fill-opacity: 0.6; stroke: #d62728; stroke-opacity: 0.6; stroke-width: 1.1"/><circle cx="2078.9" cy="583.7" r="4.5" style="fill: #d62728; fill-opacity: 0.6; stroke: #d62728; stroke-opacity: 0.6; stroke-width: 1.1"/><circle cx="2078" cy="583.9" r="4.5" style="fill: #d62728; fill-opacity: 0.6; stroke: #d62728; stroke-opacity: 0.6; stroke-width: 1.1"/><circle cx="2077" cy="584" r="4.5" style="fill: #d62728; fill-opacity: 0.6; stroke: #d62728; stroke-opacity: 0.6; stroke-width: 1.1"/><circle cx="2075.9" cy="584.2" r="4.5" style="fill: #d62728; fill-opacity: 0.6; stroke: #d62728; stroke-opacity: 0.6; stroke-width: 1.1"/><circle cx="2074.7" cy="584.5" r="4.5" style="fill: #d62728; fill-opacity: 0.6; stroke: #d62728; stroke-opacity: 0.6; stroke-width: 1.1"/><circle cx="2073.3" cy="584.7" r="4.5" style="fill: #d62728; fill-opacity: 0.6; stroke: #d62728; stroke-opacity: 0.6; stroke-width: 1.1"/><circle cx="2071.8" cy="585" r="4.5" style="fill: #d62728; fill-opacity: 0.6; stroke: #d62728; stroke-opacity: 0.6; stroke-width: 1.1"/><circle cx="2070.1" cy="585.4" r="4.5" style="fill: #d62728; fill-opacity: 0.6; stroke: #d62728; stroke-opacity: 0.6; stroke-width: 1.1"/><circle cx="2068.3" cy="585.8" r="4.5" style="fill: #d62728; fill-opacity: 0.6; stroke: #d62728; stroke-opacity: 0.6; stroke-width: 1.1"/><circle cx="2066.2" cy="586.2" r="4.5" style="fill: #d62728; fill-opacity: 0.6; stroke: #d62728; stroke-opacity: 0.6; stroke-width: 1.1"/><circle cx="2064.1" cy="586.8" r="4.5" style="fill: #d62728; fill-opacity: 0.6; stroke: #d62728; stroke-opacity: 0.6; stroke-width: 1.1"/><circle cx="2061.7" cy="587.4" r="4.5" style="fill: #d62728; fill-opacity: 0.6; stroke: #d62728; stroke-opacity: 0.6; stroke-width: 1.1"/><circle cx="2059.1" cy="588" r="4.5" style="fill: #d62728; fill-opacity: 0.6; stroke: #d62728; stroke-opacity: 0.6; stroke-width: 1.1"/><circle cx="2056.3" cy="588.8" r="4.5" style="fill: #d62728; fill-opacity: 0.6; stroke: #d62728; stroke-opacity: 0.6; stroke-width: 1.1"/><circle cx="2053.3" cy="589.6" r="4.5" style="fill: #d62728; fill-opacity: 0.6; stroke: #d62728; stroke-opacity: 0.6; stroke-width: 1.1"/><circle cx="2050.2" cy="590.6" r="4.5" style="fill: #d62728; fill-opacity: 0.6; stroke: #d62728; stroke-opacity: 0.6; stroke-width: 1.1"/><circle cx="2046.8" cy="591.6" r="4.5" style="fill: #d62728; fill-opacity: 0.6; stroke: #d62728; stroke-opacity: 0.6; stroke-width: 1.1"/><circle cx="2043.1" cy="592.8" r="4.5" style="fill: #d62728; fill-opacity: 0.6; stroke: #d62728; stroke-opacity: 0.6; stroke-width: 1.1"/><circle cx="2039.3" cy="594.1" r="4.5" style="fill: #d62728; fill-opacity: 0.6; stroke: #d62728; stroke-opacity: 0.6; stroke-width: 1.1"/><circle cx="2035.3" cy="595.6" r="4.5" style="fill: #d62728; fill-opacity: 0.6; stroke: #d62728; stroke-opacity: 0.6; stroke-width: 1.1"/><circle cx="2031.1" cy="597.2" r="4.5" style="fill: #d62728; fill-opacity: 0.6; stroke: #d62728; stroke-opacity: 0.6; stroke-width: 1.1"/><circle cx="2026.6" cy="598.9" r="4.5" style="fill: #d62728; fill-opacity: 0.6; stroke: #d62728; stroke-opacity: 0.6; stroke-width: 1.1"/><circle cx="2022" cy="600.8" r="4.5" style="fill: #d62728; fill-opacity: 0.6; stroke: #d62728; stroke-opacity: 0.6; stroke-width: 1.1"/><circle cx="2017.2" cy="602.9" r="4.5" style="fill: #d62728; fill-opacity: 0.6; stroke: #d62728; stroke-opacity: 0.6; stroke-width: 1.1"/><circle cx="2012.2" cy="605.1" r="4.5" style="fill: #d62728; fill-opacity: 0.6; stroke: #d62728; stroke-opacity: 0.6; stroke-width: 1.1"/><circle cx="2007.1" cy="607.6" r="4.5" style="fill: #d62728; fill-opacity: 0.6; stroke: #d62728; stroke-opacity: 0.6; stroke-width: 1.1"/><circle cx="2001.8" cy="610.2" r="4.5" style="fill: #d62728; fill-opacity: 0.6; stroke: #d62728; stroke-opacity: 0.6; stroke-width: 1.1"/><circle cx="1996.4" cy="613" r="4.5" style="fill: #d62728; fill-opacity: 0.6; stroke: #d62728; stroke-opacity: 0.6; stroke-width: 1.1"/><circle cx="1990.9" cy="616" r="4.5" style="fill: #d62728; fill-opacity: 0.6; stroke: #d62728; stroke-opacity: 0.6; stroke-width: 1.1"/><circle cx="1985.3" cy="619.2" r="4.5" style="fill: #d62728; fill-opacity: 0.6; stroke: #d62728; stroke-opacity: 0.6; stroke-width: 1.1"/><circle cx="1979.6" cy="622.6" r="4.5" style="fill: #d62728; fill-opacity: 0.6; stroke: #d62728; stroke-opacity: 0.6; stroke-width: 1.1"/><circle cx="1973.9" cy="626.2" r="4.5" style="fill: #d62728; fill-opacity: 0.6; stroke: #d62728; stroke-opacity: 0.6; stroke-width: 1.1"/><circle cx="1968.1" cy="630" r="4.5" style="fill: #d62728; fill-opacity: 0.6; stroke: #d62728; stroke-opacity: 0.6; stroke-width: 1.1"/><circle cx="1962.3" cy="634" r="4.5" style="fill: #d62728; fill-opacity: 0.6; stroke: #d62728; stroke-opacity: 0.6; stroke-width: 1.1"/><circle cx="1956.5" cy="638.2" r="4.5" style="fill: #d62728; fill-opacity: 0.6; stroke: #d62728; stroke-opacity: 0.6; stroke-width: 1.1"/><circle cx="1950.8" cy="642.6" r="4.5" style="fill: #d62728; fill-opacity: 0.6; stroke: #d62728; stroke-opacity: 0.6; stroke-width: 1.1"/><circle cx="1945.1" cy="647.1" r="4.5" style="fill: #d62728; fill-opacity: 0.6; stroke: #d62728; stroke-opacity: 0.6; stroke-width: 1.1"/><circle cx="1939.5" cy="651.8" r="4.5" style="fill: #d62728; fill-opacity: 0.6; stroke: #d62728; stroke-opacity: 0.6; stroke-width: 1.1"/><circle cx="1934" cy="656.7" r="4.5" style="fill: #d62728; fill-opacity: 0.6; stroke: #d62728; stroke-opacity: 0.6; stroke-width: 1.1"/><circle cx="1928.6" cy="661.7" r="4.5" style="fill: #d62728; fill-opacity: 0.6; stroke: #d62728; stroke-opacity: 0.6; stroke-width: 1.1"/><circle cx="1923.3" cy="666.8" r="4.5" style="fill: #d62728; fill-opacity: 0.6; stroke: #d62728; stroke-opacity: 0.6; stroke-width: 1.1"/><circle cx="1918.2" cy="672.1" r="4.5" style="fill: #d62728; fill-opacity: 0.6; stroke: #d62728; stroke-opacity: 0.6; stroke-width: 1.1"/><circle cx="1913.2" cy="677.4" r="4.5" style="fill: #d62728; fill-opacity: 0.6; stroke: #d62728; stroke-opacity: 0.6; stroke-width: 1.1"/><circle cx="1908.4" cy="682.8" r="4.5" style="fill: #d62728; fill-opacity: 0.6; stroke: #d62728; stroke-opacity: 0.6; stroke-width: 1.1"/><circle cx="1903.8" cy="688.3" r="4.5" style="fill: #d62728; fill-opacity: 0.6; stroke: #d62728; stroke-opacity: 0.6; stroke-width: 1.1"/><circle cx="1899.3" cy="693.8" r="4.5" style="fill: #d62728; fill-opacity: 0.6; stroke: #d62728; stroke-opacity: 0.6; stroke-width: 1.1"/><circle cx="1895.1" cy="699.4" r="4.5" style="fill: #d62728; fill-opacity: 0.6; stroke: #d62728; stroke-opacity: 0.6; stroke-width: 1.1"/><circle cx="1891.1" cy="704.9" r="4.5" style="fill: #d62728; fill-opacity: 0.6; stroke: #d62728; stroke-opacity: 0.6; stroke-width: 1.1"/><circle cx="1887.3" cy="710.4" r="4.5" style="fill: #d62728; fill-opacity: 0.6; stroke: #d62728; stroke-opacity: 0.6; stroke-width: 1.1"/><circle cx="1883.6" cy="715.9" r="4.5" style="fill: #d62728; fill-opacity: 0.6; stroke: #d62728; stroke-opacity: 0.6; stroke-width: 1.1"/><circle cx="1880.2" cy="721.4" r="4.5" style="fill: #d62728; fill-opacity: 0.6; stroke: #d62728; stroke-opacity: 0.6; stroke-width: 1.1"/><circle cx="1877.1" cy="726.7" r="4.5" style="fill: #d62728; fill-opacity: 0.6; stroke: #d62728; stroke-opacity: 0.6; stroke-width: 1.1"/><circle cx="1874.1" cy="732" r="4.5" style="fill: #d62728; fill-opacity: 0.6; stroke: #d62728; stroke-opacity: 0.6; stroke-width: 1.1"/><circle cx="1871.3" cy="737.2" r="4.5" style="fill: #d62728; fill-opacity: 0.6; stroke: #d62728; stroke-opacity: 0.6; stroke-width: 1.1"/><circle cx="1868.7" cy="742.2" r="4.5" style="fill: #d62728; fill-opacity: 0.6; stroke: #d62728; stroke-opacity: 0.6; stroke-width: 1.1"/><circle cx="1866.3" cy="747.1" r="4.5" style="fill: #d62728; fill-opacity: 0.6; stroke: #d62728; stroke-opacity: 0.6; stroke-width: 1.1"/><circle cx="1864.2" cy="751.9" r="4.5" style="fill: #d62728; fill-opacity: 0.6; stroke: #d62728; stroke-opacity: 0.6; stroke-width: 1.1"/><circle cx="1862.1" cy="756.5" r="4.5" style="fill: #d62728; fill-opacity: 0.6; stroke: #d62728; stroke-opacity: 0.6; stroke-width: 1.1"/><circle cx="1860.3" cy="760.9" r="4.5" style="fill: #d62728; fill-opacity: 0.6; stroke: #d62728; stroke-opacity: 0.6; stroke-width: 1.1"/><circle cx="1858.6" cy="765.1" r="4.5" style="fill: #d62728; fill-opacity: 0.6; stroke: #d62728; stroke-opacity: 0.6; stroke-width: 1.1"/><circle cx="1857.1" cy="769.2" r="4.5" style="fill: #d62728; fill-opacity: 0.6; stroke: #d62728; stroke-opacity: 0.6; stroke-width: 1.1"/><circle cx="1855.7" cy="773.1" r="4.5" style="fill: #d62728; fill-opacity: 0.6; stroke: #d62728; stroke-opacity: 0.6; stroke-width: 1.1"/><circle cx="1854.5" cy="776.7" r="4.5" style="fill: #d62728; fill-opacity: 0.6; stroke: #d62728; stroke-opacity: 0.6; stroke-width: 1.1"/><circle cx="1853.4" cy="780.2" r="4.5" style="fill: #d62728; fill-opacity: 0.6; stroke: #d62728; stroke-opacity: 0.6; stroke-width: 1.1"/><circle cx="1852.4" cy="783.5" r="4.5" style="fill: #d62728; fill-opacity: 0.6; stroke: #d62728; stroke-opacity: 0.6; stroke-width: 1.1"/><circle cx="1851.5" cy="786.5" r="4.5" style="fill: #d62728; fill-opacity: 0.6; stroke: #d62728; stroke-opacity: 0.6; stroke-width: 1.1"/><circle cx="1850.7" cy="789.4" r="4.5" style="fill: #d62728; fill-opacity: 0.6; stroke: #d62728; stroke-opacity: 0.6; stroke-width: 1.1"/><circle cx="1850" cy="792.1" r="4.5" style="fill: #d62728; fill-opacity: 0.6; stroke: #d62728; stroke-opacity: 0.6; stroke-width: 1.1"/><circle cx="1849.4" cy="794.6" r="4.5" style="fill: #d62728; fill-opacity: 0.6; stroke: #d62728; stroke-opacity: 0.6; stroke-width: 1.1"/><circle cx="1848.9" cy="796.9" r="4.5" style="fill: #d62728; fill-opacity: 0.6; stroke: #d62728; stroke-opacity: 0.6; stroke-width: 1.1"/><circle cx="1848.4" cy="799" r="4.5" style="fill: #d62728; fill-opacity: 0.6; stroke: #d62728; stroke-opacity: 0.6; stroke-width: 1.1"/><circle cx="1848" cy="800.9" r="4.5" style="fill: #d62728; fill-opacity: 0.6; stroke: #d62728; stroke-opacity: 0.6; stroke-width: 1.1"/><circle cx="1847.7" cy="802.7" r="4.5" style="fill: #d62728; fill-opacity: 0.6; stroke: #d62728; stroke-opacity: 0.6; stroke-width: 1.1"/><circle cx="1847.4" cy="804.4" r="4.5" style="fill: #d62728; fill-opacity: 0.6; stroke: #d62728; stroke-opacity: 0.6; stroke-width: 1.1"/><circle cx="1847.1" cy="805.8" r="4.5" style="fill: #d62728; fill-opacity: 0.6; stroke: #d62728; stroke-opacity: 0.6; stroke-width: 1.1"/><circle cx="1846.9" cy="807.2" r="4.5" style="fill: #d62728; fill-opacity: 0.6; stroke: #d62728; stroke-opacity: 0.6; stroke-width: 1.1"/><circle cx="1846.7" cy="808.4" r="4.5" style="fill: #d62728; fill-opacity: 0.6; stroke: #d62728; stroke-opacity: 0.6; stroke-width: 1.1"/><circle cx="1846.5" cy="809.5" r="4.5" style="fill: #d62728; fill-opacity: 0.6; stroke: #d62728; stroke-opacity: 0.6; stroke-width: 1.1"/><circle cx="1846.4" cy="810.5" r="4.5" style="fill: #d62728; fill-opacity: 0.6; stroke: #d62728; stroke-opacity: 0.6; stroke-width: 1.1"/><circle cx="1846.2" cy="811.4" r="4.5" style="fill: #d62728; fill-opacity: 0.6; stroke: #d62728; stroke-opacity: 0.6; stroke-width: 1.1"/><circle cx="1846.1" cy="812.2" r="4.5" style="fill: #d62728; fill-opacity: 0.6; stroke: #d62728; stroke-opacity: 0.6; stroke-width: 1.1"/><circle cx="1846.1" cy="812.9" r="4.5" style="fill: #d62728; fill-opacity: 0.6; stroke: #d62728; stroke-opacity: 0.6; stroke-width: 1.1"/><circle cx="1846" cy="813.5" r="4.5" style="fill: #d62728; fill-opacity: 0.6; stroke: #d62728; stroke-opacity: 0.6; stroke-width: 1.1"/><circle cx="1845.9" cy="814" r="4.5" style="fill: #d62728; fill-opacity: 0.6; stroke: #d62728; stroke-opacity: 0.6; stroke-width: 1.1"/><circle cx="1845.9" cy="814.5" r="4.5" style="fill: #d62728; fill-opacity: 0.6; stroke: #d62728; stroke-opacity: 0.6; stroke-width: 1.1"/><circle cx="1845.8" cy="814.9" r="4.5" style="fill: #d62728; fill-opacity: 0.6; stroke: #d62728; stroke-opacity: 0.6; stroke-width: 1.1"/><circle cx="1845.8" cy="815.3" r="4.5" style="fill: #d62728; fill-opacity: 0.6; stroke: #d62728; stroke-opacity: 0.6; stroke-width: 1.1"/><circle cx="1845.8" cy="815.6" r="4.5" style="fill: #d62728; fill-opacity: 0.6; stroke: #d62728; stroke-opacity: 0.6; stroke-width: 1.1"/><circle cx="1845.7" cy="817.4" r="4.5" style="fill: #d62728; fill-opacity: 0.6; stroke: #d62728; stroke-opacity: 0.6; stroke-width: 1.1"/></g></g><g id="line2d_54"><path d="M 2084.7 583  L 2084.6 583  L 2084.6 583  L 2084.6 583  L 2084.5 583  L 2084.5 583  L 2084.4 583  L 2084.3 583  L 2084.3 583  L 2084.2 583  L 2084 583  L 2083.9 583  L 2083.7 583  L 2083.5 583  L 2083.3 583  L 2083 583.1  L 2082.7 583.1  L 2082.4 583.1  L 2082 583.1  L 2081.5 583.1  L 2081 583.1  L 2080.4 583.2  L 2079.7 583.2  L 2078.9 583.2  L 2078 583.3  L 2077 583.4  L 2075.9 583.4  L 2074.7 583.5  L 2073.3 583.6  L 2071.8 583.8  L 2070.1 583.9  L 2068.3 584.1  L 2066.2 584.4  L 2064.1 584.6  L 2061.7 585  L 2059.1 585.3  L 2056.3 585.8  L 2053.3 586.3  L 2050.2 586.9  L 2046.8 587.5  L 2043.1 588.3  L 2039.3 589.2  L 2035.3 590.2  L 2031.1 591.3  L 2026.6 592.6  L 2022 594  L 2017.2 595.6  L 2012.2 597.3  L 2007.1 599.3  L 2001.8 601.4  L 1996.4 603.8  L 1990.9 606.3  L 1985.3 609.1  L 1979.6 612.2  L 1973.9 615.4  L 1968.1 618.9  L 1962.3 622.7  L 1956.5 626.7  L 1950.8 630.9  L 1945.1 635.3  L 1939.5 640  L 1934 644.9  L 1928.6 650.1  L 1923.3 655.4  L 1918.2 660.8  L 1913.2 666.5  L 1908.4 672.3  L 1903.8 678.2  L 1899.3 684.1  L 1895.1 690.2  L 1891.1 696.3  L 1887.3 702.4  L 1883.6 708.5  L 1880.2 714.6  L 1877.1 720.6  L 1874.1 726.5  L 1871.3 732.3  L 1868.7 738  L 1866.3 743.5  L 1864.2 748.9  L 1862.1 754.1  L 1860.3 759  L 1858.6 763.8  L 1857.1 768.3  L 1855.7 772.6  L 1854.5 776.6  L 1853.4 780.5  L 1852.4 784  L 1851.5 787.4  L 1850.7 790.4  L 1850 793.3  L 1849.4 795.9  L 1848.9 798.3  L 1848.4 800.5  L 1848 802.5  L 1847.7 804.4  L 1847.4 806  L 1847.1 807.5  L 1846.9 808.8  L 1846.7 809.9  L 1846.5 811  L 1846.4 811.9  L 1846.2 812.7  L 1846.1 813.4  L 1846.1 814  L 1846 814.5  L 1845.9 814.9  L 1845.9 815.3  L 1845.8 815.7  L 1845.8 816  L 1845.8 816.2  L 1845.7 817.4  " clip-path="url(#p5f0794fb83)" style="fill: none; stroke-dasharray: 8.5,3.7; stroke-dashoffset: 0; stroke: #9467bd; stroke-opacity: 0.6; stroke-width: 2.3"/><g clip-path="url(#p5f0794fb83)"><path d="M 2084.7 577.8 L 2079.5 588.3 L 2090 588.3 z" style="fill: #9467bd; fill-opacity: 0.6; stroke: #9467bd; stroke-opacity: 0.6; stroke-width: 1.1; stroke-linejoin: miter"/><path d="M 2084.6 577.8 L 2079.4 588.3 L 2089.9 588.3 z" style="fill: #9467bd; fill-opacity: 0.6; stroke: #9467bd; stroke-opacity: 0.6; stroke-width: 1.1; stroke-linejoin: miter"/><path d="M 2084.6 577.8 L 2079.4 588.3 L 2089.9 588.3 z" style="fill: #9467bd; fill-opacity: 0.6; stroke: #9467bd; stroke-opacity: 0.6; stroke-width: 1.1; stroke-linejoin: miter"/><path d="M 2084.6 577.8 L 2079.3 588.3 L 2089.8 588.3 z" style="fill: #9467bd; fill-opacity: 0.6; stroke: #9467bd; stroke-opacity: 0.6; stroke-width: 1.1; stroke-linejoin: miter"/><path d="M 2084.5 577.8 L 2079.3 588.3 L 2089.8 588.3 z" style="fill: #9467bd; fill-opacity: 0.6; stroke: #9467bd; stroke-opacity: 0.6; stroke-width: 1.1; stroke-linejoin: miter"/><path d="M 2084.5 577.8 L 2079.2 588.3 L 2089.7 588.3 z" style="fill: #9467bd; fill-opacity: 0.6; stroke: #9467bd; stroke-opacity: 0.6; stroke-width: 1.1; stroke-linejoin: miter"/><path d="M 2084.4 577.8 L 2079.2 588.3 L 2089.7 588.3 z" style="fill: #9467bd; fill-opacity: 0.6; stroke: #9467bd; stroke-opacity: 0.6; stroke-width: 1.1; stroke-linejoin: miter"/><path d="M 2084.3 577.8 L 2079.1 588.3 L 2089.6 588.3 z" style="fill: #9467bd; fill-opacity: 0.6; stroke: #9467bd; stroke-opacity: 0.6; stroke-width: 1.1; stroke-linejoin: miter"/><path d="M 2084.3 577.8 L 2079 588.3 L 2089.5 588.3 z" style="fill: #9467bd; fill-opacity: 0.6; stroke: #9467bd; stroke-opacity: 0.6; stroke-width: 1.1; stroke-linejoin: miter"/><path d="M 2084.2 577.8 L 2078.9 588.3 L 2089.4 588.3 z" style="fill: #9467bd; fill-opacity: 0.6; stroke: #9467bd; stroke-opacity: 0.6; stroke-width: 1.1; stroke-linejoin: miter"/><path d="M 2084 577.8 L 2078.8 588.3 L 2089.3 588.3 z" style="fill: #9467bd; fill-opacity: 0.6; stroke: #9467bd; stroke-opacity: 0.6; stroke-width: 1.1; stroke-linejoin: miter"/><path d="M 2083.9 577.8 L 2078.7 588.3 L 2089.2 588.3 z" style="fill: #9467bd; fill-opacity: 0.6; stroke: #9467bd; stroke-opacity: 0.6; stroke-width: 1.1; stroke-linejoin: miter"/><path d="M 2083.7 577.8 L 2078.5 588.3 L 2089 588.3 z" style="fill: #9467bd; fill-opacity: 0.6; stroke: #9467bd; stroke-opacity: 0.6; stroke-width: 1.1; stroke-linejoin: miter"/><path d="M 2083.5 577.8 L 2078.3 588.3 L 2088.8 588.3 z" style="fill: #9467bd; fill-opacity: 0.6; stroke: #9467bd; stroke-opacity: 0.6; stroke-width: 1.1; stroke-linejoin: miter"/><path d="M 2083.3 577.8 L 2078.1 588.3 L 2088.6 588.3 z" style="fill: #9467bd; fill-opacity: 0.6; stroke: #9467bd; stroke-opacity: 0.6; stroke-width: 1.1; stroke-linejoin: miter"/><path d="M 2083 577.8 L 2077.8 588.3 L 2088.3 588.3 z" style="fill: #9467bd; fill-opacity: 0.6; stroke: #9467bd; stroke-opacity: 0.6; stroke-width: 1.1; stroke-linejoin: miter"/><path d="M 2082.7 577.8 L 2077.5 588.3 L 2088 588.3 z" style="fill: #9467bd; fill-opacity: 0.6; stroke: #9467bd; stroke-opacity: 0.6; stroke-width: 1.1; stroke-linejoin: miter"/><path d="M 2082.4 577.8 L 2077.1 588.3 L 2087.6 588.3 z" style="fill: #9467bd; fill-opacity: 0.6; stroke: #9467bd; stroke-opacity: 0.6; stroke-width: 1.1; stroke-linejoin: miter"/><path d="M 2082 577.8 L 2076.7 588.3 L 2087.2 588.3 z" style="fill: #9467bd; fill-opacity: 0.6; stroke: #9467bd; stroke-opacity: 0.6; stroke-width: 1.1; stroke-linejoin: miter"/><path d="M 2081.5 577.9 L 2076.3 588.4 L 2086.8 588.4 z" style="fill: #9467bd; fill-opacity: 0.6; stroke: #9467bd; stroke-opacity: 0.6; stroke-width: 1.1; stroke-linejoin: miter"/><path d="M 2081 577.9 L 2075.7 588.4 L 2086.2 588.4 z" style="fill: #9467bd; fill-opacity: 0.6; stroke: #9467bd; stroke-opacity: 0.6; stroke-width: 1.1; stroke-linejoin: miter"/><path d="M 2080.4 577.9 L 2075.1 588.4 L 2085.6 588.4 z" style="fill: #9467bd; fill-opacity: 0.6; stroke: #9467bd; stroke-opacity: 0.6; stroke-width: 1.1; stroke-linejoin: miter"/><path d="M 2079.7 577.9 L 2074.4 588.4 L 2084.9 588.4 z" style="fill: #9467bd; fill-opacity: 0.6; stroke: #9467bd; stroke-opacity: 0.6; stroke-width: 1.1; stroke-linejoin: miter"/><path d="M 2078.9 578 L 2073.6 588.5 L 2084.1 588.5 z" style="fill: #9467bd; fill-opacity: 0.6; stroke: #9467bd; stroke-opacity: 0.6; stroke-width: 1.1; stroke-linejoin: miter"/><path d="M 2078 578 L 2072.7 588.5 L 2083.2 588.5 z" style="fill: #9467bd; fill-opacity: 0.6; stroke: #9467bd; stroke-opacity: 0.6; stroke-width: 1.1; stroke-linejoin: miter"/><path d="M 2077 578.1 L 2071.8 588.6 L 2082.3 588.6 z" style="fill: #9467bd; fill-opacity: 0.6; stroke: #9467bd; stroke-opacity: 0.6; stroke-width: 1.1; stroke-linejoin: miter"/><path d="M 2075.9 578.2 L 2070.6 588.7 L 2081.1 588.7 z" style="fill: #9467bd; fill-opacity: 0.6; stroke: #9467bd; stroke-opacity: 0.6; stroke-width: 1.1; stroke-linejoin: miter"/><path d="M 2074.7 578.3 L 2069.4 588.8 L 2079.9 588.8 z" style="fill: #9467bd; fill-opacity: 0.6; stroke: #9467bd; stroke-opacity: 0.6; stroke-width: 1.1; stroke-linejoin: miter"/><path d="M 2073.3 578.4 L 2068 588.9 L 2078.5 588.9 z" style="fill: #9467bd; fill-opacity: 0.6; stroke: #9467bd; stroke-opacity: 0.6; stroke-width: 1.1; stroke-linejoin: miter"/><path d="M 2071.8 578.5 L 2066.5 589 L 2077 589 z" style="fill: #9467bd; fill-opacity: 0.6; stroke: #9467bd; stroke-opacity: 0.6; stroke-width: 1.1; stroke-linejoin: miter"/><path d="M 2070.1 578.7 L 2064.8 589.2 L 2075.3 589.2 z" style="fill: #9467bd; fill-opacity: 0.6; stroke: #9467bd; stroke-opacity: 0.6; stroke-width: 1.1; stroke-linejoin: miter"/><path d="M 2068.3 578.9 L 2063 589.4 L 2073.5 589.4 z" style="fill: #9467bd; fill-opacity: 0.6; stroke: #9467bd; stroke-opacity: 0.6; stroke-width: 1.1; stroke-linejoin: miter"/><path d="M 2066.2 579.1 L 2061 589.6 L 2071.5 589.6 z" style="fill: #9467bd; fill-opacity: 0.6; stroke: #9467bd; stroke-opacity: 0.6; stroke-width: 1.1; stroke-linejoin: miter"/><path d="M 2064.1 579.4 L 2058.8 589.9 L 2069.3 589.9 z" style="fill: #9467bd; fill-opacity: 0.6; stroke: #9467bd; stroke-opacity: 0.6; stroke-width: 1.1; stroke-linejoin: miter"/><path d="M 2061.7 579.7 L 2056.4 590.2 L 2066.9 590.2 z" style="fill: #9467bd; fill-opacity: 0.6; stroke: #9467bd; stroke-opacity: 0.6; stroke-width: 1.1; stroke-linejoin: miter"/><path d="M 2059.1 580.1 L 2053.9 590.6 L 2064.4 590.6 z" style="fill: #9467bd; fill-opacity: 0.6; stroke: #9467bd; stroke-opacity: 0.6; stroke-width: 1.1; stroke-linejoin: miter"/><path d="M 2056.3 580.5 L 2051.1 591 L 2061.6 591 z" style="fill: #9467bd; fill-opacity: 0.6; stroke: #9467bd; stroke-opacity: 0.6; stroke-width: 1.1; stroke-linejoin: miter"/><path d="M 2053.3 581 L 2048.1 591.5 L 2058.6 591.5 z" style="fill: #9467bd; fill-opacity: 0.6; stroke: #9467bd; stroke-opacity: 0.6; stroke-width: 1.1; stroke-linejoin: miter"/><path d="M 2050.2 581.6 L 2044.9 592.1 L 2055.4 592.1 z" style="fill: #9467bd; fill-opacity: 0.6; stroke: #9467bd; stroke-opacity: 0.6; stroke-width: 1.1; stroke-linejoin: miter"/><path d="M 2046.8 582.3 L 2041.5 592.8 L 2052 592.8 z" style="fill: #9467bd; fill-opacity: 0.6; stroke: #9467bd; stroke-opacity: 0.6; stroke-width: 1.1; stroke-linejoin: miter"/><path d="M 2043.1 583.1 L 2037.9 593.6 L 2048.4 593.6 z" style="fill: #9467bd; fill-opacity: 0.6; stroke: #9467bd; stroke-opacity: 0.6; stroke-width: 1.1; stroke-linejoin: miter"/><path d="M 2039.3 583.9 L 2034.1 594.4 L 2044.6 594.4 z" style="fill: #9467bd; fill-opacity: 0.6; stroke: #9467bd; stroke-opacity: 0.6; stroke-width: 1.1; stroke-linejoin: miter"/><path d="M 2035.3 584.9 L 2030 595.4 L 2040.5 595.4 z" style="fill: #9467bd; fill-opacity: 0.6; stroke: #9467bd; stroke-opacity: 0.6; stroke-width: 1.1; stroke-linejoin: miter"/><path d="M 2031.1 586.1 L 2025.8 596.6 L 2036.3 596.6 z" style="fill: #9467bd; fill-opacity: 0.6; stroke: #9467bd; stroke-opacity: 0.6; stroke-width: 1.1; stroke-linejoin: miter"/><path d="M 2026.6 587.3 L 2021.4 597.8 L 2031.9 597.8 z" style="fill: #9467bd; fill-opacity: 0.6; stroke: #9467bd; stroke-opacity: 0.6; stroke-width: 1.1; stroke-linejoin: miter"/><path d="M 2022 588.7 L 2016.7 599.2 L 2027.2 599.2 z" style="fill: #9467bd; fill-opacity: 0.6; stroke: #9467bd; stroke-opacity: 0.6; stroke-width: 1.1; stroke-linejoin: miter"/><path d="M 2017.2 590.3 L 2011.9 600.8 L 2022.4 600.8 z" style="fill: #9467bd; fill-opacity: 0.6; stroke: #9467bd; stroke-opacity: 0.6; stroke-width: 1.1; stroke-linejoin: miter"/><path d="M 2012.2 592.1 L 2007 602.6 L 2017.5 602.6 z" style="fill: #9467bd; fill-opacity: 0.6; stroke: #9467bd; stroke-opacity: 0.6; stroke-width: 1.1; stroke-linejoin: miter"/><path d="M 2007.1 594 L 2001.8 604.5 L 2012.3 604.5 z" style="fill: #9467bd; fill-opacity: 0.6; stroke: #9467bd; stroke-opacity: 0.6; stroke-width: 1.1; stroke-linejoin: miter"/><path d="M 2001.8 596.2 L 1996.5 606.7 L 2007 606.7 z" style="fill: #9467bd; fill-opacity: 0.6; stroke: #9467bd; stroke-opacity: 0.6; stroke-width: 1.1; stroke-linejoin: miter"/><path d="M 1996.4 598.5 L 1991.1 609 L 2001.6 609 z" style="fill: #9467bd; fill-opacity: 0.6; stroke: #9467bd; stroke-opacity: 0.6; stroke-width: 1.1; stroke-linejoin: miter"/><path d="M 1990.9 601.1 L 1985.6 611.6 L 1996.1 611.6 z" style="fill: #9467bd; fill-opacity: 0.6; stroke: #9467bd; stroke-opacity: 0.6; stroke-width: 1.1; stroke-linejoin: miter"/><path d="M 1985.3 603.9 L 1980 614.4 L 1990.5 614.4 z" style="fill: #9467bd; fill-opacity: 0.6; stroke: #9467bd; stroke-opacity: 0.6; stroke-width: 1.1; stroke-linejoin: miter"/><path d="M 1979.6 606.9 L 1974.3 617.4 L 1984.8 617.4 z" style="fill: #9467bd; fill-opacity: 0.6; stroke: #9467bd; stroke-opacity: 0.6; stroke-width: 1.1; stroke-linejoin: miter"/><path d="M 1973.9 610.2 L 1968.6 620.7 L 1979.1 620.7 z" style="fill: #9467bd; fill-opacity: 0.6; stroke: #9467bd; stroke-opacity: 0.6; stroke-width: 1.1; stroke-linejoin: miter"/><path d="M 1968.1 613.7 L 1962.8 624.2 L 1973.3 624.2 z" style="fill: #9467bd; fill-opacity: 0.6; stroke: #9467bd; stroke-opacity: 0.6; stroke-width: 1.1; stroke-linejoin: miter"/><path d="M 1962.3 617.4 L 1957.1 627.9 L 1967.6 627.9 z" style="fill: #9467bd; fill-opacity: 0.6; stroke: #9467bd; stroke-opacity: 0.6; stroke-width: 1.1; stroke-linejoin: miter"/><path d="M 1956.5 621.4 L 1951.3 631.9 L 1961.8 631.9 z" style="fill: #9467bd; fill-opacity: 0.6; stroke: #9467bd; stroke-opacity: 0.6; stroke-width: 1.1; stroke-linejoin: miter"/><path d="M 1950.8 625.6 L 1945.6 636.1 L 1956.1 636.1 z" style="fill: #9467bd; fill-opacity: 0.6; stroke: #9467bd; stroke-opacity: 0.6; stroke-width: 1.1; stroke-linejoin: miter"/><path d="M 1945.1 630.1 L 1939.9 640.6 L 1950.4 640.6 z" style="fill: #9467bd; fill-opacity: 0.6; stroke: #9467bd; stroke-opacity: 0.6; stroke-width: 1.1; stroke-linejoin: miter"/><path d="M 1939.5 634.8 L 1934.3 645.3 L 1944.8 645.3 z" style="fill: #9467bd; fill-opacity: 0.6; stroke: #9467bd; stroke-opacity: 0.6; stroke-width: 1.1; stroke-linejoin: miter"/><path d="M 1934 639.7 L 1928.8 650.2 L 1939.3 650.2 z" style="fill: #9467bd; fill-opacity: 0.6; stroke: #9467bd; stroke-opacity: 0.6; stroke-width: 1.1; stroke-linejoin: miter"/><path d="M 1928.6 644.8 L 1923.4 655.3 L 1933.9 655.3 z" style="fill: #9467bd; fill-opacity: 0.6; stroke: #9467bd; stroke-opacity: 0.6; stroke-width: 1.1; stroke-linejoin: miter"/><path d="M 1923.3 650.1 L 1918.1 660.6 L 1928.6 660.6 z" style="fill: #9467bd; fill-opacity: 0.6; stroke: #9467bd; stroke-opacity: 0.6; stroke-width: 1.1; stroke-linejoin: miter"/><path d="M 1918.2 655.6 L 1912.9 666.1 L 1923.4 666.1 z" style="fill: #9467bd; fill-opacity: 0.6; stroke: #9467bd; stroke-opacity: 0.6; stroke-width: 1.1; stroke-linejoin: miter"/><path d="M 1913.2 661.2 L 1908 671.7 L 1918.5 671.7 z" style="fill: #9467bd; fill-opacity: 0.6; stroke: #9467bd; stroke-opacity: 0.6; stroke-width: 1.1; stroke-linejoin: miter"/><path d="M 1908.4 667 L 1903.2 677.5 L 1913.7 677.5 z" style="fill: #9467bd; fill-opacity: 0.6; stroke: #9467bd; stroke-opacity: 0.6; stroke-width: 1.1; stroke-linejoin: miter"/><path d="M 1903.8 672.9 L 1898.5 683.4 L 1909 683.4 z" style="fill: #9467bd; fill-opacity: 0.6; stroke: #9467bd; stroke-opacity: 0.6; stroke-width: 1.1; stroke-linejoin: miter"/><path d="M 1899.3 678.9 L 1894.1 689.4 L 1904.6 689.4 z" style="fill: #9467bd; fill-opacity: 0.6; stroke: #9467bd; stroke-opacity: 0.6; stroke-width: 1.1; stroke-linejoin: miter"/><path d="M 1895.1 684.9 L 1889.9 695.4 L 1900.4 695.4 z" style="fill: #9467bd; fill-opacity: 0.6; stroke: #9467bd; stroke-opacity: 0.6; stroke-width: 1.1; stroke-linejoin: miter"/><path d="M 1891.1 691 L 1885.8 701.5 L 1896.3 701.5 z" style="fill: #9467bd; fill-opacity: 0.6; stroke: #9467bd; stroke-opacity: 0.6; stroke-width: 1.1; stroke-linejoin: miter"/><path d="M 1887.3 697.2 L 1882 707.7 L 1892.5 707.7 z" style="fill: #9467bd; fill-opacity: 0.6; stroke: #9467bd; stroke-opacity: 0.6; stroke-width: 1.1; stroke-linejoin: miter"/><path d="M 1883.6 703.3 L 1878.4 713.8 L 1888.9 713.8 z" style="fill: #9467bd; fill-opacity: 0.6; stroke: #9467bd; stroke-opacity: 0.6; stroke-width: 1.1; stroke-linejoin: miter"/><path d="M 1880.2 709.3 L 1875 719.8 L 1885.5 719.8 z" style="fill: #9467bd; fill-opacity: 0.6; stroke: #9467bd; stroke-opacity: 0.6; stroke-width: 1.1; stroke-linejoin: miter"/><path d="M 1877.1 715.3 L 1871.8 725.8 L 1882.3 725.8 z" style="fill: #9467bd; fill-opacity: 0.6; stroke: #9467bd; stroke-opacity: 0.6; stroke-width: 1.1; stroke-linejoin: miter"/><path d="M 1874.1 721.3 L 1868.8 731.8 L 1879.3 731.8 z" style="fill: #9467bd; fill-opacity: 0.6; stroke: #9467bd; stroke-opacity: 0.6; stroke-width: 1.1; stroke-linejoin: miter"/><path d="M 1871.3 727.1 L 1866 737.6 L 1876.5 737.6 z" style="fill: #9467bd; fill-opacity: 0.6; stroke: #9467bd; stroke-opacity: 0.6; stroke-width: 1.1; stroke-linejoin: miter"/><path d="M 1868.7 732.8 L 1863.5 743.3 L 1874 743.3 z" style="fill: #9467bd; fill-opacity: 0.6; stroke: #9467bd; stroke-opacity: 0.6; stroke-width: 1.1; stroke-linejoin: miter"/><path d="M 1866.3 738.3 L 1861.1 748.8 L 1871.6 748.8 z" style="fill: #9467bd; fill-opacity: 0.6; stroke: #9467bd; stroke-opacity: 0.6; stroke-width: 1.1; stroke-linejoin: miter"/><path d="M 1864.2 743.6 L 1858.9 754.1 L 1869.4 754.1 z" style="fill: #9467bd; fill-opacity: 0.6; stroke: #9467bd; stroke-opacity: 0.6; stroke-width: 1.1; stroke-linejoin: miter"/><path d="M 1862.1 748.8 L 1856.9 759.3 L 1867.4 759.3 z" style="fill: #9467bd; fill-opacity: 0.6; stroke: #9467bd; stroke-opacity: 0.6; stroke-width: 1.1; stroke-linejoin: miter"/><path d="M 1860.3 753.8 L 1855.1 764.3 L 1865.6 764.3 z" style="fill: #9467bd; fill-opacity: 0.6; stroke: #9467bd; stroke-opacity: 0.6; stroke-width: 1.1; stroke-linejoin: miter"/><path d="M 1858.6 758.5 L 1853.4 769 L 1863.9 769 z" style="fill: #9467bd; fill-opacity: 0.6; stroke: #9467bd; stroke-opacity: 0.6; stroke-width: 1.1; stroke-linejoin: miter"/><path d="M 1857.1 763 L 1851.9 773.5 L 1862.4 773.5 z" style="fill: #9467bd; fill-opacity: 0.6; stroke: #9467bd; stroke-opacity: 0.6; stroke-width: 1.1; stroke-linejoin: miter"/><path d="M 1855.7 767.3 L 1850.5 777.8 L 1861 777.8 z" style="fill: #9467bd; fill-opacity: 0.6; stroke: #9467bd; stroke-opacity: 0.6; stroke-width: 1.1; stroke-linejoin: miter"/><path d="M 1854.5 771.4 L 1849.3 781.9 L 1859.8 781.9 z" style="fill: #9467bd; fill-opacity: 0.6; stroke: #9467bd; stroke-opacity: 0.6; stroke-width: 1.1; stroke-linejoin: miter"/><path d="M 1853.4 775.2 L 1848.1 785.7 L 1858.6 785.7 z" style="fill: #9467bd; fill-opacity: 0.6; stroke: #9467bd; stroke-opacity: 0.6; stroke-width: 1.1; stroke-linejoin: miter"/><path d="M 1852.4 778.8 L 1847.2 789.3 L 1857.7 789.3 z" style="fill: #9467bd; fill-opacity: 0.6; stroke: #9467bd; stroke-opacity: 0.6; stroke-width: 1.1; stroke-linejoin: miter"/><path d="M 1851.5 782.1 L 1846.3 792.6 L 1856.8 792.6 z" style="fill: #9467bd; fill-opacity: 0.6; stroke: #9467bd; stroke-opacity: 0.6; stroke-width: 1.1; stroke-linejoin: miter"/><path d="M 1850.7 785.2 L 1845.5 795.7 L 1856 795.7 z" style="fill: #9467bd; fill-opacity: 0.6; stroke: #9467bd; stroke-opacity: 0.6; stroke-width: 1.1; stroke-linejoin: miter"/><path d="M 1850 788.1 L 1844.8 798.6 L 1855.3 798.6 z" style="fill: #9467bd; fill-opacity: 0.6; stroke: #9467bd; stroke-opacity: 0.6; stroke-width: 1.1; stroke-linejoin: miter"/><path d="M 1849.4 790.7 L 1844.2 801.2 L 1854.7 801.2 z" style="fill: #9467bd; fill-opacity: 0.6; stroke: #9467bd; stroke-opacity: 0.6; stroke-width: 1.1; stroke-linejoin: miter"/><path d="M 1848.9 793.1 L 1843.6 803.6 L 1854.1 803.6 z" style="fill: #9467bd; fill-opacity: 0.6; stroke: #9467bd; stroke-opacity: 0.6; stroke-width: 1.1; stroke-linejoin: miter"/><path d="M 1848.4 795.3 L 1843.2 805.8 L 1853.7 805.8 z" style="fill: #9467bd; fill-opacity: 0.6; stroke: #9467bd; stroke-opacity: 0.6; stroke-width: 1.1; stroke-linejoin: miter"/><path d="M 1848 797.3 L 1842.8 807.8 L 1853.3 807.8 z" style="fill: #9467bd; fill-opacity: 0.6; stroke: #9467bd; stroke-opacity: 0.6; stroke-width: 1.1; stroke-linejoin: miter"/><path d="M 1847.7 799.1 L 1842.4 809.6 L 1852.9 809.6 z" style="fill: #9467bd; fill-opacity: 0.6; stroke: #9467bd; stroke-opacity: 0.6; stroke-width: 1.1; stroke-linejoin: miter"/><path d="M 1847.4 800.7 L 1842.1 811.2 L 1852.6 811.2 z" style="fill: #9467bd; fill-opacity: 0.6; stroke: #9467bd; stroke-opacity: 0.6; stroke-width: 1.1; stroke-linejoin: miter"/><path d="M 1847.1 802.2 L 1841.8 812.7 L 1852.3 812.7 z" style="fill: #9467bd; fill-opacity: 0.6; stroke: #9467bd; stroke-opacity: 0.6; stroke-width: 1.1; stroke-linejoin: miter"/><path d="M 1846.9 803.5 L 1841.6 814 L 1852.1 814 z" style="fill: #9467bd; fill-opacity: 0.6; stroke: #9467bd; stroke-opacity: 0.6; stroke-width: 1.1; stroke-linejoin: miter"/><path d="M 1846.7 804.7 L 1841.4 815.2 L 1851.9 815.2 z" style="fill: #9467bd; fill-opacity: 0.6; stroke: #9467bd; stroke-opacity: 0.6; stroke-width: 1.1; stroke-linejoin: miter"/><path d="M 1846.5 805.7 L 1841.2 816.2 L 1851.7 816.2 z" style="fill: #9467bd; fill-opacity: 0.6; stroke: #9467bd; stroke-opacity: 0.6; stroke-width: 1.1; stroke-linejoin: miter"/><path d="M 1846.4 806.6 L 1841.1 817.1 L 1851.6 817.1 z" style="fill: #9467bd; fill-opacity: 0.6; stroke: #9467bd; stroke-opacity: 0.6; stroke-width: 1.1; stroke-linejoin: miter"/><path d="M 1846.2 807.4 L 1841 817.9 L 1851.5 817.9 z" style="fill: #9467bd; fill-opacity: 0.6; stroke: #9467bd; stroke-opacity: 0.6; stroke-width: 1.1; stroke-linejoin: miter"/><path d="M 1846.1 808.1 L 1840.9 818.6 L 1851.4 818.6 z" style="fill: #9467bd; fill-opacity: 0.6; stroke: #9467bd; stroke-opacity: 0.6; stroke-width: 1.1; stroke-linejoin: miter"/><path d="M 1846.1 808.7 L 1840.8 819.2 L 1851.3 819.2 z" style="fill: #9467bd; fill-opacity: 0.6; stroke: #9467bd; stroke-opacity: 0.6; stroke-width: 1.1; stroke-linejoin: miter"/><path d="M 1846 809.2 L 1840.7 819.7 L 1851.2 819.7 z" style="fill: #9467bd; fill-opacity: 0.6; stroke: #9467bd; stroke-opacity: 0.6; stroke-width: 1.1; stroke-linejoin: miter"/><path d="M 1845.9 809.7 L 1840.7 820.2 L 1851.2 820.2 z" style="fill: #9467bd; fill-opacity: 0.6; stroke: #9467bd; stroke-opacity: 0.6; stroke-width: 1.1; stroke-linejoin: miter"/><path d="M 1845.9 810.1 L 1840.6 820.6 L 1851.1 820.6 z" style="fill: #9467bd; fill-opacity: 0.6; stroke: #9467bd; stroke-opacity: 0.6; stroke-width: 1.1; stroke-linejoin: miter"/><path d="M 1845.8 810.4 L 1840.6 820.9 L 1851.1 820.9 z" style="fill: #9467bd; fill-opacity: 0.6; stroke: #9467bd; stroke-opacity: 0.6; stroke-width: 1.1; stroke-linejoin: miter"/><path d="M 1845.8 810.7 L 1840.5 821.2 L 1851 821.2 z" style="fill: #9467bd; fill-opacity: 0.6; stroke: #9467bd; stroke-opacity: 0.6; stroke-width: 1.1; stroke-linejoin: miter"/><path d="M 1845.8 811 L 1840.5 821.5 L 1851 821.5 z" style="fill: #9467bd; fill-opacity: 0.6; stroke: #9467bd; stroke-opacity: 0.6; stroke-width: 1.1; stroke-linejoin: miter"/><path d="M 1845.7 812.1 L 1840.4 822.6 L 1850.9 822.6 z" style="fill: #9467bd; fill-opacity: 0.6; stroke: #9467bd; stroke-opacity: 0.6; stroke-width: 1.1; stroke-linejoin: miter"/></g></g></g><g id="axes_7"><g id="patch_38"><path d="M 1833.7 1245.2  L 2096.7 1245.2  L 2096.7 987  L 1833.7 987  z " style="fill: #ffffff"/></g><g id="line2d_55"><path d="M 1845.7 1233.5  L 2084.7 998.7  " clip-path="url(#p7d8ad5c169)" style="fill: none; stroke-dasharray: 21,10; stroke-dashoffset: 0; stroke: #d6d6d6; stroke-width: 5"/></g><g id="matplotlib.axis_13"><g id="xtick_16"><g id="line2d_56"><g><path d="M 1845.7 1245.2 L 1845.7 1250.2" style="stroke: #000000; stroke-width: 1.1"/></g></g><g id="text_59"><text style="font-size: 23.8px; font-family: 'DejaVu Sans', sans-serif; text-anchor: middle" x="1845.7" y="1274.6" transform="rotate(-0 1845.7 1274.6)">0</text></g></g><g id="xtick_17"><g id="line2d_57"><g><path d="M 2084.7 1245.2 L 2084.7 1250.2" style="stroke: #000000; stroke-width: 1.1"/></g></g><g id="text_60"><text style="font-size: 23.8px; font-family: 'DejaVu Sans', sans-serif; text-anchor: middle" x="2084.7" y="1274.6" transform="rotate(-0 2084.7 1274.6)">1</text></g></g><g id="text_61"><text style="font-size: 29px; font-family: 'DejaVu Sans', sans-serif; text-anchor: middle" x="1965.2" y="1308.1" transform="rotate(-0 1965.2 1308.1)">False Positive (FP)</text></g></g><g id="matplotlib.axis_14"><g id="ytick_27"><g id="line2d_58"><g><path d="M 1833.7 1233.5 L 1828.7 1233.5" style="stroke: #000000; stroke-width: 1.1"/></g></g><g id="text_62"><text style="font-size: 23.8px; font-family: 'DejaVu Sans', sans-serif; text-anchor: end" x="1822.4" y="1242.5" transform="rotate(-0 1822.4 1242.5)">0</text></g></g><g id="ytick_28"><g id="line2d_59"><g><path d="M 1833.7 998.7 L 1828.7 998.7" style="stroke: #000000; stroke-width: 1.1"/></g></g><g id="text_63"><text style="font-size: 23.8px; font-family: 'DejaVu Sans', sans-serif; text-anchor: end" x="1822.4" y="1007.8" transform="rotate(-0 1822.4 1007.8)">1</text></g></g><g id="text_64"><text style="font-size: 29px; font-family: 'DejaVu Sans', sans-serif; text-anchor: middle" x="1794.4" y="1116.1" transform="rotate(-90 1794.4 1116.1)">True Positive (TP)</text></g></g><g id="line2d_60"><path d="M 2084.7 998.7  L 2084.6 999  L 2084.6 999.1  L 2084.6 999.2  L 2084.5 999.3  L 2084.4 999.4  L 2084.3 999.6  L 2084.2 999.7  L 2084.1 1000  L 2083.9 1000.2  L 2083.7 1000.5  L 2083.5 1000.9  L 2083.2 1001.3  L 2082.8 1001.9  L 2082.4 1002.4  L 2081.9 1003.1  L 2081.3 1003.9  L 2080.6 1004.8  L 2079.8 1005.9  L 2078.8 1007.1  L 2077.7 1008.4  L 2076.5 1009.9  L 2075 1011.6  L 2073.4 1013.5  L 2071.5 1015.6  L 2069.4 1018  L 2067 1020.5  L 2064.4 1023.3  L 2061.5 1026.4  L 2058.3 1029.7  L 2054.8 1033.3  L 2051 1037.2  L 2046.9 1041.3  L 2042.4 1045.7  L 2037.7 1050.3  L 2032.6 1055.2  L 2027.2 1060.4  L 2021.6 1065.8  L 2015.6 1071.4  L 2009.5 1077.2  L 2003.1 1083.1  L 1996.4 1089.2  L 1989.7 1095.5  L 1982.8 1101.8  L 1975.8 1108.2  L 1968.7 1114.6  L 1961.7 1121.1  L 1954.6 1127.5  L 1947.6 1133.9  L 1940.7 1140.2  L 1934 1146.3  L 1927.3 1152.4  L 1920.9 1158.2  L 1914.8 1163.9  L 1908.8 1169.4  L 1903.2 1174.7  L 1897.8 1179.7  L 1892.7 1184.4  L 1888 1189  L 1883.5 1193.2  L 1879.4 1197.2  L 1875.6 1200.9  L 1872.1 1204.3  L 1868.9 1207.5  L 1866 1210.4  L 1863.4 1213.1  L 1861 1215.5  L 1858.9 1217.7  L 1857 1219.7  L 1855.4 1221.5  L 1853.9 1223.1  L 1852.7 1224.5  L 1851.6 1225.8  L 1850.6 1226.9  L 1849.8 1227.9  L 1849.1 1228.7  L 1848.5 1229.5  L 1848 1230.1  L 1847.6 1230.6  L 1847.2 1231.1  L 1846.9 1231.5  L 1846.7 1231.8  L 1846.5 1232.1  L 1846.3 1232.4  L 1846.2 1232.6  L 1846.1 1232.7  L 1846 1232.9  L 1845.9 1233  L 1845.8 1233.1  L 1845.8 1233.2  L 1845.8 1233.2  L 1845.7 1233.5  " clip-path="url(#p7d8ad5c169)" style="fill: none; stroke-dasharray: 8.5,3.7; stroke-dashoffset: 0; stroke: #1f77b4; stroke-opacity: 0.6; stroke-width: 2.3"/><g clip-path="url(#p7d8ad5c169)"><circle cx="2084.7" cy="998.7" r="4.5" style="fill: #1f77b4; fill-opacity: 0.6; stroke: #1f77b4; stroke-opacity: 0.6; stroke-width: 1.1"/><circle cx="2084.6" cy="999" r="4.5" style="fill: #1f77b4; fill-opacity: 0.6; stroke: #1f77b4; stroke-opacity: 0.6; stroke-width: 1.1"/><circle cx="2084.6" cy="999.1" r="4.5" style="fill: #1f77b4; fill-opacity: 0.6; stroke: #1f77b4; stroke-opacity: 0.6; stroke-width: 1.1"/><circle cx="2084.6" cy="999.2" r="4.5" style="fill: #1f77b4; fill-opacity: 0.6; stroke: #1f77b4; stroke-opacity: 0.6; stroke-width: 1.1"/><circle cx="2084.5" cy="999.3" r="4.5" style="fill: #1f77b4; fill-opacity: 0.6; stroke: #1f77b4; stroke-opacity: 0.6; stroke-width: 1.1"/><circle cx="2084.4" cy="999.4" r="4.5" style="fill: #1f77b4; fill-opacity: 0.6; stroke: #1f77b4; stroke-opacity: 0.6; stroke-width: 1.1"/><circle cx="2084.3" cy="999.6" r="4.5" style="fill: #1f77b4; fill-opacity: 0.6; stroke: #1f77b4; stroke-opacity: 0.6; stroke-width: 1.1"/><circle cx="2084.2" cy="999.7" r="4.5" style="fill: #1f77b4; fill-opacity: 0.6; stroke: #1f77b4; stroke-opacity: 0.6; stroke-width: 1.1"/><circle cx="2084.1" cy="1000" r="4.5" style="fill: #1f77b4; fill-opacity: 0.6; stroke: #1f77b4; stroke-opacity: 0.6; stroke-width: 1.1"/><circle cx="2083.9" cy="1000.2" r="4.5" style="fill: #1f77b4; fill-opacity: 0.6; stroke: #1f77b4; stroke-opacity: 0.6; stroke-width: 1.1"/><circle cx="2083.7" cy="1000.5" r="4.5" style="fill: #1f77b4; fill-opacity: 0.6; stroke: #1f77b4; stroke-opacity: 0.6; stroke-width: 1.1"/><circle cx="2083.5" cy="1000.9" r="4.5" style="fill: #1f77b4; fill-opacity: 0.6; stroke: #1f77b4; stroke-opacity: 0.6; stroke-width: 1.1"/><circle cx="2083.2" cy="1001.3" r="4.5" style="fill: #1f77b4; fill-opacity: 0.6; stroke: #1f77b4; stroke-opacity: 0.6; stroke-width: 1.1"/><circle cx="2082.8" cy="1001.9" r="4.5" style="fill: #1f77b4; fill-opacity: 0.6; stroke: #1f77b4; stroke-opacity: 0.6; stroke-width: 1.1"/><circle cx="2082.4" cy="1002.4" r="4.5" style="fill: #1f77b4; fill-opacity: 0.6; stroke: #1f77b4; stroke-opacity: 0.6; stroke-width: 1.1"/><circle cx="2081.9" cy="1003.1" r="4.5" style="fill: #1f77b4; fill-opacity: 0.6; stroke: #1f77b4; stroke-opacity: 0.6; stroke-width: 1.1"/><circle cx="2081.3" cy="1003.9" r="4.5" style="fill: #1f77b4; fill-opacity: 0.6; stroke: #1f77b4; stroke-opacity: 0.6; stroke-width: 1.1"/><circle cx="2080.6" cy="1004.8" r="4.5" style="fill: #1f77b4; fill-opacity: 0.6; stroke: #1f77b4; stroke-opacity: 0.6; stroke-width: 1.1"/><circle cx="2079.8" cy="1005.9" r="4.5" style="fill: #1f77b4; fill-opacity: 0.6; stroke: #1f77b4; stroke-opacity: 0.6; stroke-width: 1.1"/><circle cx="2078.8" cy="1007.1" r="4.5" style="fill: #1f77b4; fill-opacity: 0.6; stroke: #1f77b4; stroke-opacity: 0.6; stroke-width: 1.1"/><circle cx="2077.7" cy="1008.4" r="4.5" style="fill: #1f77b4; fill-opacity: 0.6; stroke: #1f77b4; stroke-opacity: 0.6; stroke-width: 1.1"/><circle cx="2076.5" cy="1009.9" r="4.5" style="fill: #1f77b4; fill-opacity: 0.6; stroke: #1f77b4; stroke-opacity: 0.6; stroke-width: 1.1"/><circle cx="2075" cy="1011.6" r="4.5" style="fill: #1f77b4; fill-opacity: 0.6; stroke: #1f77b4; stroke-opacity: 0.6; stroke-width: 1.1"/><circle cx="2073.4" cy="1013.5" r="4.5" style="fill: #1f77b4; fill-opacity: 0.6; stroke: #1f77b4; stroke-opacity: 0.6; stroke-width: 1.1"/><circle cx="2071.5" cy="1015.6" r="4.5" style="fill: #1f77b4; fill-opacity: 0.6; stroke: #1f77b4; stroke-opacity: 0.6; stroke-width: 1.1"/><circle cx="2069.4" cy="1018" r="4.5" style="fill: #1f77b4; fill-opacity: 0.6; stroke: #1f77b4; stroke-opacity: 0.6; stroke-width: 1.1"/><circle cx="2067" cy="1020.5" r="4.5" style="fill: #1f77b4; fill-opacity: 0.6; stroke: #1f77b4; stroke-opacity: 0.6; stroke-width: 1.1"/><circle cx="2064.4" cy="1023.3" r="4.5" style="fill: #1f77b4; fill-opacity: 0.6; stroke: #1f77b4; stroke-opacity: 0.6; stroke-width: 1.1"/><circle cx="2061.5" cy="1026.4" r="4.5" style="fill: #1f77b4; fill-opacity: 0.6; stroke: #1f77b4; stroke-opacity: 0.6; stroke-width: 1.1"/><circle cx="2058.3" cy="1029.7" r="4.5" style="fill: #1f77b4; fill-opacity: 0.6; stroke: #1f77b4; stroke-opacity: 0.6; stroke-width: 1.1"/><circle cx="2054.8" cy="1033.3" r="4.5" style="fill: #1f77b4; fill-opacity: 0.6; stroke: #1f77b4; stroke-opacity: 0.6; stroke-width: 1.1"/><circle cx="2051" cy="1037.2" r="4.5" style="fill: #1f77b4; fill-opacity: 0.6; stroke: #1f77b4; stroke-opacity: 0.6; stroke-width: 1.1"/><circle cx="2046.9" cy="1041.3" r="4.5" style="fill: #1f77b4; fill-opacity: 0.6; stroke: #1f77b4; stroke-opacity: 0.6; stroke-width: 1.1"/><circle cx="2042.4" cy="1045.7" r="4.5" style="fill: #1f77b4; fill-opacity: 0.6; stroke: #1f77b4; stroke-opacity: 0.6; stroke-width: 1.1"/><circle cx="2037.7" cy="1050.3" r="4.5" style="fill: #1f77b4; fill-opacity: 0.6; stroke: #1f77b4; stroke-opacity: 0.6; stroke-width: 1.1"/><circle cx="2032.6" cy="1055.2" r="4.5" style="fill: #1f77b4; fill-opacity: 0.6; stroke: #1f77b4; stroke-opacity: 0.6; stroke-width: 1.1"/><circle cx="2027.2" cy="1060.4" r="4.5" style="fill: #1f77b4; fill-opacity: 0.6; stroke: #1f77b4; stroke-opacity: 0.6; stroke-width: 1.1"/><circle cx="2021.6" cy="1065.8" r="4.5" style="fill: #1f77b4; fill-opacity: 0.6; stroke: #1f77b4; stroke-opacity: 0.6; stroke-width: 1.1"/><circle cx="2015.6" cy="1071.4" r="4.5" style="fill: #1f77b4; fill-opacity: 0.6; stroke: #1f77b4; stroke-opacity: 0.6; stroke-width: 1.1"/><circle cx="2009.5" cy="1077.2" r="4.5" style="fill: #1f77b4; fill-opacity: 0.6; stroke: #1f77b4; stroke-opacity: 0.6; stroke-width: 1.1"/><circle cx="2003.1" cy="1083.1" r="4.5" style="fill: #1f77b4; fill-opacity: 0.6; stroke: #1f77b4; stroke-opacity: 0.6; stroke-width: 1.1"/><circle cx="1996.4" cy="1089.2" r="4.5" style="fill: #1f77b4; fill-opacity: 0.6; stroke: #1f77b4; stroke-opacity: 0.6; stroke-width: 1.1"/><circle cx="1989.7" cy="1095.5" r="4.5" style="fill: #1f77b4; fill-opacity: 0.6; stroke: #1f77b4; stroke-opacity: 0.6; stroke-width: 1.1"/><circle cx="1982.8" cy="1101.8" r="4.5" style="fill: #1f77b4; fill-opacity: 0.6; stroke: #1f77b4; stroke-opacity: 0.6; stroke-width: 1.1"/><circle cx="1975.8" cy="1108.2" r="4.5" style="fill: #1f77b4; fill-opacity: 0.6; stroke: #1f77b4; stroke-opacity: 0.6; stroke-width: 1.1"/><circle cx="1968.7" cy="1114.6" r="4.5" style="fill: #1f77b4; fill-opacity: 0.6; stroke: #1f77b4; stroke-opacity: 0.6; stroke-width: 1.1"/><circle cx="1961.7" cy="1121.1" r="4.5" style="fill: #1f77b4; fill-opacity: 0.6; stroke: #1f77b4; stroke-opacity: 0.6; stroke-width: 1.1"/><circle cx="1954.6" cy="1127.5" r="4.5" style="fill: #1f77b4; fill-opacity: 0.6; stroke: #1f77b4; stroke-opacity: 0.6; stroke-width: 1.1"/><circle cx="1947.6" cy="1133.9" r="4.5" style="fill: #1f77b4; fill-opacity: 0.6; stroke: #1f77b4; stroke-opacity: 0.6; stroke-width: 1.1"/><circle cx="1940.7" cy="1140.2" r="4.5" style="fill: #1f77b4; fill-opacity: 0.6; stroke: #1f77b4; stroke-opacity: 0.6; stroke-width: 1.1"/><circle cx="1934" cy="1146.3" r="4.5" style="fill: #1f77b4; fill-opacity: 0.6; stroke: #1f77b4; stroke-opacity: 0.6; stroke-width: 1.1"/><circle cx="1927.3" cy="1152.4" r="4.5" style="fill: #1f77b4; fill-opacity: 0.6; stroke: #1f77b4; stroke-opacity: 0.6; stroke-width: 1.1"/><circle cx="1920.9" cy="1158.2" r="4.5" style="fill: #1f77b4; fill-opacity: 0.6; stroke: #1f77b4; stroke-opacity: 0.6; stroke-width: 1.1"/><circle cx="1914.8" cy="1163.9" r="4.5" style="fill: #1f77b4; fill-opacity: 0.6; stroke: #1f77b4; stroke-opacity: 0.6; stroke-width: 1.1"/><circle cx="1908.8" cy="1169.4" r="4.5" style="fill: #1f77b4; fill-opacity: 0.6; stroke: #1f77b4; stroke-opacity: 0.6; stroke-width: 1.1"/><circle cx="1903.2" cy="1174.7" r="4.5" style="fill: #1f77b4; fill-opacity: 0.6; stroke: #1f77b4; stroke-opacity: 0.6; stroke-width: 1.1"/><circle cx="1897.8" cy="1179.7" r="4.5" style="fill: #1f77b4; fill-opacity: 0.6; stroke: #1f77b4; stroke-opacity: 0.6; stroke-width: 1.1"/><circle cx="1892.7" cy="1184.4" r="4.5" style="fill: #1f77b4; fill-opacity: 0.6; stroke: #1f77b4; stroke-opacity: 0.6; stroke-width: 1.1"/><circle cx="1888" cy="1189" r="4.5" style="fill: #1f77b4; fill-opacity: 0.6; stroke: #1f77b4; stroke-opacity: 0.6; stroke-width: 1.1"/><circle cx="1883.5" cy="1193.2" r="4.5" style="fill: #1f77b4; fill-opacity: 0.6; stroke: #1f77b4; stroke-opacity: 0.6; stroke-width: 1.1"/><circle cx="1879.4" cy="1197.2" r="4.5" style="fill: #1f77b4; fill-opacity: 0.6; stroke: #1f77b4; stroke-opacity: 0.6; stroke-width: 1.1"/><circle cx="1875.6" cy="1200.9" r="4.5" style="fill: #1f77b4; fill-opacity: 0.6; stroke: #1f77b4; stroke-opacity: 0.6; stroke-width: 1.1"/><circle cx="1872.1" cy="1204.3" r="4.5" style="fill: #1f77b4; fill-opacity: 0.6; stroke: #1f77b4; stroke-opacity: 0.6; stroke-width: 1.1"/><circle cx="1868.9" cy="1207.5" r="4.5" style="fill: #1f77b4; fill-opacity: 0.6; stroke: #1f77b4; stroke-opacity: 0.6; stroke-width: 1.1"/><circle cx="1866" cy="1210.4" r="4.5" style="fill: #1f77b4; fill-opacity: 0.6; stroke: #1f77b4; stroke-opacity: 0.6; stroke-width: 1.1"/><circle cx="1863.4" cy="1213.1" r="4.5" style="fill: #1f77b4; fill-opacity: 0.6; stroke: #1f77b4; stroke-opacity: 0.6; stroke-width: 1.1"/><circle cx="1861" cy="1215.5" r="4.5" style="fill: #1f77b4; fill-opacity: 0.6; stroke: #1f77b4; stroke-opacity: 0.6; stroke-width: 1.1"/><circle cx="1858.9" cy="1217.7" r="4.5" style="fill: #1f77b4; fill-opacity: 0.6; stroke: #1f77b4; stroke-opacity: 0.6; stroke-width: 1.1"/><circle cx="1857" cy="1219.7" r="4.5" style="fill: #1f77b4; fill-opacity: 0.6; stroke: #1f77b4; stroke-opacity: 0.6; stroke-width: 1.1"/><circle cx="1855.4" cy="1221.5" r="4.5" style="fill: #1f77b4; fill-opacity: 0.6; stroke: #1f77b4; stroke-opacity: 0.6; stroke-width: 1.1"/><circle cx="1853.9" cy="1223.1" r="4.5" style="fill: #1f77b4; fill-opacity: 0.6; stroke: #1f77b4; stroke-opacity: 0.6; stroke-width: 1.1"/><circle cx="1852.7" cy="1224.5" r="4.5" style="fill: #1f77b4; fill-opacity: 0.6; stroke: #1f77b4; stroke-opacity: 0.6; stroke-width: 1.1"/><circle cx="1851.6" cy="1225.8" r="4.5" style="fill: #1f77b4; fill-opacity: 0.6; stroke: #1f77b4; stroke-opacity: 0.6; stroke-width: 1.1"/><circle cx="1850.6" cy="1226.9" r="4.5" style="fill: #1f77b4; fill-opacity: 0.6; stroke: #1f77b4; stroke-opacity: 0.6; stroke-width: 1.1"/><circle cx="1849.8" cy="1227.9" r="4.5" style="fill: #1f77b4; fill-opacity: 0.6; stroke: #1f77b4; stroke-opacity: 0.6; stroke-width: 1.1"/><circle cx="1849.1" cy="1228.7" r="4.5" style="fill: #1f77b4; fill-opacity: 0.6; stroke: #1f77b4; stroke-opacity: 0.6; stroke-width: 1.1"/><circle cx="1848.5" cy="1229.5" r="4.5" style="fill: #1f77b4; fill-opacity: 0.6; stroke: #1f77b4; stroke-opacity: 0.6; stroke-width: 1.1"/><circle cx="1848" cy="1230.1" r="4.5" style="fill: #1f77b4; fill-opacity: 0.6; stroke: #1f77b4; stroke-opacity: 0.6; stroke-width: 1.1"/><circle cx="1847.6" cy="1230.6" r="4.5" style="fill: #1f77b4; fill-opacity: 0.6; stroke: #1f77b4; stroke-opacity: 0.6; stroke-width: 1.1"/><circle cx="1847.2" cy="1231.1" r="4.5" style="fill: #1f77b4; fill-opacity: 0.6; stroke: #1f77b4; stroke-opacity: 0.6; stroke-width: 1.1"/><circle cx="1846.9" cy="1231.5" r="4.5" style="fill: #1f77b4; fill-opacity: 0.6; stroke: #1f77b4; stroke-opacity: 0.6; stroke-width: 1.1"/><circle cx="1846.7" cy="1231.8" r="4.5" style="fill: #1f77b4; fill-opacity: 0.6; stroke: #1f77b4; stroke-opacity: 0.6; stroke-width: 1.1"/><circle cx="1846.5" cy="1232.1" r="4.5" style="fill: #1f77b4; fill-opacity: 0.6; stroke: #1f77b4; stroke-opacity: 0.6; stroke-width: 1.1"/><circle cx="1846.3" cy="1232.4" r="4.5" style="fill: #1f77b4; fill-opacity: 0.6; stroke: #1f77b4; stroke-opacity: 0.6; stroke-width: 1.1"/><circle cx="1846.2" cy="1232.6" r="4.5" style="fill: #1f77b4; fill-opacity: 0.6; stroke: #1f77b4; stroke-opacity: 0.6; stroke-width: 1.1"/><circle cx="1846.1" cy="1232.7" r="4.5" style="fill: #1f77b4; fill-opacity: 0.6; stroke: #1f77b4; stroke-opacity: 0.6; stroke-width: 1.1"/><circle cx="1846" cy="1232.9" r="4.5" style="fill: #1f77b4; fill-opacity: 0.6; stroke: #1f77b4; stroke-opacity: 0.6; stroke-width: 1.1"/><circle cx="1845.9" cy="1233" r="4.5" style="fill: #1f77b4; fill-opacity: 0.6; stroke: #1f77b4; stroke-opacity: 0.6; stroke-width: 1.1"/><circle cx="1845.8" cy="1233.1" r="4.5" style="fill: #1f77b4; fill-opacity: 0.6; stroke: #1f77b4; stroke-opacity: 0.6; stroke-width: 1.1"/><circle cx="1845.8" cy="1233.2" r="4.5" style="fill: #1f77b4; fill-opacity: 0.6; stroke: #1f77b4; stroke-opacity: 0.6; stroke-width: 1.1"/><circle cx="1845.8" cy="1233.2" r="4.5" style="fill: #1f77b4; fill-opacity: 0.6; stroke: #1f77b4; stroke-opacity: 0.6; stroke-width: 1.1"/><circle cx="1845.7" cy="1233.5" r="4.5" style="fill: #1f77b4; fill-opacity: 0.6; stroke: #1f77b4; stroke-opacity: 0.6; stroke-width: 1.1"/></g></g><g id="patch_39"><path d="M 1833.7 1245.2  L 1833.7 987  " style="fill: none; stroke: #000000; stroke-width: 1.2; stroke-linejoin: miter; stroke-linecap: square"/></g><g id="patch_40"><path d="M 1833.7 1245.2  L 2096.7 1245.2  " style="fill: none; stroke: #000000; stroke-width: 1.2; stroke-linejoin: miter; stroke-linecap: square"/></g><g id="line2d_61"><path d="M 2084.7 998.7  L 2084.6 998.9  L 2084.6 999  L 2084.6 999.1  L 2084.5 999.2  L 2084.4 999.3  L 2084.3 999.4  L 2084.2 999.5  L 2084.1 999.7  L 2083.9 999.9  L 2083.7 1000.2  L 2083.5 1000.5  L 2083.2 1000.8  L 2082.8 1001.3  L 2082.4 1001.8  L 2081.9 1002.3  L 2081.3 1003  L 2080.6 1003.8  L 2079.8 1004.7  L 2078.8 1005.7  L 2077.7 1006.9  L 2076.5 1008.2  L 2075 1009.7  L 2073.4 1011.3  L 2071.5 1013.2  L 2069.4 1015.3  L 2067 1017.6  L 2064.4 1020.1  L 2061.5 1022.8  L 2058.3 1025.9  L 2054.8 1029.1  L 2051 1032.7  L 2046.9 1036.5  L 2042.4 1040.6  L 2037.7 1044.9  L 2032.6 1049.5  L 2027.2 1054.4  L 2021.6 1059.5  L 2015.6 1064.8  L 2009.5 1070.4  L 2003.1 1076.1  L 1996.4 1082  L 1989.7 1088.1  L 1982.8 1094.3  L 1975.8 1100.7  L 1968.7 1107  L 1961.7 1113.5  L 1954.6 1119.9  L 1947.6 1126.3  L 1940.7 1132.7  L 1934 1139  L 1927.3 1145.2  L 1920.9 1151.2  L 1914.8 1157.1  L 1908.8 1162.9  L 1903.2 1168.4  L 1897.8 1173.7  L 1892.7 1178.7  L 1888 1183.5  L 1883.5 1188.1  L 1879.4 1192.4  L 1875.6 1196.4  L 1872.1 1200.2  L 1868.9 1203.7  L 1866 1206.9  L 1863.4 1209.9  L 1861 1212.6  L 1858.9 1215.1  L 1857 1217.3  L 1855.4 1219.4  L 1853.9 1221.2  L 1852.7 1222.8  L 1851.6 1224.3  L 1850.6 1225.6  L 1849.8 1226.7  L 1849.1 1227.7  L 1848.5 1228.6  L 1848 1229.3  L 1847.6 1230  L 1847.2 1230.5  L 1846.9 1231  L 1846.7 1231.4  L 1846.5 1231.8  L 1846.3 1232.1  L 1846.2 1232.3  L 1846.1 1232.5  L 1846 1232.7  L 1845.9 1232.8  L 1845.8 1233  L 1845.8 1233.1  L 1845.8 1233.1  L 1845.7 1233.5  " clip-path="url(#p7d8ad5c169)" style="fill: none; stroke-dasharray: 8.5,3.7; stroke-dashoffset: 0; stroke: #ff7f0e; stroke-opacity: 0.6; stroke-width: 2.3"/><g clip-path="url(#p7d8ad5c169)"><circle cx="2084.7" cy="998.7" r="4.5" style="fill: #ff7f0e; fill-opacity: 0.6; stroke: #ff7f0e; stroke-opacity: 0.6; stroke-width: 1.1"/><circle cx="2084.6" cy="998.9" r="4.5" style="fill: #ff7f0e; fill-opacity: 0.6; stroke: #ff7f0e; stroke-opacity: 0.6; stroke-width: 1.1"/><circle cx="2084.6" cy="999" r="4.5" style="fill: #ff7f0e; fill-opacity: 0.6; stroke: #ff7f0e; stroke-opacity: 0.6; stroke-width: 1.1"/><circle cx="2084.6" cy="999.1" r="4.5" style="fill: #ff7f0e; fill-opacity: 0.6; stroke: #ff7f0e; stroke-opacity: 0.6; stroke-width: 1.1"/><circle cx="2084.5" cy="999.2" r="4.5" style="fill: #ff7f0e; fill-opacity: 0.6; stroke: #ff7f0e; stroke-opacity: 0.6; stroke-width: 1.1"/><circle cx="2084.4" cy="999.3" r="4.5" style="fill: #ff7f0e; fill-opacity: 0.6; stroke: #ff7f0e; stroke-opacity: 0.6; stroke-width: 1.1"/><circle cx="2084.3" cy="999.4" r="4.5" style="fill: #ff7f0e; fill-opacity: 0.6; stroke: #ff7f0e; stroke-opacity: 0.6; stroke-width: 1.1"/><circle cx="2084.2" cy="999.5" r="4.5" style="fill: #ff7f0e; fill-opacity: 0.6; stroke: #ff7f0e; stroke-opacity: 0.6; stroke-width: 1.1"/><circle cx="2084.1" cy="999.7" r="4.5" style="fill: #ff7f0e; fill-opacity: 0.6; stroke: #ff7f0e; stroke-opacity: 0.6; stroke-width: 1.1"/><circle cx="2083.9" cy="999.9" r="4.5" style="fill: #ff7f0e; fill-opacity: 0.6; stroke: #ff7f0e; stroke-opacity: 0.6; stroke-width: 1.1"/><circle cx="2083.7" cy="1000.2" r="4.5" style="fill: #ff7f0e; fill-opacity: 0.6; stroke: #ff7f0e; stroke-opacity: 0.6; stroke-width: 1.1"/><circle cx="2083.5" cy="1000.5" r="4.5" style="fill: #ff7f0e; fill-opacity: 0.6; stroke: #ff7f0e; stroke-opacity: 0.6; stroke-width: 1.1"/><circle cx="2083.2" cy="1000.8" r="4.5" style="fill: #ff7f0e; fill-opacity: 0.6; stroke: #ff7f0e; stroke-opacity: 0.6; stroke-width: 1.1"/><circle cx="2082.8" cy="1001.3" r="4.5" style="fill: #ff7f0e; fill-opacity: 0.6; stroke: #ff7f0e; stroke-opacity: 0.6; stroke-width: 1.1"/><circle cx="2082.4" cy="1001.8" r="4.5" style="fill: #ff7f0e; fill-opacity: 0.6; stroke: #ff7f0e; stroke-opacity: 0.6; stroke-width: 1.1"/><circle cx="2081.9" cy="1002.3" r="4.5" style="fill: #ff7f0e; fill-opacity: 0.6; stroke: #ff7f0e; stroke-opacity: 0.6; stroke-width: 1.1"/><circle cx="2081.3" cy="1003" r="4.5" style="fill: #ff7f0e; fill-opacity: 0.6; stroke: #ff7f0e; stroke-opacity: 0.6; stroke-width: 1.1"/><circle cx="2080.6" cy="1003.8" r="4.5" style="fill: #ff7f0e; fill-opacity: 0.6; stroke: #ff7f0e; stroke-opacity: 0.6; stroke-width: 1.1"/><circle cx="2079.8" cy="1004.7" r="4.5" style="fill: #ff7f0e; fill-opacity: 0.6; stroke: #ff7f0e; stroke-opacity: 0.6; stroke-width: 1.1"/><circle cx="2078.8" cy="1005.7" r="4.5" style="fill: #ff7f0e; fill-opacity: 0.6; stroke: #ff7f0e; stroke-opacity: 0.6; stroke-width: 1.1"/><circle cx="2077.7" cy="1006.9" r="4.5" style="fill: #ff7f0e; fill-opacity: 0.6; stroke: #ff7f0e; stroke-opacity: 0.6; stroke-width: 1.1"/><circle cx="2076.5" cy="1008.2" r="4.5" style="fill: #ff7f0e; fill-opacity: 0.6; stroke: #ff7f0e; stroke-opacity: 0.6; stroke-width: 1.1"/><circle cx="2075" cy="1009.7" r="4.5" style="fill: #ff7f0e; fill-opacity: 0.6; stroke: #ff7f0e; stroke-opacity: 0.6; stroke-width: 1.1"/><circle cx="2073.4" cy="1011.3" r="4.5" style="fill: #ff7f0e; fill-opacity: 0.6; stroke: #ff7f0e; stroke-opacity: 0.6; stroke-width: 1.1"/><circle cx="2071.5" cy="1013.2" r="4.5" style="fill: #ff7f0e; fill-opacity: 0.6; stroke: #ff7f0e; stroke-opacity: 0.6; stroke-width: 1.1"/><circle cx="2069.4" cy="1015.3" r="4.5" style="fill: #ff7f0e; fill-opacity: 0.6; stroke: #ff7f0e; stroke-opacity: 0.6; stroke-width: 1.1"/><circle cx="2067" cy="1017.6" r="4.5" style="fill: #ff7f0e; fill-opacity: 0.6; stroke: #ff7f0e; stroke-opacity: 0.6; stroke-width: 1.1"/><circle cx="2064.4" cy="1020.1" r="4.5" style="fill: #ff7f0e; fill-opacity: 0.6; stroke: #ff7f0e; stroke-opacity: 0.6; stroke-width: 1.1"/><circle cx="2061.5" cy="1022.8" r="4.5" style="fill: #ff7f0e; fill-opacity: 0.6; stroke: #ff7f0e; stroke-opacity: 0.6; stroke-width: 1.1"/><circle cx="2058.3" cy="1025.9" r="4.5" style="fill: #ff7f0e; fill-opacity: 0.6; stroke: #ff7f0e; stroke-opacity: 0.6; stroke-width: 1.1"/><circle cx="2054.8" cy="1029.1" r="4.5" style="fill: #ff7f0e; fill-opacity: 0.6; stroke: #ff7f0e; stroke-opacity: 0.6; stroke-width: 1.1"/><circle cx="2051" cy="1032.7" r="4.5" style="fill: #ff7f0e; fill-opacity: 0.6; stroke: #ff7f0e; stroke-opacity: 0.6; stroke-width: 1.1"/><circle cx="2046.9" cy="1036.5" r="4.5" style="fill: #ff7f0e; fill-opacity: 0.6; stroke: #ff7f0e; stroke-opacity: 0.6; stroke-width: 1.1"/><circle cx="2042.4" cy="1040.6" r="4.5" style="fill: #ff7f0e; fill-opacity: 0.6; stroke: #ff7f0e; stroke-opacity: 0.6; stroke-width: 1.1"/><circle cx="2037.7" cy="1044.9" r="4.5" style="fill: #ff7f0e; fill-opacity: 0.6; stroke: #ff7f0e; stroke-opacity: 0.6; stroke-width: 1.1"/><circle cx="2032.6" cy="1049.5" r="4.5" style="fill: #ff7f0e; fill-opacity: 0.6; stroke: #ff7f0e; stroke-opacity: 0.6; stroke-width: 1.1"/><circle cx="2027.2" cy="1054.4" r="4.5" style="fill: #ff7f0e; fill-opacity: 0.6; stroke: #ff7f0e; stroke-opacity: 0.6; stroke-width: 1.1"/><circle cx="2021.6" cy="1059.5" r="4.5" style="fill: #ff7f0e; fill-opacity: 0.6; stroke: #ff7f0e; stroke-opacity: 0.6; stroke-width: 1.1"/><circle cx="2015.6" cy="1064.8" r="4.5" style="fill: #ff7f0e; fill-opacity: 0.6; stroke: #ff7f0e; stroke-opacity: 0.6; stroke-width: 1.1"/><circle cx="2009.5" cy="1070.4" r="4.5" style="fill: #ff7f0e; fill-opacity: 0.6; stroke: #ff7f0e; stroke-opacity: 0.6; stroke-width: 1.1"/><circle cx="2003.1" cy="1076.1" r="4.5" style="fill: #ff7f0e; fill-opacity: 0.6; stroke: #ff7f0e; stroke-opacity: 0.6; stroke-width: 1.1"/><circle cx="1996.4" cy="1082" r="4.5" style="fill: #ff7f0e; fill-opacity: 0.6; stroke: #ff7f0e; stroke-opacity: 0.6; stroke-width: 1.1"/><circle cx="1989.7" cy="1088.1" r="4.5" style="fill: #ff7f0e; fill-opacity: 0.6; stroke: #ff7f0e; stroke-opacity: 0.6; stroke-width: 1.1"/><circle cx="1982.8" cy="1094.3" r="4.5" style="fill: #ff7f0e; fill-opacity: 0.6; stroke: #ff7f0e; stroke-opacity: 0.6; stroke-width: 1.1"/><circle cx="1975.8" cy="1100.7" r="4.5" style="fill: #ff7f0e; fill-opacity: 0.6; stroke: #ff7f0e; stroke-opacity: 0.6; stroke-width: 1.1"/><circle cx="1968.7" cy="1107" r="4.5" style="fill: #ff7f0e; fill-opacity: 0.6; stroke: #ff7f0e; stroke-opacity: 0.6; stroke-width: 1.1"/><circle cx="1961.7" cy="1113.5" r="4.5" style="fill: #ff7f0e; fill-opacity: 0.6; stroke: #ff7f0e; stroke-opacity: 0.6; stroke-width: 1.1"/><circle cx="1954.6" cy="1119.9" r="4.5" style="fill: #ff7f0e; fill-opacity: 0.6; stroke: #ff7f0e; stroke-opacity: 0.6; stroke-width: 1.1"/><circle cx="1947.6" cy="1126.3" r="4.5" style="fill: #ff7f0e; fill-opacity: 0.6; stroke: #ff7f0e; stroke-opacity: 0.6; stroke-width: 1.1"/><circle cx="1940.7" cy="1132.7" r="4.5" style="fill: #ff7f0e; fill-opacity: 0.6; stroke: #ff7f0e; stroke-opacity: 0.6; stroke-width: 1.1"/><circle cx="1934" cy="1139" r="4.5" style="fill: #ff7f0e; fill-opacity: 0.6; stroke: #ff7f0e; stroke-opacity: 0.6; stroke-width: 1.1"/><circle cx="1927.3" cy="1145.2" r="4.5" style="fill: #ff7f0e; fill-opacity: 0.6; stroke: #ff7f0e; stroke-opacity: 0.6; stroke-width: 1.1"/><circle cx="1920.9" cy="1151.2" r="4.5" style="fill: #ff7f0e; fill-opacity: 0.6; stroke: #ff7f0e; stroke-opacity: 0.6; stroke-width: 1.1"/><circle cx="1914.8" cy="1157.1" r="4.5" style="fill: #ff7f0e; fill-opacity: 0.6; stroke: #ff7f0e; stroke-opacity: 0.6; stroke-width: 1.1"/><circle cx="1908.8" cy="1162.9" r="4.5" style="fill: #ff7f0e; fill-opacity: 0.6; stroke: #ff7f0e; stroke-opacity: 0.6; stroke-width: 1.1"/><circle cx="1903.2" cy="1168.4" r="4.5" style="fill: #ff7f0e; fill-opacity: 0.6; stroke: #ff7f0e; stroke-opacity: 0.6; stroke-width: 1.1"/><circle cx="1897.8" cy="1173.7" r="4.5" style="fill: #ff7f0e; fill-opacity: 0.6; stroke: #ff7f0e; stroke-opacity: 0.6; stroke-width: 1.1"/><circle cx="1892.7" cy="1178.7" r="4.5" style="fill: #ff7f0e; fill-opacity: 0.6; stroke: #ff7f0e; stroke-opacity: 0.6; stroke-width: 1.1"/><circle cx="1888" cy="1183.5" r="4.5" style="fill: #ff7f0e; fill-opacity: 0.6; stroke: #ff7f0e; stroke-opacity: 0.6; stroke-width: 1.1"/><circle cx="1883.5" cy="1188.1" r="4.5" style="fill: #ff7f0e; fill-opacity: 0.6; stroke: #ff7f0e; stroke-opacity: 0.6; stroke-width: 1.1"/><circle cx="1879.4" cy="1192.4" r="4.5" style="fill: #ff7f0e; fill-opacity: 0.6; stroke: #ff7f0e; stroke-opacity: 0.6; stroke-width: 1.1"/><circle cx="1875.6" cy="1196.4" r="4.5" style="fill: #ff7f0e; fill-opacity: 0.6; stroke: #ff7f0e; stroke-opacity: 0.6; stroke-width: 1.1"/><circle cx="1872.1" cy="1200.2" r="4.5" style="fill: #ff7f0e; fill-opacity: 0.6; stroke: #ff7f0e; stroke-opacity: 0.6; stroke-width: 1.1"/><circle cx="1868.9" cy="1203.7" r="4.5" style="fill: #ff7f0e; fill-opacity: 0.6; stroke: #ff7f0e; stroke-opacity: 0.6; stroke-width: 1.1"/><circle cx="1866" cy="1206.9" r="4.5" style="fill: #ff7f0e; fill-opacity: 0.6; stroke: #ff7f0e; stroke-opacity: 0.6; stroke-width: 1.1"/><circle cx="1863.4" cy="1209.9" r="4.5" style="fill: #ff7f0e; fill-opacity: 0.6; stroke: #ff7f0e; stroke-opacity: 0.6; stroke-width: 1.1"/><circle cx="1861" cy="1212.6" r="4.5" style="fill: #ff7f0e; fill-opacity: 0.6; stroke: #ff7f0e; stroke-opacity: 0.6; stroke-width: 1.1"/><circle cx="1858.9" cy="1215.1" r="4.5" style="fill: #ff7f0e; fill-opacity: 0.6; stroke: #ff7f0e; stroke-opacity: 0.6; stroke-width: 1.1"/><circle cx="1857" cy="1217.3" r="4.5" style="fill: #ff7f0e; fill-opacity: 0.6; stroke: #ff7f0e; stroke-opacity: 0.6; stroke-width: 1.1"/><circle cx="1855.4" cy="1219.4" r="4.5" style="fill: #ff7f0e; fill-opacity: 0.6; stroke: #ff7f0e; stroke-opacity: 0.6; stroke-width: 1.1"/><circle cx="1853.9" cy="1221.2" r="4.5" style="fill: #ff7f0e; fill-opacity: 0.6; stroke: #ff7f0e; stroke-opacity: 0.6; stroke-width: 1.1"/><circle cx="1852.7" cy="1222.8" r="4.5" style="fill: #ff7f0e; fill-opacity: 0.6; stroke: #ff7f0e; stroke-opacity: 0.6; stroke-width: 1.1"/><circle cx="1851.6" cy="1224.3" r="4.5" style="fill: #ff7f0e; fill-opacity: 0.6; stroke: #ff7f0e; stroke-opacity: 0.6; stroke-width: 1.1"/><circle cx="1850.6" cy="1225.6" r="4.5" style="fill: #ff7f0e; fill-opacity: 0.6; stroke: #ff7f0e; stroke-opacity: 0.6; stroke-width: 1.1"/><circle cx="1849.8" cy="1226.7" r="4.5" style="fill: #ff7f0e; fill-opacity: 0.6; stroke: #ff7f0e; stroke-opacity: 0.6; stroke-width: 1.1"/><circle cx="1849.1" cy="1227.7" r="4.5" style="fill: #ff7f0e; fill-opacity: 0.6; stroke: #ff7f0e; stroke-opacity: 0.6; stroke-width: 1.1"/><circle cx="1848.5" cy="1228.6" r="4.5" style="fill: #ff7f0e; fill-opacity: 0.6; stroke: #ff7f0e; stroke-opacity: 0.6; stroke-width: 1.1"/><circle cx="1848" cy="1229.3" r="4.5" style="fill: #ff7f0e; fill-opacity: 0.6; stroke: #ff7f0e; stroke-opacity: 0.6; stroke-width: 1.1"/><circle cx="1847.6" cy="1230" r="4.5" style="fill: #ff7f0e; fill-opacity: 0.6; stroke: #ff7f0e; stroke-opacity: 0.6; stroke-width: 1.1"/><circle cx="1847.2" cy="1230.5" r="4.5" style="fill: #ff7f0e; fill-opacity: 0.6; stroke: #ff7f0e; stroke-opacity: 0.6; stroke-width: 1.1"/><circle cx="1846.9" cy="1231" r="4.5" style="fill: #ff7f0e; fill-opacity: 0.6; stroke: #ff7f0e; stroke-opacity: 0.6; stroke-width: 1.1"/><circle cx="1846.7" cy="1231.4" r="4.5" style="fill: #ff7f0e; fill-opacity: 0.6; stroke: #ff7f0e; stroke-opacity: 0.6; stroke-width: 1.1"/><circle cx="1846.5" cy="1231.8" r="4.5" style="fill: #ff7f0e; fill-opacity: 0.6; stroke: #ff7f0e; stroke-opacity: 0.6; stroke-width: 1.1"/><circle cx="1846.3" cy="1232.1" r="4.5" style="fill: #ff7f0e; fill-opacity: 0.6; stroke: #ff7f0e; stroke-opacity: 0.6; stroke-width: 1.1"/><circle cx="1846.2" cy="1232.3" r="4.5" style="fill: #ff7f0e; fill-opacity: 0.6; stroke: #ff7f0e; stroke-opacity: 0.6; stroke-width: 1.1"/><circle cx="1846.1" cy="1232.5" r="4.5" style="fill: #ff7f0e; fill-opacity: 0.6; stroke: #ff7f0e; stroke-opacity: 0.6; stroke-width: 1.1"/><circle cx="1846" cy="1232.7" r="4.5" style="fill: #ff7f0e; fill-opacity: 0.6; stroke: #ff7f0e; stroke-opacity: 0.6; stroke-width: 1.1"/><circle cx="1845.9" cy="1232.8" r="4.5" style="fill: #ff7f0e; fill-opacity: 0.6; stroke: #ff7f0e; stroke-opacity: 0.6; stroke-width: 1.1"/><circle cx="1845.8" cy="1233" r="4.5" style="fill: #ff7f0e; fill-opacity: 0.6; stroke: #ff7f0e; stroke-opacity: 0.6; stroke-width: 1.1"/><circle cx="1845.8" cy="1233.1" r="4.5" style="fill: #ff7f0e; fill-opacity: 0.6; stroke: #ff7f0e; stroke-opacity: 0.6; stroke-width: 1.1"/><circle cx="1845.8" cy="1233.1" r="4.5" style="fill: #ff7f0e; fill-opacity: 0.6; stroke: #ff7f0e; stroke-opacity: 0.6; stroke-width: 1.1"/><circle cx="1845.7" cy="1233.5" r="4.5" style="fill: #ff7f0e; fill-opacity: 0.6; stroke: #ff7f0e; stroke-opacity: 0.6; stroke-width: 1.1"/></g></g><g id="text_65"><g transform="translate(1782.9 976.4)"><text><tspan x="0" y="-0.1" style="font-style: oblique; font-size: 28.6px; font-family: 'DejaVu Sans', sans-serif">θ</tspan><tspan x="143.5" y="-0.1" style="font-style: oblique; font-size: 28.6px; font-family: 'DejaVu Sans', sans-serif">ω</tspan><tspan x="23.1" y="-0.1" style="font-size: 28.6px; font-family: 'DejaVu Sans', sans-serif">=</tspan><tspan x="52.7" y="-0.1" style="font-size: 28.6px; font-family: 'DejaVu Sans', sans-serif">3</tspan><tspan x="70.9" y="-0.1" style="font-size: 28.6px; font-family: 'DejaVu Sans', sans-serif">.</tspan><tspan x="79.2" y="-0.1" style="font-size: 28.6px; font-family: 'DejaVu Sans', sans-serif">8</tspan><tspan x="97.4" y="-0.1" style="font-size: 28.6px; font-family: 'DejaVu Sans', sans-serif"></tspan><tspan x="106.5" y="-0.1" style="font-size: 28.6px; font-family: 'DejaVu Sans', sans-serif"></tspan><tspan x="115.6" y="-0.1" style="font-size: 28.6px; font-family: 'DejaVu Sans', sans-serif">|</tspan><tspan x="125.3" y="-0.1" style="font-size: 28.6px; font-family: 'DejaVu Sans', sans-serif"></tspan><tspan x="134.4" y="-0.1" style="font-size: 28.6px; font-family: 'DejaVu Sans', sans-serif"></tspan><tspan x="187.6" y="-0.1" style="font-size: 28.6px; font-family: 'DejaVu Sans', sans-serif">=</tspan><tspan x="217.2" y="-0.1" style="font-size: 28.6px; font-family: 'DejaVu Sans', sans-serif">0</tspan><tspan x="235.4" y="-0.1" style="font-size: 28.6px; font-family: 'DejaVu Sans', sans-serif">.</tspan><tspan x="244.5" y="-0.1" style="font-size: 28.6px; font-family: 'DejaVu Sans', sans-serif">6</tspan><tspan x="268.3" y="-0.1" style="font-size: 28.6px; font-family: 'DejaVu Sans', sans-serif">×</tspan><tspan x="297.9" y="-0.1" style="font-size: 28.6px; font-family: 'DejaVu Sans', sans-serif">1</tspan><tspan x="316.1" y="-0.1" style="font-size: 28.6px; font-family: 'DejaVu Sans', sans-serif">0</tspan><tspan x="168.7" y="-11.2" style="font-size: 20px; font-family: 'DejaVu Sans', sans-serif">⋆</tspan><tspan x="334.6" y="-11.2" style="font-size: 20px; font-family: 'DejaVu Sans', sans-serif">−</tspan><tspan x="351.4" y="-11.2" style="font-size: 20px; font-family: 'DejaVu Sans', sans-serif">5</tspan></text></g></g><g id="line2d_62"><path d="M 2084.7 998.7  L 2084.6 998.9  L 2084.6 998.9  L 2084.6 999  L 2084.5 999.1  L 2084.4 999.1  L 2084.3 999.2  L 2084.2 999.3  L 2084.1 999.5  L 2083.9 999.6  L 2083.7 999.8  L 2083.5 1000.1  L 2083.2 1000.4  L 2082.8 1000.7  L 2082.4 1001.1  L 2081.9 1001.5  L 2081.3 1002.1  L 2080.6 1002.7  L 2079.8 1003.4  L 2078.8 1004.2  L 2077.7 1005.1  L 2076.5 1006.2  L 2075 1007.4  L 2073.4 1008.8  L 2071.5 1010.3  L 2069.4 1012  L 2067 1013.9  L 2064.4 1016  L 2061.5 1018.3  L 2058.3 1020.8  L 2054.8 1023.6  L 2051 1026.6  L 2046.9 1029.9  L 2042.4 1033.4  L 2037.7 1037.2  L 2032.6 1041.2  L 2027.2 1045.5  L 2021.6 1050  L 2015.6 1054.8  L 2009.5 1059.8  L 2003.1 1065.1  L 1996.4 1070.5  L 1989.7 1076.1  L 1982.8 1082  L 1975.8 1087.9  L 1968.7 1094  L 1961.7 1100.2  L 1954.6 1106.4  L 1947.6 1112.7  L 1940.7 1119  L 1934 1125.3  L 1927.3 1131.5  L 1920.9 1137.7  L 1914.8 1143.8  L 1908.8 1149.8  L 1903.2 1155.6  L 1897.8 1161.2  L 1892.7 1166.7  L 1888 1171.9  L 1883.5 1177  L 1879.4 1181.8  L 1875.6 1186.3  L 1872.1 1190.6  L 1868.9 1194.7  L 1866 1198.5  L 1863.4 1202  L 1861 1205.3  L 1858.9 1208.4  L 1857 1211.2  L 1855.4 1213.7  L 1853.9 1216  L 1852.7 1218.2  L 1851.6 1220.1  L 1850.6 1221.8  L 1849.8 1223.3  L 1849.1 1224.7  L 1848.5 1225.9  L 1848 1227  L 1847.6 1227.9  L 1847.2 1228.7  L 1846.9 1229.5  L 1846.7 1230.1  L 1846.5 1230.6  L 1846.3 1231.1  L 1846.2 1231.5  L 1846.1 1231.8  L 1846 1232.1  L 1845.9 1232.3  L 1845.8 1232.5  L 1845.8 1232.7  L 1845.8 1232.8  L 1845.7 1233.5  " clip-path="url(#p7d8ad5c169)" style="fill: none; stroke-dasharray: 8.5,3.7; stroke-dashoffset: 0; stroke: #2ca02c; stroke-opacity: 0.6; stroke-width: 2.3"/><g clip-path="url(#p7d8ad5c169)"><path d="M 2080.2 1003.2 L 2089.2 1003.2 L 2089.2 994.2 L 2080.2 994.2 z" style="fill: #2ca02c; fill-opacity: 0.6; stroke: #2ca02c; stroke-opacity: 0.6; stroke-width: 1.1; stroke-linejoin: miter"/><path d="M 2080.1 1003.4 L 2089.1 1003.4 L 2089.1 994.4 L 2080.1 994.4 z" style="fill: #2ca02c; fill-opacity: 0.6; stroke: #2ca02c; stroke-opacity: 0.6; stroke-width: 1.1; stroke-linejoin: miter"/><path d="M 2080.1 1003.4 L 2089.1 1003.4 L 2089.1 994.4 L 2080.1 994.4 z" style="fill: #2ca02c; fill-opacity: 0.6; stroke: #2ca02c; stroke-opacity: 0.6; stroke-width: 1.1; stroke-linejoin: miter"/><path d="M 2080.1 1003.5 L 2089.1 1003.5 L 2089.1 994.5 L 2080.1 994.5 z" style="fill: #2ca02c; fill-opacity: 0.6; stroke: #2ca02c; stroke-opacity: 0.6; stroke-width: 1.1; stroke-linejoin: miter"/><path d="M 2080 1003.6 L 2089 1003.6 L 2089 994.6 L 2080 994.6 z" style="fill: #2ca02c; fill-opacity: 0.6; stroke: #2ca02c; stroke-opacity: 0.6; stroke-width: 1.1; stroke-linejoin: miter"/><path d="M 2079.9 1003.6 L 2088.9 1003.6 L 2088.9 994.6 L 2079.9 994.6 z" style="fill: #2ca02c; fill-opacity: 0.6; stroke: #2ca02c; stroke-opacity: 0.6; stroke-width: 1.1; stroke-linejoin: miter"/><path d="M 2079.8 1003.7 L 2088.8 1003.7 L 2088.8 994.7 L 2079.8 994.7 z" style="fill: #2ca02c; fill-opacity: 0.6; stroke: #2ca02c; stroke-opacity: 0.6; stroke-width: 1.1; stroke-linejoin: miter"/><path d="M 2079.7 1003.8 L 2088.7 1003.8 L 2088.7 994.8 L 2079.7 994.8 z" style="fill: #2ca02c; fill-opacity: 0.6; stroke: #2ca02c; stroke-opacity: 0.6; stroke-width: 1.1; stroke-linejoin: miter"/><path d="M 2079.6 1004 L 2088.6 1004 L 2088.6 995 L 2079.6 995 z" style="fill: #2ca02c; fill-opacity: 0.6; stroke: #2ca02c; stroke-opacity: 0.6; stroke-width: 1.1; stroke-linejoin: miter"/><path d="M 2079.4 1004.1 L 2088.4 1004.1 L 2088.4 995.1 L 2079.4 995.1 z" style="fill: #2ca02c; fill-opacity: 0.6; stroke: #2ca02c; stroke-opacity: 0.6; stroke-width: 1.1; stroke-linejoin: miter"/><path d="M 2079.2 1004.3 L 2088.2 1004.3 L 2088.2 995.3 L 2079.2 995.3 z" style="fill: #2ca02c; fill-opacity: 0.6; stroke: #2ca02c; stroke-opacity: 0.6; stroke-width: 1.1; stroke-linejoin: miter"/><path d="M 2079 1004.6 L 2088 1004.6 L 2088 995.6 L 2079 995.6 z" style="fill: #2ca02c; fill-opacity: 0.6; stroke: #2ca02c; stroke-opacity: 0.6; stroke-width: 1.1; stroke-linejoin: miter"/><path d="M 2078.7 1004.9 L 2087.7 1004.9 L 2087.7 995.9 L 2078.7 995.9 z" style="fill: #2ca02c; fill-opacity: 0.6; stroke: #2ca02c; stroke-opacity: 0.6; stroke-width: 1.1; stroke-linejoin: miter"/><path d="M 2078.3 1005.2 L 2087.3 1005.2 L 2087.3 996.2 L 2078.3 996.2 z" style="fill: #2ca02c; fill-opacity: 0.6; stroke: #2ca02c; stroke-opacity: 0.6; stroke-width: 1.1; stroke-linejoin: miter"/><path d="M 2077.9 1005.6 L 2086.9 1005.6 L 2086.9 996.6 L 2077.9 996.6 z" style="fill: #2ca02c; fill-opacity: 0.6; stroke: #2ca02c; stroke-opacity: 0.6; stroke-width: 1.1; stroke-linejoin: miter"/><path d="M 2077.4 1006 L 2086.4 1006 L 2086.4 997 L 2077.4 997 z" style="fill: #2ca02c; fill-opacity: 0.6; stroke: #2ca02c; stroke-opacity: 0.6; stroke-width: 1.1; stroke-linejoin: miter"/><path d="M 2076.8 1006.6 L 2085.8 1006.6 L 2085.8 997.6 L 2076.8 997.6 z" style="fill: #2ca02c; fill-opacity: 0.6; stroke: #2ca02c; stroke-opacity: 0.6; stroke-width: 1.1; stroke-linejoin: miter"/><path d="M 2076.1 1007.2 L 2085.1 1007.2 L 2085.1 998.2 L 2076.1 998.2 z" style="fill: #2ca02c; fill-opacity: 0.6; stroke: #2ca02c; stroke-opacity: 0.6; stroke-width: 1.1; stroke-linejoin: miter"/><path d="M 2075.3 1007.9 L 2084.3 1007.9 L 2084.3 998.9 L 2075.3 998.9 z" style="fill: #2ca02c; fill-opacity: 0.6; stroke: #2ca02c; stroke-opacity: 0.6; stroke-width: 1.1; stroke-linejoin: miter"/><path d="M 2074.3 1008.7 L 2083.3 1008.7 L 2083.3 999.7 L 2074.3 999.7 z" style="fill: #2ca02c; fill-opacity: 0.6; stroke: #2ca02c; stroke-opacity: 0.6; stroke-width: 1.1; stroke-linejoin: miter"/><path d="M 2073.2 1009.6 L 2082.2 1009.6 L 2082.2 1000.6 L 2073.2 1000.6 z" style="fill: #2ca02c; fill-opacity: 0.6; stroke: #2ca02c; stroke-opacity: 0.6; stroke-width: 1.1; stroke-linejoin: miter"/><path d="M 2072 1010.7 L 2081 1010.7 L 2081 1001.7 L 2072 1001.7 z" style="fill: #2ca02c; fill-opacity: 0.6; stroke: #2ca02c; stroke-opacity: 0.6; stroke-width: 1.1; stroke-linejoin: miter"/><path d="M 2070.5 1011.9 L 2079.5 1011.9 L 2079.5 1002.9 L 2070.5 1002.9 z" style="fill: #2ca02c; fill-opacity: 0.6; stroke: #2ca02c; stroke-opacity: 0.6; stroke-width: 1.1; stroke-linejoin: miter"/><path d="M 2068.9 1013.3 L 2077.9 1013.3 L 2077.9 1004.3 L 2068.9 1004.3 z" style="fill: #2ca02c; fill-opacity: 0.6; stroke: #2ca02c; stroke-opacity: 0.6; stroke-width: 1.1; stroke-linejoin: miter"/><path d="M 2067 1014.8 L 2076 1014.8 L 2076 1005.8 L 2067 1005.8 z" style="fill: #2ca02c; fill-opacity: 0.6; stroke: #2ca02c; stroke-opacity: 0.6; stroke-width: 1.1; stroke-linejoin: miter"/><path d="M 2064.9 1016.5 L 2073.9 1016.5 L 2073.9 1007.5 L 2064.9 1007.5 z" style="fill: #2ca02c; fill-opacity: 0.6; stroke: #2ca02c; stroke-opacity: 0.6; stroke-width: 1.1; stroke-linejoin: miter"/><path d="M 2062.5 1018.4 L 2071.5 1018.4 L 2071.5 1009.4 L 2062.5 1009.4 z" style="fill: #2ca02c; fill-opacity: 0.6; stroke: #2ca02c; stroke-opacity: 0.6; stroke-width: 1.1; stroke-linejoin: miter"/><path d="M 2059.9 1020.5 L 2068.9 1020.5 L 2068.9 1011.5 L 2059.9 1011.5 z" style="fill: #2ca02c; fill-opacity: 0.6; stroke: #2ca02c; stroke-opacity: 0.6; stroke-width: 1.1; stroke-linejoin: miter"/><path d="M 2057 1022.8 L 2066 1022.8 L 2066 1013.8 L 2057 1013.8 z" style="fill: #2ca02c; fill-opacity: 0.6; stroke: #2ca02c; stroke-opacity: 0.6; stroke-width: 1.1; stroke-linejoin: miter"/><path d="M 2053.8 1025.3 L 2062.8 1025.3 L 2062.8 1016.3 L 2053.8 1016.3 z" style="fill: #2ca02c; fill-opacity: 0.6; stroke: #2ca02c; stroke-opacity: 0.6; stroke-width: 1.1; stroke-linejoin: miter"/><path d="M 2050.3 1028.1 L 2059.3 1028.1 L 2059.3 1019.1 L 2050.3 1019.1 z" style="fill: #2ca02c; fill-opacity: 0.6; stroke: #2ca02c; stroke-opacity: 0.6; stroke-width: 1.1; stroke-linejoin: miter"/><path d="M 2046.5 1031.1 L 2055.5 1031.1 L 2055.5 1022.1 L 2046.5 1022.1 z" style="fill: #2ca02c; fill-opacity: 0.6; stroke: #2ca02c; stroke-opacity: 0.6; stroke-width: 1.1; stroke-linejoin: miter"/><path d="M 2042.4 1034.4 L 2051.4 1034.4 L 2051.4 1025.4 L 2042.4 1025.4 z" style="fill: #2ca02c; fill-opacity: 0.6; stroke: #2ca02c; stroke-opacity: 0.6; stroke-width: 1.1; stroke-linejoin: miter"/><path d="M 2037.9 1037.9 L 2046.9 1037.9 L 2046.9 1028.9 L 2037.9 1028.9 z" style="fill: #2ca02c; fill-opacity: 0.6; stroke: #2ca02c; stroke-opacity: 0.6; stroke-width: 1.1; stroke-linejoin: miter"/><path d="M 2033.2 1041.7 L 2042.2 1041.7 L 2042.2 1032.7 L 2033.2 1032.7 z" style="fill: #2ca02c; fill-opacity: 0.6; stroke: #2ca02c; stroke-opacity: 0.6; stroke-width: 1.1; stroke-linejoin: miter"/><path d="M 2028.1 1045.7 L 2037.1 1045.7 L 2037.1 1036.7 L 2028.1 1036.7 z" style="fill: #2ca02c; fill-opacity: 0.6; stroke: #2ca02c; stroke-opacity: 0.6; stroke-width: 1.1; stroke-linejoin: miter"/><path d="M 2022.7 1050 L 2031.7 1050 L 2031.7 1041 L 2022.7 1041 z" style="fill: #2ca02c; fill-opacity: 0.6; stroke: #2ca02c; stroke-opacity: 0.6; stroke-width: 1.1; stroke-linejoin: miter"/><path d="M 2017.1 1054.5 L 2026.1 1054.5 L 2026.1 1045.5 L 2017.1 1045.5 z" style="fill: #2ca02c; fill-opacity: 0.6; stroke: #2ca02c; stroke-opacity: 0.6; stroke-width: 1.1; stroke-linejoin: miter"/><path d="M 2011.1 1059.3 L 2020.1 1059.3 L 2020.1 1050.3 L 2011.1 1050.3 z" style="fill: #2ca02c; fill-opacity: 0.6; stroke: #2ca02c; stroke-opacity: 0.6; stroke-width: 1.1; stroke-linejoin: miter"/><path d="M 2005 1064.3 L 2014 1064.3 L 2014 1055.3 L 2005 1055.3 z" style="fill: #2ca02c; fill-opacity: 0.6; stroke: #2ca02c; stroke-opacity: 0.6; stroke-width: 1.1; stroke-linejoin: miter"/><path d="M 1998.6 1069.6 L 2007.6 1069.6 L 2007.6 1060.6 L 1998.6 1060.6 z" style="fill: #2ca02c; fill-opacity: 0.6; stroke: #2ca02c; stroke-opacity: 0.6; stroke-width: 1.1; stroke-linejoin: miter"/><path d="M 1991.9 1075 L 2000.9 1075 L 2000.9 1066 L 1991.9 1066 z" style="fill: #2ca02c; fill-opacity: 0.6; stroke: #2ca02c; stroke-opacity: 0.6; stroke-width: 1.1; stroke-linejoin: miter"/><path d="M 1985.2 1080.6 L 1994.2 1080.6 L 1994.2 1071.6 L 1985.2 1071.6 z" style="fill: #2ca02c; fill-opacity: 0.6; stroke: #2ca02c; stroke-opacity: 0.6; stroke-width: 1.1; stroke-linejoin: miter"/><path d="M 1978.3 1086.5 L 1987.3 1086.5 L 1987.3 1077.5 L 1978.3 1077.5 z" style="fill: #2ca02c; fill-opacity: 0.6; stroke: #2ca02c; stroke-opacity: 0.6; stroke-width: 1.1; stroke-linejoin: miter"/><path d="M 1971.3 1092.4 L 1980.3 1092.4 L 1980.3 1083.4 L 1971.3 1083.4 z" style="fill: #2ca02c; fill-opacity: 0.6; stroke: #2ca02c; stroke-opacity: 0.6; stroke-width: 1.1; stroke-linejoin: miter"/><path d="M 1964.2 1098.5 L 1973.2 1098.5 L 1973.2 1089.5 L 1964.2 1089.5 z" style="fill: #2ca02c; fill-opacity: 0.6; stroke: #2ca02c; stroke-opacity: 0.6; stroke-width: 1.1; stroke-linejoin: miter"/><path d="M 1957.2 1104.7 L 1966.2 1104.7 L 1966.2 1095.7 L 1957.2 1095.7 z" style="fill: #2ca02c; fill-opacity: 0.6; stroke: #2ca02c; stroke-opacity: 0.6; stroke-width: 1.1; stroke-linejoin: miter"/><path d="M 1950.1 1110.9 L 1959.1 1110.9 L 1959.1 1101.9 L 1950.1 1101.9 z" style="fill: #2ca02c; fill-opacity: 0.6; stroke: #2ca02c; stroke-opacity: 0.6; stroke-width: 1.1; stroke-linejoin: miter"/><path d="M 1943.1 1117.2 L 1952.1 1117.2 L 1952.1 1108.2 L 1943.1 1108.2 z" style="fill: #2ca02c; fill-opacity: 0.6; stroke: #2ca02c; stroke-opacity: 0.6; stroke-width: 1.1; stroke-linejoin: miter"/><path d="M 1936.2 1123.5 L 1945.2 1123.5 L 1945.2 1114.5 L 1936.2 1114.5 z" style="fill: #2ca02c; fill-opacity: 0.6; stroke: #2ca02c; stroke-opacity: 0.6; stroke-width: 1.1; stroke-linejoin: miter"/><path d="M 1929.5 1129.8 L 1938.5 1129.8 L 1938.5 1120.8 L 1929.5 1120.8 z" style="fill: #2ca02c; fill-opacity: 0.6; stroke: #2ca02c; stroke-opacity: 0.6; stroke-width: 1.1; stroke-linejoin: miter"/><path d="M 1922.8 1136 L 1931.8 1136 L 1931.8 1127 L 1922.8 1127 z" style="fill: #2ca02c; fill-opacity: 0.6; stroke: #2ca02c; stroke-opacity: 0.6; stroke-width: 1.1; stroke-linejoin: miter"/><path d="M 1916.4 1142.2 L 1925.4 1142.2 L 1925.4 1133.2 L 1916.4 1133.2 z" style="fill: #2ca02c; fill-opacity: 0.6; stroke: #2ca02c; stroke-opacity: 0.6; stroke-width: 1.1; stroke-linejoin: miter"/><path d="M 1910.3 1148.3 L 1919.3 1148.3 L 1919.3 1139.3 L 1910.3 1139.3 z" style="fill: #2ca02c; fill-opacity: 0.6; stroke: #2ca02c; stroke-opacity: 0.6; stroke-width: 1.1; stroke-linejoin: miter"/><path d="M 1904.3 1154.3 L 1913.3 1154.3 L 1913.3 1145.3 L 1904.3 1145.3 z" style="fill: #2ca02c; fill-opacity: 0.6; stroke: #2ca02c; stroke-opacity: 0.6; stroke-width: 1.1; stroke-linejoin: miter"/><path d="M 1898.7 1160.1 L 1907.7 1160.1 L 1907.7 1151.1 L 1898.7 1151.1 z" style="fill: #2ca02c; fill-opacity: 0.6; stroke: #2ca02c; stroke-opacity: 0.6; stroke-width: 1.1; stroke-linejoin: miter"/><path d="M 1893.3 1165.7 L 1902.3 1165.7 L 1902.3 1156.7 L 1893.3 1156.7 z" style="fill: #2ca02c; fill-opacity: 0.6; stroke: #2ca02c; stroke-opacity: 0.6; stroke-width: 1.1; stroke-linejoin: miter"/><path d="M 1888.2 1171.2 L 1897.2 1171.2 L 1897.2 1162.2 L 1888.2 1162.2 z" style="fill: #2ca02c; fill-opacity: 0.6; stroke: #2ca02c; stroke-opacity: 0.6; stroke-width: 1.1; stroke-linejoin: miter"/><path d="M 1883.5 1176.4 L 1892.5 1176.4 L 1892.5 1167.4 L 1883.5 1167.4 z" style="fill: #2ca02c; fill-opacity: 0.6; stroke: #2ca02c; stroke-opacity: 0.6; stroke-width: 1.1; stroke-linejoin: miter"/><path d="M 1879 1181.5 L 1888 1181.5 L 1888 1172.5 L 1879 1172.5 z" style="fill: #2ca02c; fill-opacity: 0.6; stroke: #2ca02c; stroke-opacity: 0.6; stroke-width: 1.1; stroke-linejoin: miter"/><path d="M 1874.9 1186.3 L 1883.9 1186.3 L 1883.9 1177.3 L 1874.9 1177.3 z" style="fill: #2ca02c; fill-opacity: 0.6; stroke: #2ca02c; stroke-opacity: 0.6; stroke-width: 1.1; stroke-linejoin: miter"/><path d="M 1871.1 1190.8 L 1880.1 1190.8 L 1880.1 1181.8 L 1871.1 1181.8 z" style="fill: #2ca02c; fill-opacity: 0.6; stroke: #2ca02c; stroke-opacity: 0.6; stroke-width: 1.1; stroke-linejoin: miter"/><path d="M 1867.6 1195.1 L 1876.6 1195.1 L 1876.6 1186.1 L 1867.6 1186.1 z" style="fill: #2ca02c; fill-opacity: 0.6; stroke: #2ca02c; stroke-opacity: 0.6; stroke-width: 1.1; stroke-linejoin: miter"/><path d="M 1864.4 1199.2 L 1873.4 1199.2 L 1873.4 1190.2 L 1864.4 1190.2 z" style="fill: #2ca02c; fill-opacity: 0.6; stroke: #2ca02c; stroke-opacity: 0.6; stroke-width: 1.1; stroke-linejoin: miter"/><path d="M 1861.5 1203 L 1870.5 1203 L 1870.5 1194 L 1861.5 1194 z" style="fill: #2ca02c; fill-opacity: 0.6; stroke: #2ca02c; stroke-opacity: 0.6; stroke-width: 1.1; stroke-linejoin: miter"/><path d="M 1858.9 1206.5 L 1867.9 1206.5 L 1867.9 1197.5 L 1858.9 1197.5 z" style="fill: #2ca02c; fill-opacity: 0.6; stroke: #2ca02c; stroke-opacity: 0.6; stroke-width: 1.1; stroke-linejoin: miter"/><path d="M 1856.5 1209.8 L 1865.5 1209.8 L 1865.5 1200.8 L 1856.5 1200.8 z" style="fill: #2ca02c; fill-opacity: 0.6; stroke: #2ca02c; stroke-opacity: 0.6; stroke-width: 1.1; stroke-linejoin: miter"/><path d="M 1854.4 1212.9 L 1863.4 1212.9 L 1863.4 1203.9 L 1854.4 1203.9 z" style="fill: #2ca02c; fill-opacity: 0.6; stroke: #2ca02c; stroke-opacity: 0.6; stroke-width: 1.1; stroke-linejoin: miter"/><path d="M 1852.5 1215.7 L 1861.5 1215.7 L 1861.5 1206.7 L 1852.5 1206.7 z" style="fill: #2ca02c; fill-opacity: 0.6; stroke: #2ca02c; stroke-opacity: 0.6; stroke-width: 1.1; stroke-linejoin: miter"/><path d="M 1850.9 1218.2 L 1859.9 1218.2 L 1859.9 1209.2 L 1850.9 1209.2 z" style="fill: #2ca02c; fill-opacity: 0.6; stroke: #2ca02c; stroke-opacity: 0.6; stroke-width: 1.1; stroke-linejoin: miter"/><path d="M 1849.4 1220.5 L 1858.4 1220.5 L 1858.4 1211.5 L 1849.4 1211.5 z" style="fill: #2ca02c; fill-opacity: 0.6; stroke: #2ca02c; stroke-opacity: 0.6; stroke-width: 1.1; stroke-linejoin: miter"/><path d="M 1848.2 1222.7 L 1857.2 1222.7 L 1857.2 1213.7 L 1848.2 1213.7 z" style="fill: #2ca02c; fill-opacity: 0.6; stroke: #2ca02c; stroke-opacity: 0.6; stroke-width: 1.1; stroke-linejoin: miter"/><path d="M 1847.1 1224.6 L 1856.1 1224.6 L 1856.1 1215.6 L 1847.1 1215.6 z" style="fill: #2ca02c; fill-opacity: 0.6; stroke: #2ca02c; stroke-opacity: 0.6; stroke-width: 1.1; stroke-linejoin: miter"/><path d="M 1846.1 1226.3 L 1855.1 1226.3 L 1855.1 1217.3 L 1846.1 1217.3 z" style="fill: #2ca02c; fill-opacity: 0.6; stroke: #2ca02c; stroke-opacity: 0.6; stroke-width: 1.1; stroke-linejoin: miter"/><path d="M 1845.3 1227.8 L 1854.3 1227.8 L 1854.3 1218.8 L 1845.3 1218.8 z" style="fill: #2ca02c; fill-opacity: 0.6; stroke: #2ca02c; stroke-opacity: 0.6; stroke-width: 1.1; stroke-linejoin: miter"/><path d="M 1844.6 1229.2 L 1853.6 1229.2 L 1853.6 1220.2 L 1844.6 1220.2 z" style="fill: #2ca02c; fill-opacity: 0.6; stroke: #2ca02c; stroke-opacity: 0.6; stroke-width: 1.1; stroke-linejoin: miter"/><path d="M 1844 1230.4 L 1853 1230.4 L 1853 1221.4 L 1844 1221.4 z" style="fill: #2ca02c; fill-opacity: 0.6; stroke: #2ca02c; stroke-opacity: 0.6; stroke-width: 1.1; stroke-linejoin: miter"/><path d="M 1843.5 1231.5 L 1852.5 1231.5 L 1852.5 1222.5 L 1843.5 1222.5 z" style="fill: #2ca02c; fill-opacity: 0.6; stroke: #2ca02c; stroke-opacity: 0.6; stroke-width: 1.1; stroke-linejoin: miter"/><path d="M 1843.1 1232.4 L 1852.1 1232.4 L 1852.1 1223.4 L 1843.1 1223.4 z" style="fill: #2ca02c; fill-opacity: 0.6; stroke: #2ca02c; stroke-opacity: 0.6; stroke-width: 1.1; stroke-linejoin: miter"/><path d="M 1842.7 1233.2 L 1851.7 1233.2 L 1851.7 1224.2 L 1842.7 1224.2 z" style="fill: #2ca02c; fill-opacity: 0.6; stroke: #2ca02c; stroke-opacity: 0.6; stroke-width: 1.1; stroke-linejoin: miter"/><path d="M 1842.4 1234 L 1851.4 1234 L 1851.4 1225 L 1842.4 1225 z" style="fill: #2ca02c; fill-opacity: 0.6; stroke: #2ca02c; stroke-opacity: 0.6; stroke-width: 1.1; stroke-linejoin: miter"/><path d="M 1842.2 1234.6 L 1851.2 1234.6 L 1851.2 1225.6 L 1842.2 1225.6 z" style="fill: #2ca02c; fill-opacity: 0.6; stroke: #2ca02c; stroke-opacity: 0.6; stroke-width: 1.1; stroke-linejoin: miter"/><path d="M 1842 1235.1 L 1851 1235.1 L 1851 1226.1 L 1842 1226.1 z" style="fill: #2ca02c; fill-opacity: 0.6; stroke: #2ca02c; stroke-opacity: 0.6; stroke-width: 1.1; stroke-linejoin: miter"/><path d="M 1841.8 1235.6 L 1850.8 1235.6 L 1850.8 1226.6 L 1841.8 1226.6 z" style="fill: #2ca02c; fill-opacity: 0.6; stroke: #2ca02c; stroke-opacity: 0.6; stroke-width: 1.1; stroke-linejoin: miter"/><path d="M 1841.7 1236 L 1850.7 1236 L 1850.7 1227 L 1841.7 1227 z" style="fill: #2ca02c; fill-opacity: 0.6; stroke: #2ca02c; stroke-opacity: 0.6; stroke-width: 1.1; stroke-linejoin: miter"/><path d="M 1841.6 1236.3 L 1850.6 1236.3 L 1850.6 1227.3 L 1841.6 1227.3 z" style="fill: #2ca02c; fill-opacity: 0.6; stroke: #2ca02c; stroke-opacity: 0.6; stroke-width: 1.1; stroke-linejoin: miter"/><path d="M 1841.5 1236.6 L 1850.5 1236.6 L 1850.5 1227.6 L 1841.5 1227.6 z" style="fill: #2ca02c; fill-opacity: 0.6; stroke: #2ca02c; stroke-opacity: 0.6; stroke-width: 1.1; stroke-linejoin: miter"/><path d="M 1841.4 1236.8 L 1850.4 1236.8 L 1850.4 1227.8 L 1841.4 1227.8 z" style="fill: #2ca02c; fill-opacity: 0.6; stroke: #2ca02c; stroke-opacity: 0.6; stroke-width: 1.1; stroke-linejoin: miter"/><path d="M 1841.3 1237 L 1850.3 1237 L 1850.3 1228 L 1841.3 1228 z" style="fill: #2ca02c; fill-opacity: 0.6; stroke: #2ca02c; stroke-opacity: 0.6; stroke-width: 1.1; stroke-linejoin: miter"/><path d="M 1841.3 1237.2 L 1850.3 1237.2 L 1850.3 1228.2 L 1841.3 1228.2 z" style="fill: #2ca02c; fill-opacity: 0.6; stroke: #2ca02c; stroke-opacity: 0.6; stroke-width: 1.1; stroke-linejoin: miter"/><path d="M 1841.3 1237.3 L 1850.3 1237.3 L 1850.3 1228.3 L 1841.3 1228.3 z" style="fill: #2ca02c; fill-opacity: 0.6; stroke: #2ca02c; stroke-opacity: 0.6; stroke-width: 1.1; stroke-linejoin: miter"/><path d="M 1841.2 1238 L 1850.2 1238 L 1850.2 1229 L 1841.2 1229 z" style="fill: #2ca02c; fill-opacity: 0.6; stroke: #2ca02c; stroke-opacity: 0.6; stroke-width: 1.1; stroke-linejoin: miter"/></g></g><g id="line2d_63"><path d="M 2084.7 998.7  L 2084.6 998.8  L 2084.6 998.9  L 2084.6 998.9  L 2084.5 998.9  L 2084.4 999  L 2084.3 999  L 2084.2 999.1  L 2084.1 999.2  L 2083.9 999.3  L 2083.7 999.4  L 2083.5 999.6  L 2083.2 999.7  L 2082.8 999.9  L 2082.4 1000.2  L 2081.9 1000.4  L 2081.3 1000.7  L 2080.6 1001.1  L 2079.8 1001.5  L 2078.8 1002  L 2077.7 1002.6  L 2076.5 1003.3  L 2075 1004  L 2073.4 1004.8  L 2071.5 1005.8  L 2069.4 1006.9  L 2067 1008.1  L 2064.4 1009.4  L 2061.5 1010.9  L 2058.3 1012.6  L 2054.8 1014.4  L 2051 1016.4  L 2046.9 1018.6  L 2042.4 1021  L 2037.7 1023.6  L 2032.6 1026.4  L 2027.2 1029.4  L 2021.6 1032.7  L 2015.6 1036.2  L 2009.5 1039.9  L 2003.1 1043.8  L 1996.4 1047.9  L 1989.7 1052.3  L 1982.8 1056.9  L 1975.8 1061.7  L 1968.7 1066.7  L 1961.7 1071.8  L 1954.6 1077.1  L 1947.6 1082.6  L 1940.7 1088.1  L 1934 1093.8  L 1927.3 1099.6  L 1920.9 1105.5  L 1914.8 1111.3  L 1908.8 1117.3  L 1903.2 1123.1  L 1897.8 1129  L 1892.7 1134.8  L 1888 1140.6  L 1883.5 1146.2  L 1879.4 1151.8  L 1875.6 1157.2  L 1872.1 1162.4  L 1868.9 1167.5  L 1866 1172.4  L 1863.4 1177.1  L 1861 1181.6  L 1858.9 1185.9  L 1857 1190  L 1855.4 1193.8  L 1853.9 1197.4  L 1852.7 1200.8  L 1851.6 1204  L 1850.6 1206.9  L 1849.8 1209.7  L 1849.1 1212.2  L 1848.5 1214.5  L 1848 1216.6  L 1847.6 1218.6  L 1847.2 1220.3  L 1846.9 1221.9  L 1846.7 1223.3  L 1846.5 1224.6  L 1846.3 1225.8  L 1846.2 1226.8  L 1846.1 1227.7  L 1846 1228.5  L 1845.9 1229.2  L 1845.8 1229.8  L 1845.8 1230.4  L 1845.8 1230.8  L 1845.7 1233.5  " clip-path="url(#p7d8ad5c169)" style="fill: none; stroke-dasharray: 8.5,3.7; stroke-dashoffset: 0; stroke: #d62728; stroke-opacity: 0.6; stroke-width: 2.3"/><g clip-path="url(#p7d8ad5c169)"><circle cx="2084.7" cy="998.7" r="4.5" style="fill: #d62728; fill-opacity: 0.6; stroke: #d62728; stroke-opacity: 0.6; stroke-width: 1.1"/><circle cx="2084.6" cy="998.8" r="4.5" style="fill: #d62728; fill-opacity: 0.6; stroke: #d62728; stroke-opacity: 0.6; stroke-width: 1.1"/><circle cx="2084.6" cy="998.9" r="4.5" style="fill: #d62728; fill-opacity: 0.6; stroke: #d62728; stroke-opacity: 0.6; stroke-width: 1.1"/><circle cx="2084.6" cy="998.9" r="4.5" style="fill: #d62728; fill-opacity: 0.6; stroke: #d62728; stroke-opacity: 0.6; stroke-width: 1.1"/><circle cx="2084.5" cy="998.9" r="4.5" style="fill: #d62728; fill-opacity: 0.6; stroke: #d62728; stroke-opacity: 0.6; stroke-width: 1.1"/><circle cx="2084.4" cy="999" r="4.5" style="fill: #d62728; fill-opacity: 0.6; stroke: #d62728; stroke-opacity: 0.6; stroke-width: 1.1"/><circle cx="2084.3" cy="999" r="4.5" style="fill: #d62728; fill-opacity: 0.6; stroke: #d62728; stroke-opacity: 0.6; stroke-width: 1.1"/><circle cx="2084.2" cy="999.1" r="4.5" style="fill: #d62728; fill-opacity: 0.6; stroke: #d62728; stroke-opacity: 0.6; stroke-width: 1.1"/><circle cx="2084.1" cy="999.2" r="4.5" style="fill: #d62728; fill-opacity: 0.6; stroke: #d62728; stroke-opacity: 0.6; stroke-width: 1.1"/><circle cx="2083.9" cy="999.3" r="4.5" style="fill: #d62728; fill-opacity: 0.6; stroke: #d62728; stroke-opacity: 0.6; stroke-width: 1.1"/><circle cx="2083.7" cy="999.4" r="4.5" style="fill: #d62728; fill-opacity: 0.6; stroke: #d62728; stroke-opacity: 0.6; stroke-width: 1.1"/><circle cx="2083.5" cy="999.6" r="4.5" style="fill: #d62728; fill-opacity: 0.6; stroke: #d62728; stroke-opacity: 0.6; stroke-width: 1.1"/><circle cx="2083.2" cy="999.7" r="4.5" style="fill: #d62728; fill-opacity: 0.6; stroke: #d62728; stroke-opacity: 0.6; stroke-width: 1.1"/><circle cx="2082.8" cy="999.9" r="4.5" style="fill: #d62728; fill-opacity: 0.6; stroke: #d62728; stroke-opacity: 0.6; stroke-width: 1.1"/><circle cx="2082.4" cy="1000.2" r="4.5" style="fill: #d62728; fill-opacity: 0.6; stroke: #d62728; stroke-opacity: 0.6; stroke-width: 1.1"/><circle cx="2081.9" cy="1000.4" r="4.5" style="fill: #d62728; fill-opacity: 0.6; stroke: #d62728; stroke-opacity: 0.6; stroke-width: 1.1"/><circle cx="2081.3" cy="1000.7" r="4.5" style="fill: #d62728; fill-opacity: 0.6; stroke: #d62728; stroke-opacity: 0.6; stroke-width: 1.1"/><circle cx="2080.6" cy="1001.1" r="4.5" style="fill: #d62728; fill-opacity: 0.6; stroke: #d62728; stroke-opacity: 0.6; stroke-width: 1.1"/><circle cx="2079.8" cy="1001.5" r="4.5" style="fill: #d62728; fill-opacity: 0.6; stroke: #d62728; stroke-opacity: 0.6; stroke-width: 1.1"/><circle cx="2078.8" cy="1002" r="4.5" style="fill: #d62728; fill-opacity: 0.6; stroke: #d62728; stroke-opacity: 0.6; stroke-width: 1.1"/><circle cx="2077.7" cy="1002.6" r="4.5" style="fill: #d62728; fill-opacity: 0.6; stroke: #d62728; stroke-opacity: 0.6; stroke-width: 1.1"/><circle cx="2076.5" cy="1003.3" r="4.5" style="fill: #d62728; fill-opacity: 0.6; stroke: #d62728; stroke-opacity: 0.6; stroke-width: 1.1"/><circle cx="2075" cy="1004" r="4.5" style="fill: #d62728; fill-opacity: 0.6; stroke: #d62728; stroke-opacity: 0.6; stroke-width: 1.1"/><circle cx="2073.4" cy="1004.8" r="4.5" style="fill: #d62728; fill-opacity: 0.6; stroke: #d62728; stroke-opacity: 0.6; stroke-width: 1.1"/><circle cx="2071.5" cy="1005.8" r="4.5" style="fill: #d62728; fill-opacity: 0.6; stroke: #d62728; stroke-opacity: 0.6; stroke-width: 1.1"/><circle cx="2069.4" cy="1006.9" r="4.5" style="fill: #d62728; fill-opacity: 0.6; stroke: #d62728; stroke-opacity: 0.6; stroke-width: 1.1"/><circle cx="2067" cy="1008.1" r="4.5" style="fill: #d62728; fill-opacity: 0.6; stroke: #d62728; stroke-opacity: 0.6; stroke-width: 1.1"/><circle cx="2064.4" cy="1009.4" r="4.5" style="fill: #d62728; fill-opacity: 0.6; stroke: #d62728; stroke-opacity: 0.6; stroke-width: 1.1"/><circle cx="2061.5" cy="1010.9" r="4.5" style="fill: #d62728; fill-opacity: 0.6; stroke: #d62728; stroke-opacity: 0.6; stroke-width: 1.1"/><circle cx="2058.3" cy="1012.6" r="4.5" style="fill: #d62728; fill-opacity: 0.6; stroke: #d62728; stroke-opacity: 0.6; stroke-width: 1.1"/><circle cx="2054.8" cy="1014.4" r="4.5" style="fill: #d62728; fill-opacity: 0.6; stroke: #d62728; stroke-opacity: 0.6; stroke-width: 1.1"/><circle cx="2051" cy="1016.4" r="4.5" style="fill: #d62728; fill-opacity: 0.6; stroke: #d62728; stroke-opacity: 0.6; stroke-width: 1.1"/><circle cx="2046.9" cy="1018.6" r="4.5" style="fill: #d62728; fill-opacity: 0.6; stroke: #d62728; stroke-opacity: 0.6; stroke-width: 1.1"/><circle cx="2042.4" cy="1021" r="4.5" style="fill: #d62728; fill-opacity: 0.6; stroke: #d62728; stroke-opacity: 0.6; stroke-width: 1.1"/><circle cx="2037.7" cy="1023.6" r="4.5" style="fill: #d62728; fill-opacity: 0.6; stroke: #d62728; stroke-opacity: 0.6; stroke-width: 1.1"/><circle cx="2032.6" cy="1026.4" r="4.5" style="fill: #d62728; fill-opacity: 0.6; stroke: #d62728; stroke-opacity: 0.6; stroke-width: 1.1"/><circle cx="2027.2" cy="1029.4" r="4.5" style="fill: #d62728; fill-opacity: 0.6; stroke: #d62728; stroke-opacity: 0.6; stroke-width: 1.1"/><circle cx="2021.6" cy="1032.7" r="4.5" style="fill: #d62728; fill-opacity: 0.6; stroke: #d62728; stroke-opacity: 0.6; stroke-width: 1.1"/><circle cx="2015.6" cy="1036.2" r="4.5" style="fill: #d62728; fill-opacity: 0.6; stroke: #d62728; stroke-opacity: 0.6; stroke-width: 1.1"/><circle cx="2009.5" cy="1039.9" r="4.5" style="fill: #d62728; fill-opacity: 0.6; stroke: #d62728; stroke-opacity: 0.6; stroke-width: 1.1"/><circle cx="2003.1" cy="1043.8" r="4.5" style="fill: #d62728; fill-opacity: 0.6; stroke: #d62728; stroke-opacity: 0.6; stroke-width: 1.1"/><circle cx="1996.4" cy="1047.9" r="4.5" style="fill: #d62728; fill-opacity: 0.6; stroke: #d62728; stroke-opacity: 0.6; stroke-width: 1.1"/><circle cx="1989.7" cy="1052.3" r="4.5" style="fill: #d62728; fill-opacity: 0.6; stroke: #d62728; stroke-opacity: 0.6; stroke-width: 1.1"/><circle cx="1982.8" cy="1056.9" r="4.5" style="fill: #d62728; fill-opacity: 0.6; stroke: #d62728; stroke-opacity: 0.6; stroke-width: 1.1"/><circle cx="1975.8" cy="1061.7" r="4.5" style="fill: #d62728; fill-opacity: 0.6; stroke: #d62728; stroke-opacity: 0.6; stroke-width: 1.1"/><circle cx="1968.7" cy="1066.7" r="4.5" style="fill: #d62728; fill-opacity: 0.6; stroke: #d62728; stroke-opacity: 0.6; stroke-width: 1.1"/><circle cx="1961.7" cy="1071.8" r="4.5" style="fill: #d62728; fill-opacity: 0.6; stroke: #d62728; stroke-opacity: 0.6; stroke-width: 1.1"/><circle cx="1954.6" cy="1077.1" r="4.5" style="fill: #d62728; fill-opacity: 0.6; stroke: #d62728; stroke-opacity: 0.6; stroke-width: 1.1"/><circle cx="1947.6" cy="1082.6" r="4.5" style="fill: #d62728; fill-opacity: 0.6; stroke: #d62728; stroke-opacity: 0.6; stroke-width: 1.1"/><circle cx="1940.7" cy="1088.1" r="4.5" style="fill: #d62728; fill-opacity: 0.6; stroke: #d62728; stroke-opacity: 0.6; stroke-width: 1.1"/><circle cx="1934" cy="1093.8" r="4.5" style="fill: #d62728; fill-opacity: 0.6; stroke: #d62728; stroke-opacity: 0.6; stroke-width: 1.1"/><circle cx="1927.3" cy="1099.6" r="4.5" style="fill: #d62728; fill-opacity: 0.6; stroke: #d62728; stroke-opacity: 0.6; stroke-width: 1.1"/><circle cx="1920.9" cy="1105.5" r="4.5" style="fill: #d62728; fill-opacity: 0.6; stroke: #d62728; stroke-opacity: 0.6; stroke-width: 1.1"/><circle cx="1914.8" cy="1111.3" r="4.5" style="fill: #d62728; fill-opacity: 0.6; stroke: #d62728; stroke-opacity: 0.6; stroke-width: 1.1"/><circle cx="1908.8" cy="1117.3" r="4.5" style="fill: #d62728; fill-opacity: 0.6; stroke: #d62728; stroke-opacity: 0.6; stroke-width: 1.1"/><circle cx="1903.2" cy="1123.1" r="4.5" style="fill: #d62728; fill-opacity: 0.6; stroke: #d62728; stroke-opacity: 0.6; stroke-width: 1.1"/><circle cx="1897.8" cy="1129" r="4.5" style="fill: #d62728; fill-opacity: 0.6; stroke: #d62728; stroke-opacity: 0.6; stroke-width: 1.1"/><circle cx="1892.7" cy="1134.8" r="4.5" style="fill: #d62728; fill-opacity: 0.6; stroke: #d62728; stroke-opacity: 0.6; stroke-width: 1.1"/><circle cx="1888" cy="1140.6" r="4.5" style="fill: #d62728; fill-opacity: 0.6; stroke: #d62728; stroke-opacity: 0.6; stroke-width: 1.1"/><circle cx="1883.5" cy="1146.2" r="4.5" style="fill: #d62728; fill-opacity: 0.6; stroke: #d62728; stroke-opacity: 0.6; stroke-width: 1.1"/><circle cx="1879.4" cy="1151.8" r="4.5" style="fill: #d62728; fill-opacity: 0.6; stroke: #d62728; stroke-opacity: 0.6; stroke-width: 1.1"/><circle cx="1875.6" cy="1157.2" r="4.5" style="fill: #d62728; fill-opacity: 0.6; stroke: #d62728; stroke-opacity: 0.6; stroke-width: 1.1"/><circle cx="1872.1" cy="1162.4" r="4.5" style="fill: #d62728; fill-opacity: 0.6; stroke: #d62728; stroke-opacity: 0.6; stroke-width: 1.1"/><circle cx="1868.9" cy="1167.5" r="4.5" style="fill: #d62728; fill-opacity: 0.6; stroke: #d62728; stroke-opacity: 0.6; stroke-width: 1.1"/><circle cx="1866" cy="1172.4" r="4.5" style="fill: #d62728; fill-opacity: 0.6; stroke: #d62728; stroke-opacity: 0.6; stroke-width: 1.1"/><circle cx="1863.4" cy="1177.1" r="4.5" style="fill: #d62728; fill-opacity: 0.6; stroke: #d62728; stroke-opacity: 0.6; stroke-width: 1.1"/><circle cx="1861" cy="1181.6" r="4.5" style="fill: #d62728; fill-opacity: 0.6; stroke: #d62728; stroke-opacity: 0.6; stroke-width: 1.1"/><circle cx="1858.9" cy="1185.9" r="4.5" style="fill: #d62728; fill-opacity: 0.6; stroke: #d62728; stroke-opacity: 0.6; stroke-width: 1.1"/><circle cx="1857" cy="1190" r="4.5" style="fill: #d62728; fill-opacity: 0.6; stroke: #d62728; stroke-opacity: 0.6; stroke-width: 1.1"/><circle cx="1855.4" cy="1193.8" r="4.5" style="fill: #d62728; fill-opacity: 0.6; stroke: #d62728; stroke-opacity: 0.6; stroke-width: 1.1"/><circle cx="1853.9" cy="1197.4" r="4.5" style="fill: #d62728; fill-opacity: 0.6; stroke: #d62728; stroke-opacity: 0.6; stroke-width: 1.1"/><circle cx="1852.7" cy="1200.8" r="4.5" style="fill: #d62728; fill-opacity: 0.6; stroke: #d62728; stroke-opacity: 0.6; stroke-width: 1.1"/><circle cx="1851.6" cy="1204" r="4.5" style="fill: #d62728; fill-opacity: 0.6; stroke: #d62728; stroke-opacity: 0.6; stroke-width: 1.1"/><circle cx="1850.6" cy="1206.9" r="4.5" style="fill: #d62728; fill-opacity: 0.6; stroke: #d62728; stroke-opacity: 0.6; stroke-width: 1.1"/><circle cx="1849.8" cy="1209.7" r="4.5" style="fill: #d62728; fill-opacity: 0.6; stroke: #d62728; stroke-opacity: 0.6; stroke-width: 1.1"/><circle cx="1849.1" cy="1212.2" r="4.5" style="fill: #d62728; fill-opacity: 0.6; stroke: #d62728; stroke-opacity: 0.6; stroke-width: 1.1"/><circle cx="1848.5" cy="1214.5" r="4.5" style="fill: #d62728; fill-opacity: 0.6; stroke: #d62728; stroke-opacity: 0.6; stroke-width: 1.1"/><circle cx="1848" cy="1216.6" r="4.5" style="fill: #d62728; fill-opacity: 0.6; stroke: #d62728; stroke-opacity: 0.6; stroke-width: 1.1"/><circle cx="1847.6" cy="1218.6" r="4.5" style="fill: #d62728; fill-opacity: 0.6; stroke: #d62728; stroke-opacity: 0.6; stroke-width: 1.1"/><circle cx="1847.2" cy="1220.3" r="4.5" style="fill: #d62728; fill-opacity: 0.6; stroke: #d62728; stroke-opacity: 0.6; stroke-width: 1.1"/><circle cx="1846.9" cy="1221.9" r="4.5" style="fill: #d62728; fill-opacity: 0.6; stroke: #d62728; stroke-opacity: 0.6; stroke-width: 1.1"/><circle cx="1846.7" cy="1223.3" r="4.5" style="fill: #d62728; fill-opacity: 0.6; stroke: #d62728; stroke-opacity: 0.6; stroke-width: 1.1"/><circle cx="1846.5" cy="1224.6" r="4.5" style="fill: #d62728; fill-opacity: 0.6; stroke: #d62728; stroke-opacity: 0.6; stroke-width: 1.1"/><circle cx="1846.3" cy="1225.8" r="4.5" style="fill: #d62728; fill-opacity: 0.6; stroke: #d62728; stroke-opacity: 0.6; stroke-width: 1.1"/><circle cx="1846.2" cy="1226.8" r="4.5" style="fill: #d62728; fill-opacity: 0.6; stroke: #d62728; stroke-opacity: 0.6; stroke-width: 1.1"/><circle cx="1846.1" cy="1227.7" r="4.5" style="fill: #d62728; fill-opacity: 0.6; stroke: #d62728; stroke-opacity: 0.6; stroke-width: 1.1"/><circle cx="1846" cy="1228.5" r="4.5" style="fill: #d62728; fill-opacity: 0.6; stroke: #d62728; stroke-opacity: 0.6; stroke-width: 1.1"/><circle cx="1845.9" cy="1229.2" r="4.5" style="fill: #d62728; fill-opacity: 0.6; stroke: #d62728; stroke-opacity: 0.6; stroke-width: 1.1"/><circle cx="1845.8" cy="1229.8" r="4.5" style="fill: #d62728; fill-opacity: 0.6; stroke: #d62728; stroke-opacity: 0.6; stroke-width: 1.1"/><circle cx="1845.8" cy="1230.4" r="4.5" style="fill: #d62728; fill-opacity: 0.6; stroke: #d62728; stroke-opacity: 0.6; stroke-width: 1.1"/><circle cx="1845.8" cy="1230.8" r="4.5" style="fill: #d62728; fill-opacity: 0.6; stroke: #d62728; stroke-opacity: 0.6; stroke-width: 1.1"/><circle cx="1845.7" cy="1233.5" r="4.5" style="fill: #d62728; fill-opacity: 0.6; stroke: #d62728; stroke-opacity: 0.6; stroke-width: 1.1"/></g></g><g id="line2d_64"><path d="M 2084.7 998.7  L 2084.6 998.8  L 2084.6 998.8  L 2084.6 998.8  L 2084.5 998.8  L 2084.4 998.8  L 2084.3 998.8  L 2084.2 998.8  L 2084.1 998.9  L 2083.9 998.9  L 2083.7 998.9  L 2083.5 999  L 2083.2 999  L 2082.8 999.1  L 2082.4 999.2  L 2081.9 999.2  L 2081.3 999.4  L 2080.6 999.5  L 2079.8 999.6  L 2078.8 999.8  L 2077.7 1000  L 2076.5 1000.3  L 2075 1000.6  L 2073.4 1000.9  L 2071.5 1001.3  L 2069.4 1001.8  L 2067 1002.3  L 2064.4 1002.9  L 2061.5 1003.6  L 2058.3 1004.4  L 2054.8 1005.2  L 2051 1006.2  L 2046.9 1007.3  L 2042.4 1008.6  L 2037.7 1010  L 2032.6 1011.5  L 2027.2 1013.2  L 2021.6 1015.1  L 2015.6 1017.1  L 2009.5 1019.3  L 2003.1 1021.8  L 1996.4 1024.4  L 1989.7 1027.2  L 1982.8 1030.3  L 1975.8 1033.6  L 1968.7 1037.1  L 1961.7 1040.8  L 1954.6 1044.7  L 1947.6 1048.9  L 1940.7 1053.2  L 1934 1057.8  L 1927.3 1062.5  L 1920.9 1067.5  L 1914.8 1072.6  L 1908.8 1077.9  L 1903.2 1083.3  L 1897.8 1088.8  L 1892.7 1094.4  L 1888 1100.1  L 1883.5 1105.9  L 1879.4 1111.7  L 1875.6 1117.6  L 1872.1 1123.4  L 1868.9 1129.2  L 1866 1134.9  L 1863.4 1140.6  L 1861 1146.2  L 1858.9 1151.7  L 1857 1157  L 1855.4 1162.2  L 1853.9 1167.2  L 1852.7 1172.1  L 1851.6 1176.7  L 1850.6 1181.2  L 1849.8 1185.4  L 1849.1 1189.5  L 1848.5 1193.3  L 1848 1196.9  L 1847.6 1200.3  L 1847.2 1203.5  L 1846.9 1206.4  L 1846.7 1209.1  L 1846.5 1211.7  L 1846.3 1214  L 1846.2 1216.1  L 1846.1 1218.1  L 1846 1219.9  L 1845.9 1221.5  L 1845.8 1222.9  L 1845.8 1224.3  L 1845.8 1225.4  L 1845.7 1233.5  " clip-path="url(#p7d8ad5c169)" style="fill: none; stroke-dasharray: 8.5,3.7; stroke-dashoffset: 0; stroke: #9467bd; stroke-opacity: 0.6; stroke-width: 2.3"/><g clip-path="url(#p7d8ad5c169)"><path d="M 2084.7 993.5 L 2079.5 1004 L 2090 1004 z" style="fill: #9467bd; fill-opacity: 0.6; stroke: #9467bd; stroke-opacity: 0.6; stroke-width: 1.1; stroke-linejoin: miter"/><path d="M 2084.6 993.5 L 2079.4 1004 L 2089.9 1004 z" style="fill: #9467bd; fill-opacity: 0.6; stroke: #9467bd; stroke-opacity: 0.6; stroke-width: 1.1; stroke-linejoin: miter"/><path d="M 2084.6 993.5 L 2079.3 1004 L 2089.8 1004 z" style="fill: #9467bd; fill-opacity: 0.6; stroke: #9467bd; stroke-opacity: 0.6; stroke-width: 1.1; stroke-linejoin: miter"/><path d="M 2084.6 993.5 L 2079.3 1004 L 2089.8 1004 z" style="fill: #9467bd; fill-opacity: 0.6; stroke: #9467bd; stroke-opacity: 0.6; stroke-width: 1.1; stroke-linejoin: miter"/><path d="M 2084.5 993.5 L 2079.2 1004 L 2089.7 1004 z" style="fill: #9467bd; fill-opacity: 0.6; stroke: #9467bd; stroke-opacity: 0.6; stroke-width: 1.1; stroke-linejoin: miter"/><path d="M 2084.4 993.5 L 2079.2 1004 L 2089.7 1004 z" style="fill: #9467bd; fill-opacity: 0.6; stroke: #9467bd; stroke-opacity: 0.6; stroke-width: 1.1; stroke-linejoin: miter"/><path d="M 2084.3 993.6 L 2079.1 1004.1 L 2089.6 1004.1 z" style="fill: #9467bd; fill-opacity: 0.6; stroke: #9467bd; stroke-opacity: 0.6; stroke-width: 1.1; stroke-linejoin: miter"/><path d="M 2084.2 993.6 L 2079 1004.1 L 2089.5 1004.1 z" style="fill: #9467bd; fill-opacity: 0.6; stroke: #9467bd; stroke-opacity: 0.6; stroke-width: 1.1; stroke-linejoin: miter"/><path d="M 2084.1 993.6 L 2078.8 1004.1 L 2089.3 1004.1 z" style="fill: #9467bd; fill-opacity: 0.6; stroke: #9467bd; stroke-opacity: 0.6; stroke-width: 1.1; stroke-linejoin: miter"/><path d="M 2083.9 993.6 L 2078.7 1004.1 L 2089.2 1004.1 z" style="fill: #9467bd; fill-opacity: 0.6; stroke: #9467bd; stroke-opacity: 0.6; stroke-width: 1.1; stroke-linejoin: miter"/><path d="M 2083.7 993.7 L 2078.5 1004.2 L 2089 1004.2 z" style="fill: #9467bd; fill-opacity: 0.6; stroke: #9467bd; stroke-opacity: 0.6; stroke-width: 1.1; stroke-linejoin: miter"/><path d="M 2083.5 993.7 L 2078.2 1004.2 L 2088.7 1004.2 z" style="fill: #9467bd; fill-opacity: 0.6; stroke: #9467bd; stroke-opacity: 0.6; stroke-width: 1.1; stroke-linejoin: miter"/><path d="M 2083.2 993.8 L 2077.9 1004.3 L 2088.4 1004.3 z" style="fill: #9467bd; fill-opacity: 0.6; stroke: #9467bd; stroke-opacity: 0.6; stroke-width: 1.1; stroke-linejoin: miter"/><path d="M 2082.8 993.8 L 2077.6 1004.3 L 2088.1 1004.3 z" style="fill: #9467bd; fill-opacity: 0.6; stroke: #9467bd; stroke-opacity: 0.6; stroke-width: 1.1; stroke-linejoin: miter"/><path d="M 2082.4 993.9 L 2077.2 1004.4 L 2087.7 1004.4 z" style="fill: #9467bd; fill-opacity: 0.6; stroke: #9467bd; stroke-opacity: 0.6; stroke-width: 1.1; stroke-linejoin: miter"/><path d="M 2081.9 994 L 2076.7 1004.5 L 2087.2 1004.5 z" style="fill: #9467bd; fill-opacity: 0.6; stroke: #9467bd; stroke-opacity: 0.6; stroke-width: 1.1; stroke-linejoin: miter"/><path d="M 2081.3 994.1 L 2076.1 1004.6 L 2086.6 1004.6 z" style="fill: #9467bd; fill-opacity: 0.6; stroke: #9467bd; stroke-opacity: 0.6; stroke-width: 1.1; stroke-linejoin: miter"/><path d="M 2080.6 994.2 L 2075.4 1004.7 L 2085.9 1004.7 z" style="fill: #9467bd; fill-opacity: 0.6; stroke: #9467bd; stroke-opacity: 0.6; stroke-width: 1.1; stroke-linejoin: miter"/><path d="M 2079.8 994.4 L 2074.5 1004.9 L 2085 1004.9 z" style="fill: #9467bd; fill-opacity: 0.6; stroke: #9467bd; stroke-opacity: 0.6; stroke-width: 1.1; stroke-linejoin: miter"/><path d="M 2078.8 994.6 L 2073.6 1005.1 L 2084.1 1005.1 z" style="fill: #9467bd; fill-opacity: 0.6; stroke: #9467bd; stroke-opacity: 0.6; stroke-width: 1.1; stroke-linejoin: miter"/><path d="M 2077.7 994.8 L 2072.5 1005.3 L 2083 1005.3 z" style="fill: #9467bd; fill-opacity: 0.6; stroke: #9467bd; stroke-opacity: 0.6; stroke-width: 1.1; stroke-linejoin: miter"/><path d="M 2076.5 995 L 2071.2 1005.5 L 2081.7 1005.5 z" style="fill: #9467bd; fill-opacity: 0.6; stroke: #9467bd; stroke-opacity: 0.6; stroke-width: 1.1; stroke-linejoin: miter"/><path d="M 2075 995.3 L 2069.8 1005.8 L 2080.3 1005.8 z" style="fill: #9467bd; fill-opacity: 0.6; stroke: #9467bd; stroke-opacity: 0.6; stroke-width: 1.1; stroke-linejoin: miter"/><path d="M 2073.4 995.7 L 2068.1 1006.2 L 2078.6 1006.2 z" style="fill: #9467bd; fill-opacity: 0.6; stroke: #9467bd; stroke-opacity: 0.6; stroke-width: 1.1; stroke-linejoin: miter"/><path d="M 2071.5 996.1 L 2066.2 1006.6 L 2076.7 1006.6 z" style="fill: #9467bd; fill-opacity: 0.6; stroke: #9467bd; stroke-opacity: 0.6; stroke-width: 1.1; stroke-linejoin: miter"/><path d="M 2069.4 996.5 L 2064.1 1007 L 2074.6 1007 z" style="fill: #9467bd; fill-opacity: 0.6; stroke: #9467bd; stroke-opacity: 0.6; stroke-width: 1.1; stroke-linejoin: miter"/><path d="M 2067 997.1 L 2061.8 1007.6 L 2072.3 1007.6 z" style="fill: #9467bd; fill-opacity: 0.6; stroke: #9467bd; stroke-opacity: 0.6; stroke-width: 1.1; stroke-linejoin: miter"/><path d="M 2064.4 997.7 L 2059.2 1008.2 L 2069.7 1008.2 z" style="fill: #9467bd; fill-opacity: 0.6; stroke: #9467bd; stroke-opacity: 0.6; stroke-width: 1.1; stroke-linejoin: miter"/><path d="M 2061.5 998.3 L 2056.3 1008.8 L 2066.8 1008.8 z" style="fill: #9467bd; fill-opacity: 0.6; stroke: #9467bd; stroke-opacity: 0.6; stroke-width: 1.1; stroke-linejoin: miter"/><path d="M 2058.3 999.1 L 2053.1 1009.6 L 2063.6 1009.6 z" style="fill: #9467bd; fill-opacity: 0.6; stroke: #9467bd; stroke-opacity: 0.6; stroke-width: 1.1; stroke-linejoin: miter"/><path d="M 2054.8 1000 L 2049.6 1010.5 L 2060.1 1010.5 z" style="fill: #9467bd; fill-opacity: 0.6; stroke: #9467bd; stroke-opacity: 0.6; stroke-width: 1.1; stroke-linejoin: miter"/><path d="M 2051 1001 L 2045.8 1011.5 L 2056.3 1011.5 z" style="fill: #9467bd; fill-opacity: 0.6; stroke: #9467bd; stroke-opacity: 0.6; stroke-width: 1.1; stroke-linejoin: miter"/><path d="M 2046.9 1002.1 L 2041.6 1012.6 L 2052.1 1012.6 z" style="fill: #9467bd; fill-opacity: 0.6; stroke: #9467bd; stroke-opacity: 0.6; stroke-width: 1.1; stroke-linejoin: miter"/><path d="M 2042.4 1003.3 L 2037.2 1013.8 L 2047.7 1013.8 z" style="fill: #9467bd; fill-opacity: 0.6; stroke: #9467bd; stroke-opacity: 0.6; stroke-width: 1.1; stroke-linejoin: miter"/><path d="M 2037.7 1004.7 L 2032.4 1015.2 L 2042.9 1015.2 z" style="fill: #9467bd; fill-opacity: 0.6; stroke: #9467bd; stroke-opacity: 0.6; stroke-width: 1.1; stroke-linejoin: miter"/><path d="M 2032.6 1006.2 L 2027.4 1016.7 L 2037.9 1016.7 z" style="fill: #9467bd; fill-opacity: 0.6; stroke: #9467bd; stroke-opacity: 0.6; stroke-width: 1.1; stroke-linejoin: miter"/><path d="M 2027.2 1007.9 L 2022 1018.4 L 2032.5 1018.4 z" style="fill: #9467bd; fill-opacity: 0.6; stroke: #9467bd; stroke-opacity: 0.6; stroke-width: 1.1; stroke-linejoin: miter"/><path d="M 2021.6 1009.8 L 2016.3 1020.3 L 2026.8 1020.3 z" style="fill: #9467bd; fill-opacity: 0.6; stroke: #9467bd; stroke-opacity: 0.6; stroke-width: 1.1; stroke-linejoin: miter"/><path d="M 2015.6 1011.8 L 2010.4 1022.3 L 2020.9 1022.3 z" style="fill: #9467bd; fill-opacity: 0.6; stroke: #9467bd; stroke-opacity: 0.6; stroke-width: 1.1; stroke-linejoin: miter"/><path d="M 2009.5 1014.1 L 2004.2 1024.6 L 2014.7 1024.6 z" style="fill: #9467bd; fill-opacity: 0.6; stroke: #9467bd; stroke-opacity: 0.6; stroke-width: 1.1; stroke-linejoin: miter"/><path d="M 2003.1 1016.5 L 1997.8 1027 L 2008.3 1027 z" style="fill: #9467bd; fill-opacity: 0.6; stroke: #9467bd; stroke-opacity: 0.6; stroke-width: 1.1; stroke-linejoin: miter"/><path d="M 1996.4 1019.1 L 1991.2 1029.6 L 2001.7 1029.6 z" style="fill: #9467bd; fill-opacity: 0.6; stroke: #9467bd; stroke-opacity: 0.6; stroke-width: 1.1; stroke-linejoin: miter"/><path d="M 1989.7 1022 L 1984.4 1032.5 L 1994.9 1032.5 z" style="fill: #9467bd; fill-opacity: 0.6; stroke: #9467bd; stroke-opacity: 0.6; stroke-width: 1.1; stroke-linejoin: miter"/><path d="M 1982.8 1025 L 1977.5 1035.5 L 1988 1035.5 z" style="fill: #9467bd; fill-opacity: 0.6; stroke: #9467bd; stroke-opacity: 0.6; stroke-width: 1.1; stroke-linejoin: miter"/><path d="M 1975.8 1028.3 L 1970.5 1038.8 L 1981 1038.8 z" style="fill: #9467bd; fill-opacity: 0.6; stroke: #9467bd; stroke-opacity: 0.6; stroke-width: 1.1; stroke-linejoin: miter"/><path d="M 1968.7 1031.8 L 1963.5 1042.3 L 1974 1042.3 z" style="fill: #9467bd; fill-opacity: 0.6; stroke: #9467bd; stroke-opacity: 0.6; stroke-width: 1.1; stroke-linejoin: miter"/><path d="M 1961.7 1035.5 L 1956.4 1046 L 1966.9 1046 z" style="fill: #9467bd; fill-opacity: 0.6; stroke: #9467bd; stroke-opacity: 0.6; stroke-width: 1.1; stroke-linejoin: miter"/><path d="M 1954.6 1039.5 L 1949.4 1050 L 1959.9 1050 z" style="fill: #9467bd; fill-opacity: 0.6; stroke: #9467bd; stroke-opacity: 0.6; stroke-width: 1.1; stroke-linejoin: miter"/><path d="M 1947.6 1043.6 L 1942.4 1054.1 L 1952.9 1054.1 z" style="fill: #9467bd; fill-opacity: 0.6; stroke: #9467bd; stroke-opacity: 0.6; stroke-width: 1.1; stroke-linejoin: miter"/><path d="M 1940.7 1048 L 1935.5 1058.5 L 1946 1058.5 z" style="fill: #9467bd; fill-opacity: 0.6; stroke: #9467bd; stroke-opacity: 0.6; stroke-width: 1.1; stroke-linejoin: miter"/><path d="M 1934 1052.5 L 1928.7 1063 L 1939.2 1063 z" style="fill: #9467bd; fill-opacity: 0.6; stroke: #9467bd; stroke-opacity: 0.6; stroke-width: 1.1; stroke-linejoin: miter"/><path d="M 1927.3 1057.3 L 1922.1 1067.8 L 1932.6 1067.8 z" style="fill: #9467bd; fill-opacity: 0.6; stroke: #9467bd; stroke-opacity: 0.6; stroke-width: 1.1; stroke-linejoin: miter"/><path d="M 1920.9 1062.2 L 1915.7 1072.7 L 1926.2 1072.7 z" style="fill: #9467bd; fill-opacity: 0.6; stroke: #9467bd; stroke-opacity: 0.6; stroke-width: 1.1; stroke-linejoin: miter"/><path d="M 1914.8 1067.3 L 1909.5 1077.8 L 1920 1077.8 z" style="fill: #9467bd; fill-opacity: 0.6; stroke: #9467bd; stroke-opacity: 0.6; stroke-width: 1.1; stroke-linejoin: miter"/><path d="M 1908.8 1072.6 L 1903.6 1083.1 L 1914.1 1083.1 z" style="fill: #9467bd; fill-opacity: 0.6; stroke: #9467bd; stroke-opacity: 0.6; stroke-width: 1.1; stroke-linejoin: miter"/><path d="M 1903.2 1078 L 1897.9 1088.5 L 1908.4 1088.5 z" style="fill: #9467bd; fill-opacity: 0.6; stroke: #9467bd; stroke-opacity: 0.6; stroke-width: 1.1; stroke-linejoin: miter"/><path d="M 1897.8 1083.5 L 1892.5 1094 L 1903 1094 z" style="fill: #9467bd; fill-opacity: 0.6; stroke: #9467bd; stroke-opacity: 0.6; stroke-width: 1.1; stroke-linejoin: miter"/><path d="M 1892.7 1089.2 L 1887.5 1099.7 L 1898 1099.7 z" style="fill: #9467bd; fill-opacity: 0.6; stroke: #9467bd; stroke-opacity: 0.6; stroke-width: 1.1; stroke-linejoin: miter"/><path d="M 1888 1094.9 L 1882.7 1105.4 L 1893.2 1105.4 z" style="fill: #9467bd; fill-opacity: 0.6; stroke: #9467bd; stroke-opacity: 0.6; stroke-width: 1.1; stroke-linejoin: miter"/><path d="M 1883.5 1100.7 L 1878.3 1111.2 L 1888.8 1111.2 z" style="fill: #9467bd; fill-opacity: 0.6; stroke: #9467bd; stroke-opacity: 0.6; stroke-width: 1.1; stroke-linejoin: miter"/><path d="M 1879.4 1106.5 L 1874.1 1117 L 1884.6 1117 z" style="fill: #9467bd; fill-opacity: 0.6; stroke: #9467bd; stroke-opacity: 0.6; stroke-width: 1.1; stroke-linejoin: miter"/><path d="M 1875.6 1112.3 L 1870.3 1122.8 L 1880.8 1122.8 z" style="fill: #9467bd; fill-opacity: 0.6; stroke: #9467bd; stroke-opacity: 0.6; stroke-width: 1.1; stroke-linejoin: miter"/><path d="M 1872.1 1118.1 L 1866.8 1128.6 L 1877.3 1128.6 z" style="fill: #9467bd; fill-opacity: 0.6; stroke: #9467bd; stroke-opacity: 0.6; stroke-width: 1.1; stroke-linejoin: miter"/><path d="M 1868.9 1123.9 L 1863.6 1134.4 L 1874.1 1134.4 z" style="fill: #9467bd; fill-opacity: 0.6; stroke: #9467bd; stroke-opacity: 0.6; stroke-width: 1.1; stroke-linejoin: miter"/><path d="M 1866 1129.7 L 1860.7 1140.2 L 1871.2 1140.2 z" style="fill: #9467bd; fill-opacity: 0.6; stroke: #9467bd; stroke-opacity: 0.6; stroke-width: 1.1; stroke-linejoin: miter"/><path d="M 1863.4 1135.4 L 1858.1 1145.9 L 1868.6 1145.9 z" style="fill: #9467bd; fill-opacity: 0.6; stroke: #9467bd; stroke-opacity: 0.6; stroke-width: 1.1; stroke-linejoin: miter"/><path d="M 1861 1140.9 L 1855.8 1151.4 L 1866.3 1151.4 z" style="fill: #9467bd; fill-opacity: 0.6; stroke: #9467bd; stroke-opacity: 0.6; stroke-width: 1.1; stroke-linejoin: miter"/><path d="M 1858.9 1146.4 L 1853.7 1156.9 L 1864.2 1156.9 z" style="fill: #9467bd; fill-opacity: 0.6; stroke: #9467bd; stroke-opacity: 0.6; stroke-width: 1.1; stroke-linejoin: miter"/><path d="M 1857 1151.7 L 1851.8 1162.2 L 1862.3 1162.2 z" style="fill: #9467bd; fill-opacity: 0.6; stroke: #9467bd; stroke-opacity: 0.6; stroke-width: 1.1; stroke-linejoin: miter"/><path d="M 1855.4 1156.9 L 1850.1 1167.4 L 1860.6 1167.4 z" style="fill: #9467bd; fill-opacity: 0.6; stroke: #9467bd; stroke-opacity: 0.6; stroke-width: 1.1; stroke-linejoin: miter"/><path d="M 1853.9 1162 L 1848.7 1172.5 L 1859.2 1172.5 z" style="fill: #9467bd; fill-opacity: 0.6; stroke: #9467bd; stroke-opacity: 0.6; stroke-width: 1.1; stroke-linejoin: miter"/><path d="M 1852.7 1166.8 L 1847.4 1177.3 L 1857.9 1177.3 z" style="fill: #9467bd; fill-opacity: 0.6; stroke: #9467bd; stroke-opacity: 0.6; stroke-width: 1.1; stroke-linejoin: miter"/><path d="M 1851.6 1171.5 L 1846.3 1182 L 1856.8 1182 z" style="fill: #9467bd; fill-opacity: 0.6; stroke: #9467bd; stroke-opacity: 0.6; stroke-width: 1.1; stroke-linejoin: miter"/><path d="M 1850.6 1175.9 L 1845.4 1186.4 L 1855.9 1186.4 z" style="fill: #9467bd; fill-opacity: 0.6; stroke: #9467bd; stroke-opacity: 0.6; stroke-width: 1.1; stroke-linejoin: miter"/><path d="M 1849.8 1180.2 L 1844.5 1190.7 L 1855 1190.7 z" style="fill: #9467bd; fill-opacity: 0.6; stroke: #9467bd; stroke-opacity: 0.6; stroke-width: 1.1; stroke-linejoin: miter"/><path d="M 1849.1 1184.2 L 1843.8 1194.7 L 1854.3 1194.7 z" style="fill: #9467bd; fill-opacity: 0.6; stroke: #9467bd; stroke-opacity: 0.6; stroke-width: 1.1; stroke-linejoin: miter"/><path d="M 1848.5 1188.1 L 1843.2 1198.6 L 1853.7 1198.6 z" style="fill: #9467bd; fill-opacity: 0.6; stroke: #9467bd; stroke-opacity: 0.6; stroke-width: 1.1; stroke-linejoin: miter"/><path d="M 1848 1191.7 L 1842.7 1202.2 L 1853.2 1202.2 z" style="fill: #9467bd; fill-opacity: 0.6; stroke: #9467bd; stroke-opacity: 0.6; stroke-width: 1.1; stroke-linejoin: miter"/><path d="M 1847.6 1195 L 1842.3 1205.5 L 1852.8 1205.5 z" style="fill: #9467bd; fill-opacity: 0.6; stroke: #9467bd; stroke-opacity: 0.6; stroke-width: 1.1; stroke-linejoin: miter"/><path d="M 1847.2 1198.2 L 1842 1208.7 L 1852.5 1208.7 z" style="fill: #9467bd; fill-opacity: 0.6; stroke: #9467bd; stroke-opacity: 0.6; stroke-width: 1.1; stroke-linejoin: miter"/><path d="M 1846.9 1201.2 L 1841.7 1211.7 L 1852.2 1211.7 z" style="fill: #9467bd; fill-opacity: 0.6; stroke: #9467bd; stroke-opacity: 0.6; stroke-width: 1.1; stroke-linejoin: miter"/><path d="M 1846.7 1203.9 L 1841.4 1214.4 L 1851.9 1214.4 z" style="fill: #9467bd; fill-opacity: 0.6; stroke: #9467bd; stroke-opacity: 0.6; stroke-width: 1.1; stroke-linejoin: miter"/><path d="M 1846.5 1206.4 L 1841.2 1216.9 L 1851.7 1216.9 z" style="fill: #9467bd; fill-opacity: 0.6; stroke: #9467bd; stroke-opacity: 0.6; stroke-width: 1.1; stroke-linejoin: miter"/><path d="M 1846.3 1208.8 L 1841.1 1219.3 L 1851.6 1219.3 z" style="fill: #9467bd; fill-opacity: 0.6; stroke: #9467bd; stroke-opacity: 0.6; stroke-width: 1.1; stroke-linejoin: miter"/><path d="M 1846.2 1210.9 L 1840.9 1221.4 L 1851.4 1221.4 z" style="fill: #9467bd; fill-opacity: 0.6; stroke: #9467bd; stroke-opacity: 0.6; stroke-width: 1.1; stroke-linejoin: miter"/><path d="M 1846.1 1212.9 L 1840.8 1223.4 L 1851.3 1223.4 z" style="fill: #9467bd; fill-opacity: 0.6; stroke: #9467bd; stroke-opacity: 0.6; stroke-width: 1.1; stroke-linejoin: miter"/><path d="M 1846 1214.6 L 1840.7 1225.1 L 1851.2 1225.1 z" style="fill: #9467bd; fill-opacity: 0.6; stroke: #9467bd; stroke-opacity: 0.6; stroke-width: 1.1; stroke-linejoin: miter"/><path d="M 1845.9 1216.2 L 1840.7 1226.7 L 1851.2 1226.7 z" style="fill: #9467bd; fill-opacity: 0.6; stroke: #9467bd; stroke-opacity: 0.6; stroke-width: 1.1; stroke-linejoin: miter"/><path d="M 1845.8 1217.7 L 1840.6 1228.2 L 1851.1 1228.2 z" style="fill: #9467bd; fill-opacity: 0.6; stroke: #9467bd; stroke-opacity: 0.6; stroke-width: 1.1; stroke-linejoin: miter"/><path d="M 1845.8 1219 L 1840.6 1229.5 L 1851.1 1229.5 z" style="fill: #9467bd; fill-opacity: 0.6; stroke: #9467bd; stroke-opacity: 0.6; stroke-width: 1.1; stroke-linejoin: miter"/><path d="M 1845.8 1220.2 L 1840.5 1230.7 L 1851 1230.7 z" style="fill: #9467bd; fill-opacity: 0.6; stroke: #9467bd; stroke-opacity: 0.6; stroke-width: 1.1; stroke-linejoin: miter"/><path d="M 1845.7 1228.2 L 1840.4 1238.7 L 1850.9 1238.7 z" style="fill: #9467bd; fill-opacity: 0.6; stroke: #9467bd; stroke-opacity: 0.6; stroke-width: 1.1; stroke-linejoin: miter"/></g></g></g><g id="patch_41"><path d="M 1638.2 268.1  L 1671.4 268.1  L 1671.4 249.9  L 1715.5 287.5  L 1671.4 325.5  L 1671.4 307.5  L 1638.2 307.5  z " style="fill: #225093"/></g><g id="patch_42"><path d="M 1638.2 680.6  L 1671.4 680.6  L 1671.4 662.4  L 1715.5 700  L 1671.4 738  L 1671.4 720  L 1638.2 720  z " style="fill: #225093"/></g><g id="patch_43"><path d="M 1638.2 1096.6  L 1671.4 1096.6  L 1671.4 1078.4  L 1715.5 1116  L 1671.4 1154  L 1671.4 1136  L 1638.2 1136  z " style="fill: #225093"/></g><g id="patch_44"><path d="M 1140.2 18  L 1189.2 18  L 1189.2 1.3  L 1140.2 1.3  z " style="fill: #a5c9e1"/></g><g id="patch_45"><path d="M 1140.2 53.5  L 1189.2 53.5  L 1189.2 36.8  L 1140.2 36.8  z " style="fill: #ffcc9f"/></g><g id="patch_46"><path d="M 1140.2 89  L 1189.2 89  L 1189.2 72.3  L 1140.2 72.3  z " style="fill: #abd9ab"/></g><g id="patch_47"><path d="M 1410 18  L 1459 18  L 1459 1.3  L 1410 1.3  z " style="fill: #efa9a9"/></g><g id="patch_48"><path d="M 1410 53.5  L 1459 53.5  L 1459 36.8  L 1410 36.8  z " style="fill: #d4c2e5"/></g><g id="patch_49"><path d="M 1410 89  L 1459 89  L 1459 72.3  L 1410 72.3  z " style="fill: #d1bbb7"/></g><g id="line2d_65"><path d="M 792.4 323.8  L 905.6 323.8  " style="fill: none; stroke-dasharray: 61.3,27.3; stroke-dashoffset: 0; stroke: #fb9e89; stroke-width: 15.6"/></g><g id="line2d_66"><path d="M 1749.5 10.8  L 1797 10.8  " style="fill: none; stroke-dasharray: 8.5,3.7; stroke-dashoffset: 0; stroke: #1f77b4; stroke-opacity: 0.6; stroke-width: 2.3"/></g><g id="line2d_67"><path d="M 1773.5 10.8  " style="fill: none; stroke: #1f77b4; stroke-opacity: 0.6; stroke-width: 1.5; stroke-linecap: square"/><g><circle cx="1773.5" cy="10.8" r="5" style="fill: #1f77b4; fill-opacity: 0.6; stroke: #1f77b4; stroke-opacity: 0.6; stroke-width: 1.2"/></g></g><g id="line2d_68"><path d="M 1749.5 45  L 1797 45  " style="fill: none; stroke-dasharray: 8.5,3.7; stroke-dashoffset: 0; stroke: #ff7f0e; stroke-opacity: 0.6; stroke-width: 2.3"/></g><g id="line2d_69"><path d="M 1773.5 45  " style="fill: none; stroke: #ff7f0e; stroke-opacity: 0.6; stroke-width: 1.5; stroke-linecap: square"/><g><circle cx="1773.5" cy="45" r="5" style="fill: #ff7f0e; fill-opacity: 0.6; stroke: #ff7f0e; stroke-opacity: 0.6; stroke-width: 1.2"/></g></g><g id="line2d_70"><path d="M 1749.5 79.2  L 1797 79.2  " style="fill: none; stroke-dasharray: 8.5,3.7; stroke-dashoffset: 0; stroke: #2ca02c; stroke-opacity: 0.6; stroke-width: 2.3"/></g><g id="line2d_71"><path d="M 1773.5 79.2  " style="fill: none; stroke: #2ca02c; stroke-opacity: 0.6; stroke-width: 1.5; stroke-linecap: square"/><g><path d="M 1768.5 84.2 L 1778.5 84.2 L 1778.5 74.2 L 1768.5 74.2 z" style="fill: #2ca02c; fill-opacity: 0.6; stroke: #2ca02c; stroke-opacity: 0.6; stroke-width: 1.2; stroke-linejoin: miter"/></g></g><g id="line2d_72"><path d="M 1974 27.6  L 2020.8 27.6  " style="fill: none; stroke-dasharray: 8.5,3.7; stroke-dashoffset: 0; stroke: #d62728; stroke-opacity: 0.6; stroke-width: 2.3"/></g><g id="line2d_73"><path d="M 1997.7 27.6  " style="fill: none; stroke: #d62728; stroke-opacity: 0.6; stroke-width: 1.5; stroke-linecap: square"/><g><circle cx="1997.7" cy="27.6" r="5" style="fill: #d62728; fill-opacity: 0.6; stroke: #d62728; stroke-opacity: 0.6; stroke-width: 1.2"/></g></g><g id="line2d_74"><path d="M 1974 62  L 2020.8 62  " style="fill: none; stroke-dasharray: 8.5,3.7; stroke-dashoffset: 0; stroke: #9467bd; stroke-opacity: 0.6; stroke-width: 2.3"/></g><g id="line2d_75"><path d="M 1997.7 62  " style="fill: none; stroke: #9467bd; stroke-opacity: 0.6; stroke-width: 1.5; stroke-linecap: square"/><g><path d="M 1997.7 57 L 1992.7 67 L 2002.7 67 z" style="fill: #9467bd; fill-opacity: 0.6; stroke: #9467bd; stroke-opacity: 0.6; stroke-width: 1.2; stroke-linejoin: miter"/></g></g><g id="text_66"><text style="font-size: 42.9px; font-family: 'DejaVu Sans', sans-serif; text-anchor: middle" x="260.9" y="825.8" transform="rotate(-0 260.9 825.8)">(I)</text></g><g id="text_67"><text style="font-size: 42.9px; font-family: 'DejaVu Sans', sans-serif; text-anchor: middle" x="384.8" y="437.7" transform="rotate(-0 384.8 437.7)">(II)</text></g><g id="text_68"><text style="font-size: 42.9px; font-family: 'DejaVu Sans', sans-serif; text-anchor: middle" x="662.8" y="694.5" transform="rotate(-0 662.8 694.5)">(III)</text></g><g id="text_69"><g transform="translate(951.5 340.3)"><text><tspan x="0" y="-0.2" style="font-style: oblique; font-size: 57px; font-family: 'DejaVu Sans', sans-serif">θ</tspan><tspan x="39.2" y="-22.1" style="font-size: 39.9px; font-family: 'DejaVu Sans', sans-serif">⋆</tspan></text></g></g><g id="text_70"><text style="font-size: 42.9px; font-family: 'DejaVu Sans', sans-serif; text-anchor: middle" x="1151.6" y="301.5" transform="rotate(-0 1151.6 301.5)">(I)</text></g><g id="text_71"><text style="font-size: 42.9px; font-family: 'DejaVu Sans', sans-serif; text-anchor: middle" x="1151.6" y="713.6" transform="rotate(-0 1151.6 713.6)">(II)</text></g><g id="text_72"><text style="font-size: 42.9px; font-family: 'DejaVu Sans', sans-serif; text-anchor: middle" x="1151.6" y="1129.5" transform="rotate(-0 1151.6 1129.5)">(III)</text></g><g id="text_73"><text style="font-size: 24.3px; font-family: 'DejaVu Sans', sans-serif; text-anchor: start" x="1208.8" y="18.6" transform="rotate(-0 1208.8 18.6)">TN</text></g><g id="text_74"><text style="font-size: 24.3px; font-family: 'DejaVu Sans', sans-serif; text-anchor: start" x="1208.8" y="54.1" transform="rotate(-0 1208.8 54.1)">TP pertCells=1</text></g><g id="text_75"><text style="font-size: 24.3px; font-family: 'DejaVu Sans', sans-serif; text-anchor: start" x="1208.8" y="89.6" transform="rotate(-0 1208.8 89.6)">TP pertCells=3</text></g><g id="text_76"><text style="font-size: 24.3px; font-family: 'DejaVu Sans', sans-serif; text-anchor: start" x="1477.8" y="18.6" transform="rotate(-0 1477.8 18.6)">TP pertCells=5</text></g><g id="text_77"><text style="font-size: 24.3px; font-family: 'DejaVu Sans', sans-serif; text-anchor: start" x="1477.8" y="54.1" transform="rotate(-0 1477.8 54.1)">TP pertCells=7</text></g><g id="text_78"><text style="font-size: 24.3px; font-family: 'DejaVu Sans', sans-serif; text-anchor: start" x="1477.8" y="89.6" transform="rotate(-0 1477.8 89.6)">TP pertCells=9</text></g><g id="text_79"><text style="font-size: 23.3px; font-family: 'DejaVu Sans', sans-serif; text-anchor: start" x="1815.3" y="19.3" transform="rotate(-0 1815.3 19.3)">perCells=1</text></g><g id="text_80"><text style="font-size: 23.3px; font-family: 'DejaVu Sans', sans-serif; text-anchor: start" x="1815.3" y="53.5" transform="rotate(-0 1815.3 53.5)">perCells=3</text></g><g id="text_81"><text style="font-size: 23.3px; font-family: 'DejaVu Sans', sans-serif; text-anchor: start" x="1815.3" y="87.7" transform="rotate(-0 1815.3 87.7)">perCells=5</text></g><g id="text_82"><text style="font-size: 23.3px; font-family: 'DejaVu Sans', sans-serif; text-anchor: start" x="2039.5" y="36.1" transform="rotate(-0 2039.5 36.1)">perCells=7</text></g><g id="text_83"><text style="font-size: 23.3px; font-family: 'DejaVu Sans', sans-serif; text-anchor: start" x="2039.5" y="70.5" transform="rotate(-0 2039.5 70.5)">perCells=9</text></g></g><defs><clipPath id="p37e4193a76"><rect x="137.8" y="250.5" width="932.2" height="725"/></clipPath><clipPath id="pd0149c3144"><rect x="1313.8" y="158.4" width="264.6" height="258"/></clipPath><clipPath id="p14b5fbfbce"><rect x="1313.8" y="571.3" width="264.6" height="257.8"/></clipPath><clipPath id="p393ffa5552"><rect x="1313.8" y="987" width="264.6" height="258.2"/></clipPath><clipPath id="pe194de15ee"><rect x="1833.7" y="158.4" width="263" height="258"/></clipPath><clipPath id="p5f0794fb83"><rect x="1833.7" y="571.3" width="263" height="257.8"/></clipPath><clipPath id="p7d8ad5c169"><rect x="1833.7" y="987" width="263" height="258.2"/></clipPath></defs></svg></body></html>
